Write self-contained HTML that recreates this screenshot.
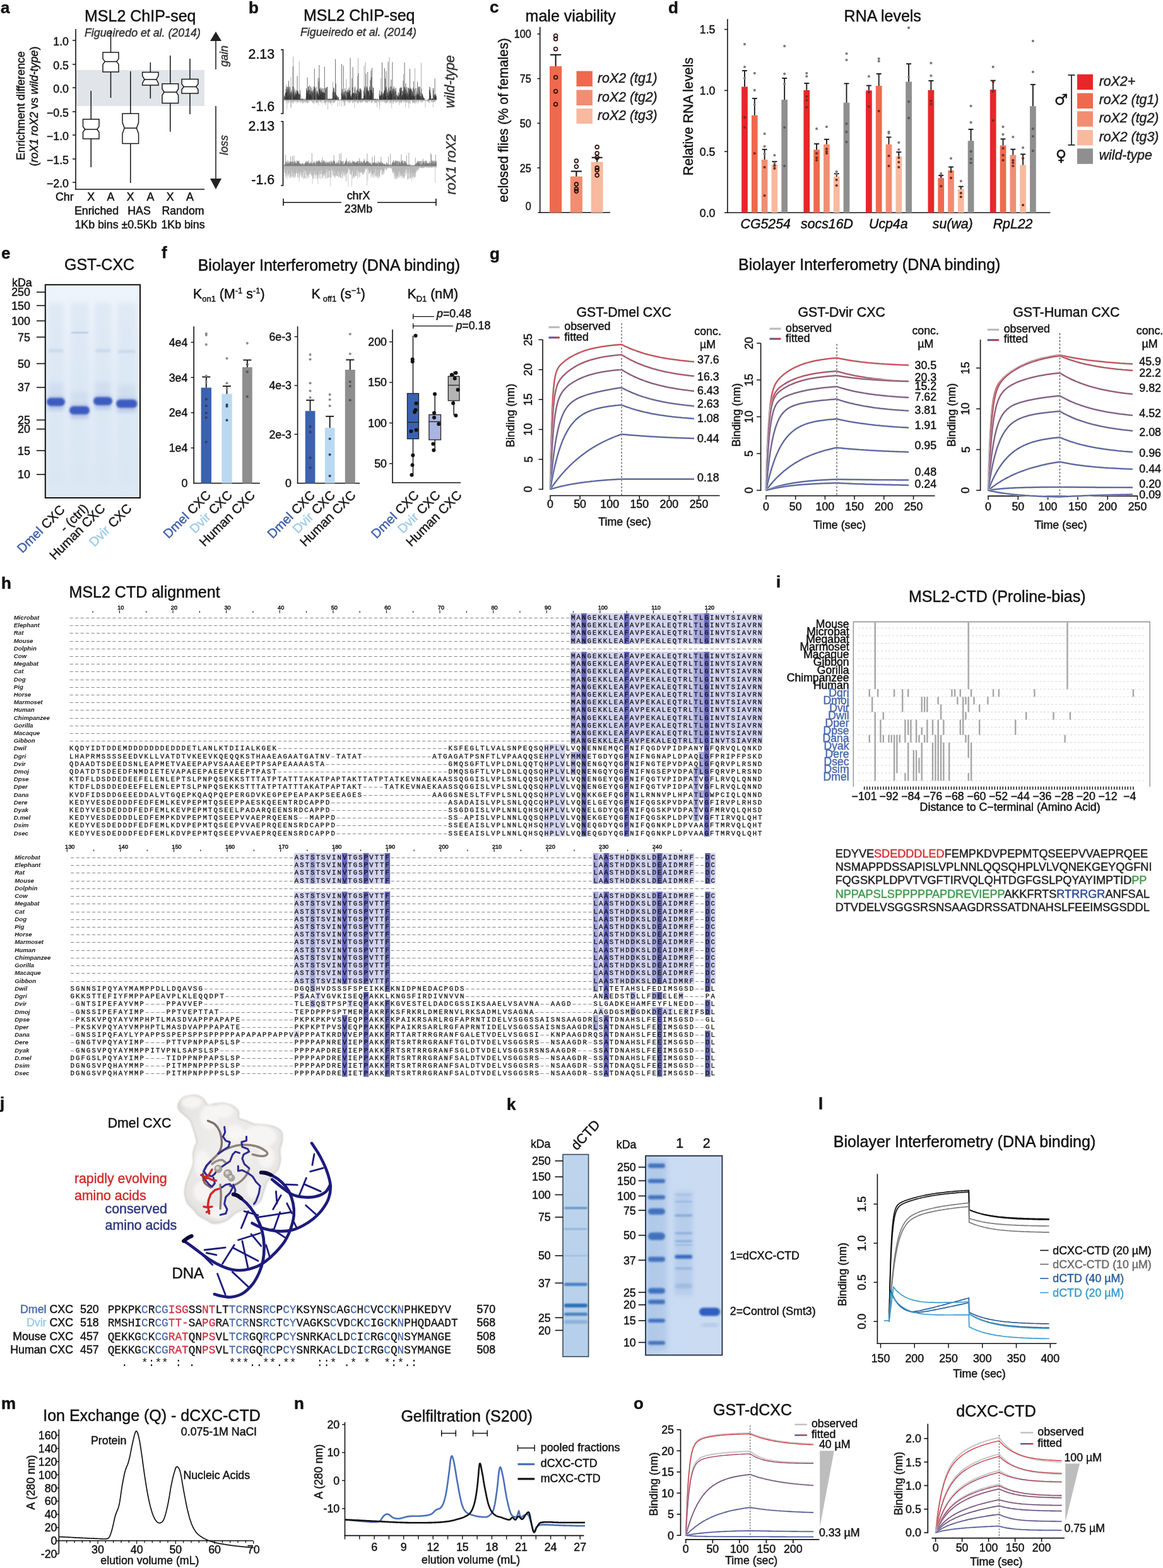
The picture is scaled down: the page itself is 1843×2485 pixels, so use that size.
<!DOCTYPE html>
<html><head><meta charset="utf-8"><title>MSL2 figure</title>
<style>html,body{margin:0;padding:0;background:#fff;}svg{display:block;}</style>
</head><body>
<svg width="1843" height="2485" viewBox="0 0 1843 2485" fill="#1a1a1a" font-family="'Liberation Sans', Arial, Helvetica, sans-serif">
<rect width="1843" height="2485" fill="#fff"/>
<text x="1" y="21" font-size="26" font-weight="bold" fill="#111" stroke="#111" stroke-width="0.45">a</text>
<text x="134" y="34" font-size="25" fill="#111" stroke="#111" stroke-width="0.45">MSL2 ChIP-seq</text>
<text x="134" y="58" font-size="17.8" font-style="italic" fill="#333" stroke="#333" stroke-width="0.45">Figueiredo et al. (2014)</text>
<rect x="121" y="111" width="203" height="57" fill="#e1e4e8" />
<line x1="120" y1="46" x2="120" y2="300.7" stroke="#111" stroke-width="1.6" />
<line x1="119.2" y1="300" x2="324" y2="300" stroke="#111" stroke-width="1.6" />
<line x1="115" y1="64" x2="120" y2="64" stroke="#111" stroke-width="1.5" />
<text x="109" y="71.6" font-size="17.8" text-anchor="end" fill="#111" stroke="#111" stroke-width="0.45">1.0</text>
<line x1="115" y1="102" x2="120" y2="102" stroke="#111" stroke-width="1.5" />
<text x="109" y="109.6" font-size="17.8" text-anchor="end" fill="#111" stroke="#111" stroke-width="0.45">0.5</text>
<line x1="115" y1="139" x2="120" y2="139" stroke="#111" stroke-width="1.5" />
<text x="109" y="146.6" font-size="17.8" text-anchor="end" fill="#111" stroke="#111" stroke-width="0.45">0.0</text>
<line x1="115" y1="177" x2="120" y2="177" stroke="#111" stroke-width="1.5" />
<text x="109" y="184.6" font-size="17.8" text-anchor="end" fill="#111" stroke="#111" stroke-width="0.45">−0.5</text>
<line x1="115" y1="214" x2="120" y2="214" stroke="#111" stroke-width="1.5" />
<text x="109" y="221.6" font-size="17.8" text-anchor="end" fill="#111" stroke="#111" stroke-width="0.45">−1.0</text>
<line x1="115" y1="252" x2="120" y2="252" stroke="#111" stroke-width="1.5" />
<text x="109" y="259.6" font-size="17.8" text-anchor="end" fill="#111" stroke="#111" stroke-width="0.45">−1.5</text>
<line x1="115" y1="289" x2="120" y2="289" stroke="#111" stroke-width="1.5" />
<text x="109" y="296.6" font-size="17.8" text-anchor="end" fill="#111" stroke="#111" stroke-width="0.45">−2.0</text>
<line x1="144.25" y1="144" x2="144.25" y2="189" stroke="#111" stroke-width="1.5" />
<line x1="144.25" y1="220" x2="144.25" y2="265" stroke="#111" stroke-width="1.5" />
<path d="M131.5,189 L157,189 L157,200.5 L153.8,205 L157,209.5 L157,220 L131.5,220 L131.5,209.5 L134.7,205 L131.5,200.5 Z" fill="#fff" stroke="#1a1a1a" stroke-width="1.5" />
<line x1="134.7" y1="205" x2="153.8" y2="205" stroke="#111" stroke-width="1.5" />
<line x1="175.5" y1="48" x2="175.5" y2="83" stroke="#111" stroke-width="1.5" />
<line x1="175.5" y1="114" x2="175.5" y2="155" stroke="#111" stroke-width="1.5" />
<path d="M163,83 L188,83 L188,93.1 L184.8,97.6 L188,102.1 L188,114 L163,114 L163,102.1 L166.2,97.6 L163,93.1 Z" fill="#fff" stroke="#1a1a1a" stroke-width="1.5" />
<line x1="166.2" y1="97.6" x2="184.8" y2="97.6" stroke="#111" stroke-width="1.5" />
<line x1="206.8" y1="113" x2="206.8" y2="180" stroke="#111" stroke-width="1.5" />
<line x1="206.8" y1="227.6" x2="206.8" y2="290" stroke="#111" stroke-width="1.5" />
<path d="M194,180 L219.6,180 L219.6,194 L216.4,203 L219.6,212 L219.6,227.6 L194,227.6 L194,212 L197.2,203 L194,194 Z" fill="#fff" stroke="#1a1a1a" stroke-width="1.5" />
<line x1="197.2" y1="203" x2="216.4" y2="203" stroke="#111" stroke-width="1.5" />
<line x1="238.35" y1="99" x2="238.35" y2="114.5" stroke="#111" stroke-width="1.5" />
<line x1="238.35" y1="135" x2="238.35" y2="156" stroke="#111" stroke-width="1.5" />
<path d="M225.7,114.5 L251,114.5 L251,120 L247.8,126 L251,132 L251,135 L225.7,135 L225.7,132 L228.9,126 L225.7,120 Z" fill="#fff" stroke="#1a1a1a" stroke-width="1.5" />
<line x1="228.9" y1="126" x2="247.8" y2="126" stroke="#111" stroke-width="1.5" />
<line x1="269.8" y1="88" x2="269.8" y2="132.7" stroke="#111" stroke-width="1.5" />
<line x1="269.8" y1="163.4" x2="269.8" y2="208.7" stroke="#111" stroke-width="1.5" />
<path d="M257,132.7 L282.6,132.7 L282.6,141 L279.4,146 L282.6,151 L282.6,163.4 L257,163.4 L257,151 L260.2,146 L257,141 Z" fill="#fff" stroke="#1a1a1a" stroke-width="1.5" />
<line x1="260.2" y1="146" x2="279.4" y2="146" stroke="#111" stroke-width="1.5" />
<line x1="301" y1="93" x2="301" y2="125.4" stroke="#111" stroke-width="1.5" />
<line x1="301" y1="148" x2="301" y2="181" stroke="#111" stroke-width="1.5" />
<path d="M288,125.4 L314,125.4 L314,133 L310.8,137.5 L314,142 L314,148 L288,148 L288,142 L291.2,137.5 L288,133 Z" fill="#fff" stroke="#1a1a1a" stroke-width="1.5" />
<line x1="291.2" y1="137.5" x2="310.8" y2="137.5" stroke="#111" stroke-width="1.5" />
<text x="88" y="318" font-size="17.8" fill="#111" stroke="#111" stroke-width="0.45">Chr</text>
<text x="144.25" y="318" font-size="17.8" text-anchor="middle" fill="#111" stroke="#111" stroke-width="0.45">X</text>
<text x="175.5" y="318" font-size="17.8" text-anchor="middle" fill="#111" stroke="#111" stroke-width="0.45">A</text>
<text x="206.8" y="318" font-size="17.8" text-anchor="middle" fill="#111" stroke="#111" stroke-width="0.45">X</text>
<text x="238.35" y="318" font-size="17.8" text-anchor="middle" fill="#111" stroke="#111" stroke-width="0.45">A</text>
<text x="269.8" y="318" font-size="17.8" text-anchor="middle" fill="#111" stroke="#111" stroke-width="0.45">X</text>
<text x="301" y="318" font-size="17.8" text-anchor="middle" fill="#111" stroke="#111" stroke-width="0.45">A</text>
<text x="153" y="340" font-size="17.8" text-anchor="middle" fill="#111" stroke="#111" stroke-width="0.45">Enriched</text>
<text x="220.5" y="340" font-size="17.8" text-anchor="middle" fill="#111" stroke="#111" stroke-width="0.45">HAS</text>
<text x="290" y="340" font-size="17.8" text-anchor="middle" fill="#111" stroke="#111" stroke-width="0.45">Random</text>
<text x="153" y="362" font-size="17.8" text-anchor="middle" fill="#111" stroke="#111" stroke-width="0.45">1Kb bins</text>
<text x="220.5" y="362" font-size="17.8" text-anchor="middle" fill="#111" stroke="#111" stroke-width="0.45">±0.5Kb</text>
<text x="290" y="362" font-size="17.8" text-anchor="middle" fill="#111" stroke="#111" stroke-width="0.45">1Kb bins</text>
<text x="38.5" y="167.5" font-size="17.8" text-anchor="middle" fill="#111" stroke="#111" stroke-width="0.45" transform="rotate(-90 38.5 167.5)">Enrichment difference</text>
<text x="60" y="168.5" font-size="17.8" text-anchor="middle" fill="#111" stroke="#111" stroke-width="0.45" transform="rotate(-90 60 168.5)">(<tspan font-style="italic">roX1 roX2</tspan> vs <tspan font-style="italic">wild-type</tspan>)</text>
<line x1="342" y1="63" x2="342" y2="110" stroke="#222" stroke-width="1.6" />
<path d="M342,50 L351,65 L333,65 Z" fill="#222" stroke="none" stroke-width="0" />
<line x1="342" y1="168" x2="342" y2="285" stroke="#222" stroke-width="1.6" />
<path d="M342,300 L351,283 L333,283 Z" fill="#222" stroke="none" stroke-width="0" />
<text x="361" y="89" font-size="17.8" text-anchor="middle" font-style="italic" fill="#333" stroke="#333" stroke-width="0.45" transform="rotate(-90 361 89)">gain</text>
<text x="361" y="230" font-size="17.8" text-anchor="middle" font-style="italic" fill="#333" stroke="#333" stroke-width="0.45" transform="rotate(-90 361 230)">loss</text>
<text x="394" y="20.6" font-size="26" font-weight="bold" fill="#111" stroke="#111" stroke-width="0.45">b</text>
<text x="481" y="32.7" font-size="25" fill="#111" stroke="#111" stroke-width="0.45">MSL2 ChIP-seq</text>
<text x="476" y="57" font-size="17.8" font-style="italic" fill="#333" stroke="#333" stroke-width="0.45">Figueiredo et al. (2014)</text>
<path d="M445,78.7 H448.5 V180 H445" fill="none" stroke="#111" stroke-width="1.6" />
<text x="435" y="93" font-size="21.3" text-anchor="end" fill="#111" stroke="#111" stroke-width="0.45">2.13</text>
<text x="435" y="176" font-size="21.3" text-anchor="end" fill="#111" stroke="#111" stroke-width="0.45">-1.6</text>
<path d="M445,192.5 H448.5 V294 H445" fill="none" stroke="#111" stroke-width="1.6" />
<text x="435" y="207" font-size="21.3" text-anchor="end" fill="#111" stroke="#111" stroke-width="0.45">2.13</text>
<text x="435" y="292" font-size="21.3" text-anchor="end" fill="#111" stroke="#111" stroke-width="0.45">-1.6</text>
<path d="M451.5,158.6v-5.6m0.4,5.6v-4.5m1.6,4.5v-24m1.6,24v-15.3m1.6,15.3v-20.9m1.6,20.9v-13.8m0.4,13.8v-21.6m1.6,21.6v-6.7m0.8,6.7v-36.5m1.2,36.5v-13.4m0.4,13.4v-10.1m0.4,10.1v-8.3m0.4,8.3v-11.7m1.2,11.7v-69m1.6,69v-15.4m2,15.4v-5.9m1.6,5.9v-10m2,10v-12.5m0.8,12.5v-7.7m1.2,7.7v-10.8m0.4,10.8v-61.2m1.2,61.2v-9.3m0.8,9.3v-1.9m1.6,1.9v-1.8m1.6,1.8v-1.8m0.4,1.8v-1.3m0.8,1.3v-0.8m0.8,0.8v-0.9m1.2,0.9v-1.7m0.4,1.7v-1.5m0.4,1.5v-1.2m0.4,1.2v-0.8m1.2,0.8v-6.3m3.2,6.3v-21.5m0.8,21.5v-21.7m2.8,21.7v-16.6m2,16.6v-14.9m0.8,14.9v-14.6m0.8,14.6v-20.2m0.8,20.2v-11.4m0.4,11.4v-15.2m1.2,15.2v-6.1m1.2,6.1v-7.6m1.2,7.6v-20.3m0.4,20.3v-10.4m0.4,10.4v-11.1m0.4,11.1v-21.3m2,21.3v-35m6.4,35v-19.3m3.2,19.3v-11.5m2,11.5v-19.2m0.4,19.2v-16.3m0.4,16.3v-17.4m0.8,17.4v-18.1m0.4,18.1v-19m0.4,19v-20.4m0.4,20.4v-20.4m0.4,20.4v-21.2m6,21.2v-1.6m0.4,1.6v-1.2m2,1.2v-2m0.8,2v-29.1m0.4,29.1v-7.2m1.6,7.2v-13.1m0.4,13.1v-17.1m0.8,17.1v-6.1m2,6.1v-3.4m1.6,3.4v-2.8m0.4,2.8v-6.2m0.4,6.2v-2.1m1.2,2.1v-2.4m0.8,2.4v-0.3m2.4,0.3v-0.7m1.2,0.7v-0.9m1.2,0.9v-13.5m1.2,13.5v-10.1m0.8,10.1v-8.8m1.6,8.8v-12m0.8,12v-6.4m2,6.4v-14.1m0.4,14.1v-32.9m0.4,32.9v-11.3m0.8,11.3v-4.6m1.2,4.6v-17.2m2.4,17.2v-14.3m2.4,14.3v-9.2m3.6,9.2v-10.8m1.2,10.8v-10.9m0.4,10.9v-12.1m1.2,12.1v-17.7m0.4,17.7v-12.8m0.8,12.8v-21.4m2,21.4v-5.8m0.8,5.8v-38.2m0.4,38.2v-6.3m0.8,6.3v-66.3m4,66.3v-9.6m1.2,9.6v-12.1m0.8,12.1v-1.9m0.4,1.9v-0.9m3.2,0.9v-54.3m2,54.3v-60.4m0.4,60.4v-12.4m1.2,12.4v-7.8m0.8,7.8v-16.6m2,16.6v-15.7m2,15.7v-19.2m4.4,19.2v-11.4m0.8,11.4v-21.5m0.4,21.5v-5.7m3.2,5.7v-2.2m0.8,2.2v-2.6m1.6,2.6v-1.8m0.8,1.8v-2.3m6,2.3v-34.5m1.6,34.5v-9.1m0.8,9.1v-5.4m0.8,5.4v-7.6m1.2,7.6v-4.9m4.8,4.9v-17.2m0.4,17.2v-7m0.4,7v-13.9m1.2,13.9v-16.3m1.2,16.3v-13.3m1.2,13.3v-68m5.2,68v-17.6m0.4,17.6v-15.3m0.8,15.3v-17.4m1.2,17.4v-15.5m0.8,15.5v-5.8m2,5.8v-13.4m0.4,13.4v-18.8m0.4,18.8v-4.6m0.4,4.6v-8.3m1.2,8.3v-11m0.8,11v-3.7m2,3.7v-8.4m0.8,8.4v-16.8m0.8,16.8v-21m1.6,21v-19.3m1.2,19.3v-7.4m2.4,7.4v-41.1m5.2,41.1v-14.5m1.6,14.5v-15.5m1.2,15.5v-8.2m2.4,8.2v-16.8m2.8,16.8v-15.6m1.6,15.6v-12m2.8,12v-14.6m0.4,14.6v-50.6m0.8,50.6v-9.8m0.4,9.8v-19.2m0.4,19.2v-8.4m0.4,8.4v-19m1.2,19v-14.5m1.2,14.5v-18.6m2.8,18.6v-20.7m1.2,20.7v-6.2m0.8,6.2v-12m0.8,12v-58.9m0.8,58.9v-5.7m0.8,5.7v-8.2m2.8,8.2v-3.5m0.4,3.5v-3m4.8,3v-0.4m0.8,0.4v-0.5m0.4,0.5v-1m2,1v-21.7m2.8,21.7v-2m2,2v-2.6m2,2.6v-18.8m0.4,18.8v-6.3m0.4,6.3v-7.6m3.2,7.6v-5.4" fill="none" stroke="#777" stroke-width="0.6" />
<path d="M450.3,158.6v-6.1m0.4,6.1v-5.5m0.4,5.5v-9.1m1.2,9.1v-11.9m0.4,11.9v-11m0.4,11v-17.6m0.8,17.6v-12.5m0.4,12.5v-20.4m0.4,20.4v-13.4m0.8,13.4v-21.4m0.4,21.4v-16.8m0.4,16.8v-7m0.8,7v-20.1m0.4,20.1v-30.7m0.4,30.7v-16m1.2,16v-10.4m0.4,10.4v-20.3m0.4,20.3v-8.6m0.8,8.6v-13m0.8,13v-12.1m0.4,12.1v-16.2m2,16.2v-21.2m0.4,21.2v-53.4m0.8,53.4v-21.2m0.4,21.2v-12.9m0.4,12.9v-8.4m0.8,8.4v-5.8m0.4,5.8v-18m0.4,18v-8.4m0.4,8.4v-11.1m0.8,11.1v-14.3m0.4,14.3v-11.2m0.4,11.2v-8.8m0.8,8.8v-16.2m0.4,16.2v-14.9m0.4,14.9v-38.2m0.4,38.2v-13.9m0.8,13.9v-14m0.8,14v-10.7m0.4,10.7v-9.5m1.2,9.5v-8.4m0.4,8.4v-9.4m0.8,9.4v-15.8m0.8,15.8v-1.9m0.4,1.9v-1.4m0.4,1.4v-0.9m0.8,0.9v-2.6m0.4,2.6v-0.9m0.4,0.9v-2.3m1.2,2.3v-2.2m0.8,2.2v-0.8m0.8,0.8v-2m0.4,2v-0.8m2,0.8v-0.8m0.4,0.8v-2.4m0.8,2.4v-18.7m0.4,18.7v-11m0.4,11v-16.2m0.4,16.2v-14.4m0.4,14.4v-36m0.4,36v-10.8m0.4,10.8v-14.2m0.8,14.2v-20.6m0.8,20.6v-16.1m0.4,16.1v-8.1m0.4,8.1v-23.2m0.4,23.2v-15.9m0.4,15.9v-8.5m0.4,8.5v-10.3m0.8,10.3v-21.8m0.4,21.8v-13.6m0.4,13.6v-19.4m0.4,19.4v-7.6m0.8,7.6v-12.3m0.8,12.3v-14.8m0.8,14.8v-11.7m1.2,11.7v-16.9m0.4,16.9v-21.4m0.8,21.4v-49.8m0.4,49.8v-21m0.8,21v-18.4m0.4,18.4v-13.9m2,13.9v-9.4m0.4,9.4v-14.8m0.4,14.8v-12.4m0.4,12.4v-13.3m0.8,13.3v-10.8m0.4,10.8v-7.1m0.4,7.1v-8.9m0.4,8.9v-29.7m0.4,29.7v-35.2m0.4,35.2v-55.7m0.4,55.7v-6.2m0.4,6.2v-16.7m0.4,16.7v-18.7m0.4,18.7v-16.7m0.4,16.7v-20.2m0.4,20.2v-9.2m0.4,9.2v-13.3m0.4,13.3v-14.5m0.4,14.5v-16.7m0.8,16.7v-11.9m0.4,11.9v-18.6m0.4,18.6v-11.8m0.4,11.8v-12.5m0.4,12.5v-6.3m0.4,6.3v-13.9m0.4,13.9v-18.7m0.8,18.7v-11.3m0.4,11.3v-11.8m0.4,11.8v-53m0.4,53v-11.2m1.6,11.2v-19.3m2.4,19.3v-20.8m0.4,20.8v-1.2m0.4,1.2v-1.9m0.4,1.9v-1.2m0.4,1.2v-1.7m0.4,1.7v-1.4m0.4,1.4v-2.3m0.4,2.3v-1.2m0.4,1.2v-1.2m0.4,1.2v-2.4m0.4,2.4v-0.8m0.4,0.8v-1.8m0.4,1.8v-1.2m0.4,1.2v-2.1m1.2,2.1v-1.9m0.4,1.9v-1.7m0.4,1.7v-2.5m0.4,2.5v-2.2m0.8,2.2v-12.5m1.2,12.5v-15.3m0.4,15.3v-19.9m0.4,19.9v-19.2m1.2,19.2v-12m0.8,12v-12.6m0.4,12.6v-64.9m0.4,64.9v-8.6m0.4,8.6v-26.4m0.8,26.4v-6.5m0.4,6.5v-8m0.4,8v-7.1m1.6,7.1v-5m0.4,5v-5.2m0.8,5.2v-4.1m0.8,4.1v-0.2m0.4,0.2v-0.4m0.4,0.4v-0.7m0.4,0.7v-0.6m0.4,0.6v-0.5m0.8,0.5v-0.7m0.4,0.7v-1.1m0.8,1.1v-10.4m0.4,10.4v-57.1m0.8,57.1v-12.7m0.4,12.7v-17.7m0.8,17.7v-6.2m0.8,6.2v-54.6m0.4,54.6v-10.7m0.4,10.7v-13.6m0.8,13.6v-8.5m0.8,8.5v-18.5m0.4,18.5v-6.7m0.4,6.7v-14.6m0.4,14.6v-4.2m1.6,4.2v-13.3m0.8,13.3v-12.8m0.4,12.8v-16.2m0.8,16.2v-11.7m0.4,11.7v-7.8m0.4,7.8v-13.1m0.4,13.1v-16.1m0.4,16.1v-20m0.8,20v-13.9m0.4,13.9v-9.8m0.4,9.8v-15.8m0.4,15.8v-67m0.4,67v-6.1m0.8,6.1v-6.4m0.4,6.4v-3.8m0.4,3.8v-3m0.4,3v-8.6m0.4,8.6v-34.4m0.4,34.4v-11.3m0.4,11.3v-20.1m0.4,20.1v-52.2m0.8,52.2v-10.5m0.4,10.5v-11.5m1.2,11.5v-9.7m0.4,9.7v-20.5m1.2,20.5v-11.5m0.8,11.5v-6.7m0.4,6.7v-9.9m0.4,9.9v-10.7m0.4,10.7v-15.6m0.8,15.6v-15.7m1.2,15.7v-18.2m0.8,18.2v-42.4m0.4,42.4v-14.4m0.4,14.4v-8.1m0.4,8.1v-13m0.4,13v-11.7m0.4,11.7v-17.7m0.4,17.7v-13.6m0.4,13.6v-19m0.4,19v-15.3m0.8,15.3v-18m0.4,18v-16.4m0.8,16.4v-2.5m1.2,2.5v-2.1m0.4,2.1v-2.6m0.4,2.6v-2.6m0.4,2.6v-2.2m0.4,2.2v-1.1m0.4,1.1v-14.8m0.4,14.8v-6.7m0.8,6.7v-18.8m0.4,18.8v-21.8m0.4,21.8v-11.3m0.4,11.3v-6.8m1.2,6.8v-41.6m0.4,41.6v-19.3m0.8,19.3v-21.5m0.8,21.5v-14.2m0.4,14.2v-19.7m0.4,19.7v-44.6m0.4,44.6v-15m0.8,15v-13.4m0.4,13.4v-15.2m0.4,15.2v-12.4m0.4,12.4v-6.7m0.8,6.7v-21.8m0.4,21.8v-7.7m0.4,7.7v-31.8m0.4,31.8v-16.8m0.4,16.8v-15.6m0.4,15.6v-46.9m0.4,46.9v-36.3m0.4,36.3v-15m0.4,15v-15.6m0.4,15.6v-51.1m0.8,51.1v-11.6m1.2,11.6v-18.6m0.4,18.6v-19.7m0.4,19.7v-1.5m0.4,1.5v-1.4m0.4,1.4v-1.5m0.4,1.5v-1.3m0.4,1.3v-1.2m0.8,1.2v-2.2m0.8,2.2v-1.6m0.4,1.6v-0.8m0.4,0.8v-0.8m0.8,0.8v-1.1m0.8,1.1v-1.8m0.4,1.8v-0.8m0.4,0.8v-1.9m0.4,1.9v-1m0.4,1v-0.7m0.4,0.7v-0.5m0.4,0.5v-0.8m0.4,0.8v-0.6m0.4,0.6v-9.9m0.4,9.9v-15.4m0.4,15.4v-7m0.4,7v-5.8m0.4,5.8v-7.4m0.4,7.4v-7.2m0.8,7.2v-10.2m0.4,10.2v-8.1m0.4,8.1v-13.6m0.8,13.6v-59.6m0.8,59.6v-10.5m0.8,10.5v-7.7m0.4,7.7v-11.7m0.8,11.7v-10m0.4,10v-14.7m0.4,14.7v-15.1m0.4,15.1v-50.5m0.4,50.5v-11.5m0.4,11.5v-16.4m0.4,16.4v-34.2m0.4,34.2v-19.8m0.4,19.8v-6.1m0.4,6.1v-46m0.4,46v-20.8m1.6,20.8v-10.3m0.4,10.3v-11.5m0.8,11.5v-60.7m0.4,60.7v-7.2m0.8,7.2v-19.8m0.4,19.8v-11.3m0.8,11.3v-14.5m0.4,14.5v-8.4m0.4,8.4v-16.4m0.4,16.4v-21.9m0.4,21.9v-13.6m0.4,13.6v-14.2m0.4,14.2v-32.5m0.4,32.5v-21.4m0.4,21.4v-9.6m0.4,9.6v-10.4m0.4,10.4v-15.1m0.4,15.1v-60.3m1.2,60.3v-18.7m0.8,18.7v-12m0.4,12v-21.6m0.8,21.6v-17.6m0.8,17.6v-13.2m0.4,13.2v-6.3m0.4,6.3v-19.3m0.4,19.3v-15m2,15v-8.1m0.4,8.1v-6.9m0.8,6.9v-6.2m0.8,6.2v-5.8m0.4,5.8v-11.8m0.4,11.8v-5.8m0.4,5.8v-8.2m0.8,8.2v-18.6m0.8,18.6v-11.2m0.8,11.2v-19.3m0.4,19.3v-15.3m0.4,15.3v-19.4m0.8,19.4v-20.2m0.4,20.2v-6m0.8,6v-14.6m0.4,14.6v-8.1m0.4,8.1v-8.4m0.4,8.4v-14.1m0.4,14.1v-30.6m0.8,30.6v-15.7m0.4,15.7v-12m0.4,12v-20.4m0.4,20.4v-59.4m0.4,59.4v-21m0.4,21v-9.2m0.4,9.2v-17.9m0.4,17.9v-9.8m0.4,9.8v-26.4m0.4,26.4v-16m0.4,16v-5.8m0.4,5.8v-20.5m0.8,20.5v-9.7m0.4,9.7v-11.5m0.4,11.5v-6.1m0.8,6.1v-19.7m0.4,19.7v-19.6m0.8,19.6v-9.1m0.4,9.1v-18.4m0.4,18.4v-13.5m0.4,13.5v-17.4m0.4,17.4v-49.6m0.8,49.6v-19.7m0.4,19.7v-16.7m0.4,16.7v-10.3m0.4,10.3v-17.3m0.4,17.3v-18m0.4,18v-6.7m0.8,6.7v-15m0.4,15v-12.7m0.4,12.7v-7.6m0.8,7.6v-19.6m0.4,19.6v-8.9m0.4,8.9v-29.8m0.4,29.8v-6.7m0.4,6.7v-5.9m0.4,5.9v-17.6m1.2,17.6v-6.3m2,6.3v-9.1m0.4,9.1v-7.1m0.8,7.1v-11.5m0.4,11.5v-29m0.8,29v-9.2m0.4,9.2v-8.6m0.4,8.6v-20.1m0.4,20.1v-21.7m0.4,21.7v-10.6m0.4,10.6v-5.8m0.8,5.8v-14.7m0.4,14.7v-21.2m0.8,21.2v-6.7m0.8,6.7v-5.3m0.8,5.3v-17.8m0.8,17.8v-10.7m0.8,10.7v-9.5m0.4,9.5v-7.9m0.4,7.9v-6.2m0.4,6.2v-2.6m0.4,2.6v-2.6m0.4,2.6v-4.2m1.2,4.2v-2.9m0.4,2.9v-0.2m0.4,0.2v-0.4m0.4,0.4v-0.5m0.4,0.5v-0.3m0.4,0.3v-0.2m0.4,0.2v-0.3m0.4,0.3v-0.2m0.4,0.2v-0.5m0.4,0.5v-0.3m0.4,0.3v-0.5m0.8,0.5v-0.5m1.2,0.5v-1.3m0.4,1.3v-0.6m0.4,0.6v-2m0.4,2v-1.5m0.8,1.5v-15.8m0.4,15.8v-16.7m0.4,16.7v-20.4m0.4,20.4v-6.2m0.4,6.2v-11.8m0.4,11.8v-8.1m0.8,8.1v-0.9m0.4,0.9v-1.6m0.4,1.6v-2.5m0.4,2.5v-2.6m0.8,2.6v-2.3m0.4,2.3v-1.8m0.4,1.8v-19.1m0.4,19.1v-15.5m1.6,15.5v-8.3m0.4,8.3v-8.7m0.4,8.7v-34m0.4,34v-6.3m0.4,6.3v-9.5m0.4,9.5v-5.8m0.4,5.8v-9.5m0.8,9.5v-6" fill="none" stroke="#111" stroke-width="0.6" />
<path d="M450.3,158.6v2.4m0.4,-2.4v0.2m0.4,-0.2v0.7m0.4,-0.7v0.8m0.4,-0.8v0.4m0.4,-0.4v0.4m0.4,-0.4v0.4m0.4,-0.4v0.4m0.4,-0.4v4.9m0.4,-4.9v0.9m0.4,-0.9v1.6m0.4,-1.6v14.9m0.4,-14.9v1.8m0.4,-1.8v0.4m0.4,-0.4v1.5m0.4,-1.5v5.5m0.4,-5.5v1.7m0.4,-1.7v1.9m0.4,-1.9v0.4m0.4,-0.4v4.4m0.4,-4.4v0.1m0.4,-0.1v1.8m0.4,-1.8v0.2m0.4,-0.2v1.5m0.4,-1.5v0.3m0.4,-0.3v4.5m0.4,-4.5v12.5m0.4,-12.5v0.8m0.4,-0.8v11.7m0.4,-11.7v1.2m0.4,-1.2v2.3m0.4,-2.3v0.3m0.4,-0.3v4.9m0.4,-4.9v4.1m0.4,-4.1v1m0.4,-1v4m0.4,-4v1.4m0.4,-1.4v1.3m0.4,-1.3v5.4m0.4,-5.4v0.2m0.4,-0.2v0.7m0.4,-0.7v2.5m0.4,-2.5v1.5m0.4,-1.5v1.2m0.4,-1.2v3.6m0.4,-3.6v0.2m0.4,-0.2v0.6m0.4,-0.6v2.5m0.4,-2.5v1.1m0.8,-1.1v4.8m0.4,-4.8v1.5m0.4,-1.5v2m0.4,-2v3.5m0.4,-3.5v0.6m0.4,-0.6v1m0.4,-1v3.9m0.4,-3.9v0.2m0.4,-0.2v0.1m0.4,-0.1v3m0.4,-3v2.8m0.4,-2.8v1.2m0.4,-1.2v0.3m0.4,-0.3v1.2m0.4,-1.2v0.7m0.4,-0.7v5.4m0.4,-5.4v2.9m0.4,-2.9v0.4m0.4,-0.4v2.8m0.4,-2.8v1.2m0.4,-1.2v0.6m0.4,-0.6v2.8m0.4,-2.8v3.2m0.4,-3.2v5.6m0.4,-5.6v1m0.4,-1v5.1m0.4,-5.1v0.7m0.4,-0.7v4.7m0.4,-4.7v1.1m0.4,-1.1v1.1m0.4,-1.1v3.3m0.4,-3.3v2m0.4,-2v1.2m0.4,-1.2v0.3m0.4,-0.3v4.6m0.4,-4.6v2.5m0.4,-2.5v2.9m0.4,-2.9v4.1m0.4,-4.1v1.7m0.4,-1.7v1.3m0.4,-1.3v1.7m0.4,-1.7v4.7m0.4,-4.7v3.2m0.4,-3.2v2m0.4,-2v5.1m0.4,-5.1v1.5m0.4,-1.5v4.5m0.4,-4.5v1.2m0.4,-1.2v0.8m0.4,-0.8v0.9m0.4,-0.9v3.1m0.4,-3.1v0.4m0.4,-0.4v0.1m0.4,-0.1v1m0.4,-1v1.6m0.4,-1.6v0.3m0.4,-0.3v1.5m0.4,-1.5v1.1m0.4,-1.1v1.5m0.4,-1.5v2.9m0.4,-2.9v1.7m0.4,-1.7v0.3m0.4,-0.3v0.7m0.4,-0.7v4.7m0.4,-4.7v2.7m0.4,-2.7v0.1m0.4,-0.1v5.6m0.4,-5.6v4.4m0.4,-4.4v0.5m0.4,-0.5v0.8m0.4,-0.8v5.6m0.4,-5.6v0.6m0.4,-0.6v1.6m0.4,-1.6v0.5m0.4,-0.5v0.2m0.4,-0.2v2.9m0.4,-2.9v5m0.8,-5v3m0.4,-3v4m0.4,-4v5.4m0.4,-5.4v3.9m0.4,-3.9v3.4m0.4,-3.4v1.2m0.4,-1.2v1.8m0.4,-1.8v3.9m0.4,-3.9v8.1m0.4,-8.1v1.1m0.4,-1.1v0.8m0.4,-0.8v0.6m0.4,-0.6v0.7m0.4,-0.7v2.9m0.4,-2.9v1.4m0.4,-1.4v3m0.4,-3v3.1m0.4,-3.1v3.1m0.4,-3.1v0.6m0.4,-0.6v1.2m0.4,-1.2v5.1m0.4,-5.1v0.6m0.4,-0.6v0.2m0.8,-0.2v4.9m0.4,-4.9v0.7m0.8,-0.7v0.5m0.4,-0.5v0.4m0.4,-0.4v1.3m0.4,-1.3v1.7m0.4,-1.7v4.6m0.4,-4.6v5m0.4,-5v5.5m0.4,-5.5v4m0.4,-4v2.6m0.4,-2.6v2.5m0.4,-2.5v8.5m0.4,-8.5v4.5m0.4,-4.5v0.1m0.4,-0.1v2.2m0.4,-2.2v1.9m0.4,-1.9v3.3m0.4,-3.3v1.2m0.4,-1.2v0.2m0.4,-0.2v14.7m0.4,-14.7v1m0.4,-1v2.8m0.4,-2.8v4.6m0.4,-4.6v1m0.4,-1v1.6m0.4,-1.6v4.5m0.4,-4.5v3.1m0.4,-3.1v0.1m0.4,-0.1v3m0.4,-3v5.5m0.4,-5.5v3m0.4,-3v4.5m0.4,-4.5v4.6m0.4,-4.6v1.4m0.4,-1.4v1.5m0.4,-1.5v8.8m0.4,-8.8v0.8m0.4,-0.8v0.8m0.4,-0.8v0.2m0.4,-0.2v4.6m0.4,-4.6v0.2m0.4,-0.2v2.9m0.4,-2.9v4.4m0.4,-4.4v0.2m0.4,-0.2v4.5m0.4,-4.5v0.6m0.4,-0.6v2.3m0.4,-2.3v3.8m0.4,-3.8v1.2m0.4,-1.2v1.3m0.4,-1.3v0.7m0.4,-0.7v1.1m0.4,-1.1v0.5m0.4,-0.5v0.1m0.4,-0.1v0.5m0.4,-0.5v0.2m0.4,-0.2v0.3m0.4,-0.3v0.2m0.4,-0.2v10.2m0.4,-10.2v0.4m0.4,-0.4v0.2m0.8,-0.2v1.8m0.8,-1.8v0.4m0.4,-0.4v0.4m0.4,-0.4v8.7m0.4,-8.7v0.3m0.4,-0.3v0.6m0.4,-0.6v0.4m0.4,-0.4v0.7m0.4,-0.7v0.8m0.4,-0.8v0.8m0.4,-0.8v1.4m0.4,-1.4v10.4m0.4,-10.4v0.9m0.4,-0.9v0.9m0.4,-0.9v0.3m0.4,-0.3v2.1m0.4,-2.1v1.4m0.4,-1.4v1.1m0.4,-1.1v1.6m0.4,-1.6v4.5m0.4,-4.5v10.2m0.4,-10.2v1.3m0.4,-1.3v1.1m0.4,-1.1v8.4m0.4,-8.4v8.1m0.4,-8.1v2.4m0.4,-2.4v2.4m0.4,-2.4v0.8m0.4,-0.8v1m0.4,-1v1.4m0.4,-1.4v0.3m0.4,-0.3v1.2m0.4,-1.2v0.8m0.4,-0.8v4m0.4,-4v1.3m0.4,-1.3v0.8m0.4,-0.8v2m0.4,-2v1m0.4,-1v0.8m0.4,-0.8v4.8m0.4,-4.8v1.4m0.4,-1.4v4.1m0.4,-4.1v1.4m0.4,-1.4v4.8m0.4,-4.8v0.3m0.4,-0.3v2.7m0.4,-2.7v0.5m0.4,-0.5v2.7m0.4,-2.7v1.5m0.4,-1.5v0.4m0.4,-0.4v0.6m0.4,-0.6v1.2m0.4,-1.2v1.9m0.4,-1.9v0.3m0.4,-0.3v4.7m0.4,-4.7v4.8m0.4,-4.8v1.4m0.4,-1.4v0.3m0.4,-0.3v3.2m0.4,-3.2v2.2m0.4,-2.2v1.4m0.4,-1.4v0.2m0.4,-0.2v11.9m0.4,-11.9v3.3m0.4,-3.3v3.7m0.4,-3.7v0.7m0.4,-0.7v2.7m0.4,-2.7v0.9m0.4,-0.9v1.8m0.4,-1.8v2.4m0.4,-2.4v1m0.4,-1v0.7m0.4,-0.7v4.6m0.4,-4.6v2.5m0.4,-2.5v5.5m0.4,-5.5v3.3m0.4,-3.3v0.4m0.4,-0.4v5.2m0.4,-5.2v1.5m0.4,-1.5v3.4m0.4,-3.4v0.6m0.4,-0.6v1.6m0.4,-1.6v3.3m0.4,-3.3v2.6m0.4,-2.6v0.9m0.4,-0.9v2.7m0.4,-2.7v3.3m0.4,-3.3v5.3m0.4,-5.3v1.3m0.4,-1.3v3.8m0.4,-3.8v1.3m0.4,-1.3v4m0.4,-4v0.9m0.4,-0.9v2.4m0.4,-2.4v1.2m0.4,-1.2v3.3m0.4,-3.3v1.8m0.4,-1.8v0.8m0.4,-0.8v2m0.4,-2v0.9m0.4,-0.9v0.1m0.4,-0.1v0.6m0.4,-0.6v1.1m0.4,-1.1v2.3m0.8,-2.3v4.6m0.4,-4.6v1.2m0.4,-1.2v3.9m0.4,-3.9v3.6m0.4,-3.6v2.6m0.4,-2.6v0.8m0.4,-0.8v3.6m0.4,-3.6v4.1m0.4,-4.1v0.5m0.4,-0.5v5.1m0.4,-5.1v2.2m0.4,-2.2v0.5m0.4,-0.5v1.5m0.4,-1.5v0.9m0.4,-0.9v3.3m0.4,-3.3v1.6m0.4,-1.6v3m0.4,-3v0.7m0.4,-0.7v0.9m0.4,-0.9v1.6m0.4,-1.6v1.1m0.4,-1.1v1m0.4,-1v0.5m0.4,-0.5v3.9m0.4,-3.9v4.8m0.4,-4.8v2.7m0.4,-2.7v4.6m0.4,-4.6v1.7m0.4,-1.7v1.8m0.4,-1.8v0.2m0.4,-0.2v1.3m0.4,-1.3v2.1m0.4,-2.1v1.4m0.4,-1.4v0.6m0.4,-0.6v1m0.4,-1v1.1m0.4,-1.1v3.6m0.4,-3.6v0.2m0.4,-0.2v5.1m0.4,-5.1v4.2m0.4,-4.2v3.3m0.4,-3.3v1.3m0.4,-1.3v5m0.4,-5v0.3m0.4,-0.3v4.6m0.4,-4.6v1.5m0.4,-1.5v11.4m0.4,-11.4v1.2m0.4,-1.2v1.3m0.4,-1.3v0.2m0.4,-0.2v2.9m0.4,-2.9v1m0.4,-1v2.1m0.4,-2.1v4.1m0.4,-4.1v1.1m0.4,-1.1v0.3m0.4,-0.3v14.8m0.4,-14.8v9m0.4,-9v0.4m0.4,-0.4v0.7m0.4,-0.7v2m0.4,-2v0.9m0.4,-0.9v3.5m0.4,-3.5v1.1m0.4,-1.1v0.1m0.4,-0.1v0.3m0.4,-0.3v3.2m0.4,-3.2v0.7m0.4,-0.7v0.2m0.4,-0.2v0.7m0.4,-0.7v2.3m0.4,-2.3v3.3m0.4,-3.3v1.2m0.4,-1.2v1.2m0.4,-1.2v0.6m0.4,-0.6v0.6m0.4,-0.6v3.5m0.4,-3.5v4.3m0.4,-4.3v3.2m0.4,-3.2v0.9m0.4,-0.9v5.4m0.4,-5.4v0.7m0.4,-0.7v3.5m0.4,-3.5v5.4m0.4,-5.4v2.9m0.4,-2.9v4.2m0.4,-4.2v2.8m0.4,-2.8v1.2m0.4,-1.2v1.5m0.4,-1.5v4.9m0.4,-4.9v0.6m0.4,-0.6v1.1m0.4,-1.1v1.2m0.4,-1.2v2.2m0.4,-2.2v1.2m0.4,-1.2v5.4m0.4,-5.4v0.2m0.4,-0.2v0.4m0.4,-0.4v4.4m0.4,-4.4v1.9m0.4,-1.9v1.3m0.4,-1.3v4.8m0.4,-4.8v3.9m0.4,-3.9v1.5m0.4,-1.5v12.9m0.4,-12.9v1.5m0.4,-1.5v0.5m0.4,-0.5v0.8m0.4,-0.8v5.6m0.4,-5.6v2m0.4,-2v1m0.4,-1v5.5m0.4,-5.5v2.3m0.4,-2.3v1.5m0.4,-1.5v2.2m0.4,-2.2v3.5m0.4,-3.5v1.1m0.4,-1.1v0.2m0.4,-0.2v0.2m0.4,-0.2v1.6m0.4,-1.6v4.8m0.4,-4.8v3.6m0.4,-3.6v2.7m0.4,-2.7v0.4m0.4,-0.4v3.7m0.4,-3.7v3.4m0.4,-3.4v0.9m0.4,-0.9v0.2m0.4,-0.2v2.3m0.4,-2.3v1.8m0.4,-1.8v1m0.4,-1v3.2m0.4,-3.2v1.1m0.4,-1.1v0.5m0.4,-0.5v8.1m0.4,-8.1v0.4m0.4,-0.4v4.6m0.4,-4.6v4.5m0.4,-4.5v1.5m0.4,-1.5v2.6m0.4,-2.6v0.3m0.4,-0.3v3.5m0.4,-3.5v5.2m0.4,-5.2v3.6m0.4,-3.6v4.2m0.4,-4.2v1.7m0.4,-1.7v1.4m0.4,-1.4v1.1m0.4,-1.1v0.2m0.4,-0.2v2.3m0.4,-2.3v2m0.4,-2v0.3m0.4,-0.3v4.4m0.4,-4.4v1.1m0.4,-1.1v1.9m0.4,-1.9v0.7m0.4,-0.7v2.7m0.4,-2.7v1.6m0.4,-1.6v1.7m0.4,-1.7v11.5m0.4,-11.5v3.9m0.4,-3.9v4m0.4,-4v1m0.4,-1v2.3m0.4,-2.3v3.7m0.4,-3.7v0.4m0.4,-0.4v2.8m0.4,-2.8v0.9m0.4,-0.9v0.4m0.4,-0.4v5.3m0.4,-5.3v1.6m0.4,-1.6v0.8m0.4,-0.8v12.8m0.4,-12.8v5.1m0.4,-5.1v2.4m0.4,-2.4v5.1m0.4,-5.1v0.6m0.4,-0.6v0.5m0.4,-0.5v5.3m0.4,-5.3v0.2m0.4,-0.2v0.3m0.4,-0.3v0.5m0.4,-0.5v1.2m0.4,-1.2v0.3m0.4,-0.3v0.9m0.4,-0.9v0.4m0.4,-0.4v3.2m0.4,-3.2v4.2m0.4,-4.2v5.6m0.4,-5.6v3.7m0.4,-3.7v1.6m0.4,-1.6v2.4m0.4,-2.4v3.9m0.4,-3.9v1.8m0.4,-1.8v5.2m0.4,-5.2v5.2m0.4,-5.2v1.6m0.4,-1.6v0.2m0.4,-0.2v3.9m0.4,-3.9v0.2m0.4,-0.2v5.5m0.4,-5.5v1m0.4,-1v1.3m0.4,-1.3v1m0.4,-1v4m0.4,-4v1.1m0.4,-1.1v0.6m0.4,-0.6v1.7m0.4,-1.7v0.6m0.4,-0.6v5.4m0.4,-5.4v4m0.4,-4v0.5m0.4,-0.5v1.4m0.4,-1.4v1.3m0.4,-1.3v0.6m0.4,-0.6v0.9m0.4,-0.9v0.2m0.4,-0.2v1.5m0.4,-1.5v1.2m0.4,-1.2v2.4m0.4,-2.4v4.4m0.4,-4.4v0.4m0.4,-0.4v1.2m0.4,-1.2v1.5m0.4,-1.5v3.4m0.4,-3.4v3.5m0.4,-3.5v0.6m0.4,-0.6v1.2m0.4,-1.2v2.5m0.4,-2.5v0.6m0.4,-0.6v1.4m0.4,-1.4v0.4m0.4,-0.4v0.9m0.4,-0.9v1.7m0.8,-1.7v0.3m0.4,-0.3v0.3m0.4,-0.3v11.8m0.4,-11.8v0.1m0.4,-0.1v1.2m0.4,-1.2v1.6m0.4,-1.6v0.4m0.4,-0.4v0.6m0.4,-0.6v1m0.8,-1v0.7m0.4,-0.7v1.9m0.4,-1.9v2.7m0.4,-2.7v2.2m0.4,-2.2v2.5m0.4,-2.5v0.7m0.4,-0.7v4.5m0.4,-4.5v3.2m0.4,-3.2v0.8m0.4,-0.8v4.9m0.4,-4.9v0.9m0.4,-0.9v0.3m0.4,-0.3v1.3m0.4,-1.3v0.4m0.4,-0.4v0.5m0.4,-0.5v0.2m0.4,-0.2v3.6m0.4,-3.6v3.1m0.4,-3.1v0.6m0.4,-0.6v0.6m0.4,-0.6v3.6m0.4,-3.6v1m0.4,-1v2.1m0.4,-2.1v11.3m0.4,-11.3v2.5m0.4,-2.5v1.5m0.4,-1.5v3m0.4,-3v4.2m0.4,-4.2v0.3m0.4,-0.3v2.3m0.4,-2.3v2.7m0.4,-2.7v0.2m0.4,-0.2v0.6m0.4,-0.6v2.3m0.4,-2.3v0.5m0.4,-0.5v0.5m0.4,-0.5v0.7" fill="none" stroke="#9a9a9a" stroke-width="0.6" />
<line x1="450" y1="158.6" x2="692" y2="158.6" stroke="#aaa" stroke-width="1" />
<path d="" fill="none" stroke="#888" stroke-width="0.6" />
<path d="M450.3,263.4v-1m0.4,1v-2m0.4,2v-3.2m0.4,3.2v-2.5m0.4,2.5v-6.9m0.4,6.9v-2.3m0.4,2.3v-17.9m0.4,17.9v-5.5m0.4,5.5v-3.8m0.4,3.8v-7.9m0.4,7.9v-3.5m0.4,3.5v-6.9m0.4,6.9v-2.4m0.4,2.4v-4.9m0.4,4.9v-9.3m0.4,9.3v-3.5m0.4,3.5v-5.7m0.4,5.7v-7.5m0.4,7.5v-3.7m0.4,3.7v-4.8m0.4,4.8v-2.8m0.4,2.8v-8.4m0.4,8.4v-4.8m0.4,4.8v-5.3m0.4,5.3v-6.7m0.4,6.7v-6.5m0.4,6.5v-15.6m0.4,15.6v-6.7m0.4,6.7v-7.3m0.4,7.3v-2.5m0.4,2.5v-7.4m0.4,7.4v-2.8m0.4,2.8v-6m0.4,6v-15.8m0.4,15.8v-7.5m0.4,7.5v-3.7m0.4,3.7v-7.5m0.4,7.5v-4.8m0.4,4.8v-2.7m0.4,2.7v-16.7m0.4,16.7v-5.8m0.4,5.8v-4.1m0.4,4.1v-8.7m0.4,8.7v-6.6m0.4,6.6v-8.1m0.4,8.1v-5.8m0.4,5.8v-4.1m0.4,4.1v-3.8m0.4,3.8v-4.6m0.4,4.6v-5.2m0.4,5.2v-8.5m0.4,8.5v-8.8m0.4,8.8v-3.2m0.4,3.2v-7.8m0.4,7.8v-4.8m0.4,4.8v-8.8m0.4,8.8v-7.4m0.4,7.4v-7.5m0.4,7.5v-6.8m0.4,6.8v-9m0.4,9v-3.1m0.4,3.1v-4.4m0.4,4.4v-5m0.4,5v-4.7m0.4,4.7v-4.1m0.4,4.1v-3.1m0.4,3.1v-3.8m0.4,3.8v-3.4m0.4,3.4v-2m0.4,2v-1.8m0.4,1.8v-4.6m0.4,4.6v-2.6m0.4,2.6v-4.2m0.4,4.2v-4.4m0.4,4.4v-2.2m0.4,2.2v-4.2m0.4,4.2v-4m0.4,4v-0.8m0.4,0.8v-1.5m0.4,1.5v-3.8m0.4,3.8v-3.5m0.4,3.5v-1.6m0.4,1.6v-4.9m0.4,4.9v-5.3m0.4,5.3v-3.3m0.4,3.3v-6.5m0.4,6.5v-5.6m0.4,5.6v-8m0.4,8v-4m0.4,4v-7.8m0.4,7.8v-3.9m0.4,3.9v-7.1m0.4,7.1v-5.9m0.4,5.9v-6.6m0.4,6.6v-5.3m0.4,5.3v-8.1m0.4,8.1v-2.5m0.4,2.5v-9m0.4,9v-3.9m0.4,3.9v-3.8m0.4,3.8v-4.9m0.4,4.9v-2.6m0.4,2.6v-3.3m0.4,3.3v-5.7m0.4,5.7v-7m0.4,7v-4.3m0.4,4.3v-5.3m0.4,5.3v-4.1m0.4,4.1v-3.4m0.4,3.4v-6.9m0.4,6.9v-20.4m0.4,20.4v-4.1m0.4,4.1v-5.1m0.4,5.1v-2.7m0.4,2.7v-2.2m0.4,2.2v-5.5m0.4,5.5v-4m0.4,4v-7.1m0.4,7.1v-5.7m0.4,5.7v-6.6m0.4,6.6v-4.8m0.4,4.8v-4.4m0.4,4.4v-7.6m0.4,7.6v-2m0.4,2v-2.4m0.4,2.4v-6.1m0.4,6.1v-1.9m0.4,1.9v-4.2m0.4,4.2v-8.9m0.4,8.9v-6.8m0.4,6.8v-6.8m0.4,6.8v-4.3m0.4,4.3v-7.7m0.4,7.7v-7.9m0.4,7.9v-1.9m0.4,1.9v-9.3m0.4,9.3v-5.8m0.4,5.8v-7.7m0.4,7.7v-9.1m0.4,9.1v-8.6m0.4,8.6v-8.5m0.4,8.5v-6.3m0.4,6.3v-1.7m0.4,1.7v-6.7m0.4,6.7v-4.8m0.4,4.8v-5.2m0.4,5.2v-5.7m0.4,5.7v-7.8m0.4,7.8v-2.7m0.4,2.7v-9.2m0.4,9.2v-5.1m0.4,5.1v-3.4m0.4,3.4v-13.6m0.4,13.6v-5.9m0.4,5.9v-7.1m0.4,7.1v-6.8m0.4,6.8v-9m0.4,9v-8.6m0.4,8.6v-2.6m0.4,2.6v-8.9m0.4,8.9v-7.3m0.4,7.3v-4.2m0.4,4.2v-4.7m0.4,4.7v-4.7m0.4,4.7v-6.6m0.4,6.6v-6.8m0.4,6.8v-2.6m0.4,2.6v-7.3m0.4,7.3v-2.3m0.4,2.3v-5.1m0.4,5.1v-5.5m0.4,5.5v-5.4m0.4,5.4v-6.6m0.4,6.6v-3m0.4,3v-7.3m0.4,7.3v-6.1m0.4,6.1v-3.1m0.4,3.1v-3.4m0.4,3.4v-6.2m0.4,6.2v-5.3m0.4,5.3v-7.1m0.4,7.1v-7.8m0.4,7.8v-1.7m0.4,1.7v-3.1m0.4,3.1v-4m0.4,4v-9m0.4,9v-5.2m0.4,5.2v-5.4m0.4,5.4v-7.8m0.4,7.8v-3.3m0.4,3.3v-5.2m0.4,5.2v-7.7m0.4,7.7v-6.6m0.4,6.6v-2.9m0.4,2.9v-2.5m0.4,2.5v-9.2m0.4,9.2v-9m0.4,9v-17.7m0.4,17.7v-7.5m0.4,7.5v-6.9m0.4,6.9v-6.5m0.4,6.5v-8.6m0.4,8.6v-4m0.4,4v-2.4m0.4,2.4v-3.5m0.4,3.5v-5m0.4,5v-4.3m0.4,4.3v-3.1m0.4,3.1v-6.9m0.4,6.9v-3.4m0.4,3.4v-2.4m0.4,2.4v-6.8m0.4,6.8v-4.1m0.4,4.1v-4.8m0.4,4.8v-4.7m0.4,4.7v-5.9m0.4,5.9v-9m0.4,9v-2.9m0.4,2.9v-1.8m0.4,1.8v-19.5m0.4,19.5v-2.9m0.4,2.9v-3.5m0.4,3.5v-4.9m0.4,4.9v-9.2m0.4,9.2v-6.1m0.4,6.1v-21.1m0.4,21.1v-2.4m0.4,2.4v-6.6m0.4,6.6v-7.3m0.4,7.3v-8.5m0.4,8.5v-2.2m0.4,2.2v-7.3m0.4,7.3v-2m0.4,2v-4m0.4,4v-8.6m0.4,8.6v-5.5m0.4,5.5v-1.9m0.4,1.9v-2.1m0.4,2.1v-3.9m0.4,3.9v-3.1m0.4,3.1v-5.1m0.4,5.1v-4.2m0.4,4.2v-6.9m0.4,6.9v-6.7m0.4,6.7v-8.1m0.4,8.1v-9.2m0.4,9.2v-8.9m0.4,8.9v-12.5m0.4,12.5v-7.6m0.4,7.6v-1.8m0.4,1.8v-2.5m0.4,2.5v-4.8m0.4,4.8v-7.2m0.4,7.2v-3.5m0.4,3.5v-6.9m0.4,6.9v-6.2m0.4,6.2v-8.4m0.4,8.4v-3.6m0.4,3.6v-3.3m0.4,3.3v-6m0.4,6v-9.1m0.4,9.1v-2.4m0.4,2.4v-4.4m0.4,4.4v-5m0.4,5v-6.6m0.4,6.6v-5.2m0.4,5.2v-3.2m0.4,3.2v-3.2m0.4,3.2v-6.2m0.4,6.2v-2m0.4,2v-8.9m0.4,8.9v-1.9m0.4,1.9v-6.2m0.4,6.2v-7.4m0.4,7.4v-8m0.4,8v-5.8m0.4,5.8v-7.6m0.4,7.6v-6.9m0.4,6.9v-6.7m0.4,6.7v-6.2m0.4,6.2v-4.2m0.4,4.2v-7.5m0.4,7.5v-4.9m0.4,4.9v-3.8m0.4,3.8v-6.2m0.4,6.2v-5.4m0.4,5.4v-5.2m0.4,5.2v-7.1m0.4,7.1v-6.6m0.4,6.6v-5.7m0.4,5.7v-7.4m0.4,7.4v-8.4m0.4,8.4v-8.3m0.4,8.3v-4.7m0.4,4.7v-2.7m0.4,2.7v-8m0.4,8v-3.1m0.4,3.1v-5m0.4,5v-12.5m0.4,12.5v-8.9m0.4,8.9v-5.5m0.4,5.5v-4.8m0.4,4.8v-8m0.4,8v-3m0.4,3v-5.9m0.4,5.9v-7.7m0.4,7.7v-4.7m0.4,4.7v-2.2m0.4,2.2v-7.1m0.4,7.1v-6.3m0.4,6.3v-5.4m0.4,5.4v-4.9m0.4,4.9v-3.7m0.4,3.7v-6.9m0.4,6.9v-1.7m0.4,1.7v-8.7m0.4,8.7v-8.4m0.4,8.4v-11.9m0.4,11.9v-9m0.4,9v-8.7m0.4,8.7v-4m0.4,4v-5.4m0.4,5.4v-6m0.4,6v-5m0.4,5v-5.7m0.4,5.7v-6.9m0.4,6.9v-8.2m0.4,8.2v-1.9m0.4,1.9v-8.5m0.4,8.5v-19.8m0.4,19.8v-7.7m0.4,7.7v-7.7m0.4,7.7v-3.4m0.4,3.4v-6.7m0.4,6.7v-7m0.4,7v-3.9m0.4,3.9v-7.1m0.4,7.1v-3.6m0.4,3.6v-4.2m0.4,4.2v-5.5m0.4,5.5v-5.6m0.4,5.6v-5.2m0.4,5.2v-2.2m0.4,2.2v-3.8m0.4,3.8v-5m0.4,5v-1.7m0.4,1.7v-3.1m0.4,3.1v-1.9m0.4,1.9v-3.8m0.4,3.8v-15.1m0.4,15.1v-5.5m0.4,5.5v-1.9m0.4,1.9v-5.2m0.4,5.2v-5.5m0.4,5.5v-5.2m0.4,5.2v-6.1m0.4,6.1v-3.2m0.4,3.2v-6.9m0.4,6.9v-16.6m0.4,16.6v-6.2m0.4,6.2v-6.2m0.4,6.2v-5.3m0.4,5.3v-3m0.4,3v-4.3m0.4,4.3v-2.4m0.4,2.4v-4.9m0.4,4.9v-3.4m0.4,3.4v-7.2m0.4,7.2v-3.8m0.4,3.8v-5.7m0.4,5.7v-4m0.4,4v-4.5m0.4,4.5v-1.6m0.4,1.6v-8m0.4,8v-2.5m0.4,2.5v-1.7m0.4,1.7v-6.2m0.4,6.2v-5.8m0.4,5.8v-6m0.4,6v-5.2m0.4,5.2v-4.5m0.4,4.5v-7.8m0.4,7.8v-3.1m0.4,3.1v-4.7m0.4,4.7v-15m0.4,15v-4m0.4,4v-7.1m0.4,7.1v-2m0.4,2v-4.3m0.4,4.3v-5.9m0.4,5.9v-5m0.4,5v-5.3m0.4,5.3v-3.8m0.4,3.8v-2.1m0.4,2.1v-2.7m0.4,2.7v-4.1m0.4,4.1v-2.8m0.4,2.8v-4.3m0.4,4.3v-2.8m0.4,2.8v-3.5m0.4,3.5v-2.4m0.4,2.4v-3.3m0.4,3.3v-2.1m0.4,2.1v-1.4m0.4,1.4v-1.6m0.4,1.6v-4.2m0.4,4.2v-5.9m0.4,5.9v-5.8m0.4,5.8v-1.7m0.4,1.7v-2.2m0.4,2.2v-4.1m0.4,4.1v-3.1m0.4,3.1v-2.8m0.4,2.8v-15m0.4,15v-1m0.4,1v-3m0.4,3v-1.2m0.4,1.2v-2.3m0.4,2.3v-2.3m0.4,2.3v-2.1m0.4,2.1v-0.5m0.4,0.5v-19.8m0.4,19.8v-2.6m0.4,2.6v-1.8m0.4,1.8v-2.8m0.4,2.8v-1.4m0.4,1.4v-1.4m0.4,1.4v-5.2m0.4,5.2v-4.1m0.4,4.1v-6.1m0.4,6.1v-4.8m0.4,4.8v-7.6m0.4,7.6v-9m0.4,9v-4m0.4,4v-5.9m0.4,5.9v-9.3m0.4,9.3v-5.9m0.4,5.9v-6.9m0.4,6.9v-2.2m0.4,2.2v-5.3m0.4,5.3v-7m0.4,7v-9.1m0.4,9.1v-8.6m0.4,8.6v-9m0.4,9v-3.3m0.4,3.3v-7m0.4,7v-1.8m0.4,1.8v-7.4m0.4,7.4v-9m0.4,9v-8.4m0.4,8.4v-2.9m0.4,2.9v-7.6m0.4,7.6v-2.5m0.4,2.5v-1.8m0.4,1.8v-8.6m0.4,8.6v-7.1m0.4,7.1v-6.1m0.4,6.1v-8.2m0.4,8.2v-5.8m0.4,5.8v-5m0.4,5v-5.8m0.4,5.8v-3.2m0.4,3.2v-3.1m0.4,3.1v-8m0.4,8v-18.7m0.4,18.7v-8.8m0.4,8.8v-6.6m0.4,6.6v-3.9m0.4,3.9v-8.9m0.4,8.9v-5.8m0.4,5.8v-6.3m0.4,6.3v-9.1m0.4,9.1v-3.7m0.4,3.7v-4.1m0.4,4.1v-3.3m0.4,3.3v-8.2m0.4,8.2v-5.7m0.4,5.7v-2m0.4,2v-8.5m0.4,8.5v-6.7m0.4,6.7v-7.9m0.4,7.9v-6.8m0.4,6.8v-5.3m0.4,5.3v-3m0.4,3v-4.7m0.4,4.7v-16.7m0.4,16.7v-4.9m0.4,4.9v-2.5m0.4,2.5v-2.2m0.4,2.2v-1.9m0.4,1.9v-2.2m0.4,2.2v-1.8m0.4,1.8v-1.3m0.4,1.3v-3.1m0.4,3.1v-21.3m0.4,21.3v-1.6m0.4,1.6v-2.2m0.4,2.2v-1.8m0.4,1.8v-2.7m0.4,2.7v-2.9m0.4,2.9v-0.8m0.4,0.8v-2m0.4,2v-1.1m0.4,1.1v-0.9m0.4,0.9v-0.7m0.4,0.7v-2m0.4,2v-1.5m0.4,1.5v-1.8m0.4,1.8v-0.8m0.4,0.8v-1.3m0.4,1.3v-1.4m0.4,1.4v-0.8m0.4,0.8v-0.7m0.4,0.7v-1.1m0.4,1.1v-1.1m0.4,1.1v-1.6m0.4,1.6v-1.6m0.4,1.6v-1.7m0.4,1.7v-1.8m0.4,1.8v-3.3m0.4,3.3v-13.3m0.4,13.3v-3.6m0.4,3.6v-2.4m0.4,2.4v-4.5m0.4,4.5v-2.9m0.4,2.9v-5.7m0.4,5.7v-6.1m0.4,6.1v-4.3m0.4,4.3v-6.2m0.4,6.2v-8.2m0.4,8.2v-8.2m0.4,8.2v-6m0.4,6v-4.3m0.4,4.3v-8.3m0.4,8.3v-4.1m0.4,4.1v-4.8m0.4,4.8v-7.9m0.4,7.9v-7.6m0.4,7.6v-2.6m0.4,2.6v-7.2m0.4,7.2v-8.5m0.4,8.5v-1.8m0.4,1.8v-3.5m0.4,3.5v-2.1m0.4,2.1v-7.9m0.4,7.9v-3.1m0.4,3.1v-8.7m0.4,8.7v-3.4m0.4,3.4v-4.6m0.4,4.6v-2.6m0.4,2.6v-11.8m0.4,11.8v-8.2m0.4,8.2v-7.1m0.4,7.1v-5.5m0.4,5.5v-6.1m0.4,6.1v-8.5m0.4,8.5v-1.8m0.4,1.8v-2.8m0.4,2.8v-4.2m0.4,4.2v-7.7m0.4,7.7v-7.1m0.4,7.1v-8.1m0.4,8.1v-9m0.4,9v-5.2m0.4,5.2v-4.1m0.4,4.1v-8.6m0.4,8.6v-4m0.4,4v-5.6m0.4,5.6v-4.8m0.4,4.8v-4.3m0.4,4.3v-3.9m0.4,3.9v-5.2m0.4,5.2v-4.3m0.4,4.3v-4.3m0.4,4.3v-3.7m0.4,3.7v-7.7m0.4,7.7v-5.2m0.4,5.2v-6.2m0.4,6.2v-2.8m0.4,2.8v-5.3m0.4,5.3v-2.2m0.4,2.2v-20.6m0.4,20.6v-5.5m0.4,5.5v-18.3m0.4,18.3v-4.4m0.4,4.4v-8.6m0.4,8.6v-8.8m0.4,8.8v-4.6m0.4,4.6v-8.9m0.4,8.9v-2.6m0.4,2.6v-5.3m0.4,5.3v-7.9m0.4,7.9v-6.8m0.4,6.8v-9.3m0.4,9.3v-4.9m0.4,4.9v-2.6m0.4,2.6v-8.2m0.4,8.2v-7m0.4,7v-4.3m0.4,4.3v-8.3m0.4,8.3v-18.6m0.4,18.6v-8.9m0.4,8.9v-5.3m0.4,5.3v-7.4" fill="none" stroke="#666" stroke-width="0.6" />
<path d="M450.3,263.4v10.8m0.4,-10.8v5.1m0.4,-5.1v5.1m0.4,-5.1v10.5m0.4,-10.5v5.9m0.4,-5.9v14.8m0.4,-14.8v17.1m0.4,-17.1v11.6m0.4,-11.6v12m0.4,-12v18.1m0.4,-18.1v8.2m0.4,-8.2v13.8m0.4,-13.8v20.9m0.4,-20.9v5.3m0.4,-5.3v6m0.4,-6v15.4m0.4,-15.4v13m0.4,-13v12.6m0.4,-12.6v11.7m0.4,-11.7v17.2m0.4,-17.2v4.3m0.4,-4.3v12.5m0.4,-12.5v19.8m0.4,-19.8v9.5m0.4,-9.5v18.4m0.4,-18.4v15.2m0.4,-15.2v15.7m0.4,-15.7v4m0.4,-4v18.5m0.4,-18.5v16.2m0.4,-16.2v6.8m0.4,-6.8v10.9m0.4,-10.9v7.2m0.4,-7.2v18.1m0.4,-18.1v15.3m0.4,-15.3v4.3m0.4,-4.3v16.6m0.4,-16.6v17.3m0.4,-17.3v10.3m0.4,-10.3v20.3m0.4,-20.3v11.4m0.4,-11.4v12.1m0.4,-12.1v17.9m0.4,-17.9v15m0.4,-15v14.6m0.4,-14.6v17.4m0.4,-17.4v11.6m0.4,-11.6v5.7m0.4,-5.7v9.2m0.4,-9.2v11.4m0.4,-11.4v11.4m0.4,-11.4v5.5m0.4,-5.5v10.2m0.4,-10.2v17.6m0.4,-17.6v9.7m0.4,-9.7v15.6m0.4,-15.6v18.7m0.4,-18.7v8.8m0.4,-8.8v10.6m0.4,-10.6v12m0.4,-12v24.6m0.4,-24.6v18.9m0.4,-18.9v7.8m0.4,-7.8v14.7m0.4,-14.7v5.4m0.4,-5.4v11m0.4,-11v7.8m0.4,-7.8v16.5m0.4,-16.5v10.8m0.4,-10.8v17.7m0.4,-17.7v10.3m0.4,-10.3v14.3m0.4,-14.3v13.9m0.4,-13.9v18.2m0.4,-18.2v4.6m0.4,-4.6v19.8m0.4,-19.8v9m0.4,-9v9.8m0.4,-9.8v5.4m0.4,-5.4v19.2m0.4,-19.2v6.2m0.4,-6.2v19.5m0.4,-19.5v18.8m0.4,-18.8v5.8m0.4,-5.8v7.5m0.4,-7.5v19.3m0.4,-19.3v6.6m0.4,-6.6v7.4m0.4,-7.4v11.1m0.4,-11.1v13.4m0.4,-13.4v20.7m0.4,-20.7v15.1m0.4,-15.1v7.1m0.4,-7.1v16.5m0.4,-16.5v17m0.4,-17v4.5m0.4,-4.5v13.1m0.4,-13.1v19.2m0.4,-19.2v17.9m0.4,-17.9v13.5m0.4,-13.5v11.6m0.4,-11.6v8.5m0.4,-8.5v13m0.4,-13v7.2m0.4,-7.2v11.5m0.4,-11.5v8.2m0.4,-8.2v11.8m0.4,-11.8v14.1m0.4,-14.1v15.1m0.4,-15.1v7.3m0.4,-7.3v7.2m0.4,-7.2v16.2m0.4,-16.2v27.5m0.4,-27.5v14.2m0.4,-14.2v19.4m0.4,-19.4v19.5m0.4,-19.5v19.6m0.4,-19.6v13.9m0.4,-13.9v7.4m0.4,-7.4v14.4m0.4,-14.4v10.5m0.4,-10.5v7.6m0.4,-7.6v20m0.4,-20v10.7m0.4,-10.7v12.7m0.4,-12.7v16.4m0.4,-16.4v6m0.4,-6v14.3m0.4,-14.3v13.3m0.4,-13.3v6.2m0.4,-6.2v19.9m0.4,-19.9v14.2m0.4,-14.2v20m0.4,-20v12.5m0.4,-12.5v28.7m0.4,-28.7v18.5m0.4,-18.5v11.2m0.4,-11.2v4.6m0.4,-4.6v15.3m0.4,-15.3v8m0.4,-8v19.3m0.4,-19.3v7.8m0.4,-7.8v12.4m0.4,-12.4v12.6m0.4,-12.6v6m0.4,-6v20.5m0.4,-20.5v11.3m0.4,-11.3v6.6m0.4,-6.6v4.2m0.4,-4.2v13.5m0.4,-13.5v11m0.4,-11v20.1m0.4,-20.1v18.2m0.4,-18.2v15.5m0.4,-15.5v18.3m0.4,-18.3v12.9m0.4,-12.9v11m0.4,-11v15m0.4,-15v14.5m0.4,-14.5v10.5m0.4,-10.5v10m0.4,-10v15.2m0.4,-15.2v20.7m0.4,-20.7v13.6m0.4,-13.6v19.1m0.4,-19.1v4.5m0.4,-4.5v10m0.4,-10v18.1m0.4,-18.1v10.7m0.4,-10.7v4.1m0.4,-4.1v4.7m0.4,-4.7v20.4m0.4,-20.4v7.6m0.4,-7.6v18m0.4,-18v8.6m0.4,-8.6v18.3m0.4,-18.3v17.7m0.4,-17.7v7.9m0.4,-7.9v6.6m0.4,-6.6v6.9m0.4,-6.9v18.2m0.4,-18.2v7.4m0.4,-7.4v17.1m0.4,-17.1v31.4m0.4,-31.4v11.9m0.4,-11.9v17.6m0.4,-17.6v4.9m0.4,-4.9v17.6m0.4,-17.6v4.3m0.4,-4.3v5.9m0.4,-5.9v4.5m0.4,-4.5v7.7m0.4,-7.7v14.8m0.4,-14.8v4.3m0.4,-4.3v12.4m0.4,-12.4v14.3m0.4,-14.3v7.2m0.4,-7.2v16.1m0.4,-16.1v16.4m0.4,-16.4v8.8m0.4,-8.8v5.8m0.4,-5.8v18.3m0.4,-18.3v18.8m0.4,-18.8v13.6m0.4,-13.6v5.3m0.4,-5.3v15m0.4,-15v15m0.4,-15v15m0.4,-15v11m0.4,-11v13m0.4,-13v16.1m0.4,-16.1v15.9m0.4,-15.9v7.9m0.4,-7.9v7.8m0.4,-7.8v16.6m0.4,-16.6v7.7m0.4,-7.7v18m0.4,-18v8.9m0.4,-8.9v15.6m0.4,-15.6v10.3m0.4,-10.3v8.4m0.4,-8.4v17.7m0.4,-17.7v18.2m0.4,-18.2v17.6m0.4,-17.6v13.6m0.4,-13.6v19m0.4,-19v12.4m0.4,-12.4v7.5m0.4,-7.5v11.2m0.4,-11.2v19.1m0.4,-19.1v6.2m0.4,-6.2v7.6m0.4,-7.6v19.2m0.4,-19.2v16.2m0.4,-16.2v13.6m0.4,-13.6v8.6m0.4,-8.6v10.6m0.4,-10.6v7.1m0.4,-7.1v14.8m0.4,-14.8v9.5m0.4,-9.5v16.7m0.4,-16.7v6.5m0.4,-6.5v12.7m0.4,-12.7v13.5m0.4,-13.5v24.8m0.4,-24.8v12.2m0.4,-12.2v10m0.4,-10v10.8m0.4,-10.8v23.3m0.4,-23.3v11.9m0.4,-11.9v8.8m0.4,-8.8v10.5m0.4,-10.5v2.3m0.4,-2.3v4m0.4,-4v32.4m0.4,-32.4v4.8m0.4,-4.8v3.5m0.4,-3.5v7.6m0.4,-7.6v3.5m0.4,-3.5v6.3m0.4,-6.3v3.5m0.4,-3.5v12.4m0.4,-12.4v12.5m0.4,-12.5v5m0.4,-5v13.6m0.4,-13.6v11.6m0.4,-11.6v14.7m0.4,-14.7v9.1m0.4,-9.1v31.9m0.4,-31.9v8.8m0.4,-8.8v7.3m0.4,-7.3v5.7m0.4,-5.7v20m0.4,-20v19.4m0.4,-19.4v16m0.4,-16v17m0.4,-17v16.1m0.4,-16.1v3.8m0.4,-3.8v11.2m0.4,-11.2v18.9m0.4,-18.9v17.2m0.4,-17.2v5.8m0.4,-5.8v15.6m0.4,-15.6v15.6m0.4,-15.6v15.1m0.4,-15.1v7.5m0.4,-7.5v13.3m0.4,-13.3v14.9m0.4,-14.9v4.2m0.4,-4.2v5.4m0.4,-5.4v20m0.4,-20v6.6m0.4,-6.6v8.5m0.4,-8.5v16.3m0.4,-16.3v4.8m0.4,-4.8v8.1m0.4,-8.1v9.8m0.4,-9.8v18.4m0.4,-18.4v8.1m0.4,-8.1v10.9m0.4,-10.9v16.7m0.4,-16.7v11.5m0.4,-11.5v8.4m0.4,-8.4v9.8m0.4,-9.8v4.7m0.4,-4.7v9.5m0.4,-9.5v9.5m0.4,-9.5v9.8m0.4,-9.8v13m0.4,-13v3.7m0.4,-3.7v12.5m0.4,-12.5v10.4m0.4,-10.4v7.8m0.4,-7.8v13.7m0.4,-13.7v12.8m0.4,-12.8v8.1m0.4,-8.1v11.4m0.4,-11.4v9.2m0.4,-9.2v10.7m0.4,-10.7v2.9m0.4,-2.9v7.9m0.4,-7.9v6.6m0.4,-6.6v4.7m0.4,-4.7v3.2m0.4,-3.2v2.9m0.4,-2.9v2.7m0.4,-2.7v4.7m0.4,-4.7v3m0.4,-3v30.8m0.4,-30.8v5.2m0.4,-5.2v2.2m0.4,-2.2v3.2m0.4,-3.2v22.4m0.4,-22.4v7.5m0.4,-7.5v2.3m0.4,-2.3v6.1m0.4,-6.1v12.5m0.4,-12.5v11.3m0.4,-11.3v10.7m0.4,-10.7v11.1m0.4,-11.1v8.5m0.4,-8.5v10.2m0.4,-10.2v7.5m0.4,-7.5v5.4m0.4,-5.4v17.6m0.4,-17.6v5.1m0.4,-5.1v16.7m0.4,-16.7v12.1m0.4,-12.1v9.6m0.4,-9.6v12.9m0.4,-12.9v12.7m0.4,-12.7v14.8m0.4,-14.8v17.1m0.4,-17.1v18.4m0.4,-18.4v13.1m0.4,-13.1v9.1m0.4,-9.1v4.1m0.4,-4.1v12.1m0.4,-12.1v9.7m0.4,-9.7v18.5m0.4,-18.5v15.5m0.4,-15.5v4.1m0.4,-4.1v15.3m0.4,-15.3v4.7m0.4,-4.7v7.2m0.4,-7.2v17.8m0.4,-17.8v13.4m0.4,-13.4v15.6m0.4,-15.6v16.7m0.4,-16.7v4.3m0.4,-4.3v18m0.4,-18v6.2m0.4,-6.2v14.5m0.4,-14.5v20.3m0.4,-20.3v15.5m0.4,-15.5v12.2m0.4,-12.2v5.3m0.4,-5.3v15.1m0.4,-15.1v18.1m0.4,-18.1v16.7m0.4,-16.7v11m0.4,-11v6.3m0.4,-6.3v4.6m0.4,-4.6v6.7m0.4,-6.7v6.1m0.4,-6.1v5.3m0.4,-5.3v4m0.4,-4v14.5m0.4,-14.5v13.4m0.4,-13.4v6.4m0.4,-6.4v8.4m0.4,-8.4v13.4m0.4,-13.4v10.1m0.4,-10.1v10.1m0.4,-10.1v13.5m0.4,-13.5v7.6m0.4,-7.6v6.9m0.4,-6.9v11.2m0.4,-11.2v2.3m0.4,-2.3v2.3m0.4,-2.3v4.7m0.4,-4.7v2.7m0.4,-2.7v5.5m0.4,-5.5v3.3m0.4,-3.3v1.9m0.4,-1.9v6.2m0.4,-6.2v4.9m0.4,-4.9v5.6m0.4,-5.6v2.4m0.4,-2.4v3.1m0.4,-3.1v2.3m0.4,-2.3v3m0.4,-3v1.7m0.4,-1.7v2.1m0.4,-2.1v3.4m0.4,-3.4v2.3m0.4,-2.3v3.2m0.4,-3.2v1.3m0.4,-1.3v1.5m0.4,-1.5v2.7m0.4,-2.7v0.8m0.4,-0.8v2.6m0.4,-2.6v3.5m0.4,-3.5v3.9m0.4,-3.9v3.2m0.4,-3.2v3.4m0.4,-3.4v2.7m0.4,-2.7v4.9m0.4,-4.9v8.5m0.4,-8.5v4.5m0.4,-4.5v8.2m0.4,-8.2v12.1m0.4,-12.1v10.2m0.4,-10.2v9.3m0.4,-9.3v9m0.4,-9v15.9m0.4,-15.9v6.7m0.4,-6.7v10.7m0.4,-10.7v20.8m0.4,-20.8v13m0.4,-13v8.4m0.4,-8.4v19m0.4,-19v16.2m0.4,-16.2v20.5m0.4,-20.5v11.6m0.4,-11.6v20.3m0.4,-20.3v15m0.4,-15v19.3m0.4,-19.3v16.2m0.4,-16.2v6.4m0.4,-6.4v18.6m0.4,-18.6v14.6m0.4,-14.6v16.5m0.4,-16.5v9.4m0.4,-9.4v18.9m0.4,-18.9v7.6m0.4,-7.6v12.3m0.4,-12.3v7.1m0.4,-7.1v17.3m0.4,-17.3v8.4m0.4,-8.4v15m0.4,-15v11.5m0.4,-11.5v15.4m0.4,-15.4v13.1m0.4,-13.1v19.2m0.4,-19.2v13.8m0.4,-13.8v16.1m0.4,-16.1v10.9m0.4,-10.9v13.4m0.4,-13.4v15.8m0.4,-15.8v18.7m0.4,-18.7v15.4m0.4,-15.4v18.7m0.4,-18.7v9.1m0.4,-9.1v19.7m0.4,-19.7v16.2m0.4,-16.2v15.8m0.4,-15.8v10.1m0.4,-10.1v18m0.4,-18v7.5m0.4,-7.5v11.4m0.4,-11.4v6.2m0.4,-6.2v4.3m0.4,-4.3v14.5m0.4,-14.5v4.2m0.4,-4.2v5.2m0.4,-5.2v10.7m0.4,-10.7v4.8m0.4,-4.8v20.8m0.4,-20.8v10.6m0.4,-10.6v20.7m0.4,-20.7v5.6m0.4,-5.6v20.6m0.4,-20.6v10m0.4,-10v20.2m0.4,-20.2v4.2m0.4,-4.2v12.1m0.4,-12.1v4.4m0.4,-4.4v20.5m0.4,-20.5v9.1m0.4,-9.1v18m0.4,-18v18.5m0.4,-18.5v19.5m0.4,-19.5v8m0.4,-8v17.3m0.4,-17.3v9.3m0.4,-9.3v23.7m0.4,-23.7v15.2m0.4,-15.2v11.9m0.4,-11.9v18.7m0.4,-18.7v10.9m0.4,-10.9v19.1m0.4,-19.1v16.1m0.4,-16.1v16.8m0.4,-16.8v10.2m0.4,-10.2v9.5m0.4,-9.5v18.2m0.4,-18.2v18.1m0.4,-18.1v17.2m0.4,-17.2v11.9m0.4,-11.9v16.8m0.4,-16.8v6.5m0.4,-6.5v11m0.4,-11v8.5m0.4,-8.5v4.6m0.4,-4.6v7.1m0.4,-7.1v8.1m0.4,-8.1v4.5m0.4,-4.5v2.9m0.4,-2.9v7.2m0.4,-7.2v6.3m0.4,-6.3v5.2m0.4,-5.2v5.5m0.4,-5.5v3m0.4,-3v4.3m0.4,-4.3v2.9m0.4,-2.9v2.5m0.4,-2.5v0.8m0.4,-0.8v1.5m0.4,-1.5v3m0.4,-3v0.8m0.4,-0.8v2.4m0.4,-2.4v1.7m0.4,-1.7v3.1m0.4,-3.1v2.2m0.4,-2.2v2.9m0.4,-2.9v2.5m0.4,-2.5v2.9m0.4,-2.9v2.6m0.4,-2.6v2.7m0.4,-2.7v3m0.4,-3v2.8m0.4,-2.8v2m0.4,-2v3.2m0.4,-3.2v1.8m0.4,-1.8v3.2m0.4,-3.2v0.8m0.4,-0.8v1.1m0.4,-1.1v1.3m0.4,-1.3v2.2m0.4,-2.2v1.2m0.4,-1.2v1.3m0.4,-1.3v1.5m0.4,-1.5v2.2m0.4,-2.2v1.8m0.4,-1.8v1.2m0.4,-1.2v1.9m0.4,-1.9v0.9m0.4,-0.9v2.1m0.4,-2.1v1.4m0.4,-1.4v2.5m0.4,-2.5v0.9m0.4,-0.9v0.9m0.4,-0.9v2.6m0.4,-2.6v2.4m0.4,-2.4v3m0.4,-3v0.9m0.4,-0.9v0.8m0.4,-0.8v1.6m0.4,-1.6v1.7m0.4,-1.7v1.9m0.4,-1.9v2.1m0.4,-2.1v1.9m0.4,-1.9v2.7m0.4,-2.7v1.7m0.4,-1.7v2.8m0.4,-2.8v0.6m0.4,-0.6v0.9m0.4,-0.9v2m0.4,-2v1.7m0.4,-1.7v0.8m0.4,-0.8v2.3m0.4,-2.3v1.2m0.4,-1.2v1.4m0.4,-1.4v1.5m0.4,-1.5v0.9m0.4,-0.9v2.1m0.4,-2.1v1.5m0.4,-1.5v26.3m0.4,-26.3v1.8m0.4,-1.8v0.8m0.4,-0.8v0.7m0.4,-0.7v1.8m0.4,-1.8v3.3" fill="none" stroke="#ababab" stroke-width="0.6" />
<line x1="450" y1="263.4" x2="692" y2="263.4" stroke="#aaa" stroke-width="1" />
<text x="720" y="129.3" font-size="21.3" text-anchor="middle" font-style="italic" fill="#333" stroke="#333" stroke-width="0.45" transform="rotate(-90 720 129.3)">wild-type</text>
<text x="722" y="260.3" font-size="21.3" text-anchor="middle" font-style="italic" fill="#333" stroke="#333" stroke-width="0.45" transform="rotate(-90 722 260.3)">roX1 roX2</text>
<line x1="449" y1="320.8" x2="541" y2="320.8" stroke="#111" stroke-width="1.6" />
<line x1="598" y1="320.8" x2="691" y2="320.8" stroke="#111" stroke-width="1.6" />
<line x1="449" y1="314.8" x2="449" y2="326" stroke="#111" stroke-width="1.6" />
<line x1="691" y1="314.8" x2="691" y2="326" stroke="#111" stroke-width="1.6" />
<text x="568" y="316" font-size="17.8" text-anchor="middle" fill="#111" stroke="#111" stroke-width="0.45">chrX</text>
<text x="568" y="337" font-size="17.8" text-anchor="middle" fill="#111" stroke="#111" stroke-width="0.45">23Mb</text>
<text x="776" y="20" font-size="26" font-weight="bold" fill="#111" stroke="#111" stroke-width="0.45">c</text>
<text x="832.6" y="33.6" font-size="25" fill="#111" stroke="#111" stroke-width="0.45">male viability</text>
<line x1="855.7" y1="42.7" x2="855.7" y2="337.6" stroke="#111" stroke-width="1.6" />
<line x1="852.6" y1="336.8" x2="967" y2="336.8" stroke="#111" stroke-width="1.6" />
<text x="841.8" y="333" font-size="18.6" text-anchor="end" fill="#111" stroke="#111" stroke-width="0.45" textLength="9" lengthAdjust="spacingAndGlyphs">0</text>
<line x1="851.5" y1="266.05" x2="855.7" y2="266.05" stroke="#111" stroke-width="1.5" />
<text x="841.8" y="272.65" font-size="18.6" text-anchor="end" fill="#111" stroke="#111" stroke-width="0.45" textLength="18" lengthAdjust="spacingAndGlyphs">25</text>
<line x1="851.5" y1="195.3" x2="855.7" y2="195.3" stroke="#111" stroke-width="1.5" />
<text x="841.8" y="201.9" font-size="18.6" text-anchor="end" fill="#111" stroke="#111" stroke-width="0.45" textLength="18" lengthAdjust="spacingAndGlyphs">50</text>
<line x1="851.5" y1="124.55" x2="855.7" y2="124.55" stroke="#111" stroke-width="1.5" />
<text x="841.8" y="131.15" font-size="18.6" text-anchor="end" fill="#111" stroke="#111" stroke-width="0.45" textLength="18" lengthAdjust="spacingAndGlyphs">75</text>
<line x1="851.5" y1="53.8" x2="855.7" y2="53.8" stroke="#111" stroke-width="1.5" />
<text x="841.8" y="60.4" font-size="18.6" text-anchor="end" fill="#111" stroke="#111" stroke-width="0.45" textLength="27" lengthAdjust="spacingAndGlyphs">100</text>
<text x="805" y="190.5" font-size="21.3" text-anchor="middle" fill="#111" stroke="#111" stroke-width="0.45" transform="rotate(-90 805 190.5)">eclosed flies (% of females)</text>
<rect x="871" y="105" width="19.2" height="231.8" fill="#ee6a4e" />
<line x1="880.6" y1="105" x2="880.6" y2="86.8" stroke="#111" stroke-width="2" />
<line x1="872" y1="86.8" x2="889.2" y2="86.8" stroke="#111" stroke-width="2" />
<circle cx="880.6" cy="56.7" r="2.9" fill="none" stroke="#2a0808" stroke-width="1.6" />
<circle cx="880.6" cy="61.7" r="2.9" fill="none" stroke="#2a0808" stroke-width="1.6" />
<circle cx="880.6" cy="77.7" r="2.9" fill="none" stroke="#2a0808" stroke-width="1.6" />
<circle cx="880.6" cy="122.6" r="2.9" fill="none" stroke="#2a0808" stroke-width="1.6" />
<circle cx="880.6" cy="144.7" r="2.9" fill="none" stroke="#2a0808" stroke-width="1.6" />
<circle cx="880.6" cy="165.2" r="2.9" fill="none" stroke="#2a0808" stroke-width="1.6" />
<rect x="903.8" y="279.6" width="19.1" height="57.2" fill="#f28d72" />
<line x1="913.35" y1="279.6" x2="913.35" y2="271.5" stroke="#111" stroke-width="2" />
<line x1="904.8" y1="271.5" x2="921.9" y2="271.5" stroke="#111" stroke-width="2" />
<circle cx="913.35" cy="255" r="2.9" fill="none" stroke="#2a0808" stroke-width="1.6" />
<circle cx="913.35" cy="264" r="2.9" fill="none" stroke="#2a0808" stroke-width="1.6" />
<circle cx="913.35" cy="292" r="2.9" fill="none" stroke="#2a0808" stroke-width="1.6" />
<circle cx="913.35" cy="299.6" r="2.9" fill="none" stroke="#2a0808" stroke-width="1.6" />
<circle cx="913.35" cy="303" r="2.9" fill="none" stroke="#2a0808" stroke-width="1.6" />
<rect x="936.7" y="256.6" width="18.9" height="80.2" fill="#f8b99e" />
<line x1="946.15" y1="256.6" x2="946.15" y2="249.7" stroke="#111" stroke-width="2" />
<line x1="937.7" y1="249.7" x2="954.6" y2="249.7" stroke="#111" stroke-width="2" />
<circle cx="946.15" cy="233" r="2.9" fill="none" stroke="#2a0808" stroke-width="1.6" />
<circle cx="946.15" cy="243" r="2.9" fill="none" stroke="#2a0808" stroke-width="1.6" />
<circle cx="946.15" cy="249.7" r="2.9" fill="none" stroke="#2a0808" stroke-width="1.6" />
<circle cx="946.15" cy="266" r="2.9" fill="none" stroke="#2a0808" stroke-width="1.6" />
<circle cx="946.15" cy="269.7" r="2.9" fill="none" stroke="#2a0808" stroke-width="1.6" />
<circle cx="946.15" cy="277.8" r="2.9" fill="none" stroke="#2a0808" stroke-width="1.6" />
<rect x="913.5" y="112.6" width="25.4" height="24.4" fill="#ee6a4e" />
<text x="947" y="130.7" font-size="21.3" font-style="italic" fill="#222" stroke="#222" stroke-width="0.45">roX2 (tg1)</text>
<rect x="913.5" y="142.5" width="25.4" height="24.5" fill="#f28d72" />
<text x="947" y="160.7" font-size="21.3" font-style="italic" fill="#222" stroke="#222" stroke-width="0.45">roX2 (tg2)</text>
<rect x="913.5" y="172" width="25.4" height="24" fill="#f8b99e" />
<text x="947" y="189.7" font-size="21.3" font-style="italic" fill="#222" stroke="#222" stroke-width="0.45">roX2 (tg3)</text>
<text x="1059" y="21.3" font-size="26" font-weight="bold" fill="#111" stroke="#111" stroke-width="0.45">d</text>
<text x="1337.6" y="33.9" font-size="25" fill="#111" stroke="#111" stroke-width="0.45">RNA levels</text>
<line x1="1152.9" y1="30.3" x2="1152.9" y2="337.8" stroke="#111" stroke-width="1.6" />
<line x1="1148" y1="337" x2="1664.4" y2="337" stroke="#111" stroke-width="1.6" />
<text x="1133.5" y="343.5" font-size="17.8" text-anchor="end" fill="#111" stroke="#111" stroke-width="0.45">0.0</text>
<line x1="1148" y1="240.2" x2="1152.9" y2="240.2" stroke="#111" stroke-width="1.5" />
<text x="1133.5" y="246.7" font-size="17.8" text-anchor="end" fill="#111" stroke="#111" stroke-width="0.45">0.5</text>
<line x1="1148" y1="143.4" x2="1152.9" y2="143.4" stroke="#111" stroke-width="1.5" />
<text x="1133.5" y="149.9" font-size="17.8" text-anchor="end" fill="#111" stroke="#111" stroke-width="0.45">1.0</text>
<line x1="1148" y1="46.6" x2="1152.9" y2="46.6" stroke="#111" stroke-width="1.5" />
<text x="1133.5" y="53.1" font-size="17.8" text-anchor="end" fill="#111" stroke="#111" stroke-width="0.45">1.5</text>
<text x="1098" y="184.7" font-size="21.3" text-anchor="middle" fill="#111" stroke="#111" stroke-width="0.45" transform="rotate(-90 1098 184.7)">Relative RNA levels</text>
<rect x="1175.15" y="137.5" width="9.7" height="199.5" fill="#e8262a" />
<line x1="1180" y1="137.5" x2="1180" y2="112" stroke="#111" stroke-width="1.8" />
<line x1="1176" y1="112" x2="1184" y2="112" stroke="#111" stroke-width="1.8" />
<circle cx="1180" cy="70" r="2.1" fill="#7a7a7a" />
<circle cx="1180" cy="106" r="2.1" fill="#7a7a7a" />
<circle cx="1180" cy="124" r="2.1" fill="#7a7a7a" />
<circle cx="1180" cy="186" r="2.1" fill="#7a2a20" />
<circle cx="1180" cy="202" r="2.1" fill="#7a2a20" />
<rect x="1190.95" y="182.8" width="9.7" height="154.2" fill="#ee6a4e" />
<line x1="1195.8" y1="182.8" x2="1195.8" y2="156" stroke="#111" stroke-width="1.8" />
<line x1="1191.8" y1="156" x2="1199.8" y2="156" stroke="#111" stroke-width="1.8" />
<circle cx="1195.8" cy="116" r="2.1" fill="#7a7a7a" />
<circle cx="1195.8" cy="143" r="2.1" fill="#7a7a7a" />
<circle cx="1195.8" cy="166" r="2.1" fill="#7a7a7a" />
<circle cx="1195.8" cy="243" r="2.1" fill="#7a2a20" />
<rect x="1206.75" y="253" width="9.7" height="84" fill="#f28d72" />
<line x1="1211.6" y1="253" x2="1211.6" y2="236.8" stroke="#111" stroke-width="1.8" />
<line x1="1207.6" y1="236.8" x2="1215.6" y2="236.8" stroke="#111" stroke-width="1.8" />
<circle cx="1211.6" cy="212" r="2.1" fill="#7a7a7a" />
<circle cx="1211.6" cy="232" r="2.1" fill="#7a7a7a" />
<circle cx="1211.6" cy="244" r="2.1" fill="#7a7a7a" />
<circle cx="1211.6" cy="265" r="2.1" fill="#7a2a20" />
<circle cx="1211.6" cy="310" r="2.1" fill="#7a2a20" />
<rect x="1222.55" y="261" width="9.7" height="76" fill="#f8b99e" />
<line x1="1227.4" y1="261" x2="1227.4" y2="256" stroke="#111" stroke-width="1.8" />
<line x1="1223.4" y1="256" x2="1231.4" y2="256" stroke="#111" stroke-width="1.8" />
<circle cx="1227.4" cy="246" r="2.1" fill="#7a7a7a" />
<circle cx="1227.4" cy="258" r="2.1" fill="#7a7a7a" />
<circle cx="1227.4" cy="264" r="2.1" fill="#7a7a7a" />
<circle cx="1227.4" cy="262" r="2.1" fill="#7a2a20" />
<circle cx="1227.4" cy="267" r="2.1" fill="#7a2a20" />
<rect x="1238.35" y="158" width="9.7" height="179" fill="#8f8f8f" />
<line x1="1243.2" y1="158" x2="1243.2" y2="124" stroke="#111" stroke-width="1.8" />
<line x1="1239.2" y1="124" x2="1247.2" y2="124" stroke="#111" stroke-width="1.8" />
<circle cx="1243.2" cy="73" r="2.1" fill="#7a7a7a" />
<circle cx="1243.2" cy="117" r="2.1" fill="#7a7a7a" />
<circle cx="1243.2" cy="133" r="2.1" fill="#7a7a7a" />
<circle cx="1243.2" cy="202" r="2.1" fill="#5a5a5a" />
<circle cx="1243.2" cy="263" r="2.1" fill="#5a5a5a" />
<rect x="1273.45" y="142.9" width="9.7" height="194.1" fill="#e8262a" />
<line x1="1278.3" y1="142.9" x2="1278.3" y2="132" stroke="#111" stroke-width="1.8" />
<line x1="1274.3" y1="132" x2="1282.3" y2="132" stroke="#111" stroke-width="1.8" />
<circle cx="1278.3" cy="116" r="2.1" fill="#7a7a7a" />
<circle cx="1278.3" cy="121" r="2.1" fill="#7a7a7a" />
<circle cx="1278.3" cy="153" r="2.1" fill="#7a2a20" />
<circle cx="1278.3" cy="159" r="2.1" fill="#7a2a20" />
<circle cx="1278.3" cy="170" r="2.1" fill="#7a2a20" />
<rect x="1289.25" y="237.3" width="9.7" height="99.7" fill="#ee6a4e" />
<line x1="1294.1" y1="237.3" x2="1294.1" y2="228" stroke="#111" stroke-width="1.8" />
<line x1="1290.1" y1="228" x2="1298.1" y2="228" stroke="#111" stroke-width="1.8" />
<circle cx="1294.1" cy="204" r="2.1" fill="#7a7a7a" />
<circle cx="1294.1" cy="243" r="2.1" fill="#7a2a20" />
<circle cx="1294.1" cy="250" r="2.1" fill="#7a2a20" />
<circle cx="1294.1" cy="254" r="2.1" fill="#7a2a20" />
<rect x="1305.05" y="228.8" width="9.7" height="108.2" fill="#f28d72" />
<line x1="1309.9" y1="228.8" x2="1309.9" y2="220.8" stroke="#111" stroke-width="1.8" />
<line x1="1305.9" y1="220.8" x2="1313.9" y2="220.8" stroke="#111" stroke-width="1.8" />
<circle cx="1309.9" cy="201" r="2.1" fill="#7a7a7a" />
<circle cx="1309.9" cy="236" r="2.1" fill="#7a2a20" />
<circle cx="1309.9" cy="240" r="2.1" fill="#7a2a20" />
<circle cx="1309.9" cy="243" r="2.1" fill="#7a2a20" />
<rect x="1320.85" y="280" width="9.7" height="57" fill="#f8b99e" />
<line x1="1325.7" y1="280" x2="1325.7" y2="275.3" stroke="#111" stroke-width="1.8" />
<line x1="1321.7" y1="275.3" x2="1329.7" y2="275.3" stroke="#111" stroke-width="1.8" />
<circle cx="1325.7" cy="272" r="2.1" fill="#7a7a7a" />
<circle cx="1325.7" cy="276" r="2.1" fill="#7a7a7a" />
<circle cx="1325.7" cy="285" r="2.1" fill="#7a2a20" />
<circle cx="1325.7" cy="294" r="2.1" fill="#7a2a20" />
<rect x="1336.65" y="162.7" width="9.7" height="174.3" fill="#8f8f8f" />
<line x1="1341.5" y1="162.7" x2="1341.5" y2="132.4" stroke="#111" stroke-width="1.8" />
<line x1="1337.5" y1="132.4" x2="1345.5" y2="132.4" stroke="#111" stroke-width="1.8" />
<circle cx="1341.5" cy="85" r="2.1" fill="#7a7a7a" />
<circle cx="1341.5" cy="95" r="2.1" fill="#7a7a7a" />
<circle cx="1341.5" cy="196" r="2.1" fill="#5a5a5a" />
<circle cx="1341.5" cy="209" r="2.1" fill="#5a5a5a" />
<circle cx="1341.5" cy="225" r="2.1" fill="#5a5a5a" />
<rect x="1372.05" y="143.3" width="9.7" height="193.7" fill="#e8262a" />
<line x1="1376.9" y1="143.3" x2="1376.9" y2="135.6" stroke="#111" stroke-width="1.8" />
<line x1="1372.9" y1="135.6" x2="1380.9" y2="135.6" stroke="#111" stroke-width="1.8" />
<circle cx="1376.9" cy="121" r="2.1" fill="#7a7a7a" />
<circle cx="1376.9" cy="146" r="2.1" fill="#7a2a20" />
<circle cx="1376.9" cy="169" r="2.1" fill="#7a2a20" />
<rect x="1387.85" y="136" width="9.7" height="201" fill="#ee6a4e" />
<line x1="1392.7" y1="136" x2="1392.7" y2="117" stroke="#111" stroke-width="1.8" />
<line x1="1388.7" y1="117" x2="1396.7" y2="117" stroke="#111" stroke-width="1.8" />
<circle cx="1392.7" cy="93" r="2.1" fill="#7a7a7a" />
<circle cx="1392.7" cy="97" r="2.1" fill="#7a7a7a" />
<circle cx="1392.7" cy="176" r="2.1" fill="#7a2a20" />
<rect x="1403.65" y="228.8" width="9.7" height="108.2" fill="#f28d72" />
<line x1="1408.5" y1="228.8" x2="1408.5" y2="217.4" stroke="#111" stroke-width="1.8" />
<line x1="1404.5" y1="217.4" x2="1412.5" y2="217.4" stroke="#111" stroke-width="1.8" />
<circle cx="1408.5" cy="209" r="2.1" fill="#7a7a7a" />
<circle cx="1408.5" cy="211" r="2.1" fill="#7a7a7a" />
<circle cx="1408.5" cy="247" r="2.1" fill="#7a2a20" />
<circle cx="1408.5" cy="263" r="2.1" fill="#7a2a20" />
<rect x="1419.45" y="247.5" width="9.7" height="89.5" fill="#f8b99e" />
<line x1="1424.3" y1="247.5" x2="1424.3" y2="241" stroke="#111" stroke-width="1.8" />
<line x1="1420.3" y1="241" x2="1428.3" y2="241" stroke="#111" stroke-width="1.8" />
<circle cx="1424.3" cy="226" r="2.1" fill="#7a7a7a" />
<circle cx="1424.3" cy="237" r="2.1" fill="#7a7a7a" />
<circle cx="1424.3" cy="250" r="2.1" fill="#7a2a20" />
<circle cx="1424.3" cy="257" r="2.1" fill="#7a2a20" />
<circle cx="1424.3" cy="265" r="2.1" fill="#7a2a20" />
<rect x="1435.25" y="129.5" width="9.7" height="207.5" fill="#8f8f8f" />
<line x1="1440.1" y1="129.5" x2="1440.1" y2="101.2" stroke="#111" stroke-width="1.8" />
<line x1="1436.1" y1="101.2" x2="1444.1" y2="101.2" stroke="#111" stroke-width="1.8" />
<circle cx="1440.1" cy="44" r="2.1" fill="#7a7a7a" />
<circle cx="1440.1" cy="122" r="2.1" fill="#7a7a7a" />
<circle cx="1440.1" cy="161" r="2.1" fill="#5a5a5a" />
<circle cx="1440.1" cy="187" r="2.1" fill="#5a5a5a" />
<rect x="1470.55" y="142.7" width="9.7" height="194.3" fill="#e8262a" />
<line x1="1475.4" y1="142.7" x2="1475.4" y2="128" stroke="#111" stroke-width="1.8" />
<line x1="1471.4" y1="128" x2="1479.4" y2="128" stroke="#111" stroke-width="1.8" />
<circle cx="1475.4" cy="100" r="2.1" fill="#7a7a7a" />
<circle cx="1475.4" cy="120" r="2.1" fill="#7a7a7a" />
<circle cx="1475.4" cy="160" r="2.1" fill="#7a2a20" />
<circle cx="1475.4" cy="165" r="2.1" fill="#7a2a20" />
<rect x="1486.35" y="282.2" width="9.7" height="54.8" fill="#ee6a4e" />
<line x1="1491.2" y1="282.2" x2="1491.2" y2="278" stroke="#111" stroke-width="1.8" />
<line x1="1487.2" y1="278" x2="1495.2" y2="278" stroke="#111" stroke-width="1.8" />
<circle cx="1491.2" cy="275" r="2.1" fill="#7a7a7a" />
<circle cx="1491.2" cy="279" r="2.1" fill="#7a2a20" />
<circle cx="1491.2" cy="295" r="2.1" fill="#7a2a20" />
<rect x="1502.15" y="270" width="9.7" height="67" fill="#f28d72" />
<line x1="1507" y1="270" x2="1507" y2="264.6" stroke="#111" stroke-width="1.8" />
<line x1="1503" y1="264.6" x2="1511" y2="264.6" stroke="#111" stroke-width="1.8" />
<circle cx="1507" cy="251" r="2.1" fill="#7a7a7a" />
<circle cx="1507" cy="272" r="2.1" fill="#7a2a20" />
<circle cx="1507" cy="282" r="2.1" fill="#7a2a20" />
<rect x="1517.95" y="300" width="9.7" height="37" fill="#f8b99e" />
<line x1="1522.8" y1="300" x2="1522.8" y2="295.6" stroke="#111" stroke-width="1.8" />
<line x1="1518.8" y1="295.6" x2="1526.8" y2="295.6" stroke="#111" stroke-width="1.8" />
<circle cx="1522.8" cy="287" r="2.1" fill="#7a7a7a" />
<circle cx="1522.8" cy="306" r="2.1" fill="#7a2a20" />
<circle cx="1522.8" cy="312" r="2.1" fill="#7a2a20" />
<rect x="1533.75" y="223.2" width="9.7" height="113.8" fill="#8f8f8f" />
<line x1="1538.6" y1="223.2" x2="1538.6" y2="204.9" stroke="#111" stroke-width="1.8" />
<line x1="1534.6" y1="204.9" x2="1542.6" y2="204.9" stroke="#111" stroke-width="1.8" />
<circle cx="1538.6" cy="168" r="2.1" fill="#7a7a7a" />
<circle cx="1538.6" cy="194" r="2.1" fill="#7a7a7a" />
<circle cx="1538.6" cy="240" r="2.1" fill="#5a5a5a" />
<circle cx="1538.6" cy="252" r="2.1" fill="#5a5a5a" />
<circle cx="1538.6" cy="258" r="2.1" fill="#5a5a5a" />
<rect x="1568.85" y="142" width="9.7" height="195" fill="#e8262a" />
<line x1="1573.7" y1="142" x2="1573.7" y2="127.6" stroke="#111" stroke-width="1.8" />
<line x1="1569.7" y1="127.6" x2="1577.7" y2="127.6" stroke="#111" stroke-width="1.8" />
<circle cx="1573.7" cy="106" r="2.1" fill="#7a7a7a" />
<circle cx="1573.7" cy="130" r="2.1" fill="#7a2a20" />
<circle cx="1573.7" cy="145" r="2.1" fill="#7a2a20" />
<circle cx="1573.7" cy="191" r="2.1" fill="#7a2a20" />
<rect x="1584.65" y="230.5" width="9.7" height="106.5" fill="#ee6a4e" />
<line x1="1589.5" y1="230.5" x2="1589.5" y2="220.3" stroke="#111" stroke-width="1.8" />
<line x1="1585.5" y1="220.3" x2="1593.5" y2="220.3" stroke="#111" stroke-width="1.8" />
<circle cx="1589.5" cy="201" r="2.1" fill="#7a7a7a" />
<circle cx="1589.5" cy="213" r="2.1" fill="#7a7a7a" />
<circle cx="1589.5" cy="235" r="2.1" fill="#7a2a20" />
<circle cx="1589.5" cy="246" r="2.1" fill="#7a2a20" />
<circle cx="1589.5" cy="254" r="2.1" fill="#7a2a20" />
<rect x="1600.45" y="245.6" width="9.7" height="91.4" fill="#f28d72" />
<line x1="1605.3" y1="245.6" x2="1605.3" y2="236.6" stroke="#111" stroke-width="1.8" />
<line x1="1601.3" y1="236.6" x2="1609.3" y2="236.6" stroke="#111" stroke-width="1.8" />
<circle cx="1605.3" cy="217" r="2.1" fill="#7a7a7a" />
<circle cx="1605.3" cy="254" r="2.1" fill="#7a2a20" />
<circle cx="1605.3" cy="258" r="2.1" fill="#7a2a20" />
<circle cx="1605.3" cy="263" r="2.1" fill="#7a2a20" />
<rect x="1616.25" y="261.5" width="9.7" height="75.5" fill="#f8b99e" />
<line x1="1621.1" y1="261.5" x2="1621.1" y2="244.4" stroke="#111" stroke-width="1.8" />
<line x1="1617.1" y1="244.4" x2="1625.1" y2="244.4" stroke="#111" stroke-width="1.8" />
<circle cx="1621.1" cy="234" r="2.1" fill="#7a7a7a" />
<circle cx="1621.1" cy="250" r="2.1" fill="#7a7a7a" />
<circle cx="1621.1" cy="251" r="2.1" fill="#7a2a20" />
<circle cx="1621.1" cy="325" r="2.1" fill="#7a2a20" />
<rect x="1632.05" y="168.3" width="9.7" height="168.7" fill="#8f8f8f" />
<line x1="1636.9" y1="168.3" x2="1636.9" y2="134" stroke="#111" stroke-width="1.8" />
<line x1="1632.9" y1="134" x2="1640.9" y2="134" stroke="#111" stroke-width="1.8" />
<circle cx="1636.9" cy="65" r="2.1" fill="#7a7a7a" />
<circle cx="1636.9" cy="114" r="2.1" fill="#7a7a7a" />
<circle cx="1636.9" cy="204" r="2.1" fill="#5a5a5a" />
<circle cx="1636.9" cy="216" r="2.1" fill="#5a5a5a" />
<circle cx="1636.9" cy="239" r="2.1" fill="#5a5a5a" />
<text x="1173.5" y="362" font-size="21.3" font-style="italic" fill="#111" stroke="#111" stroke-width="0.45">CG5254</text>
<text x="1269" y="362" font-size="21.3" font-style="italic" fill="#111" stroke="#111" stroke-width="0.45">socs16D</text>
<text x="1377" y="362" font-size="21.3" font-style="italic" fill="#111" stroke="#111" stroke-width="0.45">Ucp4a</text>
<text x="1477.8" y="362" font-size="21.3" font-style="italic" fill="#111" stroke="#111" stroke-width="0.45">su(wa)</text>
<text x="1573.7" y="362" font-size="21.3" font-style="italic" fill="#111" stroke="#111" stroke-width="0.45">RpL22</text>
<rect x="1707" y="117.8" width="25" height="24.4" fill="#e8262a" />
<text x="1741.7" y="135.6" font-size="21.3" font-style="italic" fill="#222" stroke="#222" stroke-width="0.45">roX2+</text>
<rect x="1707" y="147.6" width="25" height="24.4" fill="#ee6a4e" />
<text x="1741.7" y="165.4" font-size="21.3" font-style="italic" fill="#222" stroke="#222" stroke-width="0.45">roX2 (tg1)</text>
<rect x="1707" y="176.3" width="25" height="24.4" fill="#f28d72" />
<text x="1741.7" y="194.1" font-size="21.3" font-style="italic" fill="#222" stroke="#222" stroke-width="0.45">roX2 (tg2)</text>
<rect x="1707" y="206" width="25" height="24.4" fill="#f8b99e" />
<text x="1741.7" y="223.8" font-size="21.3" font-style="italic" fill="#222" stroke="#222" stroke-width="0.45">roX2 (tg3)</text>
<rect x="1707" y="235.4" width="25" height="24.4" fill="#8f8f8f" />
<text x="1741.7" y="253.2" font-size="21.3" font-style="italic" fill="#222" stroke="#222" stroke-width="0.45">wild-type</text>
<line x1="1698" y1="119" x2="1698" y2="229.8" stroke="#111" stroke-width="1.6" />
<line x1="1692.4" y1="119" x2="1703.4" y2="119" stroke="#111" stroke-width="1.6" />
<line x1="1692.4" y1="229.8" x2="1703.4" y2="229.8" stroke="#111" stroke-width="1.6" />
<text x="1681.5" y="166" font-size="24" text-anchor="middle" fill="#111" stroke="#111" stroke-width="0.45" font-family="'DejaVu Sans', sans-serif">♂</text>
<text x="1681.5" y="255" font-size="24" text-anchor="middle" fill="#111" stroke="#111" stroke-width="0.45" font-family="'DejaVu Sans', sans-serif">♀</text>
<text x="2" y="410.3" font-size="26" font-weight="bold" fill="#111" stroke="#111" stroke-width="0.45">e</text>
<text x="102" y="428.2" font-size="25" fill="#111" stroke="#111" stroke-width="0.45">GST-CXC</text>
<defs><linearGradient id="gelE" x1="0" y1="0" x2="0" y2="1"><stop offset="0" stop-color="#eef4fb"/><stop offset="0.4" stop-color="#e3edf8"/><stop offset="1" stop-color="#dde8f5"/></linearGradient><filter id="blur1" x="-20%" y="-50%" width="140%" height="200%"><feGaussianBlur stdDeviation="1.6"/></filter><filter id="blur2" x="-20%" y="-20%" width="140%" height="140%"><feGaussianBlur stdDeviation="3"/></filter><filter id="blur05" x="-20%" y="-50%" width="140%" height="200%"><feGaussianBlur stdDeviation="0.8"/></filter></defs>
<rect x="72" y="451.3" width="150" height="337.7" fill="url(#gelE)" />
<rect x="76" y="480" width="25" height="290" fill="#dae6f3" filter="url(#blur2)" opacity="0.7"/>
<rect x="112" y="480" width="28" height="290" fill="#dae6f3" filter="url(#blur2)" opacity="0.7"/>
<rect x="150" y="480" width="26" height="290" fill="#dae6f3" filter="url(#blur2)" opacity="0.7"/>
<rect x="186" y="480" width="29.5" height="290" fill="#dae6f3" filter="url(#blur2)" opacity="0.7"/>
<rect x="77" y="553.5" width="23" height="5" fill="#cbd9ec" filter="url(#blur1)"/>
<rect x="151" y="553.5" width="24" height="5" fill="#cbd9ec" filter="url(#blur1)"/>
<rect x="187" y="554.5" width="27.5" height="5" fill="#cbd9ec" filter="url(#blur1)"/>
<rect x="113" y="526.5" width="27" height="1.6" fill="#9fb3d8" filter="url(#blur05)"/>
<rect x="77" y="607" width="23" height="30" fill="#cfdcee" filter="url(#blur2)" opacity="0.8"/>
<rect x="76" y="628" width="25" height="22" fill="#b7c8e8" filter="url(#blur2)"/>
<rect x="74" y="630.5" width="29" height="13" fill="#3d5cc0" rx="6.5" filter="url(#blur1)"/>
<rect x="113" y="620.3" width="26" height="30" fill="#cfdcee" filter="url(#blur2)" opacity="0.8"/>
<rect x="112" y="641.3" width="28" height="22" fill="#b7c8e8" filter="url(#blur2)"/>
<rect x="110" y="643.8" width="32" height="13" fill="#3d5cc0" rx="6.5" filter="url(#blur1)"/>
<rect x="151" y="605.7" width="24" height="30" fill="#cfdcee" filter="url(#blur2)" opacity="0.8"/>
<rect x="150" y="626.7" width="26" height="22" fill="#b7c8e8" filter="url(#blur2)"/>
<rect x="148" y="629.2" width="30" height="13" fill="#3d5cc0" rx="6.5" filter="url(#blur1)"/>
<rect x="187" y="609.8" width="27.5" height="30" fill="#cfdcee" filter="url(#blur2)" opacity="0.8"/>
<rect x="186" y="630.8" width="29.5" height="22" fill="#b7c8e8" filter="url(#blur2)"/>
<rect x="184" y="633.3" width="33.5" height="13" fill="#3d5cc0" rx="6.5" filter="url(#blur1)"/>
<rect x="71.8" y="451.3" width="150.2" height="337.7" fill="none" stroke="#111" stroke-width="2"/>
<text x="19" y="454" font-size="17.8" fill="#111" stroke="#111" stroke-width="0.45">kDa</text>
<line x1="57.9" y1="463" x2="71.8" y2="463" stroke="#111" stroke-width="1.6" />
<text x="47.8" y="469.3" font-size="17.8" text-anchor="end" fill="#111" stroke="#111" stroke-width="0.45">250</text>
<line x1="57.9" y1="484.3" x2="71.8" y2="484.3" stroke="#111" stroke-width="1.6" />
<text x="47.8" y="490.6" font-size="17.8" text-anchor="end" fill="#111" stroke="#111" stroke-width="0.45">150</text>
<line x1="57.9" y1="508.5" x2="71.8" y2="508.5" stroke="#111" stroke-width="1.6" />
<text x="47.8" y="514.8" font-size="17.8" text-anchor="end" fill="#111" stroke="#111" stroke-width="0.45">100</text>
<line x1="57.9" y1="534.3" x2="71.8" y2="534.3" stroke="#111" stroke-width="1.6" />
<text x="47.8" y="540.6" font-size="17.8" text-anchor="end" fill="#111" stroke="#111" stroke-width="0.45">75</text>
<line x1="57.9" y1="576.3" x2="71.8" y2="576.3" stroke="#111" stroke-width="1.6" />
<text x="47.8" y="582.6" font-size="17.8" text-anchor="end" fill="#111" stroke="#111" stroke-width="0.45">50</text>
<line x1="57.9" y1="614" x2="71.8" y2="614" stroke="#111" stroke-width="1.6" />
<text x="47.8" y="620.3" font-size="17.8" text-anchor="end" fill="#111" stroke="#111" stroke-width="0.45">37</text>
<line x1="57.9" y1="665.6" x2="71.8" y2="665.6" stroke="#111" stroke-width="1.6" />
<text x="47.8" y="671.9" font-size="17.8" text-anchor="end" fill="#111" stroke="#111" stroke-width="0.45">25</text>
<line x1="57.9" y1="680" x2="71.8" y2="680" stroke="#111" stroke-width="1.6" />
<text x="47.8" y="686.3" font-size="17.8" text-anchor="end" fill="#111" stroke="#111" stroke-width="0.45">20</text>
<line x1="57.9" y1="714.2" x2="71.8" y2="714.2" stroke="#111" stroke-width="1.6" />
<text x="47.8" y="720.5" font-size="17.8" text-anchor="end" fill="#111" stroke="#111" stroke-width="0.45">15</text>
<line x1="57.9" y1="751.9" x2="71.8" y2="751.9" stroke="#111" stroke-width="1.6" />
<text x="47.8" y="758.2" font-size="17.8" text-anchor="end" fill="#111" stroke="#111" stroke-width="0.45">10</text>
<text x="104" y="809" font-size="20.5" text-anchor="end" fill="#111" stroke="#111" stroke-width="0.45" transform="rotate(-45 104 809)"><tspan fill="#3f5fa8" stroke="#3f5fa8">Dmel </tspan><tspan fill="#1a1a1a" stroke="#1a1a1a">CXC</tspan></text>
<text x="141" y="807" font-size="20.5" text-anchor="end" fill="#111" stroke="#111" stroke-width="0.45" transform="rotate(-45 141 807)"><tspan fill="#1a1a1a" stroke="#1a1a1a">- (ctrl)</tspan></text>
<text x="168" y="807" font-size="20.5" text-anchor="end" fill="#111" stroke="#111" stroke-width="0.45" transform="rotate(-45 168 807)"><tspan fill="#1a1a1a" stroke="#1a1a1a">Human CXC</tspan></text>
<text x="210" y="807" font-size="20.5" text-anchor="end" fill="#111" stroke="#111" stroke-width="0.45" transform="rotate(-45 210 807)"><tspan fill="#9fcbe8" stroke="#9fcbe8">Dvir </tspan><tspan fill="#1a1a1a" stroke="#1a1a1a">CXC</tspan></text>
<text x="256" y="409.4" font-size="26" font-weight="bold" fill="#111" stroke="#111" stroke-width="0.45">f</text>
<text x="313.7" y="429" font-size="25" fill="#111" stroke="#111" stroke-width="0.45">Biolayer Interferometry (DNA binding)</text>
<text x="306" y="473" font-size="21.3" fill="#111" stroke="#111" stroke-width="0.45">K<tspan font-size="13" dy="5">on1</tspan><tspan dy="-5"> (M</tspan><tspan font-size="13" dy="-8">-1</tspan><tspan dy="8"> s</tspan><tspan font-size="13" dy="-8">-1</tspan><tspan dy="8">)</tspan></text>
<text x="493.5" y="473" font-size="21.3" fill="#111" stroke="#111" stroke-width="0.45">K<tspan font-size="13" dx="4" dy="5">off1</tspan><tspan dy="-5"> (s</tspan><tspan font-size="13" dy="-8">−1</tspan><tspan dy="8">)</tspan></text>
<text x="645.5" y="473" font-size="21.3" fill="#111" stroke="#111" stroke-width="0.45">K<tspan font-size="13" dy="5">D1</tspan><tspan dy="-5"> (nM)</tspan></text>
<line x1="307.2" y1="517.3" x2="307.2" y2="766.5" stroke="#111" stroke-width="1.6" />
<line x1="306.4" y1="765.7" x2="411.8" y2="765.7" stroke="#111" stroke-width="1.6" />
<text x="297.4" y="772" font-size="17.8" text-anchor="end" fill="#111" stroke="#111" stroke-width="0.45">0</text>
<line x1="302.5" y1="709.9" x2="307.2" y2="709.9" stroke="#111" stroke-width="1.4" />
<text x="297.4" y="716.2" font-size="17.8" text-anchor="end" fill="#111" stroke="#111" stroke-width="0.45">1e4</text>
<line x1="302.5" y1="654.1" x2="307.2" y2="654.1" stroke="#111" stroke-width="1.4" />
<text x="297.4" y="660.4" font-size="17.8" text-anchor="end" fill="#111" stroke="#111" stroke-width="0.45">2e4</text>
<line x1="302.5" y1="598.3" x2="307.2" y2="598.3" stroke="#111" stroke-width="1.4" />
<text x="297.4" y="604.6" font-size="17.8" text-anchor="end" fill="#111" stroke="#111" stroke-width="0.45">3e4</text>
<line x1="302.5" y1="542.5" x2="307.2" y2="542.5" stroke="#111" stroke-width="1.4" />
<text x="297.4" y="548.8" font-size="17.8" text-anchor="end" fill="#111" stroke="#111" stroke-width="0.45">4e4</text>
<rect x="318.6" y="614.4" width="16.4" height="151.3" fill="#3a62b0" />
<line x1="326.8" y1="614.4" x2="326.8" y2="597.4" stroke="#111" stroke-width="1.8" />
<line x1="320.3" y1="597.4" x2="333.3" y2="597.4" stroke="#111" stroke-width="1.8" />
<circle cx="326.8" cy="528.7" r="2" fill="#8a8a8a" />
<circle cx="326.8" cy="531" r="2" fill="#8a8a8a" />
<circle cx="326.8" cy="546" r="2" fill="#8a8a8a" />
<circle cx="326.8" cy="595.8" r="2" fill="#8a8a8a" />
<circle cx="326.8" cy="605.6" r="2" fill="#8a8a8a" />
<circle cx="326.8" cy="632.7" r="2" fill="#3a3a5a" />
<circle cx="326.8" cy="643.2" r="2" fill="#3a3a5a" />
<circle cx="326.8" cy="654.6" r="2" fill="#3a3a5a" />
<circle cx="326.8" cy="661.8" r="2" fill="#3a3a5a" />
<circle cx="326.8" cy="700.4" r="2" fill="#3a3a5a" />
<rect x="351.3" y="624.2" width="16.4" height="141.5" fill="#b9d9f2" />
<line x1="359.5" y1="624.2" x2="359.5" y2="612" stroke="#111" stroke-width="1.8" />
<line x1="353" y1="612" x2="366" y2="612" stroke="#111" stroke-width="1.8" />
<circle cx="359.5" cy="568" r="2" fill="#8a8a8a" />
<circle cx="359.5" cy="607.2" r="2" fill="#8a8a8a" />
<circle cx="359.5" cy="615.4" r="2" fill="#8a8a8a" />
<circle cx="359.5" cy="641.5" r="2" fill="#3a3a5a" />
<circle cx="359.5" cy="644.1" r="2" fill="#3a3a5a" />
<circle cx="359.5" cy="666" r="2" fill="#3a3a5a" />
<rect x="384" y="582" width="15.7" height="183.7" fill="#8e8e8e" />
<line x1="391.85" y1="582" x2="391.85" y2="570.6" stroke="#111" stroke-width="1.8" />
<line x1="385.35" y1="570.6" x2="398.35" y2="570.6" stroke="#111" stroke-width="1.8" />
<circle cx="391.85" cy="544.1" r="2" fill="#8a8a8a" />
<circle cx="391.85" cy="577.8" r="2" fill="#555" />
<circle cx="391.85" cy="589.2" r="2" fill="#555" />
<circle cx="391.85" cy="628.4" r="2" fill="#555" />
<text x="335.5" y="786" font-size="20.5" text-anchor="end" fill="#111" stroke="#111" stroke-width="0.45" transform="rotate(-45 335.5 786)"><tspan fill="#3f5fa8" stroke="#3f5fa8">Dmel </tspan><tspan fill="#1a1a1a" stroke="#1a1a1a">CXC</tspan></text>
<text x="369.5" y="786" font-size="20.5" text-anchor="end" fill="#111" stroke="#111" stroke-width="0.45" transform="rotate(-45 369.5 786)"><tspan fill="#9fcbe8" stroke="#9fcbe8">Dvir </tspan><tspan fill="#1a1a1a" stroke="#1a1a1a">CXC</tspan></text>
<text x="405.5" y="786" font-size="20.5" text-anchor="end" fill="#111" stroke="#111" stroke-width="0.45" transform="rotate(-45 405.5 786)"><tspan fill="#1a1a1a" stroke="#1a1a1a">Human CXC</tspan></text>
<line x1="471.6" y1="517.3" x2="471.6" y2="766.5" stroke="#111" stroke-width="1.6" />
<line x1="470.8" y1="765.7" x2="570" y2="765.7" stroke="#111" stroke-width="1.6" />
<text x="462" y="772" font-size="17.8" text-anchor="end" fill="#111" stroke="#111" stroke-width="0.45">0</text>
<line x1="466.5" y1="688.33" x2="471.6" y2="688.33" stroke="#111" stroke-width="1.4" />
<text x="462" y="694.63" font-size="17.8" text-anchor="end" fill="#111" stroke="#111" stroke-width="0.45">2e-3</text>
<line x1="466.5" y1="610.97" x2="471.6" y2="610.97" stroke="#111" stroke-width="1.4" />
<text x="462" y="617.27" font-size="17.8" text-anchor="end" fill="#111" stroke="#111" stroke-width="0.45">4e-3</text>
<line x1="466.5" y1="533.6" x2="471.6" y2="533.6" stroke="#111" stroke-width="1.4" />
<text x="462" y="539.9" font-size="17.8" text-anchor="end" fill="#111" stroke="#111" stroke-width="0.45">6e-3</text>
<rect x="483.7" y="651.3" width="15.7" height="114.4" fill="#3a62b0" />
<line x1="491.55" y1="651.3" x2="491.55" y2="634.3" stroke="#111" stroke-width="1.8" />
<line x1="485.05" y1="634.3" x2="498.05" y2="634.3" stroke="#111" stroke-width="1.8" />
<circle cx="491.55" cy="562.1" r="2" fill="#8a8a8a" />
<circle cx="491.55" cy="569.6" r="2" fill="#8a8a8a" />
<circle cx="491.55" cy="607.2" r="2" fill="#8a8a8a" />
<circle cx="491.55" cy="619.6" r="2" fill="#8a8a8a" />
<circle cx="491.55" cy="630" r="2" fill="#8a8a8a" />
<circle cx="491.55" cy="675.9" r="2" fill="#3a3a5a" />
<circle cx="491.55" cy="684.7" r="2" fill="#3a3a5a" />
<circle cx="491.55" cy="725.5" r="2" fill="#3a3a5a" />
<circle cx="491.55" cy="741.2" r="2" fill="#3a3a5a" />
<rect x="514.8" y="678" width="15.7" height="87.7" fill="#b9d9f2" />
<line x1="522.65" y1="678" x2="522.65" y2="659.8" stroke="#111" stroke-width="1.8" />
<line x1="516.15" y1="659.8" x2="529.15" y2="659.8" stroke="#111" stroke-width="1.8" />
<circle cx="522.65" cy="625.2" r="2" fill="#8a8a8a" />
<circle cx="522.65" cy="633.3" r="2" fill="#8a8a8a" />
<circle cx="522.65" cy="643.2" r="2" fill="#8a8a8a" />
<circle cx="522.65" cy="695.5" r="2" fill="#3a3a5a" />
<circle cx="522.65" cy="720.6" r="2" fill="#3a3a5a" />
<circle cx="522.65" cy="754.3" r="2" fill="#3a3a5a" />
<rect x="546.8" y="586" width="16" height="179.7" fill="#8e8e8e" />
<line x1="554.8" y1="586" x2="554.8" y2="570.3" stroke="#111" stroke-width="1.8" />
<line x1="548.3" y1="570.3" x2="561.3" y2="570.3" stroke="#111" stroke-width="1.8" />
<circle cx="554.8" cy="529.4" r="2" fill="#8a8a8a" />
<circle cx="554.8" cy="560.8" r="2" fill="#8a8a8a" />
<circle cx="554.8" cy="604.9" r="2" fill="#555" />
<circle cx="554.8" cy="612.1" r="2" fill="#555" />
<circle cx="554.8" cy="634.3" r="2" fill="#555" />
<text x="500.5" y="786" font-size="20.5" text-anchor="end" fill="#111" stroke="#111" stroke-width="0.45" transform="rotate(-45 500.5 786)"><tspan fill="#3f5fa8" stroke="#3f5fa8">Dmel </tspan><tspan fill="#1a1a1a" stroke="#1a1a1a">CXC</tspan></text>
<text x="532.5" y="786" font-size="20.5" text-anchor="end" fill="#111" stroke="#111" stroke-width="0.45" transform="rotate(-45 532.5 786)"><tspan fill="#9fcbe8" stroke="#9fcbe8">Dvir </tspan><tspan fill="#1a1a1a" stroke="#1a1a1a">CXC</tspan></text>
<text x="565" y="786" font-size="20.5" text-anchor="end" fill="#111" stroke="#111" stroke-width="0.45" transform="rotate(-45 565 786)"><tspan fill="#1a1a1a" stroke="#1a1a1a">Human CXC</tspan></text>
<line x1="622" y1="522.2" x2="622" y2="765.8" stroke="#111" stroke-width="1.6" />
<line x1="621.2" y1="765" x2="730" y2="765" stroke="#111" stroke-width="1.6" />
<line x1="617" y1="734.7" x2="622" y2="734.7" stroke="#111" stroke-width="1.4" />
<text x="613" y="741" font-size="17.8" text-anchor="end" fill="#111" stroke="#111" stroke-width="0.45">50</text>
<line x1="617" y1="670.4" x2="622" y2="670.4" stroke="#111" stroke-width="1.4" />
<text x="613" y="676.7" font-size="17.8" text-anchor="end" fill="#111" stroke="#111" stroke-width="0.45">100</text>
<line x1="617" y1="606.1" x2="622" y2="606.1" stroke="#111" stroke-width="1.4" />
<text x="613" y="612.4" font-size="17.8" text-anchor="end" fill="#111" stroke="#111" stroke-width="0.45">150</text>
<line x1="617" y1="541.8" x2="622" y2="541.8" stroke="#111" stroke-width="1.4" />
<text x="613" y="548.1" font-size="17.8" text-anchor="end" fill="#111" stroke="#111" stroke-width="0.45">200</text>
<line x1="654.5" y1="532" x2="654.5" y2="623.5" stroke="#111" stroke-width="1.4" />
<line x1="654.5" y1="695.5" x2="654.5" y2="752.7" stroke="#111" stroke-width="1.4" />
<rect x="645.5" y="623.5" width="18" height="72" fill="#3a62b0" stroke="#222" stroke-width="1.3"/>
<line x1="645.5" y1="669.3" x2="663.5" y2="669.3" stroke="#222" stroke-width="1.3" />
<circle cx="658.6" cy="532" r="3" fill="#111" />
<circle cx="653.7" cy="569.6" r="3" fill="#111" />
<circle cx="653.7" cy="572.9" r="3" fill="#111" />
<circle cx="659.6" cy="639.2" r="3" fill="#111" />
<circle cx="658.6" cy="649.7" r="3" fill="#111" />
<circle cx="657" cy="653" r="3" fill="#111" />
<circle cx="651.4" cy="683.4" r="3" fill="#111" />
<circle cx="659.6" cy="681.4" r="3" fill="#111" />
<circle cx="654.3" cy="721.6" r="3" fill="#111" />
<circle cx="653.5" cy="737" r="3" fill="#111" />
<circle cx="652.5" cy="752.7" r="3" fill="#111" />
<line x1="689.2" y1="623.5" x2="689.2" y2="657.2" stroke="#111" stroke-width="1.4" />
<line x1="689.2" y1="697" x2="689.2" y2="713.4" stroke="#111" stroke-width="1.4" />
<rect x="679.9" y="657.2" width="18.6" height="39.8" fill="#aab4e2" stroke="#222" stroke-width="1.3"/>
<line x1="679.9" y1="668.3" x2="698.5" y2="668.3" stroke="#222" stroke-width="1.3" />
<circle cx="689" cy="624.5" r="3" fill="#111" />
<circle cx="688" cy="661.8" r="3" fill="#111" />
<circle cx="688" cy="654.6" r="3" fill="#111" />
<circle cx="695.2" cy="671.9" r="3" fill="#111" />
<circle cx="686.4" cy="703.6" r="3" fill="#111" />
<circle cx="687.3" cy="713.4" r="3" fill="#111" />
<line x1="719.15" y1="589" x2="719.15" y2="596.4" stroke="#111" stroke-width="1.4" />
<line x1="719.15" y1="635" x2="719.15" y2="657.9" stroke="#111" stroke-width="1.4" />
<rect x="710.3" y="596.4" width="17.7" height="38.6" fill="#b4b4b4" stroke="#222" stroke-width="1.3"/>
<line x1="710.3" y1="610.5" x2="728" y2="610.5" stroke="#222" stroke-width="1.3" />
<circle cx="722.4" cy="590.9" r="3" fill="#111" />
<circle cx="715.8" cy="594.1" r="3" fill="#111" />
<circle cx="720.7" cy="599.7" r="3" fill="#111" />
<circle cx="725.6" cy="617.7" r="3" fill="#111" />
<circle cx="718.1" cy="638.9" r="3" fill="#111" />
<circle cx="722.4" cy="658.5" r="3" fill="#111" />
<line x1="654.7" y1="501.6" x2="688" y2="501.6" stroke="#111" stroke-width="1.4" />
<line x1="654.7" y1="497.5" x2="654.7" y2="505.7" stroke="#111" stroke-width="1.4" />
<text x="692" y="502.6" font-size="17.8" fill="#111" stroke="#111" stroke-width="0.45"><tspan font-style="italic">p</tspan>=0.48</text>
<line x1="654.7" y1="516.6" x2="718" y2="516.6" stroke="#111" stroke-width="1.4" />
<line x1="654.7" y1="512.5" x2="654.7" y2="520.7" stroke="#111" stroke-width="1.4" />
<text x="722.4" y="522" font-size="17.8" fill="#111" stroke="#111" stroke-width="0.45"><tspan font-style="italic">p</tspan>=0.18</text>
<text x="665" y="786" font-size="20.5" text-anchor="end" fill="#111" stroke="#111" stroke-width="0.45" transform="rotate(-45 665 786)"><tspan fill="#3f5fa8" stroke="#3f5fa8">Dmel </tspan><tspan fill="#1a1a1a" stroke="#1a1a1a">CXC</tspan></text>
<text x="699" y="786" font-size="20.5" text-anchor="end" fill="#111" stroke="#111" stroke-width="0.45" transform="rotate(-45 699 786)"><tspan fill="#9fcbe8" stroke="#9fcbe8">Dvir </tspan><tspan fill="#1a1a1a" stroke="#1a1a1a">CXC</tspan></text>
<text x="733" y="786" font-size="20.5" text-anchor="end" fill="#111" stroke="#111" stroke-width="0.45" transform="rotate(-45 733 786)"><tspan fill="#1a1a1a" stroke="#1a1a1a">Human CXC</tspan></text>
<text x="776" y="410.5" font-size="26" font-weight="bold" fill="#111" stroke="#111" stroke-width="0.45">g</text>
<text x="1170" y="427.5" font-size="25" fill="#111" stroke="#111" stroke-width="0.45">Biolayer Interferometry (DNA binding)</text>
<line x1="860" y1="538.1" x2="860" y2="776.2" stroke="#111" stroke-width="1.6" />
<line x1="853.5" y1="775.4" x2="860" y2="775.4" stroke="#111" stroke-width="1.5" />
<text x="843.5" y="775.4" font-size="17.8" text-anchor="middle" fill="#111" stroke="#111" stroke-width="0.45" transform="rotate(-90 843.5 775.4)">0</text>
<line x1="853.5" y1="728" x2="860" y2="728" stroke="#111" stroke-width="1.5" />
<text x="843.5" y="728" font-size="17.8" text-anchor="middle" fill="#111" stroke="#111" stroke-width="0.45" transform="rotate(-90 843.5 728)">5</text>
<line x1="853.5" y1="680.6" x2="860" y2="680.6" stroke="#111" stroke-width="1.5" />
<text x="843.5" y="680.6" font-size="17.8" text-anchor="middle" fill="#111" stroke="#111" stroke-width="0.45" transform="rotate(-90 843.5 680.6)">10</text>
<line x1="853.5" y1="633.2" x2="860" y2="633.2" stroke="#111" stroke-width="1.5" />
<text x="843.5" y="633.2" font-size="17.8" text-anchor="middle" fill="#111" stroke="#111" stroke-width="0.45" transform="rotate(-90 843.5 633.2)">15</text>
<line x1="853.5" y1="585.8" x2="860" y2="585.8" stroke="#111" stroke-width="1.5" />
<text x="843.5" y="585.8" font-size="17.8" text-anchor="middle" fill="#111" stroke="#111" stroke-width="0.45" transform="rotate(-90 843.5 585.8)">20</text>
<line x1="853.5" y1="538.4" x2="860" y2="538.4" stroke="#111" stroke-width="1.5" />
<text x="843.5" y="538.4" font-size="17.8" text-anchor="middle" fill="#111" stroke="#111" stroke-width="0.45" transform="rotate(-90 843.5 538.4)">25</text>
<line x1="871.2" y1="785.5" x2="1140.5" y2="785.5" stroke="#111" stroke-width="1.6" />
<line x1="872" y1="785.5" x2="872" y2="791.5" stroke="#111" stroke-width="1.5" />
<text x="872" y="804.6" font-size="17.8" text-anchor="middle" fill="#111" stroke="#111" stroke-width="0.45">0</text>
<line x1="919.1" y1="785.5" x2="919.1" y2="791.5" stroke="#111" stroke-width="1.5" />
<text x="919.1" y="804.6" font-size="17.8" text-anchor="middle" fill="#111" stroke="#111" stroke-width="0.45">50</text>
<line x1="966.2" y1="785.5" x2="966.2" y2="791.5" stroke="#111" stroke-width="1.5" />
<text x="966.2" y="804.6" font-size="17.8" text-anchor="middle" fill="#111" stroke="#111" stroke-width="0.45">100</text>
<line x1="1013.3" y1="785.5" x2="1013.3" y2="791.5" stroke="#111" stroke-width="1.5" />
<text x="1013.3" y="804.6" font-size="17.8" text-anchor="middle" fill="#111" stroke="#111" stroke-width="0.45">150</text>
<line x1="1060.4" y1="785.5" x2="1060.4" y2="791.5" stroke="#111" stroke-width="1.5" />
<text x="1060.4" y="804.6" font-size="17.8" text-anchor="middle" fill="#111" stroke="#111" stroke-width="0.45">200</text>
<line x1="1107.5" y1="785.5" x2="1107.5" y2="791.5" stroke="#111" stroke-width="1.5" />
<text x="1107.5" y="804.6" font-size="17.8" text-anchor="middle" fill="#111" stroke="#111" stroke-width="0.45">250</text>
<text x="990" y="832.6" font-size="17.8" text-anchor="middle" fill="#111" stroke="#111" stroke-width="0.45">Time (sec)</text>
<text x="815.5" y="658.4" font-size="17.8" text-anchor="middle" fill="#111" stroke="#111" stroke-width="0.45" transform="rotate(-90 815.5 658.4)">Binding (nm)</text>
<line x1="985.04" y1="512.2" x2="985.04" y2="785.5" stroke="#333" stroke-width="1.1" stroke-dasharray="3,2.5"/>
<text x="913.5" y="502" font-size="21.3" fill="#111" stroke="#111" stroke-width="0.45">GST-Dmel CXC</text>
<line x1="869.5" y1="518.6" x2="886.8" y2="518.6" stroke="#bbbbbb" stroke-width="3.2" />
<defs><linearGradient id="lg870" x1="0" x2="1"><stop offset="0" stop-color="#3d5aa8"/><stop offset="1" stop-color="#d3303a"/></linearGradient></defs>
<rect x="869.5" y="533.5" width="17.3" height="3" fill="url(#lg870)" />
<text x="894.3" y="523.1" font-size="17.8" fill="#111" stroke="#111" stroke-width="0.45">observed</text>
<text x="894.3" y="539.5" font-size="17.8" fill="#111" stroke="#111" stroke-width="0.45">fitted</text>
<text x="1121.6" y="530.5" font-size="17.8" text-anchor="middle" fill="#111" stroke="#111" stroke-width="0.45">conc.</text>
<text x="1121.6" y="551.5" font-size="17.8" text-anchor="middle" fill="#111" stroke="#111" stroke-width="0.45">µM</text>
<path d="M872,775.4l0.5,-29.4 0.4,-24.8 0.5,-20.8 0.5,-17.7 0.5,-14.9 0.4,-12.6 0.5,-10.6 0.5,-9.1 0.4,-7.7 0.5,-6.5 0.5,-5.6 0.5,-4.7 0.9,-7.6 0.9,-5.7 1,-4.3 0.9,-3.3 1,-2.6 0.9,-2.1 0.9,-1.8 1,-1.5 0.9,-1.3 1,-1.2 0.9,-1.1 1,-1 0.9,-0.9 0.9,-0.9 1.9,-1.6 1.9,-1.6 1.9,-1.4 1.9,-1.4 1.9,-1.3 1.8,-1.2 1.9,-1.2 1.9,-1.1 1.9,-1 1.9,-1 1.9,-1 1.8,-0.9 1.9,-0.8 1.9,-0.9 1.9,-0.7 3.8,-1.5 3.7,-1.3 3.8,-1.2 3.8,-1.1 3.7,-0.9 3.8,-0.9 3.8,-0.8 3.7,-0.7 3.8,-0.7 3.8,-0.6 3.7,-0.5 3.8,-0.5 3.8,-0.4 3.8,-0.4 3.7,-0.4 3.8,-0.3 3.8,-0.3 1.8,-0.1 1,0.5 0.9,0.4 1,0.5 0.9,0.5 1,0.4 0.9,0.5 0.9,0.4 1,0.5 0.9,0.4 1,0.4 3.7,1.7 3.8,1.5 3.8,1.4 3.7,1.4 3.8,1.3 3.8,1.2 3.7,1.2 3.8,1 3.8,1 3.7,1 3.8,0.9 3.8,0.8 3.7,0.8 3.8,0.8 3.8,0.7 3.7,0.6 3.8,0.7 3.8,0.6 3.8,0.5 3.7,0.5 3.8,0.5 3.8,0.5 3.7,0.4 3.8,0.4 3.8,0.4 3.7,0.4 3.8,0.3 3.8,0.4" fill="none" stroke="#c4c4c4" stroke-width="3.2" stroke-linejoin="round"/>
<path d="M872,775.4l0.5,-29.4 0.4,-24.8 0.5,-20.8 0.5,-17.7 0.5,-14.9 0.4,-12.6 0.5,-10.6 0.5,-9.1 0.4,-7.7 0.5,-6.5 0.5,-5.6 0.5,-4.7 0.9,-7.6 0.9,-5.7 1,-4.3 0.9,-3.3 1,-2.6 0.9,-2.1 0.9,-1.8 1,-1.5 0.9,-1.3 1,-1.2 0.9,-1.1 1,-1 0.9,-0.9 0.9,-0.9 1.9,-1.6 1.9,-1.6 1.9,-1.4 1.9,-1.4 1.9,-1.3 1.8,-1.2 1.9,-1.2 1.9,-1.1 1.9,-1 1.9,-1 1.9,-1 1.8,-0.9 1.9,-0.8 1.9,-0.9 1.9,-0.7 3.8,-1.5 3.7,-1.3 3.8,-1.2 3.8,-1.1 3.7,-0.9 3.8,-0.9 3.8,-0.8 3.7,-0.7 3.8,-0.7 3.8,-0.6 3.7,-0.5 3.8,-0.5 3.8,-0.4 3.8,-0.4 3.7,-0.4 3.8,-0.3 3.8,-0.3 1.8,-0.1 1,0.5 0.9,0.4 1,0.5 0.9,0.5 1,0.4 0.9,0.5 0.9,0.4 1,0.5 0.9,0.4 1,0.4 3.7,1.7 3.8,1.5 3.8,1.4 3.7,1.4 3.8,1.3 3.8,1.2 3.7,1.2 3.8,1 3.8,1 3.7,1 3.8,0.9 3.8,0.8 3.7,0.8 3.8,0.8 3.8,0.7 3.7,0.6 3.8,0.7 3.8,0.6 3.8,0.5 3.7,0.5 3.8,0.5 3.8,0.5 3.7,0.4 3.8,0.4 3.8,0.4 3.7,0.4 3.8,0.3 3.8,0.4" fill="none" stroke="#d3303a" stroke-width="1.5" stroke-linejoin="round"/>
<text x="1105" y="575.8" font-size="17.8" fill="#111" stroke="#111" stroke-width="0.45">37.6</text>
<path d="M872,775.4l0.5,-22.2 0.4,-19.2 0.5,-16.6 0.5,-14.4 0.5,-12.4 0.4,-10.9 0.5,-9.4 0.5,-8.2 0.4,-7.2 0.5,-6.2 0.5,-5.5 0.5,-4.7 0.9,-8 0.9,-6.1 1,-4.9 0.9,-3.9 1,-3.2 0.9,-2.7 0.9,-2.2 1,-1.9 0.9,-1.7 1,-1.5 0.9,-1.4 1,-1.3 0.9,-1.1 0.9,-1.1 1.9,-2.1 1.9,-1.8 1.9,-1.8 1.9,-1.6 1.9,-1.5 1.8,-1.5 1.9,-1.4 1.9,-1.3 1.9,-1.2 1.9,-1.2 1.9,-1.1 1.8,-1.1 1.9,-1 1.9,-1 1.9,-0.9 3.8,-1.7 3.7,-1.6 3.8,-1.4 3.8,-1.3 3.7,-1.1 3.8,-1 3.8,-1 3.7,-0.8 3.8,-0.8 3.8,-0.7 3.7,-0.6 3.8,-0.6 3.8,-0.5 3.8,-0.5 3.7,-0.4 3.8,-0.4 3.8,-0.3 1.8,-0.2 1,0.6 0.9,0.6 1,0.6 0.9,0.6 1,0.5 0.9,0.6 0.9,0.5 1,0.6 0.9,0.5 1,0.5 3.7,2.1 3.8,1.9 3.8,1.8 3.7,1.7 3.8,1.6 3.8,1.5 3.7,1.4 3.8,1.3 3.8,1.3 3.7,1.2 3.8,1.1 3.8,1 3.7,1 3.8,0.9 3.8,0.9 3.7,0.8 3.8,0.8 3.8,0.7 3.8,0.7 3.7,0.7 3.8,0.6 3.8,0.6 3.7,0.5 3.8,0.5 3.8,0.5 3.7,0.5 3.8,0.4 3.8,0.4" fill="none" stroke="#c4c4c4" stroke-width="3.2" stroke-linejoin="round"/>
<path d="M872,775.4l0.5,-22.2 0.4,-19.2 0.5,-16.6 0.5,-14.4 0.5,-12.4 0.4,-10.9 0.5,-9.4 0.5,-8.2 0.4,-7.2 0.5,-6.2 0.5,-5.5 0.5,-4.7 0.9,-8 0.9,-6.1 1,-4.9 0.9,-3.9 1,-3.2 0.9,-2.7 0.9,-2.2 1,-1.9 0.9,-1.7 1,-1.5 0.9,-1.4 1,-1.3 0.9,-1.1 0.9,-1.1 1.9,-2.1 1.9,-1.8 1.9,-1.8 1.9,-1.6 1.9,-1.5 1.8,-1.5 1.9,-1.4 1.9,-1.3 1.9,-1.2 1.9,-1.2 1.9,-1.1 1.8,-1.1 1.9,-1 1.9,-1 1.9,-0.9 3.8,-1.7 3.7,-1.6 3.8,-1.4 3.8,-1.3 3.7,-1.1 3.8,-1 3.8,-1 3.7,-0.8 3.8,-0.8 3.8,-0.7 3.7,-0.6 3.8,-0.6 3.8,-0.5 3.8,-0.5 3.7,-0.4 3.8,-0.4 3.8,-0.3 1.8,-0.2 1,0.6 0.9,0.6 1,0.6 0.9,0.6 1,0.5 0.9,0.6 0.9,0.5 1,0.6 0.9,0.5 1,0.5 3.7,2.1 3.8,1.9 3.8,1.8 3.7,1.7 3.8,1.6 3.8,1.5 3.7,1.4 3.8,1.3 3.8,1.3 3.7,1.2 3.8,1.1 3.8,1 3.7,1 3.8,0.9 3.8,0.9 3.7,0.8 3.8,0.8 3.8,0.7 3.8,0.7 3.7,0.7 3.8,0.6 3.8,0.6 3.7,0.5 3.8,0.5 3.8,0.5 3.7,0.5 3.8,0.4 3.8,0.4" fill="none" stroke="#a93956" stroke-width="1.5" stroke-linejoin="round"/>
<text x="1105" y="602.5" font-size="17.8" fill="#111" stroke="#111" stroke-width="0.45">16.3</text>
<path d="M872,775.4l0.5,-13.4 0.4,-12.1 0.5,-11.1 0.5,-10.1 0.5,-9.1 0.4,-8.4 0.5,-7.6 0.5,-7 0.4,-6.3 0.5,-5.8 0.5,-5.3 0.5,-4.9 0.9,-8.5 0.9,-7.2 1,-6 0.9,-5.2 1,-4.4 0.9,-3.8 0.9,-3.3 1,-2.8 0.9,-2.5 1,-2.2 0.9,-2 1,-1.8 0.9,-1.6 0.9,-1.4 1.9,-2.6 1.9,-2.2 1.9,-2 1.9,-1.8 1.9,-1.6 1.8,-1.5 1.9,-1.3 1.9,-1.3 1.9,-1.3 1.9,-1.1 1.9,-1.1 1.8,-1 1.9,-1 1.9,-0.9 1.9,-0.9 3.8,-1.7 3.7,-1.4 3.8,-1.4 3.8,-1.2 3.7,-1.1 3.8,-1 3.8,-0.9 3.7,-0.8 3.8,-0.7 3.8,-0.7 3.7,-0.6 3.8,-0.5 3.8,-0.5 3.8,-0.5 3.7,-0.4 3.8,-0.3 3.8,-0.3 1.8,-0.2 1,0.6 0.9,0.6 1,0.6 0.9,0.6 1,0.5 0.9,0.6 0.9,0.5 1,0.6 0.9,0.5 1,0.5 3.7,2.1 3.8,1.9 3.8,1.8 3.7,1.7 3.8,1.6 3.8,1.5 3.7,1.4 3.8,1.3 3.8,1.3 3.7,1.2 3.8,1.1 3.8,1 3.7,1 3.8,0.9 3.8,0.9 3.7,0.8 3.8,0.8 3.8,0.7 3.8,0.7 3.7,0.7 3.8,0.6 3.8,0.6 3.7,0.5 3.8,0.5 3.8,0.5 3.7,0.5 3.8,0.4 3.8,0.4" fill="none" stroke="#c4c4c4" stroke-width="3.2" stroke-linejoin="round"/>
<path d="M872,775.4l0.5,-13.4 0.4,-12.1 0.5,-11.1 0.5,-10.1 0.5,-9.1 0.4,-8.4 0.5,-7.6 0.5,-7 0.4,-6.3 0.5,-5.8 0.5,-5.3 0.5,-4.9 0.9,-8.5 0.9,-7.2 1,-6 0.9,-5.2 1,-4.4 0.9,-3.8 0.9,-3.3 1,-2.8 0.9,-2.5 1,-2.2 0.9,-2 1,-1.8 0.9,-1.6 0.9,-1.4 1.9,-2.6 1.9,-2.2 1.9,-2 1.9,-1.8 1.9,-1.6 1.8,-1.5 1.9,-1.3 1.9,-1.3 1.9,-1.3 1.9,-1.1 1.9,-1.1 1.8,-1 1.9,-1 1.9,-0.9 1.9,-0.9 3.8,-1.7 3.7,-1.4 3.8,-1.4 3.8,-1.2 3.7,-1.1 3.8,-1 3.8,-0.9 3.7,-0.8 3.8,-0.7 3.8,-0.7 3.7,-0.6 3.8,-0.5 3.8,-0.5 3.8,-0.5 3.7,-0.4 3.8,-0.3 3.8,-0.3 1.8,-0.2 1,0.6 0.9,0.6 1,0.6 0.9,0.6 1,0.5 0.9,0.6 0.9,0.5 1,0.6 0.9,0.5 1,0.5 3.7,2.1 3.8,1.9 3.8,1.8 3.7,1.7 3.8,1.6 3.8,1.5 3.7,1.4 3.8,1.3 3.8,1.3 3.7,1.2 3.8,1.1 3.8,1 3.7,1 3.8,0.9 3.8,0.9 3.7,0.8 3.8,0.8 3.8,0.7 3.8,0.7 3.7,0.7 3.8,0.6 3.8,0.6 3.7,0.5 3.8,0.5 3.8,0.5 3.7,0.5 3.8,0.4 3.8,0.4" fill="none" stroke="#804173" stroke-width="1.5" stroke-linejoin="round"/>
<text x="1105" y="624.6" font-size="17.8" fill="#111" stroke="#111" stroke-width="0.45">6.43</text>
<path d="M872,775.4l0.5,-5.9 0.4,-5.7 0.5,-5.4 0.5,-5.2 0.5,-4.9 0.4,-4.8 0.5,-4.5 0.5,-4.4 0.4,-4.2 0.5,-4 0.5,-3.8 0.5,-3.7 0.9,-6.9 0.9,-6.3 1,-5.8 0.9,-5.4 1,-4.9 0.9,-4.6 0.9,-4.1 1,-3.9 0.9,-3.5 1,-3.3 0.9,-3 1,-2.8 0.9,-2.6 0.9,-2.4 1.9,-4.2 1.9,-3.7 1.9,-3.2 1.9,-2.7 1.9,-2.4 1.8,-2.1 1.9,-1.9 1.9,-1.6 1.9,-1.5 1.9,-1.3 1.9,-1.2 1.8,-1.1 1.9,-1 1.9,-0.9 1.9,-0.8 3.8,-1.6 3.7,-1.3 3.8,-1.3 3.8,-1.1 3.7,-1 3.8,-1 3.8,-0.9 3.7,-0.9 3.8,-0.8 3.8,-0.8 3.7,-0.7 3.8,-0.7 3.8,-0.7 3.8,-0.7 3.7,-0.6 3.8,-0.6 3.8,-0.6 1.8,-0.3 1,0.6 0.9,0.5 1,0.5 0.9,0.5 1,0.5 0.9,0.4 0.9,0.5 1,0.5 0.9,0.4 1,0.5 3.7,1.7 3.8,1.7 3.8,1.5 3.7,1.5 3.8,1.4 3.8,1.3 3.7,1.2 3.8,1.1 3.8,1.1 3.7,1 3.8,1 3.8,0.9 3.7,0.8 3.8,0.8 3.8,0.8 3.7,0.7 3.8,0.7 3.8,0.6 3.8,0.6 3.7,0.6 3.8,0.5 3.8,0.5 3.7,0.4 3.8,0.5 3.8,0.4 3.7,0.4 3.8,0.4 3.8,0.3" fill="none" stroke="#c4c4c4" stroke-width="3.2" stroke-linejoin="round"/>
<path d="M872,775.4l0.5,-5.9 0.4,-5.7 0.5,-5.4 0.5,-5.2 0.5,-4.9 0.4,-4.8 0.5,-4.5 0.5,-4.4 0.4,-4.2 0.5,-4 0.5,-3.8 0.5,-3.7 0.9,-6.9 0.9,-6.3 1,-5.8 0.9,-5.4 1,-4.9 0.9,-4.6 0.9,-4.1 1,-3.9 0.9,-3.5 1,-3.3 0.9,-3 1,-2.8 0.9,-2.6 0.9,-2.4 1.9,-4.2 1.9,-3.7 1.9,-3.2 1.9,-2.7 1.9,-2.4 1.8,-2.1 1.9,-1.9 1.9,-1.6 1.9,-1.5 1.9,-1.3 1.9,-1.2 1.8,-1.1 1.9,-1 1.9,-0.9 1.9,-0.8 3.8,-1.6 3.7,-1.3 3.8,-1.3 3.8,-1.1 3.7,-1 3.8,-1 3.8,-0.9 3.7,-0.9 3.8,-0.8 3.8,-0.8 3.7,-0.7 3.8,-0.7 3.8,-0.7 3.8,-0.7 3.7,-0.6 3.8,-0.6 3.8,-0.6 1.8,-0.3 1,0.6 0.9,0.5 1,0.5 0.9,0.5 1,0.5 0.9,0.4 0.9,0.5 1,0.5 0.9,0.4 1,0.5 3.7,1.7 3.8,1.7 3.8,1.5 3.7,1.5 3.8,1.4 3.8,1.3 3.7,1.2 3.8,1.1 3.8,1.1 3.7,1 3.8,1 3.8,0.9 3.7,0.8 3.8,0.8 3.8,0.8 3.7,0.7 3.8,0.7 3.8,0.6 3.8,0.6 3.7,0.6 3.8,0.5 3.8,0.5 3.7,0.4 3.8,0.5 3.8,0.4 3.7,0.4 3.8,0.4 3.8,0.3" fill="none" stroke="#564a8f" stroke-width="1.5" stroke-linejoin="round"/>
<text x="1105" y="645.7" font-size="17.8" fill="#111" stroke="#111" stroke-width="0.45">2.63</text>
<path d="M872,775.4l0.5,-2.8 0.4,-2.7 0.5,-2.7 0.5,-2.6 0.5,-2.5 0.4,-2.5 0.5,-2.5 0.5,-2.4 0.4,-2.3 0.5,-2.3 0.5,-2.2 0.5,-2.2 0.9,-4.2 0.9,-4.1 1,-3.9 0.9,-3.7 1,-3.6 0.9,-3.4 0.9,-3.3 1,-3.1 0.9,-3 1,-2.9 0.9,-2.7 1,-2.6 0.9,-2.6 0.9,-2.4 1.9,-4.5 1.9,-4.2 1.9,-3.8 1.9,-3.5 1.9,-3.3 1.8,-3 1.9,-2.7 1.9,-2.5 1.9,-2.3 1.9,-2.2 1.9,-2 1.8,-1.8 1.9,-1.7 1.9,-1.5 1.9,-1.4 3.8,-2.6 3.7,-2.2 3.8,-1.9 3.8,-1.6 3.7,-1.4 3.8,-1.2 3.8,-1.1 3.7,-0.9 3.8,-0.9 3.8,-0.7 3.7,-0.6 3.8,-0.6 3.8,-0.6 3.8,-0.4 3.7,-0.5 3.8,-0.3 3.8,-0.4 1.8,-0.2 1,0.4 0.9,0.4 1,0.4 0.9,0.3 1,0.4 0.9,0.4 0.9,0.3 1,0.4 0.9,0.3 1,0.3 3.7,1.3 3.8,1.3 3.8,1.1 3.7,1.1 3.8,1 3.8,1 3.7,0.9 3.8,0.8 3.8,0.8 3.7,0.8 3.8,0.7 3.8,0.7 3.7,0.6 3.8,0.6 3.8,0.5 3.7,0.6 3.8,0.5 3.8,0.4 3.8,0.5 3.7,0.4 3.8,0.4 3.8,0.3 3.7,0.4 3.8,0.3 3.8,0.3 3.7,0.3 3.8,0.3 3.8,0.2" fill="none" stroke="#c4c4c4" stroke-width="3.2" stroke-linejoin="round"/>
<path d="M872,775.4l0.5,-2.8 0.4,-2.7 0.5,-2.7 0.5,-2.6 0.5,-2.5 0.4,-2.5 0.5,-2.5 0.5,-2.4 0.4,-2.3 0.5,-2.3 0.5,-2.2 0.5,-2.2 0.9,-4.2 0.9,-4.1 1,-3.9 0.9,-3.7 1,-3.6 0.9,-3.4 0.9,-3.3 1,-3.1 0.9,-3 1,-2.9 0.9,-2.7 1,-2.6 0.9,-2.6 0.9,-2.4 1.9,-4.5 1.9,-4.2 1.9,-3.8 1.9,-3.5 1.9,-3.3 1.8,-3 1.9,-2.7 1.9,-2.5 1.9,-2.3 1.9,-2.2 1.9,-2 1.8,-1.8 1.9,-1.7 1.9,-1.5 1.9,-1.4 3.8,-2.6 3.7,-2.2 3.8,-1.9 3.8,-1.6 3.7,-1.4 3.8,-1.2 3.8,-1.1 3.7,-0.9 3.8,-0.9 3.8,-0.7 3.7,-0.6 3.8,-0.6 3.8,-0.6 3.8,-0.4 3.7,-0.5 3.8,-0.3 3.8,-0.4 1.8,-0.2 1,0.4 0.9,0.4 1,0.4 0.9,0.3 1,0.4 0.9,0.4 0.9,0.3 1,0.4 0.9,0.3 1,0.3 3.7,1.3 3.8,1.3 3.8,1.1 3.7,1.1 3.8,1 3.8,1 3.7,0.9 3.8,0.8 3.8,0.8 3.7,0.8 3.8,0.7 3.8,0.7 3.7,0.6 3.8,0.6 3.8,0.5 3.7,0.6 3.8,0.5 3.8,0.4 3.8,0.5 3.7,0.4 3.8,0.4 3.8,0.3 3.7,0.4 3.8,0.3 3.8,0.3 3.7,0.3 3.8,0.3 3.8,0.2" fill="none" stroke="#3d4fa0" stroke-width="1.5" stroke-linejoin="round"/>
<text x="1105" y="669.3" font-size="17.8" fill="#111" stroke="#111" stroke-width="0.45">1.08</text>
<path d="M872,775.4l0.5,-0.7 0.4,-0.7 0.5,-0.6 0.5,-0.7 0.5,-0.7 0.4,-0.6 0.5,-0.7 0.5,-0.7 0.4,-0.6 0.5,-0.7 0.5,-0.6 0.5,-0.6 0.9,-1.3 0.9,-1.3 1,-1.2 0.9,-1.2 1,-1.2 0.9,-1.2 0.9,-1.2 1,-1.2 0.9,-1.1 1,-1.2 0.9,-1.1 1,-1.1 0.9,-1.1 0.9,-1.1 1.9,-2.1 1.9,-2.1 1.9,-2 1.9,-2 1.9,-2 1.8,-1.8 1.9,-1.9 1.9,-1.8 1.9,-1.8 1.9,-1.7 1.9,-1.6 1.8,-1.7 1.9,-1.6 1.9,-1.5 1.9,-1.6 3.8,-2.9 3.7,-2.8 3.8,-2.7 3.8,-2.5 3.7,-2.5 3.8,-2.3 3.8,-2.2 3.7,-2.1 3.8,-2 3.8,-1.9 3.7,-1.8 3.8,-1.7 3.8,-1.7 3.8,-1.6 3.7,-1.5 3.8,-1.4 3.8,-1.4 1.8,-0.6 1,0.1 0.9,0.1 1,0.1 0.9,0.1 1,0 0.9,0.1 0.9,0.1 1,0.1 0.9,0.1 1,0.1 3.7,0.3 3.8,0.3 3.8,0.3 3.7,0.3 3.8,0.3 3.8,0.3 3.7,0.2 3.8,0.3 3.8,0.2 3.7,0.3 3.8,0.2 3.8,0.2 3.7,0.2 3.8,0.2 3.8,0.2 3.7,0.2 3.8,0.2 3.8,0.1 3.8,0.2 3.7,0.1 3.8,0.2 3.8,0.1 3.7,0.2 3.8,0.1 3.8,0.1 3.7,0.1 3.8,0.2 3.8,0.1" fill="none" stroke="#c4c4c4" stroke-width="3.2" stroke-linejoin="round"/>
<path d="M872,775.4l0.5,-0.7 0.4,-0.7 0.5,-0.6 0.5,-0.7 0.5,-0.7 0.4,-0.6 0.5,-0.7 0.5,-0.7 0.4,-0.6 0.5,-0.7 0.5,-0.6 0.5,-0.6 0.9,-1.3 0.9,-1.3 1,-1.2 0.9,-1.2 1,-1.2 0.9,-1.2 0.9,-1.2 1,-1.2 0.9,-1.1 1,-1.2 0.9,-1.1 1,-1.1 0.9,-1.1 0.9,-1.1 1.9,-2.1 1.9,-2.1 1.9,-2 1.9,-2 1.9,-2 1.8,-1.8 1.9,-1.9 1.9,-1.8 1.9,-1.8 1.9,-1.7 1.9,-1.6 1.8,-1.7 1.9,-1.6 1.9,-1.5 1.9,-1.6 3.8,-2.9 3.7,-2.8 3.8,-2.7 3.8,-2.5 3.7,-2.5 3.8,-2.3 3.8,-2.2 3.7,-2.1 3.8,-2 3.8,-1.9 3.7,-1.8 3.8,-1.7 3.8,-1.7 3.8,-1.6 3.7,-1.5 3.8,-1.4 3.8,-1.4 1.8,-0.6 1,0.1 0.9,0.1 1,0.1 0.9,0.1 1,0 0.9,0.1 0.9,0.1 1,0.1 0.9,0.1 1,0.1 3.7,0.3 3.8,0.3 3.8,0.3 3.7,0.3 3.8,0.3 3.8,0.3 3.7,0.2 3.8,0.3 3.8,0.2 3.7,0.3 3.8,0.2 3.8,0.2 3.7,0.2 3.8,0.2 3.8,0.2 3.7,0.2 3.8,0.2 3.8,0.1 3.8,0.2 3.7,0.1 3.8,0.2 3.8,0.1 3.7,0.2 3.8,0.1 3.8,0.1 3.7,0.1 3.8,0.2 3.8,0.1" fill="none" stroke="#3d4fa0" stroke-width="1.5" stroke-linejoin="round"/>
<text x="1105" y="700.9" font-size="17.8" fill="#111" stroke="#111" stroke-width="0.45">0.44</text>
<path d="M872,775.4l0.5,-0.1 0.4,-0.2 0.5,-0.1 0.5,-0.2 0.5,-0.1 0.4,-0.1 0.5,-0.2 0.5,-0.1 0.4,-0.2 0.5,-0.1 0.5,-0.1 0.5,-0.2 0.9,-0.2 0.9,-0.3 1,-0.2 0.9,-0.3 1,-0.2 0.9,-0.3 0.9,-0.2 1,-0.3 0.9,-0.2 1,-0.2 0.9,-0.2 1,-0.3 0.9,-0.2 0.9,-0.2 1.9,-0.4 1.9,-0.4 1.9,-0.4 1.9,-0.4 1.9,-0.4 1.8,-0.4 1.9,-0.3 1.9,-0.4 1.9,-0.3 1.9,-0.3 1.9,-0.3 1.8,-0.3 1.9,-0.3 1.9,-0.3 1.9,-0.3 3.8,-0.5 3.7,-0.5 3.8,-0.5 3.8,-0.4 3.7,-0.5 3.8,-0.3 3.8,-0.4 3.7,-0.4 3.8,-0.3 3.8,-0.3 3.7,-0.3 3.8,-0.3 3.8,-0.2 3.8,-0.3 3.7,-0.2 3.8,-0.2 3.8,-0.2 1.8,-0.1 1,0 0.9,0 1,0 0.9,0 1,0 0.9,0 0.9,0 1,0 0.9,0 1,0 3.7,0 3.8,0 3.8,0 3.7,0 3.8,0 3.8,0 3.7,0 3.8,0 3.8,0 3.7,0 3.8,0 3.8,0 3.7,0 3.8,0 3.8,0 3.7,0 3.8,0 3.8,0 3.8,0 3.7,0 3.8,0 3.8,0 3.7,0 3.8,0 3.8,0 3.7,0 3.8,0 3.8,0" fill="none" stroke="#c4c4c4" stroke-width="3.2" stroke-linejoin="round"/>
<path d="M872,775.4l0.5,-0.1 0.4,-0.2 0.5,-0.1 0.5,-0.2 0.5,-0.1 0.4,-0.1 0.5,-0.2 0.5,-0.1 0.4,-0.2 0.5,-0.1 0.5,-0.1 0.5,-0.2 0.9,-0.2 0.9,-0.3 1,-0.2 0.9,-0.3 1,-0.2 0.9,-0.3 0.9,-0.2 1,-0.3 0.9,-0.2 1,-0.2 0.9,-0.2 1,-0.3 0.9,-0.2 0.9,-0.2 1.9,-0.4 1.9,-0.4 1.9,-0.4 1.9,-0.4 1.9,-0.4 1.8,-0.4 1.9,-0.3 1.9,-0.4 1.9,-0.3 1.9,-0.3 1.9,-0.3 1.8,-0.3 1.9,-0.3 1.9,-0.3 1.9,-0.3 3.8,-0.5 3.7,-0.5 3.8,-0.5 3.8,-0.4 3.7,-0.5 3.8,-0.3 3.8,-0.4 3.7,-0.4 3.8,-0.3 3.8,-0.3 3.7,-0.3 3.8,-0.3 3.8,-0.2 3.8,-0.3 3.7,-0.2 3.8,-0.2 3.8,-0.2 1.8,-0.1 1,0 0.9,0 1,0 0.9,0 1,0 0.9,0 0.9,0 1,0 0.9,0 1,0 3.7,0 3.8,0 3.8,0 3.7,0 3.8,0 3.8,0 3.7,0 3.8,0 3.8,0 3.7,0 3.8,0 3.8,0 3.7,0 3.8,0 3.8,0 3.7,0 3.8,0 3.8,0 3.8,0 3.7,0 3.8,0 3.8,0 3.7,0 3.8,0 3.8,0 3.7,0 3.8,0 3.8,0" fill="none" stroke="#3d4fa0" stroke-width="1.5" stroke-linejoin="round"/>
<text x="1105" y="762.7" font-size="17.8" fill="#111" stroke="#111" stroke-width="0.45">0.18</text>
<line x1="1205.6" y1="543.8" x2="1205.6" y2="777.9" stroke="#111" stroke-width="1.6" />
<line x1="1199.1" y1="777.1" x2="1205.6" y2="777.1" stroke="#111" stroke-width="1.5" />
<text x="1193" y="777.1" font-size="17.8" text-anchor="middle" fill="#111" stroke="#111" stroke-width="0.45" transform="rotate(-90 1193 777.1)">0</text>
<line x1="1199.1" y1="718.8" x2="1205.6" y2="718.8" stroke="#111" stroke-width="1.5" />
<text x="1193" y="718.8" font-size="17.8" text-anchor="middle" fill="#111" stroke="#111" stroke-width="0.45" transform="rotate(-90 1193 718.8)">5</text>
<line x1="1199.1" y1="660.5" x2="1205.6" y2="660.5" stroke="#111" stroke-width="1.5" />
<text x="1193" y="660.5" font-size="17.8" text-anchor="middle" fill="#111" stroke="#111" stroke-width="0.45" transform="rotate(-90 1193 660.5)">10</text>
<line x1="1199.1" y1="602.2" x2="1205.6" y2="602.2" stroke="#111" stroke-width="1.5" />
<text x="1193" y="602.2" font-size="17.8" text-anchor="middle" fill="#111" stroke="#111" stroke-width="0.45" transform="rotate(-90 1193 602.2)">15</text>
<line x1="1199.1" y1="543.9" x2="1205.6" y2="543.9" stroke="#111" stroke-width="1.5" />
<text x="1193" y="543.9" font-size="17.8" text-anchor="middle" fill="#111" stroke="#111" stroke-width="0.45" transform="rotate(-90 1193 543.9)">20</text>
<line x1="1213.2" y1="785.7" x2="1481.6" y2="785.7" stroke="#111" stroke-width="1.6" />
<line x1="1214" y1="785.7" x2="1214" y2="791.7" stroke="#111" stroke-width="1.5" />
<text x="1214" y="808.5" font-size="17.8" text-anchor="middle" fill="#111" stroke="#111" stroke-width="0.45">0</text>
<line x1="1260.7" y1="785.7" x2="1260.7" y2="791.7" stroke="#111" stroke-width="1.5" />
<text x="1260.7" y="808.5" font-size="17.8" text-anchor="middle" fill="#111" stroke="#111" stroke-width="0.45">50</text>
<line x1="1307.4" y1="785.7" x2="1307.4" y2="791.7" stroke="#111" stroke-width="1.5" />
<text x="1307.4" y="808.5" font-size="17.8" text-anchor="middle" fill="#111" stroke="#111" stroke-width="0.45">100</text>
<line x1="1354.1" y1="785.7" x2="1354.1" y2="791.7" stroke="#111" stroke-width="1.5" />
<text x="1354.1" y="808.5" font-size="17.8" text-anchor="middle" fill="#111" stroke="#111" stroke-width="0.45">150</text>
<line x1="1400.8" y1="785.7" x2="1400.8" y2="791.7" stroke="#111" stroke-width="1.5" />
<text x="1400.8" y="808.5" font-size="17.8" text-anchor="middle" fill="#111" stroke="#111" stroke-width="0.45">200</text>
<line x1="1447.5" y1="785.7" x2="1447.5" y2="791.7" stroke="#111" stroke-width="1.5" />
<text x="1447.5" y="808.5" font-size="17.8" text-anchor="middle" fill="#111" stroke="#111" stroke-width="0.45">250</text>
<text x="1330.5" y="837.7" font-size="17.8" text-anchor="middle" fill="#111" stroke="#111" stroke-width="0.45">Time (sec)</text>
<text x="1173" y="657.6" font-size="17.8" text-anchor="middle" fill="#111" stroke="#111" stroke-width="0.45" transform="rotate(-90 1173 657.6)">Binding (nm)</text>
<line x1="1326.08" y1="545" x2="1326.08" y2="785.7" stroke="#333" stroke-width="1.1" stroke-dasharray="3,2.5"/>
<text x="1264.4" y="502.3" font-size="21.3" fill="#111" stroke="#111" stroke-width="0.45">GST-Dvir CXC</text>
<line x1="1219.6" y1="521" x2="1237.5" y2="521" stroke="#bbbbbb" stroke-width="3.2" />
<defs><linearGradient id="lg1220" x1="0" x2="1"><stop offset="0" stop-color="#3d5aa8"/><stop offset="1" stop-color="#d3303a"/></linearGradient></defs>
<rect x="1219.6" y="535.5" width="17.9" height="3" fill="url(#lg1220)" />
<text x="1245" y="525.5" font-size="17.8" fill="#111" stroke="#111" stroke-width="0.45">observed</text>
<text x="1245" y="541.5" font-size="17.8" fill="#111" stroke="#111" stroke-width="0.45">fitted</text>
<text x="1466.7" y="530.3" font-size="17.8" text-anchor="middle" fill="#111" stroke="#111" stroke-width="0.45">conc.</text>
<text x="1466.7" y="551.3" font-size="17.8" text-anchor="middle" fill="#111" stroke="#111" stroke-width="0.45">µM</text>
<path d="M1214,777.1l0.5,-18.5 0.4,-16.5 0.5,-14.5 0.5,-13 0.4,-11.5 0.5,-10.2 0.5,-9.1 0.4,-8.1 0.5,-7.2 0.5,-6.5 0.4,-5.8 0.5,-5.1 0.9,-8.8 1,-7.1 0.9,-5.7 0.9,-4.8 1,-3.9 0.9,-3.3 0.9,-2.8 1,-2.4 0.9,-2.1 0.9,-1.8 1,-1.7 0.9,-1.4 0.9,-1.4 1,-1.2 1.8,-2.3 1.9,-1.9 1.9,-1.8 1.9,-1.7 1.8,-1.6 1.9,-1.4 1.9,-1.4 1.8,-1.3 1.9,-1.2 1.9,-1.2 1.8,-1.1 1.9,-1.1 1.9,-1 1.8,-0.9 1.9,-0.9 3.7,-1.7 3.8,-1.6 3.7,-1.3 3.7,-1.3 3.8,-1.1 3.7,-1 3.8,-1 3.7,-0.8 3.7,-0.8 3.8,-0.6 3.7,-0.7 3.7,-0.5 3.8,-0.5 3.7,-0.5 3.7,-0.4 3.8,-0.4 3.7,-0.3 1.9,-0.2 0.9,0.2 0.9,0.2 1,0.2 0.9,0.2 1,0.2 0.9,0.2 0.9,0.2 1,0.2 0.9,0.2 0.9,0.1 3.8,0.7 3.7,0.7 3.7,0.6 3.8,0.6 3.7,0.5 3.7,0.5 3.8,0.5 3.7,0.5 3.7,0.4 3.8,0.4 3.7,0.4 3.8,0.3 3.7,0.4 3.7,0.3 3.8,0.3 3.7,0.3 3.7,0.2 3.8,0.3 3.7,0.2 3.7,0.2 3.8,0.2 3.7,0.2 3.7,0.2 3.8,0.2 3.7,0.1 3.8,0.2 3.7,0.1 3.7,0.2" fill="none" stroke="#c4c4c4" stroke-width="3.2" stroke-linejoin="round"/>
<path d="M1214,777.1l0.5,-18.5 0.4,-16.5 0.5,-14.5 0.5,-13 0.4,-11.5 0.5,-10.2 0.5,-9.1 0.4,-8.1 0.5,-7.2 0.5,-6.5 0.4,-5.8 0.5,-5.1 0.9,-8.8 1,-7.1 0.9,-5.7 0.9,-4.8 1,-3.9 0.9,-3.3 0.9,-2.8 1,-2.4 0.9,-2.1 0.9,-1.8 1,-1.7 0.9,-1.4 0.9,-1.4 1,-1.2 1.8,-2.3 1.9,-1.9 1.9,-1.8 1.9,-1.7 1.8,-1.6 1.9,-1.4 1.9,-1.4 1.8,-1.3 1.9,-1.2 1.9,-1.2 1.8,-1.1 1.9,-1.1 1.9,-1 1.8,-0.9 1.9,-0.9 3.7,-1.7 3.8,-1.6 3.7,-1.3 3.7,-1.3 3.8,-1.1 3.7,-1 3.8,-1 3.7,-0.8 3.7,-0.8 3.8,-0.6 3.7,-0.7 3.7,-0.5 3.8,-0.5 3.7,-0.5 3.7,-0.4 3.8,-0.4 3.7,-0.3 1.9,-0.2 0.9,0.2 0.9,0.2 1,0.2 0.9,0.2 1,0.2 0.9,0.2 0.9,0.2 1,0.2 0.9,0.2 0.9,0.1 3.8,0.7 3.7,0.7 3.7,0.6 3.8,0.6 3.7,0.5 3.7,0.5 3.8,0.5 3.7,0.5 3.7,0.4 3.8,0.4 3.7,0.4 3.8,0.3 3.7,0.4 3.7,0.3 3.8,0.3 3.7,0.3 3.7,0.2 3.8,0.3 3.7,0.2 3.7,0.2 3.8,0.2 3.7,0.2 3.7,0.2 3.8,0.2 3.7,0.1 3.8,0.2 3.7,0.1 3.7,0.2" fill="none" stroke="#d3303a" stroke-width="1.5" stroke-linejoin="round"/>
<text x="1449.5" y="585.3" font-size="17.8" fill="#111" stroke="#111" stroke-width="0.45">30.5</text>
<path d="M1214,777.1l0.5,-17.3 0.4,-15.3 0.5,-13.5 0.5,-12.1 0.4,-10.7 0.5,-9.4 0.5,-8.5 0.4,-7.5 0.5,-6.7 0.5,-5.9 0.4,-5.3 0.5,-4.8 0.9,-8 1,-6.5 0.9,-5.3 0.9,-4.2 1,-3.6 0.9,-2.9 0.9,-2.5 1,-2.1 0.9,-1.8 0.9,-1.6 1,-1.4 0.9,-1.2 0.9,-1.1 1,-1.1 1.8,-1.8 1.9,-1.6 1.9,-1.5 1.9,-1.4 1.8,-1.2 1.9,-1.2 1.9,-1.1 1.8,-1 1.9,-1 1.9,-1 1.8,-0.9 1.9,-0.8 1.9,-0.8 1.8,-0.8 1.9,-0.7 3.7,-1.4 3.8,-1.2 3.7,-1.1 3.7,-1 3.8,-0.9 3.7,-0.9 3.8,-0.7 3.7,-0.7 3.7,-0.6 3.8,-0.5 3.7,-0.5 3.7,-0.5 3.8,-0.4 3.7,-0.4 3.7,-0.3 3.8,-0.3 3.7,-0.3 1.9,-0.1 0.9,0.3 0.9,0.3 1,0.3 0.9,0.2 1,0.3 0.9,0.3 0.9,0.2 1,0.3 0.9,0.2 0.9,0.3 3.8,1 3.7,0.9 3.7,0.8 3.8,0.8 3.7,0.8 3.7,0.7 3.8,0.7 3.7,0.6 3.7,0.6 3.8,0.6 3.7,0.5 3.8,0.5 3.7,0.5 3.7,0.4 3.8,0.4 3.7,0.4 3.7,0.4 3.8,0.4 3.7,0.3 3.7,0.3 3.8,0.3 3.7,0.3 3.7,0.2 3.8,0.3 3.7,0.2 3.8,0.2 3.7,0.2 3.7,0.2" fill="none" stroke="#c4c4c4" stroke-width="3.2" stroke-linejoin="round"/>
<path d="M1214,777.1l0.5,-17.3 0.4,-15.3 0.5,-13.5 0.5,-12.1 0.4,-10.7 0.5,-9.4 0.5,-8.5 0.4,-7.5 0.5,-6.7 0.5,-5.9 0.4,-5.3 0.5,-4.8 0.9,-8 1,-6.5 0.9,-5.3 0.9,-4.2 1,-3.6 0.9,-2.9 0.9,-2.5 1,-2.1 0.9,-1.8 0.9,-1.6 1,-1.4 0.9,-1.2 0.9,-1.1 1,-1.1 1.8,-1.8 1.9,-1.6 1.9,-1.5 1.9,-1.4 1.8,-1.2 1.9,-1.2 1.9,-1.1 1.8,-1 1.9,-1 1.9,-1 1.8,-0.9 1.9,-0.8 1.9,-0.8 1.8,-0.8 1.9,-0.7 3.7,-1.4 3.8,-1.2 3.7,-1.1 3.7,-1 3.8,-0.9 3.7,-0.9 3.8,-0.7 3.7,-0.7 3.7,-0.6 3.8,-0.5 3.7,-0.5 3.7,-0.5 3.8,-0.4 3.7,-0.4 3.7,-0.3 3.8,-0.3 3.7,-0.3 1.9,-0.1 0.9,0.3 0.9,0.3 1,0.3 0.9,0.2 1,0.3 0.9,0.3 0.9,0.2 1,0.3 0.9,0.2 0.9,0.3 3.8,1 3.7,0.9 3.7,0.8 3.8,0.8 3.7,0.8 3.7,0.7 3.8,0.7 3.7,0.6 3.7,0.6 3.8,0.6 3.7,0.5 3.8,0.5 3.7,0.5 3.7,0.4 3.8,0.4 3.7,0.4 3.7,0.4 3.8,0.4 3.7,0.3 3.7,0.3 3.8,0.3 3.7,0.3 3.7,0.2 3.8,0.3 3.7,0.2 3.8,0.2 3.7,0.2 3.7,0.2" fill="none" stroke="#b4364f" stroke-width="1.5" stroke-linejoin="round"/>
<text x="1449.5" y="604.4" font-size="17.8" fill="#111" stroke="#111" stroke-width="0.45">20.3</text>
<path d="M1214,777.1l0.5,-16.6 0.4,-14.8 0.5,-13 0.5,-11.6 0.4,-10.3 0.5,-9.1 0.5,-8.2 0.4,-7.2 0.5,-6.4 0.5,-5.8 0.4,-5.1 0.5,-4.5 0.9,-7.8 1,-6.2 0.9,-5.1 0.9,-4.1 1,-3.4 0.9,-2.8 0.9,-2.4 1,-2 0.9,-1.8 0.9,-1.5 1,-1.3 0.9,-1.2 0.9,-1.1 1,-1 1.8,-1.8 1.9,-1.6 1.9,-1.4 1.9,-1.3 1.8,-1.2 1.9,-1.1 1.9,-1.1 1.8,-1 1.9,-1 1.9,-0.9 1.8,-0.8 1.9,-0.8 1.9,-0.8 1.8,-0.8 1.9,-0.7 3.7,-1.3 3.8,-1.2 3.7,-1 3.7,-1 3.8,-0.9 3.7,-0.8 3.8,-0.7 3.7,-0.6 3.7,-0.6 3.8,-0.5 3.7,-0.5 3.7,-0.4 3.8,-0.4 3.7,-0.4 3.7,-0.3 3.8,-0.3 3.7,-0.3 1.9,-0.1 0.9,0.2 0.9,0.1 1,0.2 0.9,0.1 1,0.2 0.9,0.2 0.9,0.1 1,0.1 0.9,0.2 0.9,0.1 3.8,0.6 3.7,0.5 3.7,0.5 3.8,0.5 3.7,0.4 3.7,0.4 3.8,0.4 3.7,0.4 3.7,0.3 3.8,0.3 3.7,0.3 3.8,0.3 3.7,0.3 3.7,0.2 3.8,0.3 3.7,0.2 3.7,0.2 3.8,0.2 3.7,0.2 3.7,0.2 3.8,0.1 3.7,0.2 3.7,0.1 3.8,0.2 3.7,0.1 3.8,0.1 3.7,0.1 3.7,0.2" fill="none" stroke="#c4c4c4" stroke-width="3.2" stroke-linejoin="round"/>
<path d="M1214,777.1l0.5,-16.6 0.4,-14.8 0.5,-13 0.5,-11.6 0.4,-10.3 0.5,-9.1 0.5,-8.2 0.4,-7.2 0.5,-6.4 0.5,-5.8 0.4,-5.1 0.5,-4.5 0.9,-7.8 1,-6.2 0.9,-5.1 0.9,-4.1 1,-3.4 0.9,-2.8 0.9,-2.4 1,-2 0.9,-1.8 0.9,-1.5 1,-1.3 0.9,-1.2 0.9,-1.1 1,-1 1.8,-1.8 1.9,-1.6 1.9,-1.4 1.9,-1.3 1.8,-1.2 1.9,-1.1 1.9,-1.1 1.8,-1 1.9,-1 1.9,-0.9 1.8,-0.8 1.9,-0.8 1.9,-0.8 1.8,-0.8 1.9,-0.7 3.7,-1.3 3.8,-1.2 3.7,-1 3.7,-1 3.8,-0.9 3.7,-0.8 3.8,-0.7 3.7,-0.6 3.7,-0.6 3.8,-0.5 3.7,-0.5 3.7,-0.4 3.8,-0.4 3.7,-0.4 3.7,-0.3 3.8,-0.3 3.7,-0.3 1.9,-0.1 0.9,0.2 0.9,0.1 1,0.2 0.9,0.1 1,0.2 0.9,0.2 0.9,0.1 1,0.1 0.9,0.2 0.9,0.1 3.8,0.6 3.7,0.5 3.7,0.5 3.8,0.5 3.7,0.4 3.7,0.4 3.8,0.4 3.7,0.4 3.7,0.3 3.8,0.3 3.7,0.3 3.8,0.3 3.7,0.3 3.7,0.2 3.8,0.3 3.7,0.2 3.7,0.2 3.8,0.2 3.7,0.2 3.7,0.2 3.8,0.1 3.7,0.2 3.7,0.1 3.8,0.2 3.7,0.1 3.8,0.1 3.7,0.1 3.7,0.2" fill="none" stroke="#943d64" stroke-width="1.5" stroke-linejoin="round"/>
<text x="1449.5" y="617.8" font-size="17.8" fill="#111" stroke="#111" stroke-width="0.45">15.2</text>
<path d="M1214,777.1l0.5,-11.7 0.4,-10.7 0.5,-9.8 0.5,-9 0.4,-8.2 0.5,-7.6 0.5,-6.9 0.4,-6.4 0.5,-5.8 0.5,-5.4 0.4,-4.9 0.5,-4.5 0.9,-8 1,-6.8 0.9,-5.8 0.9,-4.8 1,-4.2 0.9,-3.6 0.9,-3 1,-2.7 0.9,-2.3 0.9,-1.9 1,-1.8 0.9,-1.5 0.9,-1.4 1,-1.2 1.8,-2 1.9,-1.7 1.9,-1.4 1.9,-1.2 1.8,-1 1.9,-1 1.9,-0.9 1.8,-0.8 1.9,-0.7 1.9,-0.7 1.8,-0.7 1.9,-0.6 1.9,-0.6 1.8,-0.6 1.9,-0.6 3.7,-1 3.8,-0.9 3.7,-0.9 3.7,-0.8 3.8,-0.8 3.7,-0.7 3.8,-0.6 3.7,-0.6 3.7,-0.5 3.8,-0.5 3.7,-0.5 3.7,-0.4 3.8,-0.4 3.7,-0.3 3.7,-0.4 3.8,-0.3 3.7,-0.3 1.9,-0.1 0.9,0.3 0.9,0.3 1,0.3 0.9,0.3 1,0.3 0.9,0.3 0.9,0.3 1,0.2 0.9,0.3 0.9,0.3 3.8,1 3.7,1 3.7,0.9 3.8,0.9 3.7,0.8 3.7,0.7 3.8,0.8 3.7,0.6 3.7,0.7 3.8,0.6 3.7,0.6 3.8,0.5 3.7,0.5 3.7,0.5 3.8,0.4 3.7,0.4 3.7,0.4 3.8,0.4 3.7,0.4 3.7,0.3 3.8,0.3 3.7,0.3 3.7,0.3 3.8,0.2 3.7,0.3 3.8,0.2 3.7,0.2 3.7,0.2" fill="none" stroke="#c4c4c4" stroke-width="3.2" stroke-linejoin="round"/>
<path d="M1214,777.1l0.5,-11.7 0.4,-10.7 0.5,-9.8 0.5,-9 0.4,-8.2 0.5,-7.6 0.5,-6.9 0.4,-6.4 0.5,-5.8 0.5,-5.4 0.4,-4.9 0.5,-4.5 0.9,-8 1,-6.8 0.9,-5.8 0.9,-4.8 1,-4.2 0.9,-3.6 0.9,-3 1,-2.7 0.9,-2.3 0.9,-1.9 1,-1.8 0.9,-1.5 0.9,-1.4 1,-1.2 1.8,-2 1.9,-1.7 1.9,-1.4 1.9,-1.2 1.8,-1 1.9,-1 1.9,-0.9 1.8,-0.8 1.9,-0.7 1.9,-0.7 1.8,-0.7 1.9,-0.6 1.9,-0.6 1.8,-0.6 1.9,-0.6 3.7,-1 3.8,-0.9 3.7,-0.9 3.7,-0.8 3.8,-0.8 3.7,-0.7 3.8,-0.6 3.7,-0.6 3.7,-0.5 3.8,-0.5 3.7,-0.5 3.7,-0.4 3.8,-0.4 3.7,-0.3 3.7,-0.4 3.8,-0.3 3.7,-0.3 1.9,-0.1 0.9,0.3 0.9,0.3 1,0.3 0.9,0.3 1,0.3 0.9,0.3 0.9,0.3 1,0.2 0.9,0.3 0.9,0.3 3.8,1 3.7,1 3.7,0.9 3.8,0.9 3.7,0.8 3.7,0.7 3.8,0.8 3.7,0.6 3.7,0.7 3.8,0.6 3.7,0.6 3.8,0.5 3.7,0.5 3.7,0.5 3.8,0.4 3.7,0.4 3.7,0.4 3.8,0.4 3.7,0.4 3.7,0.3 3.8,0.3 3.7,0.3 3.7,0.3 3.8,0.2 3.7,0.3 3.8,0.2 3.7,0.2 3.7,0.2" fill="none" stroke="#75437a" stroke-width="1.5" stroke-linejoin="round"/>
<text x="1449.5" y="634.7" font-size="17.8" fill="#111" stroke="#111" stroke-width="0.45">7.62</text>
<path d="M1214,777.1l0.5,-5.6 0.4,-5.4 0.5,-5.1 0.5,-4.9 0.4,-4.7 0.5,-4.5 0.5,-4.3 0.4,-4.2 0.5,-3.9 0.5,-3.8 0.4,-3.6 0.5,-3.5 0.9,-6.5 1,-6 0.9,-5.5 0.9,-5.1 1,-4.6 0.9,-4.2 0.9,-4 1,-3.6 0.9,-3.3 0.9,-3 1,-2.8 0.9,-2.6 0.9,-2.4 1,-2.2 1.8,-3.9 1.9,-3.4 1.9,-2.9 1.9,-2.4 1.8,-2.2 1.9,-1.8 1.9,-1.6 1.8,-1.4 1.9,-1.3 1.9,-1.1 1.8,-0.9 1.9,-0.9 1.9,-0.8 1.8,-0.7 1.9,-0.6 3.7,-1.2 3.8,-0.9 3.7,-0.9 3.7,-0.7 3.8,-0.7 3.7,-0.6 3.8,-0.5 3.7,-0.5 3.7,-0.5 3.8,-0.4 3.7,-0.4 3.7,-0.4 3.8,-0.3 3.7,-0.4 3.7,-0.3 3.8,-0.3 3.7,-0.3 1.9,-0.1 0.9,0.3 0.9,0.4 1,0.3 0.9,0.3 1,0.3 0.9,0.3 0.9,0.3 1,0.3 0.9,0.3 0.9,0.3 3.8,1.1 3.7,1 3.7,1 3.8,0.9 3.7,0.9 3.7,0.8 3.8,0.8 3.7,0.7 3.7,0.7 3.8,0.6 3.7,0.6 3.8,0.6 3.7,0.6 3.7,0.5 3.8,0.4 3.7,0.5 3.7,0.4 3.8,0.4 3.7,0.4 3.7,0.3 3.8,0.4 3.7,0.3 3.7,0.3 3.8,0.3 3.7,0.2 3.8,0.3 3.7,0.2 3.7,0.2" fill="none" stroke="#c4c4c4" stroke-width="3.2" stroke-linejoin="round"/>
<path d="M1214,777.1l0.5,-5.6 0.4,-5.4 0.5,-5.1 0.5,-4.9 0.4,-4.7 0.5,-4.5 0.5,-4.3 0.4,-4.2 0.5,-3.9 0.5,-3.8 0.4,-3.6 0.5,-3.5 0.9,-6.5 1,-6 0.9,-5.5 0.9,-5.1 1,-4.6 0.9,-4.2 0.9,-4 1,-3.6 0.9,-3.3 0.9,-3 1,-2.8 0.9,-2.6 0.9,-2.4 1,-2.2 1.8,-3.9 1.9,-3.4 1.9,-2.9 1.9,-2.4 1.8,-2.2 1.9,-1.8 1.9,-1.6 1.8,-1.4 1.9,-1.3 1.9,-1.1 1.8,-0.9 1.9,-0.9 1.9,-0.8 1.8,-0.7 1.9,-0.6 3.7,-1.2 3.8,-0.9 3.7,-0.9 3.7,-0.7 3.8,-0.7 3.7,-0.6 3.8,-0.5 3.7,-0.5 3.7,-0.5 3.8,-0.4 3.7,-0.4 3.7,-0.4 3.8,-0.3 3.7,-0.4 3.7,-0.3 3.8,-0.3 3.7,-0.3 1.9,-0.1 0.9,0.3 0.9,0.4 1,0.3 0.9,0.3 1,0.3 0.9,0.3 0.9,0.3 1,0.3 0.9,0.3 0.9,0.3 3.8,1.1 3.7,1 3.7,1 3.8,0.9 3.7,0.9 3.7,0.8 3.8,0.8 3.7,0.7 3.7,0.7 3.8,0.6 3.7,0.6 3.8,0.6 3.7,0.6 3.7,0.5 3.8,0.4 3.7,0.5 3.7,0.4 3.8,0.4 3.7,0.4 3.7,0.3 3.8,0.4 3.7,0.3 3.7,0.3 3.8,0.3 3.7,0.2 3.8,0.3 3.7,0.2 3.7,0.2" fill="none" stroke="#564a8f" stroke-width="1.5" stroke-linejoin="round"/>
<text x="1449.5" y="655.5" font-size="17.8" fill="#111" stroke="#111" stroke-width="0.45">3.81</text>
<path d="M1214,777.1l0.5,-2.2 0.4,-2.1 0.5,-2.1 0.5,-2.1 0.4,-2 0.5,-2 0.5,-1.9 0.4,-1.9 0.5,-1.9 0.5,-1.8 0.4,-1.8 0.5,-1.8 0.9,-3.4 1,-3.3 0.9,-3.1 0.9,-3.1 1,-2.9 0.9,-2.8 0.9,-2.7 1,-2.6 0.9,-2.5 0.9,-2.4 1,-2.3 0.9,-2.2 0.9,-2.2 1,-2 1.8,-3.9 1.9,-3.6 1.9,-3.3 1.9,-3.1 1.8,-2.8 1.9,-2.6 1.9,-2.5 1.8,-2.2 1.9,-2.1 1.9,-1.9 1.8,-1.8 1.9,-1.7 1.9,-1.5 1.8,-1.4 1.9,-1.4 3.7,-2.3 3.8,-2.1 3.7,-1.7 3.7,-1.5 3.8,-1.3 3.7,-1.2 3.8,-0.9 3.7,-0.9 3.7,-0.7 3.8,-0.7 3.7,-0.5 3.7,-0.5 3.8,-0.5 3.7,-0.4 3.7,-0.3 3.8,-0.3 3.7,-0.3 1.9,-0.1 0.9,0.2 0.9,0.2 1,0.2 0.9,0.2 1,0.2 0.9,0.2 0.9,0.2 1,0.2 0.9,0.2 0.9,0.2 3.8,0.8 3.7,0.7 3.7,0.7 3.8,0.6 3.7,0.6 3.7,0.6 3.8,0.6 3.7,0.5 3.7,0.5 3.8,0.5 3.7,0.5 3.8,0.4 3.7,0.4 3.7,0.5 3.8,0.3 3.7,0.4 3.7,0.3 3.8,0.4 3.7,0.3 3.7,0.3 3.8,0.3 3.7,0.3 3.7,0.2 3.8,0.3 3.7,0.2 3.8,0.2 3.7,0.2 3.7,0.2" fill="none" stroke="#c4c4c4" stroke-width="3.2" stroke-linejoin="round"/>
<path d="M1214,777.1l0.5,-2.2 0.4,-2.1 0.5,-2.1 0.5,-2.1 0.4,-2 0.5,-2 0.5,-1.9 0.4,-1.9 0.5,-1.9 0.5,-1.8 0.4,-1.8 0.5,-1.8 0.9,-3.4 1,-3.3 0.9,-3.1 0.9,-3.1 1,-2.9 0.9,-2.8 0.9,-2.7 1,-2.6 0.9,-2.5 0.9,-2.4 1,-2.3 0.9,-2.2 0.9,-2.2 1,-2 1.8,-3.9 1.9,-3.6 1.9,-3.3 1.9,-3.1 1.8,-2.8 1.9,-2.6 1.9,-2.5 1.8,-2.2 1.9,-2.1 1.9,-1.9 1.8,-1.8 1.9,-1.7 1.9,-1.5 1.8,-1.4 1.9,-1.4 3.7,-2.3 3.8,-2.1 3.7,-1.7 3.7,-1.5 3.8,-1.3 3.7,-1.2 3.8,-0.9 3.7,-0.9 3.7,-0.7 3.8,-0.7 3.7,-0.5 3.7,-0.5 3.8,-0.5 3.7,-0.4 3.7,-0.3 3.8,-0.3 3.7,-0.3 1.9,-0.1 0.9,0.2 0.9,0.2 1,0.2 0.9,0.2 1,0.2 0.9,0.2 0.9,0.2 1,0.2 0.9,0.2 0.9,0.2 3.8,0.8 3.7,0.7 3.7,0.7 3.8,0.6 3.7,0.6 3.7,0.6 3.8,0.6 3.7,0.5 3.7,0.5 3.8,0.5 3.7,0.5 3.8,0.4 3.7,0.4 3.7,0.5 3.8,0.3 3.7,0.4 3.7,0.3 3.8,0.4 3.7,0.3 3.7,0.3 3.8,0.3 3.7,0.3 3.7,0.2 3.8,0.3 3.7,0.2 3.8,0.2 3.7,0.2 3.7,0.2" fill="none" stroke="#3d4fa0" stroke-width="1.5" stroke-linejoin="round"/>
<text x="1449.5" y="679.5" font-size="17.8" fill="#111" stroke="#111" stroke-width="0.45">1.91</text>
<path d="M1214,777.1l0.5,-0.6 0.4,-0.7 0.5,-0.6 0.5,-0.6 0.4,-0.6 0.5,-0.6 0.5,-0.6 0.4,-0.6 0.5,-0.6 0.5,-0.6 0.4,-0.6 0.5,-0.6 0.9,-1.1 1,-1.1 0.9,-1.1 0.9,-1.1 1,-1.1 0.9,-1 0.9,-1.1 1,-1 0.9,-1 0.9,-1 1,-1 0.9,-0.9 0.9,-1 1,-0.9 1.8,-1.8 1.9,-1.8 1.9,-1.7 1.9,-1.6 1.8,-1.6 1.9,-1.6 1.9,-1.4 1.8,-1.5 1.9,-1.4 1.9,-1.4 1.8,-1.3 1.9,-1.3 1.9,-1.2 1.8,-1.2 1.9,-1.1 3.7,-2.2 3.8,-2.1 3.7,-2 3.7,-1.8 3.8,-1.7 3.7,-1.6 3.8,-1.5 3.7,-1.4 3.7,-1.3 3.8,-1.3 3.7,-1.1 3.7,-1.1 3.8,-1.1 3.7,-0.9 3.7,-0.9 3.8,-0.9 3.7,-0.8 1.9,-0.3 0.9,0.1 0.9,0.1 1,0.1 0.9,0.1 1,0.1 0.9,0 0.9,0.1 1,0.1 0.9,0.1 0.9,0.1 3.8,0.4 3.7,0.3 3.7,0.3 3.8,0.3 3.7,0.3 3.7,0.3 3.8,0.3 3.7,0.2 3.7,0.3 3.8,0.2 3.7,0.3 3.8,0.2 3.7,0.2 3.7,0.2 3.8,0.2 3.7,0.2 3.7,0.2 3.8,0.2 3.7,0.1 3.7,0.2 3.8,0.1 3.7,0.2 3.7,0.1 3.8,0.2 3.7,0.1 3.8,0.1 3.7,0.2 3.7,0.1" fill="none" stroke="#c4c4c4" stroke-width="3.2" stroke-linejoin="round"/>
<path d="M1214,777.1l0.5,-0.6 0.4,-0.7 0.5,-0.6 0.5,-0.6 0.4,-0.6 0.5,-0.6 0.5,-0.6 0.4,-0.6 0.5,-0.6 0.5,-0.6 0.4,-0.6 0.5,-0.6 0.9,-1.1 1,-1.1 0.9,-1.1 0.9,-1.1 1,-1.1 0.9,-1 0.9,-1.1 1,-1 0.9,-1 0.9,-1 1,-1 0.9,-0.9 0.9,-1 1,-0.9 1.8,-1.8 1.9,-1.8 1.9,-1.7 1.9,-1.6 1.8,-1.6 1.9,-1.6 1.9,-1.4 1.8,-1.5 1.9,-1.4 1.9,-1.4 1.8,-1.3 1.9,-1.3 1.9,-1.2 1.8,-1.2 1.9,-1.1 3.7,-2.2 3.8,-2.1 3.7,-2 3.7,-1.8 3.8,-1.7 3.7,-1.6 3.8,-1.5 3.7,-1.4 3.7,-1.3 3.8,-1.3 3.7,-1.1 3.7,-1.1 3.8,-1.1 3.7,-0.9 3.7,-0.9 3.8,-0.9 3.7,-0.8 1.9,-0.3 0.9,0.1 0.9,0.1 1,0.1 0.9,0.1 1,0.1 0.9,0 0.9,0.1 1,0.1 0.9,0.1 0.9,0.1 3.8,0.4 3.7,0.3 3.7,0.3 3.8,0.3 3.7,0.3 3.7,0.3 3.8,0.3 3.7,0.2 3.7,0.3 3.8,0.2 3.7,0.3 3.8,0.2 3.7,0.2 3.7,0.2 3.8,0.2 3.7,0.2 3.7,0.2 3.8,0.2 3.7,0.1 3.7,0.2 3.8,0.1 3.7,0.2 3.7,0.1 3.8,0.2 3.7,0.1 3.8,0.1 3.7,0.2 3.7,0.1" fill="none" stroke="#3d4fa0" stroke-width="1.5" stroke-linejoin="round"/>
<text x="1449.5" y="712" font-size="17.8" fill="#111" stroke="#111" stroke-width="0.45">0.95</text>
<path d="M1214,777.1l0.5,-0.2 0.4,-0.2 0.5,-0.2 0.5,-0.2 0.4,-0.1 0.5,-0.2 0.5,-0.2 0.4,-0.2 0.5,-0.2 0.5,-0.1 0.4,-0.2 0.5,-0.2 0.9,-0.3 1,-0.3 0.9,-0.4 0.9,-0.3 1,-0.3 0.9,-0.3 0.9,-0.3 1,-0.3 0.9,-0.3 0.9,-0.3 1,-0.2 0.9,-0.3 0.9,-0.3 1,-0.2 1.8,-0.5 1.9,-0.5 1.9,-0.5 1.9,-0.4 1.8,-0.5 1.9,-0.4 1.9,-0.4 1.8,-0.4 1.9,-0.3 1.9,-0.4 1.8,-0.3 1.9,-0.4 1.9,-0.3 1.8,-0.3 1.9,-0.3 3.7,-0.5 3.8,-0.5 3.7,-0.5 3.7,-0.4 3.8,-0.4 3.7,-0.4 3.8,-0.3 3.7,-0.3 3.7,-0.3 3.8,-0.3 3.7,-0.2 3.7,-0.2 3.8,-0.2 3.7,-0.2 3.7,-0.2 3.8,-0.2 3.7,-0.1 1.9,-0.1 0.9,0 0.9,0 1,0.1 0.9,0 1,0 0.9,0 0.9,0 1,0 0.9,0.1 0.9,0 3.8,0 3.7,0.1 3.7,0 3.8,0.1 3.7,0 3.7,0.1 3.8,0 3.7,0.1 3.7,0 3.8,0.1 3.7,0 3.8,0 3.7,0.1 3.7,0 3.8,0 3.7,0.1 3.7,0 3.8,0 3.7,0.1 3.7,0 3.8,0 3.7,0 3.7,0.1 3.8,0 3.7,0 3.8,0 3.7,0 3.7,0.1" fill="none" stroke="#c4c4c4" stroke-width="3.2" stroke-linejoin="round"/>
<path d="M1214,777.1l0.5,-0.2 0.4,-0.2 0.5,-0.2 0.5,-0.2 0.4,-0.1 0.5,-0.2 0.5,-0.2 0.4,-0.2 0.5,-0.2 0.5,-0.1 0.4,-0.2 0.5,-0.2 0.9,-0.3 1,-0.3 0.9,-0.4 0.9,-0.3 1,-0.3 0.9,-0.3 0.9,-0.3 1,-0.3 0.9,-0.3 0.9,-0.3 1,-0.2 0.9,-0.3 0.9,-0.3 1,-0.2 1.8,-0.5 1.9,-0.5 1.9,-0.5 1.9,-0.4 1.8,-0.5 1.9,-0.4 1.9,-0.4 1.8,-0.4 1.9,-0.3 1.9,-0.4 1.8,-0.3 1.9,-0.4 1.9,-0.3 1.8,-0.3 1.9,-0.3 3.7,-0.5 3.8,-0.5 3.7,-0.5 3.7,-0.4 3.8,-0.4 3.7,-0.4 3.8,-0.3 3.7,-0.3 3.7,-0.3 3.8,-0.3 3.7,-0.2 3.7,-0.2 3.8,-0.2 3.7,-0.2 3.7,-0.2 3.8,-0.2 3.7,-0.1 1.9,-0.1 0.9,0 0.9,0 1,0.1 0.9,0 1,0 0.9,0 0.9,0 1,0 0.9,0.1 0.9,0 3.8,0 3.7,0.1 3.7,0 3.8,0.1 3.7,0 3.7,0.1 3.8,0 3.7,0.1 3.7,0 3.8,0.1 3.7,0 3.8,0 3.7,0.1 3.7,0 3.8,0 3.7,0.1 3.7,0 3.8,0 3.7,0.1 3.7,0 3.8,0 3.7,0 3.7,0.1 3.8,0 3.7,0 3.8,0 3.7,0 3.7,0.1" fill="none" stroke="#3d4fa0" stroke-width="1.5" stroke-linejoin="round"/>
<text x="1449.5" y="753.6" font-size="17.8" fill="#111" stroke="#111" stroke-width="0.45">0.48</text>
<path d="M1214,777.1l0.5,-0.1 0.4,-0.2 0.5,-0.1 0.5,-0.1 0.4,-0.1 0.5,-0.1 0.5,-0.2 0.4,-0.1 0.5,-0.1 0.5,-0.1 0.4,-0.1 0.5,-0.2 0.9,-0.2 1,-0.2 0.9,-0.2 0.9,-0.2 1,-0.2 0.9,-0.2 0.9,-0.2 1,-0.2 0.9,-0.2 0.9,-0.2 1,-0.2 0.9,-0.2 0.9,-0.2 1,-0.1 1.8,-0.4 1.9,-0.3 1.9,-0.3 1.9,-0.3 1.8,-0.3 1.9,-0.3 1.9,-0.2 1.8,-0.3 1.9,-0.2 1.9,-0.3 1.8,-0.2 1.9,-0.2 1.9,-0.2 1.8,-0.2 1.9,-0.2 3.7,-0.4 3.8,-0.3 3.7,-0.3 3.7,-0.3 3.8,-0.3 3.7,-0.2 3.8,-0.2 3.7,-0.2 3.7,-0.2 3.8,-0.2 3.7,-0.2 3.7,-0.1 3.8,-0.2 3.7,-0.1 3.7,-0.1 3.8,-0.1 3.7,-0.1 1.9,-0.1 0.9,0.1 0.9,0 1,0.1 0.9,0 1,0.1 0.9,0 0.9,0.1 1,0 0.9,0.1 0.9,0 3.8,0.2 3.7,0.1 3.7,0.2 3.8,0.2 3.7,0.1 3.7,0.2 3.8,0.1 3.7,0.1 3.7,0.1 3.8,0.2 3.7,0.1 3.8,0.1 3.7,0.1 3.7,0.1 3.8,0.1 3.7,0.1 3.7,0.1 3.8,0.1 3.7,0.1 3.7,0 3.8,0.1 3.7,0.1 3.7,0.1 3.8,0 3.7,0.1 3.8,0.1 3.7,0 3.7,0.1" fill="none" stroke="#c4c4c4" stroke-width="3.2" stroke-linejoin="round"/>
<path d="M1214,777.1l0.5,-0.1 0.4,-0.2 0.5,-0.1 0.5,-0.1 0.4,-0.1 0.5,-0.1 0.5,-0.2 0.4,-0.1 0.5,-0.1 0.5,-0.1 0.4,-0.1 0.5,-0.2 0.9,-0.2 1,-0.2 0.9,-0.2 0.9,-0.2 1,-0.2 0.9,-0.2 0.9,-0.2 1,-0.2 0.9,-0.2 0.9,-0.2 1,-0.2 0.9,-0.2 0.9,-0.2 1,-0.1 1.8,-0.4 1.9,-0.3 1.9,-0.3 1.9,-0.3 1.8,-0.3 1.9,-0.3 1.9,-0.2 1.8,-0.3 1.9,-0.2 1.9,-0.3 1.8,-0.2 1.9,-0.2 1.9,-0.2 1.8,-0.2 1.9,-0.2 3.7,-0.4 3.8,-0.3 3.7,-0.3 3.7,-0.3 3.8,-0.3 3.7,-0.2 3.8,-0.2 3.7,-0.2 3.7,-0.2 3.8,-0.2 3.7,-0.2 3.7,-0.1 3.8,-0.2 3.7,-0.1 3.7,-0.1 3.8,-0.1 3.7,-0.1 1.9,-0.1 0.9,0.1 0.9,0 1,0.1 0.9,0 1,0.1 0.9,0 0.9,0.1 1,0 0.9,0.1 0.9,0 3.8,0.2 3.7,0.1 3.7,0.2 3.8,0.2 3.7,0.1 3.7,0.2 3.8,0.1 3.7,0.1 3.7,0.1 3.8,0.2 3.7,0.1 3.8,0.1 3.7,0.1 3.7,0.1 3.8,0.1 3.7,0.1 3.7,0.1 3.8,0.1 3.7,0.1 3.7,0 3.8,0.1 3.7,0.1 3.7,0.1 3.8,0 3.7,0.1 3.8,0.1 3.7,0 3.7,0.1" fill="none" stroke="#3d4fa0" stroke-width="1.5" stroke-linejoin="round"/>
<text x="1449.5" y="773.1" font-size="17.8" fill="#111" stroke="#111" stroke-width="0.45">0.24</text>
<line x1="1553.6" y1="538.2" x2="1553.6" y2="777.9" stroke="#111" stroke-width="1.6" />
<line x1="1547.1" y1="777.1" x2="1553.6" y2="777.1" stroke="#111" stroke-width="1.5" />
<text x="1536.5" y="777.1" font-size="17.8" text-anchor="middle" fill="#111" stroke="#111" stroke-width="0.45" transform="rotate(-90 1536.5 777.1)">0</text>
<line x1="1547.1" y1="712.5" x2="1553.6" y2="712.5" stroke="#111" stroke-width="1.5" />
<text x="1536.5" y="712.5" font-size="17.8" text-anchor="middle" fill="#111" stroke="#111" stroke-width="0.45" transform="rotate(-90 1536.5 712.5)">5</text>
<line x1="1547.1" y1="647.9" x2="1553.6" y2="647.9" stroke="#111" stroke-width="1.5" />
<text x="1536.5" y="647.9" font-size="17.8" text-anchor="middle" fill="#111" stroke="#111" stroke-width="0.45" transform="rotate(-90 1536.5 647.9)">10</text>
<line x1="1547.1" y1="583.3" x2="1553.6" y2="583.3" stroke="#111" stroke-width="1.5" />
<text x="1536.5" y="583.3" font-size="17.8" text-anchor="middle" fill="#111" stroke="#111" stroke-width="0.45" transform="rotate(-90 1536.5 583.3)">15</text>
<line x1="1565.2" y1="786.1" x2="1803.1" y2="786.1" stroke="#111" stroke-width="1.6" />
<line x1="1566" y1="786.1" x2="1566" y2="792.1" stroke="#111" stroke-width="1.5" />
<text x="1566" y="808.5" font-size="17.8" text-anchor="middle" fill="#111" stroke="#111" stroke-width="0.45">0</text>
<line x1="1613.3" y1="786.1" x2="1613.3" y2="792.1" stroke="#111" stroke-width="1.5" />
<text x="1613.3" y="808.5" font-size="17.8" text-anchor="middle" fill="#111" stroke="#111" stroke-width="0.45">50</text>
<line x1="1660.6" y1="786.1" x2="1660.6" y2="792.1" stroke="#111" stroke-width="1.5" />
<text x="1660.6" y="808.5" font-size="17.8" text-anchor="middle" fill="#111" stroke="#111" stroke-width="0.45">100</text>
<line x1="1707.9" y1="786.1" x2="1707.9" y2="792.1" stroke="#111" stroke-width="1.5" />
<text x="1707.9" y="808.5" font-size="17.8" text-anchor="middle" fill="#111" stroke="#111" stroke-width="0.45">150</text>
<line x1="1755.2" y1="786.1" x2="1755.2" y2="792.1" stroke="#111" stroke-width="1.5" />
<text x="1755.2" y="808.5" font-size="17.8" text-anchor="middle" fill="#111" stroke="#111" stroke-width="0.45">200</text>
<line x1="1802.5" y1="786.1" x2="1802.5" y2="792.1" stroke="#111" stroke-width="1.5" />
<text x="1802.5" y="808.5" font-size="17.8" text-anchor="middle" fill="#111" stroke="#111" stroke-width="0.45">250</text>
<text x="1681" y="837.7" font-size="17.8" text-anchor="middle" fill="#111" stroke="#111" stroke-width="0.45">Time (sec)</text>
<text x="1514" y="657.6" font-size="17.8" text-anchor="middle" fill="#111" stroke="#111" stroke-width="0.45" transform="rotate(-90 1514 657.6)">Binding (nm)</text>
<line x1="1679.52" y1="528" x2="1679.52" y2="786.1" stroke="#333" stroke-width="1.1" stroke-dasharray="3,2.5"/>
<text x="1605.2" y="502.3" font-size="21.3" fill="#111" stroke="#111" stroke-width="0.45">GST-Human CXC</text>
<line x1="1564.8" y1="522.5" x2="1583.2" y2="522.5" stroke="#bbbbbb" stroke-width="3.2" />
<defs><linearGradient id="lg1565" x1="0" x2="1"><stop offset="0" stop-color="#3d5aa8"/><stop offset="1" stop-color="#d3303a"/></linearGradient></defs>
<rect x="1564.8" y="537.4" width="18.4" height="3" fill="url(#lg1565)" />
<text x="1590.7" y="527" font-size="17.8" fill="#111" stroke="#111" stroke-width="0.45">observed</text>
<text x="1590.7" y="543.4" font-size="17.8" fill="#111" stroke="#111" stroke-width="0.45">fitted</text>
<text x="1822" y="530.3" font-size="17.8" text-anchor="middle" fill="#111" stroke="#111" stroke-width="0.45">conc.</text>
<text x="1822" y="551.3" font-size="17.8" text-anchor="middle" fill="#111" stroke="#111" stroke-width="0.45">µM</text>
<path d="M1566,777.1l0.5,-18.3 0.4,-16.3 0.5,-14.4 0.5,-12.8 0.5,-11.4 0.4,-10.1 0.5,-9 0.5,-8 0.5,-7.2 0.4,-6.4 0.5,-5.6 0.5,-5.1 0.9,-8.7 1,-7 0.9,-5.7 1,-4.6 0.9,-3.9 1,-3.3 0.9,-2.7 0.9,-2.4 1,-2 0.9,-1.9 1,-1.6 0.9,-1.5 1,-1.3 0.9,-1.2 1.9,-2.3 1.9,-2 1.9,-1.9 1.9,-1.7 1.9,-1.7 1.9,-1.5 1.9,-1.5 1.9,-1.4 1.8,-1.4 1.9,-1.3 1.9,-1.2 1.9,-1.2 1.9,-1.2 1.9,-1.1 1.9,-1.1 3.8,-2 3.8,-1.8 3.8,-1.7 3.7,-1.6 3.8,-1.4 3.8,-1.4 3.8,-1.2 3.8,-1.2 3.8,-1 3.7,-1 3.8,-0.9 3.8,-0.8 3.8,-0.8 3.8,-0.7 3.8,-0.7 3.7,-0.6 3.8,-0.5 1.9,-0.3 1,0.2 0.9,0.3 1,0.2 0.9,0.2 0.9,0.2 1,0.2 0.9,0.2 1,0.2 0.9,0.2 1,0.2 3.8,0.8 3.7,0.7 3.8,0.7 3.8,0.7 3.8,0.6 3.8,0.6 3.8,0.6 3.8,0.5 3.7,0.6 3.8,0.5 3.8,0.4 3.8,0.5 3.8,0.4 3.8,0.4 3.7,0.4 3.8,0.4 3.8,0.4 3.8,0.3 3.8,0.3 3.8,0.3 3.7,0.3 3.8,0.3 3.8,0.3 3.8,0.2 3.8,0.3 3.8,0.2 3.7,0.2 3.8,0.2" fill="none" stroke="#c4c4c4" stroke-width="3.2" stroke-linejoin="round"/>
<path d="M1566,777.1l0.5,-18.3 0.4,-16.3 0.5,-14.4 0.5,-12.8 0.5,-11.4 0.4,-10.1 0.5,-9 0.5,-8 0.5,-7.2 0.4,-6.4 0.5,-5.6 0.5,-5.1 0.9,-8.7 1,-7 0.9,-5.7 1,-4.6 0.9,-3.9 1,-3.3 0.9,-2.7 0.9,-2.4 1,-2 0.9,-1.9 1,-1.6 0.9,-1.5 1,-1.3 0.9,-1.2 1.9,-2.3 1.9,-2 1.9,-1.9 1.9,-1.7 1.9,-1.7 1.9,-1.5 1.9,-1.5 1.9,-1.4 1.8,-1.4 1.9,-1.3 1.9,-1.2 1.9,-1.2 1.9,-1.2 1.9,-1.1 1.9,-1.1 3.8,-2 3.8,-1.8 3.8,-1.7 3.7,-1.6 3.8,-1.4 3.8,-1.4 3.8,-1.2 3.8,-1.2 3.8,-1 3.7,-1 3.8,-0.9 3.8,-0.8 3.8,-0.8 3.8,-0.7 3.8,-0.7 3.7,-0.6 3.8,-0.5 1.9,-0.3 1,0.2 0.9,0.3 1,0.2 0.9,0.2 0.9,0.2 1,0.2 0.9,0.2 1,0.2 0.9,0.2 1,0.2 3.8,0.8 3.7,0.7 3.8,0.7 3.8,0.7 3.8,0.6 3.8,0.6 3.8,0.6 3.8,0.5 3.7,0.6 3.8,0.5 3.8,0.4 3.8,0.5 3.8,0.4 3.8,0.4 3.7,0.4 3.8,0.4 3.8,0.4 3.8,0.3 3.8,0.3 3.8,0.3 3.7,0.3 3.8,0.3 3.8,0.3 3.8,0.2 3.8,0.3 3.8,0.2 3.7,0.2 3.8,0.2" fill="none" stroke="#d3303a" stroke-width="1.5" stroke-linejoin="round"/>
<text x="1805.3" y="578.6" font-size="17.8" fill="#111" stroke="#111" stroke-width="0.45">45.9</text>
<path d="M1566,777.1l0.5,-14.9 0.4,-13.5 0.5,-12.4 0.5,-11.2 0.5,-10.1 0.4,-9.3 0.5,-8.5 0.5,-7.7 0.5,-7 0.4,-6.4 0.5,-5.9 0.5,-5.3 0.9,-9.4 1,-7.9 0.9,-6.6 1,-5.7 0.9,-4.8 1,-4.1 0.9,-3.5 0.9,-3.1 1,-2.7 0.9,-2.4 1,-2.1 0.9,-1.9 1,-1.7 0.9,-1.6 1.9,-2.7 1.9,-2.4 1.9,-2.1 1.9,-1.9 1.9,-1.8 1.9,-1.6 1.9,-1.6 1.9,-1.4 1.8,-1.4 1.9,-1.3 1.9,-1.3 1.9,-1.2 1.9,-1.1 1.9,-1.1 1.9,-1.1 3.8,-2 3.8,-1.8 3.8,-1.7 3.7,-1.6 3.8,-1.4 3.8,-1.3 3.8,-1.3 3.8,-1.1 3.8,-1.1 3.7,-0.9 3.8,-0.9 3.8,-0.9 3.8,-0.7 3.8,-0.7 3.8,-0.7 3.7,-0.6 3.8,-0.5 1.9,-0.3 1,0.4 0.9,0.4 1,0.4 0.9,0.4 0.9,0.4 1,0.4 0.9,0.4 1,0.4 0.9,0.3 1,0.4 3.8,1.4 3.7,1.3 3.8,1.2 3.8,1.2 3.8,1.1 3.8,1 3.8,1 3.8,0.9 3.7,0.8 3.8,0.8 3.8,0.8 3.8,0.7 3.8,0.7 3.8,0.6 3.7,0.6 3.8,0.6 3.8,0.5 3.8,0.5 3.8,0.5 3.8,0.4 3.7,0.5 3.8,0.4 3.8,0.3 3.8,0.4 3.8,0.3 3.8,0.3 3.7,0.3 3.8,0.3" fill="none" stroke="#c4c4c4" stroke-width="3.2" stroke-linejoin="round"/>
<path d="M1566,777.1l0.5,-14.9 0.4,-13.5 0.5,-12.4 0.5,-11.2 0.5,-10.1 0.4,-9.3 0.5,-8.5 0.5,-7.7 0.5,-7 0.4,-6.4 0.5,-5.9 0.5,-5.3 0.9,-9.4 1,-7.9 0.9,-6.6 1,-5.7 0.9,-4.8 1,-4.1 0.9,-3.5 0.9,-3.1 1,-2.7 0.9,-2.4 1,-2.1 0.9,-1.9 1,-1.7 0.9,-1.6 1.9,-2.7 1.9,-2.4 1.9,-2.1 1.9,-1.9 1.9,-1.8 1.9,-1.6 1.9,-1.6 1.9,-1.4 1.8,-1.4 1.9,-1.3 1.9,-1.3 1.9,-1.2 1.9,-1.1 1.9,-1.1 1.9,-1.1 3.8,-2 3.8,-1.8 3.8,-1.7 3.7,-1.6 3.8,-1.4 3.8,-1.3 3.8,-1.3 3.8,-1.1 3.8,-1.1 3.7,-0.9 3.8,-0.9 3.8,-0.9 3.8,-0.7 3.8,-0.7 3.8,-0.7 3.7,-0.6 3.8,-0.5 1.9,-0.3 1,0.4 0.9,0.4 1,0.4 0.9,0.4 0.9,0.4 1,0.4 0.9,0.4 1,0.4 0.9,0.3 1,0.4 3.8,1.4 3.7,1.3 3.8,1.2 3.8,1.2 3.8,1.1 3.8,1 3.8,1 3.8,0.9 3.7,0.8 3.8,0.8 3.8,0.8 3.8,0.7 3.8,0.7 3.8,0.6 3.7,0.6 3.8,0.6 3.8,0.5 3.8,0.5 3.8,0.5 3.8,0.4 3.7,0.5 3.8,0.4 3.8,0.3 3.8,0.4 3.8,0.3 3.8,0.3 3.7,0.3 3.8,0.3" fill="none" stroke="#b4364f" stroke-width="1.5" stroke-linejoin="round"/>
<text x="1805.3" y="597" font-size="17.8" fill="#111" stroke="#111" stroke-width="0.45">22.2</text>
<path d="M1566,777.1l0.5,-10.6 0.4,-9.8 0.5,-9.2 0.5,-8.6 0.5,-7.9 0.4,-7.4 0.5,-7 0.5,-6.4 0.5,-6 0.4,-5.6 0.5,-5.2 0.5,-4.9 0.9,-8.8 1,-7.7 0.9,-6.7 1,-5.9 0.9,-5.1 1,-4.6 0.9,-4 0.9,-3.5 1,-3.2 0.9,-2.8 1,-2.5 0.9,-2.2 1,-2 0.9,-1.9 1.9,-3.1 1.9,-2.6 1.9,-2.3 1.9,-1.9 1.9,-1.7 1.9,-1.5 1.9,-1.3 1.9,-1.3 1.8,-1.1 1.9,-1.1 1.9,-0.9 1.9,-1 1.9,-0.9 1.9,-0.8 1.9,-0.8 3.8,-1.5 3.8,-1.3 3.8,-1.3 3.7,-1.1 3.8,-1.1 3.8,-0.9 3.8,-0.9 3.8,-0.9 3.8,-0.7 3.7,-0.7 3.8,-0.7 3.8,-0.6 3.8,-0.5 3.8,-0.5 3.8,-0.5 3.7,-0.5 3.8,-0.4 1.9,-0.1 1,0.5 0.9,0.6 1,0.6 0.9,0.6 0.9,0.5 1,0.6 0.9,0.5 1,0.6 0.9,0.5 1,0.5 3.8,2 3.7,1.9 3.8,1.8 3.8,1.7 3.8,1.6 3.8,1.4 3.8,1.4 3.8,1.4 3.7,1.2 3.8,1.2 3.8,1.1 3.8,1 3.8,1 3.8,0.9 3.7,0.9 3.8,0.8 3.8,0.7 3.8,0.8 3.8,0.6 3.8,0.7 3.7,0.6 3.8,0.6 3.8,0.5 3.8,0.5 3.8,0.5 3.8,0.4 3.7,0.4 3.8,0.4" fill="none" stroke="#c4c4c4" stroke-width="3.2" stroke-linejoin="round"/>
<path d="M1566,777.1l0.5,-10.6 0.4,-9.8 0.5,-9.2 0.5,-8.6 0.5,-7.9 0.4,-7.4 0.5,-7 0.5,-6.4 0.5,-6 0.4,-5.6 0.5,-5.2 0.5,-4.9 0.9,-8.8 1,-7.7 0.9,-6.7 1,-5.9 0.9,-5.1 1,-4.6 0.9,-4 0.9,-3.5 1,-3.2 0.9,-2.8 1,-2.5 0.9,-2.2 1,-2 0.9,-1.9 1.9,-3.1 1.9,-2.6 1.9,-2.3 1.9,-1.9 1.9,-1.7 1.9,-1.5 1.9,-1.3 1.9,-1.3 1.8,-1.1 1.9,-1.1 1.9,-0.9 1.9,-1 1.9,-0.9 1.9,-0.8 1.9,-0.8 3.8,-1.5 3.8,-1.3 3.8,-1.3 3.7,-1.1 3.8,-1.1 3.8,-0.9 3.8,-0.9 3.8,-0.9 3.8,-0.7 3.7,-0.7 3.8,-0.7 3.8,-0.6 3.8,-0.5 3.8,-0.5 3.8,-0.5 3.7,-0.5 3.8,-0.4 1.9,-0.1 1,0.5 0.9,0.6 1,0.6 0.9,0.6 0.9,0.5 1,0.6 0.9,0.5 1,0.6 0.9,0.5 1,0.5 3.8,2 3.7,1.9 3.8,1.8 3.8,1.7 3.8,1.6 3.8,1.4 3.8,1.4 3.8,1.4 3.7,1.2 3.8,1.2 3.8,1.1 3.8,1 3.8,1 3.8,0.9 3.7,0.9 3.8,0.8 3.8,0.7 3.8,0.8 3.8,0.6 3.8,0.7 3.7,0.6 3.8,0.6 3.8,0.5 3.8,0.5 3.8,0.5 3.8,0.4 3.7,0.4 3.8,0.4" fill="none" stroke="#943d64" stroke-width="1.5" stroke-linejoin="round"/>
<text x="1805.3" y="621.2" font-size="17.8" fill="#111" stroke="#111" stroke-width="0.45">9.82</text>
<path d="M1566,777.1l0.5,-6.1 0.4,-5.8 0.5,-5.6 0.5,-5.3 0.5,-5 0.4,-4.9 0.5,-4.5 0.5,-4.4 0.5,-4.2 0.4,-4 0.5,-3.8 0.5,-3.6 0.9,-6.7 1,-6.2 0.9,-5.6 1,-5.1 0.9,-4.6 1,-4.3 0.9,-3.9 0.9,-3.5 1,-3.3 0.9,-3 1,-2.7 0.9,-2.5 1,-2.3 0.9,-2.1 1.9,-3.7 1.9,-3.2 1.9,-2.7 1.9,-2.3 1.9,-2 1.9,-1.8 1.9,-1.5 1.9,-1.4 1.8,-1.2 1.9,-1.1 1.9,-1 1.9,-0.9 1.9,-0.8 1.9,-0.7 1.9,-0.7 3.8,-1.3 3.8,-1.1 3.8,-1 3.7,-0.9 3.8,-0.8 3.8,-0.8 3.8,-0.7 3.8,-0.7 3.8,-0.6 3.7,-0.6 3.8,-0.5 3.8,-0.5 3.8,-0.5 3.8,-0.5 3.8,-0.4 3.7,-0.4 3.8,-0.4 1.9,-0.2 1,0.6 0.9,0.5 1,0.6 0.9,0.5 0.9,0.5 1,0.5 0.9,0.5 1,0.5 0.9,0.5 1,0.5 3.8,1.8 3.7,1.8 3.8,1.6 3.8,1.6 3.8,1.4 3.8,1.4 3.8,1.3 3.8,1.2 3.7,1.1 3.8,1.1 3.8,1 3.8,1 3.8,0.9 3.8,0.8 3.7,0.8 3.8,0.8 3.8,0.7 3.8,0.7 3.8,0.6 3.8,0.6 3.7,0.5 3.8,0.6 3.8,0.5 3.8,0.4 3.8,0.5 3.8,0.4 3.7,0.4 3.8,0.3" fill="none" stroke="#c4c4c4" stroke-width="3.2" stroke-linejoin="round"/>
<path d="M1566,777.1l0.5,-6.1 0.4,-5.8 0.5,-5.6 0.5,-5.3 0.5,-5 0.4,-4.9 0.5,-4.5 0.5,-4.4 0.5,-4.2 0.4,-4 0.5,-3.8 0.5,-3.6 0.9,-6.7 1,-6.2 0.9,-5.6 1,-5.1 0.9,-4.6 1,-4.3 0.9,-3.9 0.9,-3.5 1,-3.3 0.9,-3 1,-2.7 0.9,-2.5 1,-2.3 0.9,-2.1 1.9,-3.7 1.9,-3.2 1.9,-2.7 1.9,-2.3 1.9,-2 1.9,-1.8 1.9,-1.5 1.9,-1.4 1.8,-1.2 1.9,-1.1 1.9,-1 1.9,-0.9 1.9,-0.8 1.9,-0.7 1.9,-0.7 3.8,-1.3 3.8,-1.1 3.8,-1 3.7,-0.9 3.8,-0.8 3.8,-0.8 3.8,-0.7 3.8,-0.7 3.8,-0.6 3.7,-0.6 3.8,-0.5 3.8,-0.5 3.8,-0.5 3.8,-0.5 3.8,-0.4 3.7,-0.4 3.8,-0.4 1.9,-0.2 1,0.6 0.9,0.5 1,0.6 0.9,0.5 0.9,0.5 1,0.5 0.9,0.5 1,0.5 0.9,0.5 1,0.5 3.8,1.8 3.7,1.8 3.8,1.6 3.8,1.6 3.8,1.4 3.8,1.4 3.8,1.3 3.8,1.2 3.7,1.1 3.8,1.1 3.8,1 3.8,1 3.8,0.9 3.8,0.8 3.7,0.8 3.8,0.8 3.8,0.7 3.8,0.7 3.8,0.6 3.8,0.6 3.7,0.5 3.8,0.6 3.8,0.5 3.8,0.4 3.8,0.5 3.8,0.4 3.7,0.4 3.8,0.3" fill="none" stroke="#75437a" stroke-width="1.5" stroke-linejoin="round"/>
<text x="1805.3" y="661.1" font-size="17.8" fill="#111" stroke="#111" stroke-width="0.45">4.52</text>
<path d="M1566,777.1l0.5,-3.3 0.4,-3.2 0.5,-3.1 0.5,-3 0.5,-3 0.4,-2.8 0.5,-2.8 0.5,-2.7 0.5,-2.6 0.4,-2.6 0.5,-2.4 0.5,-2.4 0.9,-4.6 1,-4.4 0.9,-4.1 1,-3.9 0.9,-3.7 1,-3.4 0.9,-3.3 0.9,-3.1 1,-2.9 0.9,-2.8 1,-2.6 0.9,-2.5 1,-2.3 0.9,-2.3 1.9,-4 1.9,-3.7 1.9,-3.3 1.9,-3 1.9,-2.6 1.9,-2.4 1.9,-2.2 1.9,-2 1.8,-1.7 1.9,-1.6 1.9,-1.5 1.9,-1.3 1.9,-1.2 1.9,-1.1 1.9,-1 3.8,-1.8 3.8,-1.5 3.8,-1.2 3.7,-1.1 3.8,-1 3.8,-0.8 3.8,-0.8 3.8,-0.7 3.8,-0.6 3.7,-0.5 3.8,-0.5 3.8,-0.4 3.8,-0.5 3.8,-0.4 3.8,-0.3 3.7,-0.4 3.8,-0.3 1.9,-0.1 1,0.5 0.9,0.6 1,0.5 0.9,0.5 0.9,0.5 1,0.6 0.9,0.5 1,0.5 0.9,0.4 1,0.5 3.8,1.9 3.7,1.7 3.8,1.7 3.8,1.5 3.8,1.5 3.8,1.3 3.8,1.3 3.8,1.2 3.7,1.2 3.8,1.1 3.8,1 3.8,0.9 3.8,0.9 3.8,0.9 3.7,0.8 3.8,0.7 3.8,0.7 3.8,0.7 3.8,0.6 3.8,0.6 3.7,0.6 3.8,0.5 3.8,0.5 3.8,0.5 3.8,0.4 3.8,0.4 3.7,0.4 3.8,0.4" fill="none" stroke="#c4c4c4" stroke-width="3.2" stroke-linejoin="round"/>
<path d="M1566,777.1l0.5,-3.3 0.4,-3.2 0.5,-3.1 0.5,-3 0.5,-3 0.4,-2.8 0.5,-2.8 0.5,-2.7 0.5,-2.6 0.4,-2.6 0.5,-2.4 0.5,-2.4 0.9,-4.6 1,-4.4 0.9,-4.1 1,-3.9 0.9,-3.7 1,-3.4 0.9,-3.3 0.9,-3.1 1,-2.9 0.9,-2.8 1,-2.6 0.9,-2.5 1,-2.3 0.9,-2.3 1.9,-4 1.9,-3.7 1.9,-3.3 1.9,-3 1.9,-2.6 1.9,-2.4 1.9,-2.2 1.9,-2 1.8,-1.7 1.9,-1.6 1.9,-1.5 1.9,-1.3 1.9,-1.2 1.9,-1.1 1.9,-1 3.8,-1.8 3.8,-1.5 3.8,-1.2 3.7,-1.1 3.8,-1 3.8,-0.8 3.8,-0.8 3.8,-0.7 3.8,-0.6 3.7,-0.5 3.8,-0.5 3.8,-0.4 3.8,-0.5 3.8,-0.4 3.8,-0.3 3.7,-0.4 3.8,-0.3 1.9,-0.1 1,0.5 0.9,0.6 1,0.5 0.9,0.5 0.9,0.5 1,0.6 0.9,0.5 1,0.5 0.9,0.4 1,0.5 3.8,1.9 3.7,1.7 3.8,1.7 3.8,1.5 3.8,1.5 3.8,1.3 3.8,1.3 3.8,1.2 3.7,1.2 3.8,1.1 3.8,1 3.8,0.9 3.8,0.9 3.8,0.9 3.7,0.8 3.8,0.7 3.8,0.7 3.8,0.7 3.8,0.6 3.8,0.6 3.7,0.6 3.8,0.5 3.8,0.5 3.8,0.5 3.8,0.4 3.8,0.4 3.7,0.4 3.8,0.4" fill="none" stroke="#564a8f" stroke-width="1.5" stroke-linejoin="round"/>
<text x="1805.3" y="690.7" font-size="17.8" fill="#111" stroke="#111" stroke-width="0.45">2.08</text>
<path d="M1566,777.1l0.5,-1.3 0.4,-1.2 0.5,-1.2 0.5,-1.2 0.5,-1.2 0.4,-1.1 0.5,-1.2 0.5,-1.1 0.5,-1.1 0.4,-1.1 0.5,-1.1 0.5,-1.1 0.9,-2 1,-2.1 0.9,-1.9 1,-1.9 0.9,-1.9 1,-1.8 0.9,-1.7 0.9,-1.7 1,-1.7 0.9,-1.6 1,-1.5 0.9,-1.5 1,-1.5 0.9,-1.4 1.9,-2.7 1.9,-2.6 1.9,-2.4 1.9,-2.3 1.9,-2.1 1.9,-2.1 1.9,-1.9 1.9,-1.8 1.8,-1.7 1.9,-1.6 1.9,-1.5 1.9,-1.5 1.9,-1.3 1.9,-1.3 1.9,-1.2 3.8,-2.2 3.8,-2 3.8,-1.7 3.7,-1.6 3.8,-1.4 3.8,-1.3 3.8,-1.1 3.8,-1 3.8,-0.9 3.7,-0.8 3.8,-0.7 3.8,-0.6 3.8,-0.6 3.8,-0.5 3.8,-0.5 3.7,-0.4 3.8,-0.4 1.9,-0.2 1,0.4 0.9,0.4 1,0.4 0.9,0.4 0.9,0.4 1,0.4 0.9,0.4 1,0.4 0.9,0.3 1,0.4 3.8,1.4 3.7,1.3 3.8,1.2 3.8,1.2 3.8,1.1 3.8,1 3.8,1 3.8,0.9 3.7,0.8 3.8,0.8 3.8,0.8 3.8,0.7 3.8,0.7 3.8,0.6 3.7,0.6 3.8,0.6 3.8,0.5 3.8,0.5 3.8,0.5 3.8,0.4 3.7,0.5 3.8,0.4 3.8,0.3 3.8,0.4 3.8,0.3 3.8,0.3 3.7,0.3 3.8,0.3" fill="none" stroke="#c4c4c4" stroke-width="3.2" stroke-linejoin="round"/>
<path d="M1566,777.1l0.5,-1.3 0.4,-1.2 0.5,-1.2 0.5,-1.2 0.5,-1.2 0.4,-1.1 0.5,-1.2 0.5,-1.1 0.5,-1.1 0.4,-1.1 0.5,-1.1 0.5,-1.1 0.9,-2 1,-2.1 0.9,-1.9 1,-1.9 0.9,-1.9 1,-1.8 0.9,-1.7 0.9,-1.7 1,-1.7 0.9,-1.6 1,-1.5 0.9,-1.5 1,-1.5 0.9,-1.4 1.9,-2.7 1.9,-2.6 1.9,-2.4 1.9,-2.3 1.9,-2.1 1.9,-2.1 1.9,-1.9 1.9,-1.8 1.8,-1.7 1.9,-1.6 1.9,-1.5 1.9,-1.5 1.9,-1.3 1.9,-1.3 1.9,-1.2 3.8,-2.2 3.8,-2 3.8,-1.7 3.7,-1.6 3.8,-1.4 3.8,-1.3 3.8,-1.1 3.8,-1 3.8,-0.9 3.7,-0.8 3.8,-0.7 3.8,-0.6 3.8,-0.6 3.8,-0.5 3.8,-0.5 3.7,-0.4 3.8,-0.4 1.9,-0.2 1,0.4 0.9,0.4 1,0.4 0.9,0.4 0.9,0.4 1,0.4 0.9,0.4 1,0.4 0.9,0.3 1,0.4 3.8,1.4 3.7,1.3 3.8,1.2 3.8,1.2 3.8,1.1 3.8,1 3.8,1 3.8,0.9 3.7,0.8 3.8,0.8 3.8,0.8 3.8,0.7 3.8,0.7 3.8,0.6 3.7,0.6 3.8,0.6 3.8,0.5 3.8,0.5 3.8,0.5 3.8,0.4 3.7,0.5 3.8,0.4 3.8,0.3 3.8,0.4 3.8,0.3 3.8,0.3 3.7,0.3 3.8,0.3" fill="none" stroke="#3d4fa0" stroke-width="1.5" stroke-linejoin="round"/>
<text x="1805.3" y="724" font-size="17.8" fill="#111" stroke="#111" stroke-width="0.45">0.96</text>
<path d="M1566,777.1l0.5,-0.4 0.4,-0.4 0.5,-0.4 0.5,-0.3 0.5,-0.4 0.4,-0.4 0.5,-0.4 0.5,-0.3 0.5,-0.4 0.4,-0.4 0.5,-0.3 0.5,-0.4 0.9,-0.7 1,-0.7 0.9,-0.7 1,-0.7 0.9,-0.6 1,-0.7 0.9,-0.6 0.9,-0.7 1,-0.6 0.9,-0.7 1,-0.6 0.9,-0.6 1,-0.6 0.9,-0.6 1.9,-1.1 1.9,-1.2 1.9,-1.1 1.9,-1 1.9,-1.1 1.9,-1 1.9,-0.9 1.9,-1 1.8,-0.9 1.9,-0.9 1.9,-0.9 1.9,-0.9 1.9,-0.8 1.9,-0.8 1.9,-0.8 3.8,-1.5 3.8,-1.4 3.8,-1.3 3.7,-1.3 3.8,-1.2 3.8,-1.2 3.8,-1 3.8,-1 3.8,-1 3.7,-0.9 3.8,-0.9 3.8,-0.8 3.8,-0.8 3.8,-0.7 3.8,-0.7 3.7,-0.6 3.8,-0.6 1.9,-0.3 1,0.2 0.9,0.2 1,0.2 0.9,0.2 0.9,0.2 1,0.2 0.9,0.2 1,0.1 0.9,0.2 1,0.2 3.8,0.7 3.7,0.7 3.8,0.6 3.8,0.6 3.8,0.5 3.8,0.5 3.8,0.5 3.8,0.5 3.7,0.4 3.8,0.4 3.8,0.4 3.8,0.3 3.8,0.4 3.8,0.3 3.7,0.3 3.8,0.3 3.8,0.2 3.8,0.3 3.8,0.2 3.8,0.2 3.7,0.2 3.8,0.2 3.8,0.2 3.8,0.2 3.8,0.2 3.8,0.1 3.7,0.2 3.8,0.1" fill="none" stroke="#c4c4c4" stroke-width="3.2" stroke-linejoin="round"/>
<path d="M1566,777.1l0.5,-0.4 0.4,-0.4 0.5,-0.4 0.5,-0.3 0.5,-0.4 0.4,-0.4 0.5,-0.4 0.5,-0.3 0.5,-0.4 0.4,-0.4 0.5,-0.3 0.5,-0.4 0.9,-0.7 1,-0.7 0.9,-0.7 1,-0.7 0.9,-0.6 1,-0.7 0.9,-0.6 0.9,-0.7 1,-0.6 0.9,-0.7 1,-0.6 0.9,-0.6 1,-0.6 0.9,-0.6 1.9,-1.1 1.9,-1.2 1.9,-1.1 1.9,-1 1.9,-1.1 1.9,-1 1.9,-0.9 1.9,-1 1.8,-0.9 1.9,-0.9 1.9,-0.9 1.9,-0.9 1.9,-0.8 1.9,-0.8 1.9,-0.8 3.8,-1.5 3.8,-1.4 3.8,-1.3 3.7,-1.3 3.8,-1.2 3.8,-1.2 3.8,-1 3.8,-1 3.8,-1 3.7,-0.9 3.8,-0.9 3.8,-0.8 3.8,-0.8 3.8,-0.7 3.8,-0.7 3.7,-0.6 3.8,-0.6 1.9,-0.3 1,0.2 0.9,0.2 1,0.2 0.9,0.2 0.9,0.2 1,0.2 0.9,0.2 1,0.1 0.9,0.2 1,0.2 3.8,0.7 3.7,0.7 3.8,0.6 3.8,0.6 3.8,0.5 3.8,0.5 3.8,0.5 3.8,0.5 3.7,0.4 3.8,0.4 3.8,0.4 3.8,0.3 3.8,0.4 3.8,0.3 3.7,0.3 3.8,0.3 3.8,0.2 3.8,0.3 3.8,0.2 3.8,0.2 3.7,0.2 3.8,0.2 3.8,0.2 3.8,0.2 3.8,0.2 3.8,0.1 3.7,0.2 3.8,0.1" fill="none" stroke="#3d4fa0" stroke-width="1.5" stroke-linejoin="round"/>
<text x="1805.3" y="749.1" font-size="17.8" fill="#111" stroke="#111" stroke-width="0.45">0.44</text>
<path d="M1566,777.1l0.5,-0.1 0.4,-0.1 0.5,0 0.5,-0.1 0.5,-0.1 0.4,-0.1 0.5,0 0.5,-0.1 0.5,-0.1 0.4,0 0.5,-0.1 0.5,-0.1 0.9,-0.1 1,-0.1 0.9,-0.2 1,-0.1 0.9,-0.1 1,-0.1 0.9,-0.1 0.9,-0.1 1,-0.1 0.9,-0.1 1,-0.1 0.9,-0.1 1,-0.1 0.9,-0.1 1.9,-0.2 1.9,-0.1 1.9,-0.2 1.9,-0.1 1.9,-0.2 1.9,-0.1 1.9,-0.1 1.9,-0.1 1.8,-0.1 1.9,-0.1 1.9,-0.1 1.9,-0.1 1.9,-0.1 1.9,-0.1 1.9,0 3.8,-0.2 3.8,-0.1 3.8,-0.1 3.7,-0.1 3.8,-0.1 3.8,0 3.8,-0.1 3.8,-0.1 3.8,0 3.7,-0.1 3.8,0 3.8,0 3.8,-0.1 3.8,0 3.8,0 3.7,0 3.8,-0.1 1.9,0 1,0 0.9,0.1 1,0 0.9,0 0.9,0 1,0 0.9,0 1,0 0.9,0 1,0 3.8,0.1 3.7,0 3.8,0 3.8,0 3.8,0.1 3.8,0 3.8,0 3.8,0 3.7,0.1 3.8,0 3.8,0 3.8,0 3.8,0.1 3.8,0 3.7,0 3.8,0 3.8,0 3.8,0 3.8,0.1 3.8,0 3.7,0 3.8,0 3.8,0 3.8,0 3.8,0 3.8,0.1 3.7,0 3.8,0" fill="none" stroke="#c4c4c4" stroke-width="3.2" stroke-linejoin="round"/>
<path d="M1566,777.1l0.5,-0.1 0.4,-0.1 0.5,0 0.5,-0.1 0.5,-0.1 0.4,-0.1 0.5,0 0.5,-0.1 0.5,-0.1 0.4,0 0.5,-0.1 0.5,-0.1 0.9,-0.1 1,-0.1 0.9,-0.2 1,-0.1 0.9,-0.1 1,-0.1 0.9,-0.1 0.9,-0.1 1,-0.1 0.9,-0.1 1,-0.1 0.9,-0.1 1,-0.1 0.9,-0.1 1.9,-0.2 1.9,-0.1 1.9,-0.2 1.9,-0.1 1.9,-0.2 1.9,-0.1 1.9,-0.1 1.9,-0.1 1.8,-0.1 1.9,-0.1 1.9,-0.1 1.9,-0.1 1.9,-0.1 1.9,-0.1 1.9,0 3.8,-0.2 3.8,-0.1 3.8,-0.1 3.7,-0.1 3.8,-0.1 3.8,0 3.8,-0.1 3.8,-0.1 3.8,0 3.7,-0.1 3.8,0 3.8,0 3.8,-0.1 3.8,0 3.8,0 3.7,0 3.8,-0.1 1.9,0 1,0 0.9,0.1 1,0 0.9,0 0.9,0 1,0 0.9,0 1,0 0.9,0 1,0 3.8,0.1 3.7,0 3.8,0 3.8,0 3.8,0.1 3.8,0 3.8,0 3.8,0 3.7,0.1 3.8,0 3.8,0 3.8,0 3.8,0.1 3.8,0 3.7,0 3.8,0 3.8,0 3.8,0 3.8,0.1 3.8,0 3.7,0 3.8,0 3.8,0 3.8,0 3.8,0 3.8,0.1 3.7,0 3.8,0" fill="none" stroke="#3d4fa0" stroke-width="1.5" stroke-linejoin="round"/>
<text x="1805.3" y="773.3" font-size="17.8" fill="#111" stroke="#111" stroke-width="0.45">0.20</text>
<path d="M1566,777.1l0.5,0.1 0.4,0.1 0.5,0.1 0.5,0.1 0.5,0.2 0.4,0.1 0.5,0.1 0.5,0.1 0.5,0.1 0.4,0.1 0.5,0.1 0.5,0.1 0.9,0.2 1,0.2 0.9,0.2 1,0.2 0.9,0.1 1,0.2 0.9,0.2 0.9,0.2 1,0.1 0.9,0.2 1,0.2 0.9,0.1 1,0.2 0.9,0.1 1.9,0.3 1.9,0.3 1.9,0.3 1.9,0.3 1.9,0.2 1.9,0.3 1.9,0.2 1.9,0.2 1.8,0.3 1.9,0.2 1.9,0.2 1.9,0.2 1.9,0.1 1.9,0.2 1.9,0.2 3.8,0.3 3.8,0.3 3.8,0.3 3.7,0.2 3.8,0.3 3.8,0.2 3.8,0.2 3.8,0.2 3.8,0.1 3.7,0.2 3.8,0.1 3.8,0.2 3.8,0.1 3.8,0.1 3.8,0.1 3.7,0.1 3.8,0.1 1.9,0 1,0 0.9,-0.1 1,0 0.9,-0.1 0.9,0 1,-0.1 0.9,0 1,-0.1 0.9,0 1,-0.1 3.8,-0.2 3.7,-0.2 3.8,-0.2 3.8,-0.1 3.8,-0.2 3.8,-0.1 3.8,-0.2 3.8,-0.2 3.7,-0.1 3.8,-0.1 3.8,-0.2 3.8,-0.1 3.8,-0.1 3.8,-0.1 3.7,-0.1 3.8,-0.1 3.8,-0.1 3.8,-0.1 3.8,-0.1 3.8,-0.1 3.7,-0.1 3.8,-0.1 3.8,-0.1 3.8,-0.1 3.8,0 3.8,-0.1 3.7,-0.1 3.8,0" fill="none" stroke="#c4c4c4" stroke-width="3.2" stroke-linejoin="round"/>
<path d="M1566,777.1l0.5,0.1 0.4,0.1 0.5,0.1 0.5,0.1 0.5,0.2 0.4,0.1 0.5,0.1 0.5,0.1 0.5,0.1 0.4,0.1 0.5,0.1 0.5,0.1 0.9,0.2 1,0.2 0.9,0.2 1,0.2 0.9,0.1 1,0.2 0.9,0.2 0.9,0.2 1,0.1 0.9,0.2 1,0.2 0.9,0.1 1,0.2 0.9,0.1 1.9,0.3 1.9,0.3 1.9,0.3 1.9,0.3 1.9,0.2 1.9,0.3 1.9,0.2 1.9,0.2 1.8,0.3 1.9,0.2 1.9,0.2 1.9,0.2 1.9,0.1 1.9,0.2 1.9,0.2 3.8,0.3 3.8,0.3 3.8,0.3 3.7,0.2 3.8,0.3 3.8,0.2 3.8,0.2 3.8,0.2 3.8,0.1 3.7,0.2 3.8,0.1 3.8,0.2 3.8,0.1 3.8,0.1 3.8,0.1 3.7,0.1 3.8,0.1 1.9,0 1,0 0.9,-0.1 1,0 0.9,-0.1 0.9,0 1,-0.1 0.9,0 1,-0.1 0.9,0 1,-0.1 3.8,-0.2 3.7,-0.2 3.8,-0.2 3.8,-0.1 3.8,-0.2 3.8,-0.1 3.8,-0.2 3.8,-0.2 3.7,-0.1 3.8,-0.1 3.8,-0.2 3.8,-0.1 3.8,-0.1 3.8,-0.1 3.7,-0.1 3.8,-0.1 3.8,-0.1 3.8,-0.1 3.8,-0.1 3.8,-0.1 3.7,-0.1 3.8,-0.1 3.8,-0.1 3.8,-0.1 3.8,0 3.8,-0.1 3.7,-0.1 3.8,0" fill="none" stroke="#3d4fa0" stroke-width="1.5" stroke-linejoin="round"/>
<text x="1805.3" y="789.5" font-size="17.8" fill="#111" stroke="#111" stroke-width="0.45">0.09</text>
<text x="2" y="932.5" font-size="26" font-weight="bold" fill="#111" stroke="#111" stroke-width="0.45">h</text>
<text x="109.6" y="946.8" font-size="25" fill="#111" stroke="#111" stroke-width="0.45">MSL2 CTD alignment</text>
<rect x="912.77" y="971.9" width="8.46" height="12.7" fill="#d3d3ef" />
<rect x="929.69" y="971.9" width="59.22" height="12.7" fill="#d3d3ef" />
<rect x="997.37" y="971.9" width="101.52" height="12.7" fill="#d3d3ef" />
<rect x="1124.27" y="971.9" width="84.6" height="12.7" fill="#d3d3ef" />
<rect x="912.77" y="984.1" width="8.46" height="12.7" fill="#d3d3ef" />
<rect x="929.69" y="984.1" width="59.22" height="12.7" fill="#d3d3ef" />
<rect x="997.37" y="984.1" width="101.52" height="12.7" fill="#d3d3ef" />
<rect x="1124.27" y="984.1" width="84.6" height="12.7" fill="#d3d3ef" />
<rect x="912.77" y="996.3" width="8.46" height="12.7" fill="#d3d3ef" />
<rect x="929.69" y="996.3" width="59.22" height="12.7" fill="#d3d3ef" />
<rect x="997.37" y="996.3" width="101.52" height="12.7" fill="#d3d3ef" />
<rect x="1124.27" y="996.3" width="84.6" height="12.7" fill="#d3d3ef" />
<rect x="912.77" y="1008.5" width="8.46" height="12.2" fill="#d3d3ef" />
<rect x="929.69" y="1008.5" width="59.22" height="12.2" fill="#d3d3ef" />
<rect x="997.37" y="1008.5" width="101.52" height="12.2" fill="#d3d3ef" />
<rect x="1124.27" y="1008.5" width="84.6" height="12.2" fill="#d3d3ef" />
<rect x="912.77" y="1032.9" width="8.46" height="12.7" fill="#d3d3ef" />
<rect x="929.69" y="1032.9" width="59.22" height="12.7" fill="#d3d3ef" />
<rect x="997.37" y="1032.9" width="101.52" height="12.7" fill="#d3d3ef" />
<rect x="1124.27" y="1032.9" width="84.6" height="12.7" fill="#d3d3ef" />
<rect x="912.77" y="1045.1" width="8.46" height="12.7" fill="#d3d3ef" />
<rect x="929.69" y="1045.1" width="59.22" height="12.7" fill="#d3d3ef" />
<rect x="997.37" y="1045.1" width="101.52" height="12.7" fill="#d3d3ef" />
<rect x="1124.27" y="1045.1" width="84.6" height="12.7" fill="#d3d3ef" />
<rect x="912.77" y="1057.3" width="8.46" height="12.7" fill="#d3d3ef" />
<rect x="929.69" y="1057.3" width="59.22" height="12.7" fill="#d3d3ef" />
<rect x="997.37" y="1057.3" width="101.52" height="12.7" fill="#d3d3ef" />
<rect x="1124.27" y="1057.3" width="84.6" height="12.7" fill="#d3d3ef" />
<rect x="912.77" y="1069.5" width="8.46" height="12.7" fill="#d3d3ef" />
<rect x="929.69" y="1069.5" width="59.22" height="12.7" fill="#d3d3ef" />
<rect x="997.37" y="1069.5" width="101.52" height="12.7" fill="#d3d3ef" />
<rect x="1124.27" y="1069.5" width="84.6" height="12.7" fill="#d3d3ef" />
<rect x="912.77" y="1081.7" width="8.46" height="12.7" fill="#d3d3ef" />
<rect x="929.69" y="1081.7" width="59.22" height="12.7" fill="#d3d3ef" />
<rect x="997.37" y="1081.7" width="101.52" height="12.7" fill="#d3d3ef" />
<rect x="1124.27" y="1081.7" width="84.6" height="12.7" fill="#d3d3ef" />
<rect x="912.77" y="1093.9" width="8.46" height="12.7" fill="#d3d3ef" />
<rect x="929.69" y="1093.9" width="59.22" height="12.7" fill="#d3d3ef" />
<rect x="997.37" y="1093.9" width="101.52" height="12.7" fill="#d3d3ef" />
<rect x="1124.27" y="1093.9" width="84.6" height="12.7" fill="#d3d3ef" />
<rect x="912.77" y="1106.1" width="8.46" height="12.7" fill="#d3d3ef" />
<rect x="929.69" y="1106.1" width="59.22" height="12.7" fill="#d3d3ef" />
<rect x="997.37" y="1106.1" width="101.52" height="12.7" fill="#d3d3ef" />
<rect x="1124.27" y="1106.1" width="84.6" height="12.7" fill="#d3d3ef" />
<rect x="912.77" y="1118.3" width="8.46" height="12.7" fill="#d3d3ef" />
<rect x="929.69" y="1118.3" width="59.22" height="12.7" fill="#d3d3ef" />
<rect x="997.37" y="1118.3" width="101.52" height="12.7" fill="#d3d3ef" />
<rect x="1124.27" y="1118.3" width="84.6" height="12.7" fill="#d3d3ef" />
<rect x="912.77" y="1130.5" width="8.46" height="12.7" fill="#d3d3ef" />
<rect x="929.69" y="1130.5" width="59.22" height="12.7" fill="#d3d3ef" />
<rect x="997.37" y="1130.5" width="101.52" height="12.7" fill="#d3d3ef" />
<rect x="1124.27" y="1130.5" width="84.6" height="12.7" fill="#d3d3ef" />
<rect x="912.77" y="1142.7" width="8.46" height="12.7" fill="#d3d3ef" />
<rect x="929.69" y="1142.7" width="59.22" height="12.7" fill="#d3d3ef" />
<rect x="997.37" y="1142.7" width="101.52" height="12.7" fill="#d3d3ef" />
<rect x="1124.27" y="1142.7" width="84.6" height="12.7" fill="#d3d3ef" />
<rect x="912.77" y="1154.9" width="8.46" height="12.7" fill="#d3d3ef" />
<rect x="929.69" y="1154.9" width="59.22" height="12.7" fill="#d3d3ef" />
<rect x="997.37" y="1154.9" width="101.52" height="12.7" fill="#d3d3ef" />
<rect x="1124.27" y="1154.9" width="84.6" height="12.7" fill="#d3d3ef" />
<rect x="912.77" y="1167.1" width="8.46" height="12.2" fill="#d3d3ef" />
<rect x="929.69" y="1167.1" width="59.22" height="12.2" fill="#d3d3ef" />
<rect x="997.37" y="1167.1" width="101.52" height="12.2" fill="#d3d3ef" />
<rect x="1124.27" y="1167.1" width="84.6" height="12.2" fill="#d3d3ef" />
<rect x="862.01" y="1179.3" width="33.84" height="12.7" fill="#d3d3ef" />
<rect x="862.01" y="1191.5" width="33.84" height="12.7" fill="#d3d3ef" />
<rect x="862.01" y="1203.7" width="33.84" height="12.7" fill="#d3d3ef" />
<rect x="862.01" y="1215.9" width="33.84" height="12.7" fill="#d3d3ef" />
<rect x="862.01" y="1228.1" width="33.84" height="12.7" fill="#d3d3ef" />
<rect x="862.01" y="1240.3" width="33.84" height="12.7" fill="#d3d3ef" />
<rect x="862.01" y="1252.5" width="33.84" height="12.7" fill="#d3d3ef" />
<rect x="862.01" y="1264.7" width="33.84" height="12.7" fill="#d3d3ef" />
<rect x="862.01" y="1276.9" width="33.84" height="12.7" fill="#d3d3ef" />
<rect x="862.01" y="1289.1" width="33.84" height="12.7" fill="#d3d3ef" />
<rect x="862.01" y="1301.3" width="33.84" height="12.7" fill="#d3d3ef" />
<rect x="862.01" y="1313.5" width="33.84" height="12.2" fill="#d3d3ef" />
<rect x="904.31" y="971.9" width="8.46" height="12.7" fill="#a9a9db" />
<rect x="1098.89" y="971.9" width="16.92" height="12.7" fill="#a9a9db" />
<rect x="904.31" y="984.1" width="8.46" height="12.7" fill="#a9a9db" />
<rect x="1098.89" y="984.1" width="16.92" height="12.7" fill="#a9a9db" />
<rect x="904.31" y="996.3" width="8.46" height="12.7" fill="#a9a9db" />
<rect x="1098.89" y="996.3" width="16.92" height="12.7" fill="#a9a9db" />
<rect x="904.31" y="1008.5" width="8.46" height="12.2" fill="#a9a9db" />
<rect x="1098.89" y="1008.5" width="16.92" height="12.2" fill="#a9a9db" />
<rect x="904.31" y="1032.9" width="8.46" height="12.7" fill="#a9a9db" />
<rect x="1098.89" y="1032.9" width="16.92" height="12.7" fill="#a9a9db" />
<rect x="904.31" y="1045.1" width="8.46" height="12.7" fill="#a9a9db" />
<rect x="1098.89" y="1045.1" width="16.92" height="12.7" fill="#a9a9db" />
<rect x="904.31" y="1057.3" width="8.46" height="12.7" fill="#a9a9db" />
<rect x="1098.89" y="1057.3" width="16.92" height="12.7" fill="#a9a9db" />
<rect x="904.31" y="1069.5" width="8.46" height="12.7" fill="#a9a9db" />
<rect x="1098.89" y="1069.5" width="16.92" height="12.7" fill="#a9a9db" />
<rect x="904.31" y="1081.7" width="8.46" height="12.7" fill="#a9a9db" />
<rect x="1098.89" y="1081.7" width="16.92" height="12.7" fill="#a9a9db" />
<rect x="904.31" y="1093.9" width="8.46" height="12.7" fill="#a9a9db" />
<rect x="1098.89" y="1093.9" width="16.92" height="12.7" fill="#a9a9db" />
<rect x="904.31" y="1106.1" width="8.46" height="12.7" fill="#a9a9db" />
<rect x="1098.89" y="1106.1" width="16.92" height="12.7" fill="#a9a9db" />
<rect x="904.31" y="1118.3" width="8.46" height="12.7" fill="#a9a9db" />
<rect x="1098.89" y="1118.3" width="16.92" height="12.7" fill="#a9a9db" />
<rect x="904.31" y="1130.5" width="8.46" height="12.7" fill="#a9a9db" />
<rect x="1098.89" y="1130.5" width="16.92" height="12.7" fill="#a9a9db" />
<rect x="904.31" y="1142.7" width="8.46" height="12.7" fill="#a9a9db" />
<rect x="1098.89" y="1142.7" width="16.92" height="12.7" fill="#a9a9db" />
<rect x="904.31" y="1154.9" width="8.46" height="12.7" fill="#a9a9db" />
<rect x="1098.89" y="1154.9" width="16.92" height="12.7" fill="#a9a9db" />
<rect x="904.31" y="1167.1" width="8.46" height="12.2" fill="#a9a9db" />
<rect x="1098.89" y="1167.1" width="16.92" height="12.2" fill="#a9a9db" />
<rect x="904.31" y="1191.5" width="16.92" height="12.2" fill="#a9a9db" />
<rect x="1107.35" y="1191.5" width="8.46" height="12.7" fill="#a9a9db" />
<rect x="904.31" y="1203.7" width="8.46" height="12.7" fill="#a9a9db" />
<rect x="1107.35" y="1203.7" width="8.46" height="12.7" fill="#a9a9db" />
<rect x="904.31" y="1215.9" width="8.46" height="12.2" fill="#a9a9db" />
<rect x="1098.89" y="1215.9" width="16.92" height="12.2" fill="#a9a9db" />
<rect x="1098.89" y="1228.1" width="8.46" height="12.7" fill="#a9a9db" />
<rect x="1098.89" y="1240.3" width="8.46" height="12.7" fill="#a9a9db" />
<rect x="1098.89" y="1252.5" width="16.92" height="12.2" fill="#a9a9db" />
<rect x="1098.89" y="1264.7" width="8.46" height="12.7" fill="#a9a9db" />
<rect x="1098.89" y="1276.9" width="8.46" height="12.7" fill="#a9a9db" />
<rect x="1098.89" y="1289.1" width="8.46" height="12.2" fill="#a9a9db" />
<rect x="921.23" y="971.9" width="8.46" height="12.7" fill="#6868bd" />
<rect x="988.91" y="971.9" width="8.46" height="12.7" fill="#6868bd" />
<rect x="1115.81" y="971.9" width="8.46" height="12.7" fill="#6868bd" />
<rect x="921.23" y="984.1" width="8.46" height="12.7" fill="#6868bd" />
<rect x="988.91" y="984.1" width="8.46" height="12.7" fill="#6868bd" />
<rect x="1115.81" y="984.1" width="8.46" height="12.7" fill="#6868bd" />
<rect x="921.23" y="996.3" width="8.46" height="12.7" fill="#6868bd" />
<rect x="988.91" y="996.3" width="8.46" height="12.7" fill="#6868bd" />
<rect x="1115.81" y="996.3" width="8.46" height="12.7" fill="#6868bd" />
<rect x="921.23" y="1008.5" width="8.46" height="12.2" fill="#6868bd" />
<rect x="988.91" y="1008.5" width="8.46" height="12.2" fill="#6868bd" />
<rect x="1115.81" y="1008.5" width="8.46" height="12.2" fill="#6868bd" />
<rect x="921.23" y="1032.9" width="8.46" height="12.7" fill="#6868bd" />
<rect x="988.91" y="1032.9" width="8.46" height="12.7" fill="#6868bd" />
<rect x="1115.81" y="1032.9" width="8.46" height="12.7" fill="#6868bd" />
<rect x="921.23" y="1045.1" width="8.46" height="12.7" fill="#6868bd" />
<rect x="988.91" y="1045.1" width="8.46" height="12.7" fill="#6868bd" />
<rect x="1115.81" y="1045.1" width="8.46" height="12.7" fill="#6868bd" />
<rect x="921.23" y="1057.3" width="8.46" height="12.7" fill="#6868bd" />
<rect x="988.91" y="1057.3" width="8.46" height="12.7" fill="#6868bd" />
<rect x="1115.81" y="1057.3" width="8.46" height="12.7" fill="#6868bd" />
<rect x="921.23" y="1069.5" width="8.46" height="12.7" fill="#6868bd" />
<rect x="988.91" y="1069.5" width="8.46" height="12.7" fill="#6868bd" />
<rect x="1115.81" y="1069.5" width="8.46" height="12.7" fill="#6868bd" />
<rect x="921.23" y="1081.7" width="8.46" height="12.7" fill="#6868bd" />
<rect x="988.91" y="1081.7" width="8.46" height="12.7" fill="#6868bd" />
<rect x="1115.81" y="1081.7" width="8.46" height="12.7" fill="#6868bd" />
<rect x="921.23" y="1093.9" width="8.46" height="12.7" fill="#6868bd" />
<rect x="988.91" y="1093.9" width="8.46" height="12.7" fill="#6868bd" />
<rect x="1115.81" y="1093.9" width="8.46" height="12.7" fill="#6868bd" />
<rect x="921.23" y="1106.1" width="8.46" height="12.7" fill="#6868bd" />
<rect x="988.91" y="1106.1" width="8.46" height="12.7" fill="#6868bd" />
<rect x="1115.81" y="1106.1" width="8.46" height="12.7" fill="#6868bd" />
<rect x="921.23" y="1118.3" width="8.46" height="12.7" fill="#6868bd" />
<rect x="988.91" y="1118.3" width="8.46" height="12.7" fill="#6868bd" />
<rect x="1115.81" y="1118.3" width="8.46" height="12.7" fill="#6868bd" />
<rect x="921.23" y="1130.5" width="8.46" height="12.7" fill="#6868bd" />
<rect x="988.91" y="1130.5" width="8.46" height="12.7" fill="#6868bd" />
<rect x="1115.81" y="1130.5" width="8.46" height="12.7" fill="#6868bd" />
<rect x="921.23" y="1142.7" width="8.46" height="12.7" fill="#6868bd" />
<rect x="988.91" y="1142.7" width="8.46" height="12.7" fill="#6868bd" />
<rect x="1115.81" y="1142.7" width="8.46" height="12.7" fill="#6868bd" />
<rect x="921.23" y="1154.9" width="8.46" height="12.7" fill="#6868bd" />
<rect x="988.91" y="1154.9" width="8.46" height="12.7" fill="#6868bd" />
<rect x="1115.81" y="1154.9" width="8.46" height="12.7" fill="#6868bd" />
<rect x="921.23" y="1167.1" width="8.46" height="12.7" fill="#6868bd" />
<rect x="988.91" y="1167.1" width="8.46" height="12.7" fill="#6868bd" />
<rect x="1115.81" y="1167.1" width="8.46" height="12.7" fill="#6868bd" />
<rect x="921.23" y="1179.3" width="8.46" height="12.7" fill="#6868bd" />
<rect x="988.91" y="1179.3" width="8.46" height="12.7" fill="#6868bd" />
<rect x="1115.81" y="1179.3" width="8.46" height="12.7" fill="#6868bd" />
<rect x="921.23" y="1191.5" width="8.46" height="12.7" fill="#6868bd" />
<rect x="988.91" y="1191.5" width="8.46" height="12.7" fill="#6868bd" />
<rect x="1115.81" y="1191.5" width="8.46" height="12.7" fill="#6868bd" />
<rect x="921.23" y="1203.7" width="8.46" height="12.7" fill="#6868bd" />
<rect x="988.91" y="1203.7" width="8.46" height="12.7" fill="#6868bd" />
<rect x="1115.81" y="1203.7" width="8.46" height="12.7" fill="#6868bd" />
<rect x="921.23" y="1215.9" width="8.46" height="12.7" fill="#6868bd" />
<rect x="988.91" y="1215.9" width="8.46" height="12.7" fill="#6868bd" />
<rect x="1115.81" y="1215.9" width="8.46" height="12.7" fill="#6868bd" />
<rect x="921.23" y="1228.1" width="8.46" height="12.7" fill="#6868bd" />
<rect x="988.91" y="1228.1" width="8.46" height="12.7" fill="#6868bd" />
<rect x="1115.81" y="1228.1" width="8.46" height="12.7" fill="#6868bd" />
<rect x="921.23" y="1240.3" width="8.46" height="12.7" fill="#6868bd" />
<rect x="988.91" y="1240.3" width="8.46" height="12.7" fill="#6868bd" />
<rect x="1115.81" y="1240.3" width="8.46" height="12.7" fill="#6868bd" />
<rect x="921.23" y="1252.5" width="8.46" height="12.7" fill="#6868bd" />
<rect x="988.91" y="1252.5" width="8.46" height="12.7" fill="#6868bd" />
<rect x="1115.81" y="1252.5" width="8.46" height="12.7" fill="#6868bd" />
<rect x="921.23" y="1264.7" width="8.46" height="12.7" fill="#6868bd" />
<rect x="988.91" y="1264.7" width="8.46" height="12.7" fill="#6868bd" />
<rect x="1115.81" y="1264.7" width="8.46" height="12.7" fill="#6868bd" />
<rect x="921.23" y="1276.9" width="8.46" height="12.7" fill="#6868bd" />
<rect x="988.91" y="1276.9" width="8.46" height="12.7" fill="#6868bd" />
<rect x="1115.81" y="1276.9" width="8.46" height="12.7" fill="#6868bd" />
<rect x="921.23" y="1289.1" width="8.46" height="12.7" fill="#6868bd" />
<rect x="988.91" y="1289.1" width="8.46" height="12.7" fill="#6868bd" />
<rect x="1115.81" y="1289.1" width="8.46" height="12.7" fill="#6868bd" />
<rect x="921.23" y="1301.3" width="8.46" height="12.7" fill="#6868bd" />
<rect x="988.91" y="1301.3" width="8.46" height="12.7" fill="#6868bd" />
<rect x="1115.81" y="1301.3" width="8.46" height="12.7" fill="#6868bd" />
<rect x="921.23" y="1313.5" width="8.46" height="12.2" fill="#6868bd" />
<rect x="988.91" y="1313.5" width="8.46" height="12.2" fill="#6868bd" />
<rect x="1115.81" y="1313.5" width="8.46" height="12.2" fill="#6868bd" />
<text x="110.12" y="981.9" font-size="10.6" font-family="'Liberation Mono', 'Courier New', monospace" letter-spacing="2.1" fill="#111" stroke="#111" stroke-width="0.3"><tspan fill="#777" stroke="#777">––––––––––––––––––––––––––––––––––––––––––––––––––––––––––––––––––––––––––––––––––––––––––––––</tspan>MANGEKKLEAFAVPEKALEQTRLTLGINVTSIAVRN</text>
<text x="21.8" y="981.9" font-size="9.7" font-weight="bold" font-style="italic" fill="#1a1a1a">Microbat</text>
<text x="110.12" y="994.1" font-size="10.6" font-family="'Liberation Mono', 'Courier New', monospace" letter-spacing="2.1" fill="#111" stroke="#111" stroke-width="0.3"><tspan fill="#777" stroke="#777">––––––––––––––––––––––––––––––––––––––––––––––––––––––––––––––––––––––––––––––––––––––––––––––</tspan>MANGEKKLEAFAVPEKALEQTRLTLGINVTSIAVRN</text>
<text x="21.8" y="994.1" font-size="9.7" font-weight="bold" font-style="italic" fill="#1a1a1a">Elephant</text>
<text x="110.12" y="1006.3" font-size="10.6" font-family="'Liberation Mono', 'Courier New', monospace" letter-spacing="2.1" fill="#111" stroke="#111" stroke-width="0.3"><tspan fill="#777" stroke="#777">––––––––––––––––––––––––––––––––––––––––––––––––––––––––––––––––––––––––––––––––––––––––––––––</tspan>MANGEKKLEAFAVPEKALEQTRLTLGINVTSIAVRN</text>
<text x="21.8" y="1006.3" font-size="9.7" font-weight="bold" font-style="italic" fill="#1a1a1a">Rat</text>
<text x="110.12" y="1018.5" font-size="10.6" font-family="'Liberation Mono', 'Courier New', monospace" letter-spacing="2.1" fill="#111" stroke="#111" stroke-width="0.3"><tspan fill="#777" stroke="#777">––––––––––––––––––––––––––––––––––––––––––––––––––––––––––––––––––––––––––––––––––––––––––––––</tspan>MANGEKKLEAFAVPEKALEQTRLTLGINVTSIAVRN</text>
<text x="21.8" y="1018.5" font-size="9.7" font-weight="bold" font-style="italic" fill="#1a1a1a">Mouse</text>
<text x="110.12" y="1030.7" font-size="10.6" font-family="'Liberation Mono', 'Courier New', monospace" letter-spacing="2.1" fill="#111" stroke="#111" stroke-width="0.3"><tspan fill="#777" stroke="#777">––––––––––––––––––––––––––––––––––––––––––––––––––––––––––––––––––––––––––––––––––––––––––––––––––––––––––––––––––––––––––––––––––</tspan></text>
<text x="21.8" y="1030.7" font-size="9.7" font-weight="bold" font-style="italic" fill="#1a1a1a">Dolphin</text>
<text x="110.12" y="1042.9" font-size="10.6" font-family="'Liberation Mono', 'Courier New', monospace" letter-spacing="2.1" fill="#111" stroke="#111" stroke-width="0.3"><tspan fill="#777" stroke="#777">––––––––––––––––––––––––––––––––––––––––––––––––––––––––––––––––––––––––––––––––––––––––––––––</tspan>MANGEKKLEAFAVPEKALEQTRLTLGINVTSIAVRN</text>
<text x="21.8" y="1042.9" font-size="9.7" font-weight="bold" font-style="italic" fill="#1a1a1a">Cow</text>
<text x="110.12" y="1055.1" font-size="10.6" font-family="'Liberation Mono', 'Courier New', monospace" letter-spacing="2.1" fill="#111" stroke="#111" stroke-width="0.3"><tspan fill="#777" stroke="#777">––––––––––––––––––––––––––––––––––––––––––––––––––––––––––––––––––––––––––––––––––––––––––––––</tspan>MANGEKKLEAFAVPEKALEQTRLTLGINVTSIAVRN</text>
<text x="21.8" y="1055.1" font-size="9.7" font-weight="bold" font-style="italic" fill="#1a1a1a">Megabat</text>
<text x="110.12" y="1067.3" font-size="10.6" font-family="'Liberation Mono', 'Courier New', monospace" letter-spacing="2.1" fill="#111" stroke="#111" stroke-width="0.3"><tspan fill="#777" stroke="#777">––––––––––––––––––––––––––––––––––––––––––––––––––––––––––––––––––––––––––––––––––––––––––––––</tspan>MANGEKKLEAFAVPEKALEQTRLTLGINVTSIAVRN</text>
<text x="21.8" y="1067.3" font-size="9.7" font-weight="bold" font-style="italic" fill="#1a1a1a">Cat</text>
<text x="110.12" y="1079.5" font-size="10.6" font-family="'Liberation Mono', 'Courier New', monospace" letter-spacing="2.1" fill="#111" stroke="#111" stroke-width="0.3"><tspan fill="#777" stroke="#777">––––––––––––––––––––––––––––––––––––––––––––––––––––––––––––––––––––––––––––––––––––––––––––––</tspan>MANGEKKLEAFAVPEKALEQTRLTLGINVTSIAVRN</text>
<text x="21.8" y="1079.5" font-size="9.7" font-weight="bold" font-style="italic" fill="#1a1a1a">Dog</text>
<text x="110.12" y="1091.7" font-size="10.6" font-family="'Liberation Mono', 'Courier New', monospace" letter-spacing="2.1" fill="#111" stroke="#111" stroke-width="0.3"><tspan fill="#777" stroke="#777">––––––––––––––––––––––––––––––––––––––––––––––––––––––––––––––––––––––––––––––––––––––––––––––</tspan>MANGEKKLEAFAVPEKALEQTRLTLGINVTSIAVRN</text>
<text x="21.8" y="1091.7" font-size="9.7" font-weight="bold" font-style="italic" fill="#1a1a1a">Pig</text>
<text x="110.12" y="1103.9" font-size="10.6" font-family="'Liberation Mono', 'Courier New', monospace" letter-spacing="2.1" fill="#111" stroke="#111" stroke-width="0.3"><tspan fill="#777" stroke="#777">––––––––––––––––––––––––––––––––––––––––––––––––––––––––––––––––––––––––––––––––––––––––––––––</tspan>MANGEKKLEAFAVPEKALEQTRLTLGINVTSIAVRN</text>
<text x="21.8" y="1103.9" font-size="9.7" font-weight="bold" font-style="italic" fill="#1a1a1a">Horse</text>
<text x="110.12" y="1116.1" font-size="10.6" font-family="'Liberation Mono', 'Courier New', monospace" letter-spacing="2.1" fill="#111" stroke="#111" stroke-width="0.3"><tspan fill="#777" stroke="#777">––––––––––––––––––––––––––––––––––––––––––––––––––––––––––––––––––––––––––––––––––––––––––––––</tspan>MANGEKKLEAFAVPEKALEQTRLTLGINVTSIAVRN</text>
<text x="21.8" y="1116.1" font-size="9.7" font-weight="bold" font-style="italic" fill="#1a1a1a">Marmoset</text>
<text x="110.12" y="1128.3" font-size="10.6" font-family="'Liberation Mono', 'Courier New', monospace" letter-spacing="2.1" fill="#111" stroke="#111" stroke-width="0.3"><tspan fill="#777" stroke="#777">––––––––––––––––––––––––––––––––––––––––––––––––––––––––––––––––––––––––––––––––––––––––––––––</tspan>MANGEKKLEAFAVPEKALEQTRLTLGINVTSIAVRN</text>
<text x="21.8" y="1128.3" font-size="9.7" font-weight="bold" font-style="italic" fill="#1a1a1a">Human</text>
<text x="110.12" y="1140.5" font-size="10.6" font-family="'Liberation Mono', 'Courier New', monospace" letter-spacing="2.1" fill="#111" stroke="#111" stroke-width="0.3"><tspan fill="#777" stroke="#777">––––––––––––––––––––––––––––––––––––––––––––––––––––––––––––––––––––––––––––––––––––––––––––––</tspan>MANGEKKLEAFAVPEKALEQTRLTLGINVTSIAVRN</text>
<text x="21.8" y="1140.5" font-size="9.7" font-weight="bold" font-style="italic" fill="#1a1a1a">Chimpanzee</text>
<text x="110.12" y="1152.7" font-size="10.6" font-family="'Liberation Mono', 'Courier New', monospace" letter-spacing="2.1" fill="#111" stroke="#111" stroke-width="0.3"><tspan fill="#777" stroke="#777">––––––––––––––––––––––––––––––––––––––––––––––––––––––––––––––––––––––––––––––––––––––––––––––</tspan>MANGEKKLEAFAVPEKALEQTRLTLGINVTSIAVRN</text>
<text x="21.8" y="1152.7" font-size="9.7" font-weight="bold" font-style="italic" fill="#1a1a1a">Gorilla</text>
<text x="110.12" y="1164.9" font-size="10.6" font-family="'Liberation Mono', 'Courier New', monospace" letter-spacing="2.1" fill="#111" stroke="#111" stroke-width="0.3"><tspan fill="#777" stroke="#777">––––––––––––––––––––––––––––––––––––––––––––––––––––––––––––––––––––––––––––––––––––––––––––––</tspan>MANGEKKLEAFAVPEKALEQTRLTLGINVTSIAVRN</text>
<text x="21.8" y="1164.9" font-size="9.7" font-weight="bold" font-style="italic" fill="#1a1a1a">Macaque</text>
<text x="110.12" y="1177.1" font-size="10.6" font-family="'Liberation Mono', 'Courier New', monospace" letter-spacing="2.1" fill="#111" stroke="#111" stroke-width="0.3"><tspan fill="#777" stroke="#777">––––––––––––––––––––––––––––––––––––––––––––––––––––––––––––––––––––––––––––––––––––––––––––––</tspan>MANGEKKLEAFAVPEKALEQTRLTLGINVTSIAVRN</text>
<text x="21.8" y="1177.1" font-size="9.7" font-weight="bold" font-style="italic" fill="#1a1a1a">Gibbon</text>
<text x="110.12" y="1189.3" font-size="10.6" font-family="'Liberation Mono', 'Courier New', monospace" letter-spacing="2.1" fill="#111" stroke="#111" stroke-width="0.3">KQDYIDTDDEMDDDDDDDEDDDETLANLKTDIIALKGEK<tspan fill="#777" stroke="#777">––––––––––––––––––––––––––––––––</tspan>KSFEGLTLVALSNPEQSQHPLVLVQNENNEMQCFNIFQGDVPIDPANYGFQRVQLQNKD</text>
<text x="21.8" y="1189.3" font-size="9.7" font-weight="bold" font-style="italic" fill="#1a1a1a">Dwil</text>
<text x="110.12" y="1201.5" font-size="10.6" font-family="'Liberation Mono', 'Courier New', monospace" letter-spacing="2.1" fill="#111" stroke="#111" stroke-width="0.3">LHAPRMSSSSEEDVKLLVATDTVKEEVKQEQQKSTHAAEAGAATGATNV<tspan fill="#777" stroke="#777">–</tspan>TATAT<tspan fill="#777" stroke="#777">–––––––––––––</tspan>ATGAGATPSNFTLVPAAQQSEHPLVYMMNETGDYQGFNIFNGNAPLDPAQLGFPRIPFPSKD</text>
<text x="21.8" y="1201.5" font-size="9.7" font-weight="bold" font-style="italic" fill="#1a1a1a">Dgri</text>
<text x="110.12" y="1213.7" font-size="10.6" font-family="'Liberation Mono', 'Courier New', monospace" letter-spacing="2.1" fill="#111" stroke="#111" stroke-width="0.3">QDAADTSDEEDSNLEAPMETVAEEPAPVSAAAEEPTPSAPEAAAASTA<tspan fill="#777" stroke="#777">–––––––––––––––––––––––</tspan>GMQSGFTLVPLDNLQQTQHPLVLMQNENGQYQGFNIFNGTEPVDPAQLGFQRVPLRSND</text>
<text x="21.8" y="1213.7" font-size="9.7" font-weight="bold" font-style="italic" fill="#1a1a1a">Dvir</text>
<text x="110.12" y="1225.9" font-size="10.6" font-family="'Liberation Mono', 'Courier New', monospace" letter-spacing="2.1" fill="#111" stroke="#111" stroke-width="0.3">QDATDTSDEEDFNMDIETEVAPAEEPAEEPVEEPTPAST<tspan fill="#777" stroke="#777">––––––––––––––––––––––––––––––––</tspan>DMQSGFTLVPLDNLQQSQHPLVLMQNENGQYQGFNIFNGSEPVDPATLGFQRVPLRSND</text>
<text x="21.8" y="1225.9" font-size="9.7" font-weight="bold" font-style="italic" fill="#1a1a1a">Dmoj</text>
<text x="110.12" y="1238.1" font-size="10.6" font-family="'Liberation Mono', 'Courier New', monospace" letter-spacing="2.1" fill="#111" stroke="#111" stroke-width="0.3">KTDFLDSDDEDEEFELENLEPTSLPNPQSEKKSTTTATPTATTTAKATPAPTAKTTATPTATKEVNAEKAASSQGGISLVPLSNLQQSQHPLVLVQNENGEYQGFNIFQGTVPIDPATVGFLRVQLQNND</text>
<text x="21.8" y="1238.1" font-size="9.7" font-weight="bold" font-style="italic" fill="#1a1a1a">Dpse</text>
<text x="110.12" y="1250.3" font-size="10.6" font-family="'Liberation Mono', 'Courier New', monospace" letter-spacing="2.1" fill="#111" stroke="#111" stroke-width="0.3">KTDFLDSDDEDEEFELENLEPTSLPNPQSEKKSTTTATPTATTTAKATPAPTAKT<tspan fill="#777" stroke="#777">––––</tspan>TATKEVNAEKAASSQGGISLVPLSNLQQSQHPLVLVQNENGEYQGFNIFQGTVPIDPATVGFLRVQLQNND</text>
<text x="21.8" y="1250.3" font-size="9.7" font-weight="bold" font-style="italic" fill="#1a1a1a">Dper</text>
<text x="110.12" y="1262.5" font-size="10.6" font-family="'Liberation Mono', 'Courier New', monospace" letter-spacing="2.1" fill="#111" stroke="#111" stroke-width="0.3">KVDFIDSDDGEEEDDALVTGQEPKQAQPQEPERGDVKEGPEPEAPAKPSEEAGES<tspan fill="#777" stroke="#777">–––––––––––––</tspan>AAGGSNESLTFVPLSNLQQSQHPLVLVQNKKGEFQGFNILRNNVPLHPATLGWPCIQLQNND</text>
<text x="21.8" y="1262.5" font-size="9.7" font-weight="bold" font-style="italic" fill="#1a1a1a">Dana</text>
<text x="110.12" y="1274.7" font-size="10.6" font-family="'Liberation Mono', 'Courier New', monospace" letter-spacing="2.1" fill="#111" stroke="#111" stroke-width="0.3">KEDYVESDEDDDFEDFEMLKEVPEPMTQSEEPPAESKQEENTRDCAPPD<tspan fill="#777" stroke="#777">––––––––––––––––––––––</tspan>ASADAISLVPLSNLQQCQHPLVLVQNELGEYQGFNIFQGSKPVDPATVGFIRVPLRHSD</text>
<text x="21.8" y="1274.7" font-size="9.7" font-weight="bold" font-style="italic" fill="#1a1a1a">Dere</text>
<text x="110.12" y="1286.9" font-size="10.6" font-family="'Liberation Mono', 'Courier New', monospace" letter-spacing="2.1" fill="#111" stroke="#111" stroke-width="0.3">KEDYVESDEDDDFEDFEMLKEVPEPMTQSEELPADARQEENSRDCAPPD<tspan fill="#777" stroke="#777">––––––––––––––––––––––</tspan>SSGDGISLVPLNNLQHSQHPLVLVQNELGDYQGFNIFQGSKPVDPATVGFMRVQLQHSD</text>
<text x="21.8" y="1286.9" font-size="9.7" font-weight="bold" font-style="italic" fill="#1a1a1a">Dyak</text>
<text x="110.12" y="1299.1" font-size="10.6" font-family="'Liberation Mono', 'Courier New', monospace" letter-spacing="2.1" fill="#111" stroke="#111" stroke-width="0.3">KEDYVESDEDDDLEDFEMPKDVPEPMTQSEEPVVAEPRQEENS<tspan fill="#777" stroke="#777">––</tspan>MAPPD<tspan fill="#777" stroke="#777">–––––––––––––––––––––</tspan>SS<tspan fill="#777" stroke="#777">–</tspan>APISLVPLNNLQQSQHPLVLVQNEKGEYQGFNIFQGSKPLDPVTVGFTIRVQLQHT</text>
<text x="21.8" y="1299.1" font-size="9.7" font-weight="bold" font-style="italic" fill="#1a1a1a">D.mel</text>
<text x="110.12" y="1311.3" font-size="10.6" font-family="'Liberation Mono', 'Courier New', monospace" letter-spacing="2.1" fill="#111" stroke="#111" stroke-width="0.3">KEDYVESDEDDDFEDFEMLKDVPEPMTQSEEPVVAEPRQEENSRDCAPPD<tspan fill="#777" stroke="#777">–––––––––––––––––––––</tspan>SSEEAISLVPLNNLQHSQHPLVLVQNEQGDYQGFNIFQGNKPLDPVAAGFTMRVQLQHT</text>
<text x="21.8" y="1311.3" font-size="9.7" font-weight="bold" font-style="italic" fill="#1a1a1a">Dsim</text>
<text x="110.12" y="1323.5" font-size="10.6" font-family="'Liberation Mono', 'Courier New', monospace" letter-spacing="2.1" fill="#111" stroke="#111" stroke-width="0.3">KEDYVESDEDDDFEDFEMLKDVPEPMTQSEEPVVAEPRQEENSRDCAPPD<tspan fill="#777" stroke="#777">–––––––––––––––––––––</tspan>SSEEAISLVPLNNLQHSQHPLVLVQNEQGDYQGFNIFQGNKPLDPVAAGFTMRVQLQHT</text>
<text x="21.8" y="1323.5" font-size="9.7" font-weight="bold" font-style="italic" fill="#1a1a1a">Dsec</text>
<line x1="147.14" y1="968.3" x2="147.14" y2="970.9" stroke="#222" stroke-width="1.2" />
<line x1="189.44" y1="967.3" x2="189.44" y2="971.8" stroke="#222" stroke-width="1.2" />
<line x1="231.74" y1="968.3" x2="231.74" y2="970.9" stroke="#222" stroke-width="1.2" />
<line x1="274.04" y1="967.3" x2="274.04" y2="971.8" stroke="#222" stroke-width="1.2" />
<line x1="316.34" y1="968.3" x2="316.34" y2="970.9" stroke="#222" stroke-width="1.2" />
<line x1="358.64" y1="967.3" x2="358.64" y2="971.8" stroke="#222" stroke-width="1.2" />
<line x1="400.94" y1="968.3" x2="400.94" y2="970.9" stroke="#222" stroke-width="1.2" />
<line x1="443.24" y1="967.3" x2="443.24" y2="971.8" stroke="#222" stroke-width="1.2" />
<line x1="485.54" y1="968.3" x2="485.54" y2="970.9" stroke="#222" stroke-width="1.2" />
<line x1="527.84" y1="967.3" x2="527.84" y2="971.8" stroke="#222" stroke-width="1.2" />
<line x1="570.14" y1="968.3" x2="570.14" y2="970.9" stroke="#222" stroke-width="1.2" />
<line x1="612.44" y1="967.3" x2="612.44" y2="971.8" stroke="#222" stroke-width="1.2" />
<line x1="654.74" y1="968.3" x2="654.74" y2="970.9" stroke="#222" stroke-width="1.2" />
<line x1="697.04" y1="967.3" x2="697.04" y2="971.8" stroke="#222" stroke-width="1.2" />
<line x1="739.34" y1="968.3" x2="739.34" y2="970.9" stroke="#222" stroke-width="1.2" />
<line x1="781.64" y1="967.3" x2="781.64" y2="971.8" stroke="#222" stroke-width="1.2" />
<line x1="823.94" y1="968.3" x2="823.94" y2="970.9" stroke="#222" stroke-width="1.2" />
<line x1="866.24" y1="967.3" x2="866.24" y2="971.8" stroke="#222" stroke-width="1.2" />
<line x1="908.54" y1="968.3" x2="908.54" y2="970.9" stroke="#222" stroke-width="1.2" />
<line x1="950.84" y1="967.3" x2="950.84" y2="971.8" stroke="#222" stroke-width="1.2" />
<line x1="993.14" y1="968.3" x2="993.14" y2="970.9" stroke="#222" stroke-width="1.2" />
<line x1="1035.44" y1="967.3" x2="1035.44" y2="971.8" stroke="#222" stroke-width="1.2" />
<line x1="1077.74" y1="968.3" x2="1077.74" y2="970.9" stroke="#222" stroke-width="1.2" />
<line x1="1120.04" y1="967.3" x2="1120.04" y2="971.8" stroke="#222" stroke-width="1.2" />
<line x1="1162.34" y1="968.3" x2="1162.34" y2="970.9" stroke="#222" stroke-width="1.2" />
<text x="186.24" y="966.3" font-size="9.2" fill="#111" stroke="#111" stroke-width="0.45">10</text>
<text x="270.84" y="966.3" font-size="9.2" fill="#111" stroke="#111" stroke-width="0.45">20</text>
<text x="355.44" y="966.3" font-size="9.2" fill="#111" stroke="#111" stroke-width="0.45">30</text>
<text x="440.04" y="966.3" font-size="9.2" fill="#111" stroke="#111" stroke-width="0.45">40</text>
<text x="524.64" y="966.3" font-size="9.2" fill="#111" stroke="#111" stroke-width="0.45">50</text>
<text x="609.24" y="966.3" font-size="9.2" fill="#111" stroke="#111" stroke-width="0.45">60</text>
<text x="693.84" y="966.3" font-size="9.2" fill="#111" stroke="#111" stroke-width="0.45">70</text>
<text x="778.44" y="966.3" font-size="9.2" fill="#111" stroke="#111" stroke-width="0.45">80</text>
<text x="863.04" y="966.3" font-size="9.2" fill="#111" stroke="#111" stroke-width="0.45">90</text>
<text x="947.64" y="966.3" font-size="9.2" fill="#111" stroke="#111" stroke-width="0.45">100</text>
<text x="1032.24" y="966.3" font-size="9.2" fill="#111" stroke="#111" stroke-width="0.45">110</text>
<text x="1116.84" y="966.3" font-size="9.2" fill="#111" stroke="#111" stroke-width="0.45">120</text>
<rect x="465.85" y="1351.9" width="25.38" height="12.73" fill="#d3d3ef" />
<rect x="499.69" y="1351.9" width="42.3" height="12.73" fill="#d3d3ef" />
<rect x="550.45" y="1351.9" width="25.38" height="12.73" fill="#d3d3ef" />
<rect x="584.29" y="1351.9" width="25.38" height="12.73" fill="#d3d3ef" />
<rect x="948.07" y="1351.9" width="8.46" height="12.73" fill="#d3d3ef" />
<rect x="964.99" y="1351.9" width="33.84" height="12.73" fill="#d3d3ef" />
<rect x="1007.29" y="1351.9" width="25.38" height="12.73" fill="#d3d3ef" />
<rect x="1049.59" y="1351.9" width="50.76" height="12.73" fill="#d3d3ef" />
<rect x="1125.73" y="1351.9" width="8.46" height="12.73" fill="#d3d3ef" />
<rect x="465.85" y="1364.13" width="25.38" height="12.73" fill="#d3d3ef" />
<rect x="499.69" y="1364.13" width="42.3" height="12.73" fill="#d3d3ef" />
<rect x="550.45" y="1364.13" width="25.38" height="12.73" fill="#d3d3ef" />
<rect x="584.29" y="1364.13" width="25.38" height="12.73" fill="#d3d3ef" />
<rect x="948.07" y="1364.13" width="8.46" height="12.73" fill="#d3d3ef" />
<rect x="964.99" y="1364.13" width="33.84" height="12.73" fill="#d3d3ef" />
<rect x="1007.29" y="1364.13" width="25.38" height="12.73" fill="#d3d3ef" />
<rect x="1049.59" y="1364.13" width="50.76" height="12.73" fill="#d3d3ef" />
<rect x="1125.73" y="1364.13" width="8.46" height="12.73" fill="#d3d3ef" />
<rect x="465.85" y="1376.36" width="25.38" height="12.73" fill="#d3d3ef" />
<rect x="499.69" y="1376.36" width="42.3" height="12.73" fill="#d3d3ef" />
<rect x="550.45" y="1376.36" width="25.38" height="12.73" fill="#d3d3ef" />
<rect x="584.29" y="1376.36" width="25.38" height="12.73" fill="#d3d3ef" />
<rect x="948.07" y="1376.36" width="8.46" height="12.73" fill="#d3d3ef" />
<rect x="964.99" y="1376.36" width="33.84" height="12.73" fill="#d3d3ef" />
<rect x="1007.29" y="1376.36" width="25.38" height="12.73" fill="#d3d3ef" />
<rect x="1049.59" y="1376.36" width="50.76" height="12.73" fill="#d3d3ef" />
<rect x="1125.73" y="1376.36" width="8.46" height="12.73" fill="#d3d3ef" />
<rect x="465.85" y="1388.59" width="25.38" height="12.23" fill="#d3d3ef" />
<rect x="499.69" y="1388.59" width="42.3" height="12.23" fill="#d3d3ef" />
<rect x="550.45" y="1388.59" width="25.38" height="12.23" fill="#d3d3ef" />
<rect x="584.29" y="1388.59" width="25.38" height="12.23" fill="#d3d3ef" />
<rect x="948.07" y="1388.59" width="8.46" height="12.23" fill="#d3d3ef" />
<rect x="964.99" y="1388.59" width="33.84" height="12.23" fill="#d3d3ef" />
<rect x="1007.29" y="1388.59" width="25.38" height="12.23" fill="#d3d3ef" />
<rect x="1049.59" y="1388.59" width="50.76" height="12.23" fill="#d3d3ef" />
<rect x="1125.73" y="1388.59" width="8.46" height="12.23" fill="#d3d3ef" />
<rect x="465.85" y="1413.05" width="25.38" height="12.73" fill="#d3d3ef" />
<rect x="499.69" y="1413.05" width="42.3" height="12.73" fill="#d3d3ef" />
<rect x="550.45" y="1413.05" width="25.38" height="12.73" fill="#d3d3ef" />
<rect x="584.29" y="1413.05" width="25.38" height="12.73" fill="#d3d3ef" />
<rect x="948.07" y="1413.05" width="8.46" height="12.73" fill="#d3d3ef" />
<rect x="964.99" y="1413.05" width="33.84" height="12.73" fill="#d3d3ef" />
<rect x="1007.29" y="1413.05" width="25.38" height="12.73" fill="#d3d3ef" />
<rect x="1049.59" y="1413.05" width="50.76" height="12.73" fill="#d3d3ef" />
<rect x="1125.73" y="1413.05" width="8.46" height="12.73" fill="#d3d3ef" />
<rect x="465.85" y="1425.28" width="25.38" height="12.73" fill="#d3d3ef" />
<rect x="499.69" y="1425.28" width="42.3" height="12.73" fill="#d3d3ef" />
<rect x="550.45" y="1425.28" width="25.38" height="12.73" fill="#d3d3ef" />
<rect x="584.29" y="1425.28" width="25.38" height="12.73" fill="#d3d3ef" />
<rect x="948.07" y="1425.28" width="8.46" height="12.73" fill="#d3d3ef" />
<rect x="964.99" y="1425.28" width="33.84" height="12.73" fill="#d3d3ef" />
<rect x="1007.29" y="1425.28" width="25.38" height="12.73" fill="#d3d3ef" />
<rect x="1049.59" y="1425.28" width="50.76" height="12.73" fill="#d3d3ef" />
<rect x="1125.73" y="1425.28" width="8.46" height="12.73" fill="#d3d3ef" />
<rect x="465.85" y="1437.51" width="25.38" height="12.73" fill="#d3d3ef" />
<rect x="499.69" y="1437.51" width="42.3" height="12.73" fill="#d3d3ef" />
<rect x="550.45" y="1437.51" width="25.38" height="12.73" fill="#d3d3ef" />
<rect x="584.29" y="1437.51" width="25.38" height="12.73" fill="#d3d3ef" />
<rect x="948.07" y="1437.51" width="8.46" height="12.73" fill="#d3d3ef" />
<rect x="964.99" y="1437.51" width="33.84" height="12.73" fill="#d3d3ef" />
<rect x="1007.29" y="1437.51" width="25.38" height="12.73" fill="#d3d3ef" />
<rect x="1049.59" y="1437.51" width="50.76" height="12.73" fill="#d3d3ef" />
<rect x="1125.73" y="1437.51" width="8.46" height="12.73" fill="#d3d3ef" />
<rect x="465.85" y="1449.74" width="25.38" height="12.73" fill="#d3d3ef" />
<rect x="499.69" y="1449.74" width="42.3" height="12.73" fill="#d3d3ef" />
<rect x="550.45" y="1449.74" width="25.38" height="12.73" fill="#d3d3ef" />
<rect x="584.29" y="1449.74" width="25.38" height="12.73" fill="#d3d3ef" />
<rect x="948.07" y="1449.74" width="8.46" height="12.73" fill="#d3d3ef" />
<rect x="964.99" y="1449.74" width="33.84" height="12.73" fill="#d3d3ef" />
<rect x="1007.29" y="1449.74" width="25.38" height="12.73" fill="#d3d3ef" />
<rect x="1049.59" y="1449.74" width="50.76" height="12.73" fill="#d3d3ef" />
<rect x="1125.73" y="1449.74" width="8.46" height="12.73" fill="#d3d3ef" />
<rect x="465.85" y="1461.97" width="25.38" height="12.73" fill="#d3d3ef" />
<rect x="499.69" y="1461.97" width="42.3" height="12.73" fill="#d3d3ef" />
<rect x="550.45" y="1461.97" width="25.38" height="12.73" fill="#d3d3ef" />
<rect x="584.29" y="1461.97" width="25.38" height="12.73" fill="#d3d3ef" />
<rect x="948.07" y="1461.97" width="8.46" height="12.73" fill="#d3d3ef" />
<rect x="964.99" y="1461.97" width="33.84" height="12.73" fill="#d3d3ef" />
<rect x="1007.29" y="1461.97" width="25.38" height="12.73" fill="#d3d3ef" />
<rect x="1049.59" y="1461.97" width="50.76" height="12.73" fill="#d3d3ef" />
<rect x="1125.73" y="1461.97" width="8.46" height="12.73" fill="#d3d3ef" />
<rect x="465.85" y="1474.2" width="25.38" height="12.73" fill="#d3d3ef" />
<rect x="499.69" y="1474.2" width="42.3" height="12.73" fill="#d3d3ef" />
<rect x="550.45" y="1474.2" width="25.38" height="12.73" fill="#d3d3ef" />
<rect x="584.29" y="1474.2" width="25.38" height="12.73" fill="#d3d3ef" />
<rect x="948.07" y="1474.2" width="8.46" height="12.73" fill="#d3d3ef" />
<rect x="964.99" y="1474.2" width="33.84" height="12.73" fill="#d3d3ef" />
<rect x="1007.29" y="1474.2" width="25.38" height="12.73" fill="#d3d3ef" />
<rect x="1049.59" y="1474.2" width="50.76" height="12.73" fill="#d3d3ef" />
<rect x="1125.73" y="1474.2" width="8.46" height="12.73" fill="#d3d3ef" />
<rect x="465.85" y="1486.43" width="25.38" height="12.73" fill="#d3d3ef" />
<rect x="499.69" y="1486.43" width="42.3" height="12.73" fill="#d3d3ef" />
<rect x="550.45" y="1486.43" width="25.38" height="12.73" fill="#d3d3ef" />
<rect x="584.29" y="1486.43" width="25.38" height="12.73" fill="#d3d3ef" />
<rect x="948.07" y="1486.43" width="8.46" height="12.73" fill="#d3d3ef" />
<rect x="964.99" y="1486.43" width="33.84" height="12.73" fill="#d3d3ef" />
<rect x="1007.29" y="1486.43" width="25.38" height="12.73" fill="#d3d3ef" />
<rect x="1049.59" y="1486.43" width="50.76" height="12.73" fill="#d3d3ef" />
<rect x="1125.73" y="1486.43" width="8.46" height="12.73" fill="#d3d3ef" />
<rect x="465.85" y="1498.66" width="25.38" height="12.73" fill="#d3d3ef" />
<rect x="499.69" y="1498.66" width="42.3" height="12.73" fill="#d3d3ef" />
<rect x="550.45" y="1498.66" width="25.38" height="12.73" fill="#d3d3ef" />
<rect x="584.29" y="1498.66" width="25.38" height="12.73" fill="#d3d3ef" />
<rect x="948.07" y="1498.66" width="8.46" height="12.73" fill="#d3d3ef" />
<rect x="964.99" y="1498.66" width="33.84" height="12.73" fill="#d3d3ef" />
<rect x="1007.29" y="1498.66" width="25.38" height="12.73" fill="#d3d3ef" />
<rect x="1049.59" y="1498.66" width="50.76" height="12.73" fill="#d3d3ef" />
<rect x="1125.73" y="1498.66" width="8.46" height="12.73" fill="#d3d3ef" />
<rect x="465.85" y="1510.89" width="25.38" height="12.73" fill="#d3d3ef" />
<rect x="499.69" y="1510.89" width="42.3" height="12.73" fill="#d3d3ef" />
<rect x="550.45" y="1510.89" width="25.38" height="12.73" fill="#d3d3ef" />
<rect x="584.29" y="1510.89" width="25.38" height="12.73" fill="#d3d3ef" />
<rect x="948.07" y="1510.89" width="8.46" height="12.73" fill="#d3d3ef" />
<rect x="964.99" y="1510.89" width="33.84" height="12.73" fill="#d3d3ef" />
<rect x="1007.29" y="1510.89" width="25.38" height="12.73" fill="#d3d3ef" />
<rect x="1049.59" y="1510.89" width="50.76" height="12.73" fill="#d3d3ef" />
<rect x="1125.73" y="1510.89" width="8.46" height="12.73" fill="#d3d3ef" />
<rect x="465.85" y="1523.12" width="25.38" height="12.73" fill="#d3d3ef" />
<rect x="499.69" y="1523.12" width="42.3" height="12.73" fill="#d3d3ef" />
<rect x="550.45" y="1523.12" width="25.38" height="12.73" fill="#d3d3ef" />
<rect x="584.29" y="1523.12" width="25.38" height="12.73" fill="#d3d3ef" />
<rect x="948.07" y="1523.12" width="8.46" height="12.73" fill="#d3d3ef" />
<rect x="964.99" y="1523.12" width="33.84" height="12.73" fill="#d3d3ef" />
<rect x="1007.29" y="1523.12" width="25.38" height="12.73" fill="#d3d3ef" />
<rect x="1049.59" y="1523.12" width="50.76" height="12.73" fill="#d3d3ef" />
<rect x="1125.73" y="1523.12" width="8.46" height="12.73" fill="#d3d3ef" />
<rect x="465.85" y="1535.35" width="25.38" height="12.73" fill="#d3d3ef" />
<rect x="499.69" y="1535.35" width="42.3" height="12.73" fill="#d3d3ef" />
<rect x="550.45" y="1535.35" width="25.38" height="12.73" fill="#d3d3ef" />
<rect x="584.29" y="1535.35" width="25.38" height="12.73" fill="#d3d3ef" />
<rect x="948.07" y="1535.35" width="8.46" height="12.73" fill="#d3d3ef" />
<rect x="964.99" y="1535.35" width="33.84" height="12.73" fill="#d3d3ef" />
<rect x="1007.29" y="1535.35" width="25.38" height="12.73" fill="#d3d3ef" />
<rect x="1049.59" y="1535.35" width="50.76" height="12.73" fill="#d3d3ef" />
<rect x="1125.73" y="1535.35" width="8.46" height="12.73" fill="#d3d3ef" />
<rect x="465.85" y="1547.58" width="25.38" height="12.23" fill="#d3d3ef" />
<rect x="499.69" y="1547.58" width="42.3" height="12.23" fill="#d3d3ef" />
<rect x="550.45" y="1547.58" width="25.38" height="12.23" fill="#d3d3ef" />
<rect x="584.29" y="1547.58" width="25.38" height="12.23" fill="#d3d3ef" />
<rect x="948.07" y="1547.58" width="8.46" height="12.23" fill="#d3d3ef" />
<rect x="964.99" y="1547.58" width="33.84" height="12.23" fill="#d3d3ef" />
<rect x="1007.29" y="1547.58" width="25.38" height="12.23" fill="#d3d3ef" />
<rect x="1049.59" y="1547.58" width="50.76" height="12.23" fill="#d3d3ef" />
<rect x="1125.73" y="1547.58" width="8.46" height="12.23" fill="#d3d3ef" />
<rect x="474.31" y="1572.04" width="8.46" height="12.23" fill="#d3d3ef" />
<rect x="499.69" y="1572.04" width="8.46" height="12.23" fill="#d3d3ef" />
<rect x="1074.97" y="1572.04" width="8.46" height="12.23" fill="#d3d3ef" />
<rect x="508.15" y="1584.27" width="8.46" height="12.23" fill="#d3d3ef" />
<rect x="550.45" y="1584.27" width="8.46" height="12.23" fill="#d3d3ef" />
<rect x="948.07" y="1596.5" width="8.46" height="12.23" fill="#d3d3ef" />
<rect x="1049.59" y="1596.5" width="16.92" height="12.23" fill="#d3d3ef" />
<rect x="1083.43" y="1596.5" width="8.46" height="12.23" fill="#d3d3ef" />
<rect x="465.85" y="1633.19" width="8.46" height="12.23" fill="#d3d3ef" />
<rect x="491.23" y="1351.9" width="8.46" height="12.73" fill="#a9a9db" />
<rect x="939.61" y="1351.9" width="8.46" height="12.73" fill="#a9a9db" />
<rect x="998.83" y="1351.9" width="8.46" height="12.73" fill="#a9a9db" />
<rect x="1032.67" y="1351.9" width="8.46" height="12.73" fill="#a9a9db" />
<rect x="491.23" y="1364.13" width="8.46" height="12.73" fill="#a9a9db" />
<rect x="939.61" y="1364.13" width="8.46" height="12.73" fill="#a9a9db" />
<rect x="998.83" y="1364.13" width="8.46" height="12.73" fill="#a9a9db" />
<rect x="1032.67" y="1364.13" width="8.46" height="12.73" fill="#a9a9db" />
<rect x="491.23" y="1376.36" width="8.46" height="12.73" fill="#a9a9db" />
<rect x="939.61" y="1376.36" width="8.46" height="12.73" fill="#a9a9db" />
<rect x="998.83" y="1376.36" width="8.46" height="12.73" fill="#a9a9db" />
<rect x="1032.67" y="1376.36" width="8.46" height="12.73" fill="#a9a9db" />
<rect x="491.23" y="1388.59" width="8.46" height="12.23" fill="#a9a9db" />
<rect x="939.61" y="1388.59" width="8.46" height="12.23" fill="#a9a9db" />
<rect x="998.83" y="1388.59" width="8.46" height="12.23" fill="#a9a9db" />
<rect x="1032.67" y="1388.59" width="8.46" height="12.23" fill="#a9a9db" />
<rect x="491.23" y="1413.05" width="8.46" height="12.73" fill="#a9a9db" />
<rect x="939.61" y="1413.05" width="8.46" height="12.73" fill="#a9a9db" />
<rect x="998.83" y="1413.05" width="8.46" height="12.73" fill="#a9a9db" />
<rect x="1032.67" y="1413.05" width="8.46" height="12.73" fill="#a9a9db" />
<rect x="491.23" y="1425.28" width="8.46" height="12.73" fill="#a9a9db" />
<rect x="939.61" y="1425.28" width="8.46" height="12.73" fill="#a9a9db" />
<rect x="998.83" y="1425.28" width="8.46" height="12.73" fill="#a9a9db" />
<rect x="1032.67" y="1425.28" width="8.46" height="12.73" fill="#a9a9db" />
<rect x="491.23" y="1437.51" width="8.46" height="12.73" fill="#a9a9db" />
<rect x="939.61" y="1437.51" width="8.46" height="12.73" fill="#a9a9db" />
<rect x="998.83" y="1437.51" width="8.46" height="12.73" fill="#a9a9db" />
<rect x="1032.67" y="1437.51" width="8.46" height="12.73" fill="#a9a9db" />
<rect x="491.23" y="1449.74" width="8.46" height="12.73" fill="#a9a9db" />
<rect x="939.61" y="1449.74" width="8.46" height="12.73" fill="#a9a9db" />
<rect x="998.83" y="1449.74" width="8.46" height="12.73" fill="#a9a9db" />
<rect x="1032.67" y="1449.74" width="8.46" height="12.73" fill="#a9a9db" />
<rect x="491.23" y="1461.97" width="8.46" height="12.73" fill="#a9a9db" />
<rect x="939.61" y="1461.97" width="8.46" height="12.73" fill="#a9a9db" />
<rect x="998.83" y="1461.97" width="8.46" height="12.73" fill="#a9a9db" />
<rect x="1032.67" y="1461.97" width="8.46" height="12.73" fill="#a9a9db" />
<rect x="491.23" y="1474.2" width="8.46" height="12.73" fill="#a9a9db" />
<rect x="939.61" y="1474.2" width="8.46" height="12.73" fill="#a9a9db" />
<rect x="998.83" y="1474.2" width="8.46" height="12.73" fill="#a9a9db" />
<rect x="1032.67" y="1474.2" width="8.46" height="12.73" fill="#a9a9db" />
<rect x="491.23" y="1486.43" width="8.46" height="12.73" fill="#a9a9db" />
<rect x="939.61" y="1486.43" width="8.46" height="12.73" fill="#a9a9db" />
<rect x="998.83" y="1486.43" width="8.46" height="12.73" fill="#a9a9db" />
<rect x="1032.67" y="1486.43" width="8.46" height="12.73" fill="#a9a9db" />
<rect x="491.23" y="1498.66" width="8.46" height="12.73" fill="#a9a9db" />
<rect x="939.61" y="1498.66" width="8.46" height="12.73" fill="#a9a9db" />
<rect x="998.83" y="1498.66" width="8.46" height="12.73" fill="#a9a9db" />
<rect x="1032.67" y="1498.66" width="8.46" height="12.73" fill="#a9a9db" />
<rect x="491.23" y="1510.89" width="8.46" height="12.73" fill="#a9a9db" />
<rect x="939.61" y="1510.89" width="8.46" height="12.73" fill="#a9a9db" />
<rect x="998.83" y="1510.89" width="8.46" height="12.73" fill="#a9a9db" />
<rect x="1032.67" y="1510.89" width="8.46" height="12.73" fill="#a9a9db" />
<rect x="491.23" y="1523.12" width="8.46" height="12.73" fill="#a9a9db" />
<rect x="939.61" y="1523.12" width="8.46" height="12.73" fill="#a9a9db" />
<rect x="998.83" y="1523.12" width="8.46" height="12.73" fill="#a9a9db" />
<rect x="1032.67" y="1523.12" width="8.46" height="12.73" fill="#a9a9db" />
<rect x="491.23" y="1535.35" width="8.46" height="12.73" fill="#a9a9db" />
<rect x="939.61" y="1535.35" width="8.46" height="12.73" fill="#a9a9db" />
<rect x="998.83" y="1535.35" width="8.46" height="12.73" fill="#a9a9db" />
<rect x="1032.67" y="1535.35" width="8.46" height="12.73" fill="#a9a9db" />
<rect x="491.23" y="1547.58" width="8.46" height="12.73" fill="#a9a9db" />
<rect x="939.61" y="1547.58" width="8.46" height="12.73" fill="#a9a9db" />
<rect x="998.83" y="1547.58" width="8.46" height="12.23" fill="#a9a9db" />
<rect x="1032.67" y="1547.58" width="8.46" height="12.23" fill="#a9a9db" />
<rect x="491.23" y="1559.81" width="8.46" height="12.23" fill="#a9a9db" />
<rect x="939.61" y="1559.81" width="8.46" height="12.23" fill="#a9a9db" />
<rect x="998.83" y="1572.04" width="8.46" height="12.23" fill="#a9a9db" />
<rect x="1032.67" y="1572.04" width="8.46" height="12.23" fill="#a9a9db" />
<rect x="491.23" y="1584.27" width="8.46" height="12.23" fill="#a9a9db" />
<rect x="998.83" y="1596.5" width="8.46" height="12.23" fill="#a9a9db" />
<rect x="1032.67" y="1596.5" width="8.46" height="12.23" fill="#a9a9db" />
<rect x="939.61" y="1608.73" width="8.46" height="12.73" fill="#a9a9db" />
<rect x="939.61" y="1620.96" width="8.46" height="12.23" fill="#a9a9db" />
<rect x="541.99" y="1351.9" width="8.46" height="12.73" fill="#6868bd" />
<rect x="575.83" y="1351.9" width="8.46" height="12.73" fill="#6868bd" />
<rect x="609.67" y="1351.9" width="8.46" height="12.73" fill="#6868bd" />
<rect x="956.53" y="1351.9" width="8.46" height="12.73" fill="#6868bd" />
<rect x="1041.13" y="1351.9" width="8.46" height="12.73" fill="#6868bd" />
<rect x="1117.27" y="1351.9" width="8.46" height="12.73" fill="#6868bd" />
<rect x="541.99" y="1364.13" width="8.46" height="12.73" fill="#6868bd" />
<rect x="575.83" y="1364.13" width="8.46" height="12.73" fill="#6868bd" />
<rect x="609.67" y="1364.13" width="8.46" height="12.73" fill="#6868bd" />
<rect x="956.53" y="1364.13" width="8.46" height="12.73" fill="#6868bd" />
<rect x="1041.13" y="1364.13" width="8.46" height="12.73" fill="#6868bd" />
<rect x="1117.27" y="1364.13" width="8.46" height="12.73" fill="#6868bd" />
<rect x="541.99" y="1376.36" width="8.46" height="12.73" fill="#6868bd" />
<rect x="575.83" y="1376.36" width="8.46" height="12.73" fill="#6868bd" />
<rect x="609.67" y="1376.36" width="8.46" height="12.73" fill="#6868bd" />
<rect x="956.53" y="1376.36" width="8.46" height="12.73" fill="#6868bd" />
<rect x="1041.13" y="1376.36" width="8.46" height="12.73" fill="#6868bd" />
<rect x="1117.27" y="1376.36" width="8.46" height="12.73" fill="#6868bd" />
<rect x="541.99" y="1388.59" width="8.46" height="12.23" fill="#6868bd" />
<rect x="575.83" y="1388.59" width="8.46" height="12.23" fill="#6868bd" />
<rect x="609.67" y="1388.59" width="8.46" height="12.23" fill="#6868bd" />
<rect x="956.53" y="1388.59" width="8.46" height="12.23" fill="#6868bd" />
<rect x="1041.13" y="1388.59" width="8.46" height="12.23" fill="#6868bd" />
<rect x="1117.27" y="1388.59" width="8.46" height="12.23" fill="#6868bd" />
<rect x="541.99" y="1413.05" width="8.46" height="12.73" fill="#6868bd" />
<rect x="575.83" y="1413.05" width="8.46" height="12.73" fill="#6868bd" />
<rect x="609.67" y="1413.05" width="8.46" height="12.73" fill="#6868bd" />
<rect x="956.53" y="1413.05" width="8.46" height="12.73" fill="#6868bd" />
<rect x="1041.13" y="1413.05" width="8.46" height="12.73" fill="#6868bd" />
<rect x="1117.27" y="1413.05" width="8.46" height="12.73" fill="#6868bd" />
<rect x="541.99" y="1425.28" width="8.46" height="12.73" fill="#6868bd" />
<rect x="575.83" y="1425.28" width="8.46" height="12.73" fill="#6868bd" />
<rect x="609.67" y="1425.28" width="8.46" height="12.73" fill="#6868bd" />
<rect x="956.53" y="1425.28" width="8.46" height="12.73" fill="#6868bd" />
<rect x="1041.13" y="1425.28" width="8.46" height="12.73" fill="#6868bd" />
<rect x="1117.27" y="1425.28" width="8.46" height="12.73" fill="#6868bd" />
<rect x="541.99" y="1437.51" width="8.46" height="12.73" fill="#6868bd" />
<rect x="575.83" y="1437.51" width="8.46" height="12.73" fill="#6868bd" />
<rect x="609.67" y="1437.51" width="8.46" height="12.73" fill="#6868bd" />
<rect x="956.53" y="1437.51" width="8.46" height="12.73" fill="#6868bd" />
<rect x="1041.13" y="1437.51" width="8.46" height="12.73" fill="#6868bd" />
<rect x="1117.27" y="1437.51" width="8.46" height="12.73" fill="#6868bd" />
<rect x="541.99" y="1449.74" width="8.46" height="12.73" fill="#6868bd" />
<rect x="575.83" y="1449.74" width="8.46" height="12.73" fill="#6868bd" />
<rect x="609.67" y="1449.74" width="8.46" height="12.73" fill="#6868bd" />
<rect x="956.53" y="1449.74" width="8.46" height="12.73" fill="#6868bd" />
<rect x="1041.13" y="1449.74" width="8.46" height="12.73" fill="#6868bd" />
<rect x="1117.27" y="1449.74" width="8.46" height="12.73" fill="#6868bd" />
<rect x="541.99" y="1461.97" width="8.46" height="12.73" fill="#6868bd" />
<rect x="575.83" y="1461.97" width="8.46" height="12.73" fill="#6868bd" />
<rect x="609.67" y="1461.97" width="8.46" height="12.73" fill="#6868bd" />
<rect x="956.53" y="1461.97" width="8.46" height="12.73" fill="#6868bd" />
<rect x="1041.13" y="1461.97" width="8.46" height="12.73" fill="#6868bd" />
<rect x="1117.27" y="1461.97" width="8.46" height="12.73" fill="#6868bd" />
<rect x="541.99" y="1474.2" width="8.46" height="12.73" fill="#6868bd" />
<rect x="575.83" y="1474.2" width="8.46" height="12.73" fill="#6868bd" />
<rect x="609.67" y="1474.2" width="8.46" height="12.73" fill="#6868bd" />
<rect x="956.53" y="1474.2" width="8.46" height="12.73" fill="#6868bd" />
<rect x="1041.13" y="1474.2" width="8.46" height="12.73" fill="#6868bd" />
<rect x="1117.27" y="1474.2" width="8.46" height="12.73" fill="#6868bd" />
<rect x="541.99" y="1486.43" width="8.46" height="12.73" fill="#6868bd" />
<rect x="575.83" y="1486.43" width="8.46" height="12.73" fill="#6868bd" />
<rect x="609.67" y="1486.43" width="8.46" height="12.73" fill="#6868bd" />
<rect x="956.53" y="1486.43" width="8.46" height="12.73" fill="#6868bd" />
<rect x="1041.13" y="1486.43" width="8.46" height="12.73" fill="#6868bd" />
<rect x="1117.27" y="1486.43" width="8.46" height="12.73" fill="#6868bd" />
<rect x="541.99" y="1498.66" width="8.46" height="12.73" fill="#6868bd" />
<rect x="575.83" y="1498.66" width="8.46" height="12.73" fill="#6868bd" />
<rect x="609.67" y="1498.66" width="8.46" height="12.73" fill="#6868bd" />
<rect x="956.53" y="1498.66" width="8.46" height="12.73" fill="#6868bd" />
<rect x="1041.13" y="1498.66" width="8.46" height="12.73" fill="#6868bd" />
<rect x="1117.27" y="1498.66" width="8.46" height="12.73" fill="#6868bd" />
<rect x="541.99" y="1510.89" width="8.46" height="12.73" fill="#6868bd" />
<rect x="575.83" y="1510.89" width="8.46" height="12.73" fill="#6868bd" />
<rect x="609.67" y="1510.89" width="8.46" height="12.73" fill="#6868bd" />
<rect x="956.53" y="1510.89" width="8.46" height="12.73" fill="#6868bd" />
<rect x="1041.13" y="1510.89" width="8.46" height="12.73" fill="#6868bd" />
<rect x="1117.27" y="1510.89" width="8.46" height="12.73" fill="#6868bd" />
<rect x="541.99" y="1523.12" width="8.46" height="12.73" fill="#6868bd" />
<rect x="575.83" y="1523.12" width="8.46" height="12.73" fill="#6868bd" />
<rect x="609.67" y="1523.12" width="8.46" height="12.73" fill="#6868bd" />
<rect x="956.53" y="1523.12" width="8.46" height="12.73" fill="#6868bd" />
<rect x="1041.13" y="1523.12" width="8.46" height="12.73" fill="#6868bd" />
<rect x="1117.27" y="1523.12" width="8.46" height="12.73" fill="#6868bd" />
<rect x="541.99" y="1535.35" width="8.46" height="12.73" fill="#6868bd" />
<rect x="575.83" y="1535.35" width="8.46" height="12.73" fill="#6868bd" />
<rect x="609.67" y="1535.35" width="8.46" height="12.73" fill="#6868bd" />
<rect x="956.53" y="1535.35" width="8.46" height="12.73" fill="#6868bd" />
<rect x="1041.13" y="1535.35" width="8.46" height="12.73" fill="#6868bd" />
<rect x="1117.27" y="1535.35" width="8.46" height="12.73" fill="#6868bd" />
<rect x="541.99" y="1547.58" width="8.46" height="12.23" fill="#6868bd" />
<rect x="575.83" y="1547.58" width="8.46" height="12.23" fill="#6868bd" />
<rect x="609.67" y="1547.58" width="8.46" height="12.73" fill="#6868bd" />
<rect x="956.53" y="1547.58" width="8.46" height="12.73" fill="#6868bd" />
<rect x="1041.13" y="1547.58" width="8.46" height="12.23" fill="#6868bd" />
<rect x="1117.27" y="1547.58" width="8.46" height="12.73" fill="#6868bd" />
<rect x="609.67" y="1559.81" width="8.46" height="12.23" fill="#6868bd" />
<rect x="956.53" y="1559.81" width="8.46" height="12.73" fill="#6868bd" />
<rect x="1117.27" y="1559.81" width="8.46" height="12.23" fill="#6868bd" />
<rect x="575.83" y="1572.04" width="8.46" height="12.73" fill="#6868bd" />
<rect x="956.53" y="1572.04" width="8.46" height="12.23" fill="#6868bd" />
<rect x="1041.13" y="1572.04" width="8.46" height="12.23" fill="#6868bd" />
<rect x="575.83" y="1584.27" width="8.46" height="12.73" fill="#6868bd" />
<rect x="609.67" y="1584.27" width="8.46" height="12.73" fill="#6868bd" />
<rect x="1117.27" y="1584.27" width="8.46" height="12.73" fill="#6868bd" />
<rect x="575.83" y="1596.5" width="8.46" height="12.73" fill="#6868bd" />
<rect x="609.67" y="1596.5" width="8.46" height="12.73" fill="#6868bd" />
<rect x="1041.13" y="1596.5" width="8.46" height="12.73" fill="#6868bd" />
<rect x="1117.27" y="1596.5" width="8.46" height="12.23" fill="#6868bd" />
<rect x="541.99" y="1608.73" width="8.46" height="12.73" fill="#6868bd" />
<rect x="575.83" y="1608.73" width="8.46" height="12.73" fill="#6868bd" />
<rect x="609.67" y="1608.73" width="8.46" height="12.73" fill="#6868bd" />
<rect x="956.53" y="1608.73" width="8.46" height="12.73" fill="#6868bd" />
<rect x="1041.13" y="1608.73" width="8.46" height="12.73" fill="#6868bd" />
<rect x="541.99" y="1620.96" width="8.46" height="12.73" fill="#6868bd" />
<rect x="575.83" y="1620.96" width="8.46" height="12.73" fill="#6868bd" />
<rect x="609.67" y="1620.96" width="8.46" height="12.73" fill="#6868bd" />
<rect x="956.53" y="1620.96" width="8.46" height="12.73" fill="#6868bd" />
<rect x="1041.13" y="1620.96" width="8.46" height="12.73" fill="#6868bd" />
<rect x="541.99" y="1633.19" width="8.46" height="12.73" fill="#6868bd" />
<rect x="575.83" y="1633.19" width="8.46" height="12.73" fill="#6868bd" />
<rect x="609.67" y="1633.19" width="8.46" height="12.73" fill="#6868bd" />
<rect x="956.53" y="1633.19" width="8.46" height="12.73" fill="#6868bd" />
<rect x="1041.13" y="1633.19" width="8.46" height="12.73" fill="#6868bd" />
<rect x="1117.27" y="1633.19" width="8.46" height="12.73" fill="#6868bd" />
<rect x="541.99" y="1645.42" width="8.46" height="12.73" fill="#6868bd" />
<rect x="575.83" y="1645.42" width="8.46" height="12.73" fill="#6868bd" />
<rect x="609.67" y="1645.42" width="8.46" height="12.73" fill="#6868bd" />
<rect x="956.53" y="1645.42" width="8.46" height="12.73" fill="#6868bd" />
<rect x="1041.13" y="1645.42" width="8.46" height="12.73" fill="#6868bd" />
<rect x="1117.27" y="1645.42" width="8.46" height="12.73" fill="#6868bd" />
<rect x="541.99" y="1657.65" width="8.46" height="12.73" fill="#6868bd" />
<rect x="575.83" y="1657.65" width="8.46" height="12.73" fill="#6868bd" />
<rect x="609.67" y="1657.65" width="8.46" height="12.73" fill="#6868bd" />
<rect x="956.53" y="1657.65" width="8.46" height="12.73" fill="#6868bd" />
<rect x="1041.13" y="1657.65" width="8.46" height="12.73" fill="#6868bd" />
<rect x="1117.27" y="1657.65" width="8.46" height="12.73" fill="#6868bd" />
<rect x="541.99" y="1669.88" width="8.46" height="12.73" fill="#6868bd" />
<rect x="575.83" y="1669.88" width="8.46" height="12.73" fill="#6868bd" />
<rect x="609.67" y="1669.88" width="8.46" height="12.73" fill="#6868bd" />
<rect x="956.53" y="1669.88" width="8.46" height="12.73" fill="#6868bd" />
<rect x="1041.13" y="1669.88" width="8.46" height="12.73" fill="#6868bd" />
<rect x="1117.27" y="1669.88" width="8.46" height="12.73" fill="#6868bd" />
<rect x="541.99" y="1682.11" width="8.46" height="12.73" fill="#6868bd" />
<rect x="575.83" y="1682.11" width="8.46" height="12.73" fill="#6868bd" />
<rect x="609.67" y="1682.11" width="8.46" height="12.73" fill="#6868bd" />
<rect x="956.53" y="1682.11" width="8.46" height="12.73" fill="#6868bd" />
<rect x="1041.13" y="1682.11" width="8.46" height="12.73" fill="#6868bd" />
<rect x="1117.27" y="1682.11" width="8.46" height="12.73" fill="#6868bd" />
<rect x="541.99" y="1694.34" width="8.46" height="12.23" fill="#6868bd" />
<rect x="575.83" y="1694.34" width="8.46" height="12.23" fill="#6868bd" />
<rect x="609.67" y="1694.34" width="8.46" height="12.23" fill="#6868bd" />
<rect x="956.53" y="1694.34" width="8.46" height="12.23" fill="#6868bd" />
<rect x="1041.13" y="1694.34" width="8.46" height="12.23" fill="#6868bd" />
<rect x="1117.27" y="1694.34" width="8.46" height="12.23" fill="#6868bd" />
<text x="111.58" y="1361.9" font-size="10.6" font-family="'Liberation Mono', 'Courier New', monospace" letter-spacing="2.1" fill="#111" stroke="#111" stroke-width="0.3"><tspan fill="#777" stroke="#777">––––––––––––––––––––––––––––––––––––––––––</tspan>ASTSTSVINVTGSPVTTF<tspan fill="#777" stroke="#777">––––––––––––––––––––––––––––––––––––––</tspan>LAASTHDDKSLDEAIDMRF<tspan fill="#777" stroke="#777">––</tspan>DC</text>
<text x="23.3" y="1361.9" font-size="9.7" font-weight="bold" font-style="italic" fill="#1a1a1a">Microbat</text>
<text x="111.58" y="1374.13" font-size="10.6" font-family="'Liberation Mono', 'Courier New', monospace" letter-spacing="2.1" fill="#111" stroke="#111" stroke-width="0.3"><tspan fill="#777" stroke="#777">––––––––––––––––––––––––––––––––––––––––––</tspan>ASTSTSVINVTGSPVTTF<tspan fill="#777" stroke="#777">––––––––––––––––––––––––––––––––––––––</tspan>LAASTHDDKSLDEAIDMRF<tspan fill="#777" stroke="#777">––</tspan>DC</text>
<text x="23.3" y="1374.13" font-size="9.7" font-weight="bold" font-style="italic" fill="#1a1a1a">Elephant</text>
<text x="111.58" y="1386.36" font-size="10.6" font-family="'Liberation Mono', 'Courier New', monospace" letter-spacing="2.1" fill="#111" stroke="#111" stroke-width="0.3"><tspan fill="#777" stroke="#777">––––––––––––––––––––––––––––––––––––––––––</tspan>ASTSTSVINVTGSPVTTF<tspan fill="#777" stroke="#777">––––––––––––––––––––––––––––––––––––––</tspan>LAASTHDDKSLDEAIDMRF<tspan fill="#777" stroke="#777">––</tspan>DC</text>
<text x="23.3" y="1386.36" font-size="9.7" font-weight="bold" font-style="italic" fill="#1a1a1a">Rat</text>
<text x="111.58" y="1398.59" font-size="10.6" font-family="'Liberation Mono', 'Courier New', monospace" letter-spacing="2.1" fill="#111" stroke="#111" stroke-width="0.3"><tspan fill="#777" stroke="#777">––––––––––––––––––––––––––––––––––––––––––</tspan>ASTSTSVINVTGSPVTTF<tspan fill="#777" stroke="#777">––––––––––––––––––––––––––––––––––––––</tspan>LAASTHDDKSLDEAIDMRF<tspan fill="#777" stroke="#777">––</tspan>DC</text>
<text x="23.3" y="1398.59" font-size="9.7" font-weight="bold" font-style="italic" fill="#1a1a1a">Mouse</text>
<text x="111.58" y="1410.82" font-size="10.6" font-family="'Liberation Mono', 'Courier New', monospace" letter-spacing="2.1" fill="#111" stroke="#111" stroke-width="0.3"><tspan fill="#777" stroke="#777">–––––––––––––––––––––––––––––––––––––––––––––––––––––––––––––––––––––––––––––––––––––––––––––––––––––––––––––––––––––––––</tspan></text>
<text x="23.3" y="1410.82" font-size="9.7" font-weight="bold" font-style="italic" fill="#1a1a1a">Dolphin</text>
<text x="111.58" y="1423.05" font-size="10.6" font-family="'Liberation Mono', 'Courier New', monospace" letter-spacing="2.1" fill="#111" stroke="#111" stroke-width="0.3"><tspan fill="#777" stroke="#777">––––––––––––––––––––––––––––––––––––––––––</tspan>ASTSTSVINVTGSPVTTF<tspan fill="#777" stroke="#777">––––––––––––––––––––––––––––––––––––––</tspan>LAASTHDDKSLDEAIDMRF<tspan fill="#777" stroke="#777">––</tspan>DC</text>
<text x="23.3" y="1423.05" font-size="9.7" font-weight="bold" font-style="italic" fill="#1a1a1a">Cow</text>
<text x="111.58" y="1435.28" font-size="10.6" font-family="'Liberation Mono', 'Courier New', monospace" letter-spacing="2.1" fill="#111" stroke="#111" stroke-width="0.3"><tspan fill="#777" stroke="#777">––––––––––––––––––––––––––––––––––––––––––</tspan>ASTSTSVINVTGSPVTTF<tspan fill="#777" stroke="#777">––––––––––––––––––––––––––––––––––––––</tspan>LAASTHDDKSLDEAIDMRF<tspan fill="#777" stroke="#777">––</tspan>DC</text>
<text x="23.3" y="1435.28" font-size="9.7" font-weight="bold" font-style="italic" fill="#1a1a1a">Megabat</text>
<text x="111.58" y="1447.51" font-size="10.6" font-family="'Liberation Mono', 'Courier New', monospace" letter-spacing="2.1" fill="#111" stroke="#111" stroke-width="0.3"><tspan fill="#777" stroke="#777">––––––––––––––––––––––––––––––––––––––––––</tspan>ASTSTSVINVTGSPVTTF<tspan fill="#777" stroke="#777">––––––––––––––––––––––––––––––––––––––</tspan>LAASTHDDKSLDEAIDMRF<tspan fill="#777" stroke="#777">––</tspan>DC</text>
<text x="23.3" y="1447.51" font-size="9.7" font-weight="bold" font-style="italic" fill="#1a1a1a">Cat</text>
<text x="111.58" y="1459.74" font-size="10.6" font-family="'Liberation Mono', 'Courier New', monospace" letter-spacing="2.1" fill="#111" stroke="#111" stroke-width="0.3"><tspan fill="#777" stroke="#777">––––––––––––––––––––––––––––––––––––––––––</tspan>ASTSTSVINVTGSPVTTF<tspan fill="#777" stroke="#777">––––––––––––––––––––––––––––––––––––––</tspan>LAASTHDDKSLDEAIDMRF<tspan fill="#777" stroke="#777">––</tspan>DC</text>
<text x="23.3" y="1459.74" font-size="9.7" font-weight="bold" font-style="italic" fill="#1a1a1a">Dog</text>
<text x="111.58" y="1471.97" font-size="10.6" font-family="'Liberation Mono', 'Courier New', monospace" letter-spacing="2.1" fill="#111" stroke="#111" stroke-width="0.3"><tspan fill="#777" stroke="#777">––––––––––––––––––––––––––––––––––––––––––</tspan>ASTSTSVINVTGSPVTTF<tspan fill="#777" stroke="#777">––––––––––––––––––––––––––––––––––––––</tspan>LAASTHDDKSLDEAIDMRF<tspan fill="#777" stroke="#777">––</tspan>DC</text>
<text x="23.3" y="1471.97" font-size="9.7" font-weight="bold" font-style="italic" fill="#1a1a1a">Pig</text>
<text x="111.58" y="1484.2" font-size="10.6" font-family="'Liberation Mono', 'Courier New', monospace" letter-spacing="2.1" fill="#111" stroke="#111" stroke-width="0.3"><tspan fill="#777" stroke="#777">––––––––––––––––––––––––––––––––––––––––––</tspan>ASTSTSVINVTGSPVTTF<tspan fill="#777" stroke="#777">––––––––––––––––––––––––––––––––––––––</tspan>LAASTHDDKSLDEAIDMRF<tspan fill="#777" stroke="#777">––</tspan>DC</text>
<text x="23.3" y="1484.2" font-size="9.7" font-weight="bold" font-style="italic" fill="#1a1a1a">Horse</text>
<text x="111.58" y="1496.43" font-size="10.6" font-family="'Liberation Mono', 'Courier New', monospace" letter-spacing="2.1" fill="#111" stroke="#111" stroke-width="0.3"><tspan fill="#777" stroke="#777">––––––––––––––––––––––––––––––––––––––––––</tspan>ASTSTSVINVTGSPVTTF<tspan fill="#777" stroke="#777">––––––––––––––––––––––––––––––––––––––</tspan>LAASTHDDKSLDEAIDMRF<tspan fill="#777" stroke="#777">––</tspan>DC</text>
<text x="23.3" y="1496.43" font-size="9.7" font-weight="bold" font-style="italic" fill="#1a1a1a">Marmoset</text>
<text x="111.58" y="1508.66" font-size="10.6" font-family="'Liberation Mono', 'Courier New', monospace" letter-spacing="2.1" fill="#111" stroke="#111" stroke-width="0.3"><tspan fill="#777" stroke="#777">––––––––––––––––––––––––––––––––––––––––––</tspan>ASTSTSVINVTGSPVTTF<tspan fill="#777" stroke="#777">––––––––––––––––––––––––––––––––––––––</tspan>LAASTHDDKSLDEAIDMRF<tspan fill="#777" stroke="#777">––</tspan>DC</text>
<text x="23.3" y="1508.66" font-size="9.7" font-weight="bold" font-style="italic" fill="#1a1a1a">Human</text>
<text x="111.58" y="1520.89" font-size="10.6" font-family="'Liberation Mono', 'Courier New', monospace" letter-spacing="2.1" fill="#111" stroke="#111" stroke-width="0.3"><tspan fill="#777" stroke="#777">––––––––––––––––––––––––––––––––––––––––––</tspan>ASTSTSVINVTGSPVTTF<tspan fill="#777" stroke="#777">––––––––––––––––––––––––––––––––––––––</tspan>LAASTHDDKSLDEAIDMRF<tspan fill="#777" stroke="#777">––</tspan>DC</text>
<text x="23.3" y="1520.89" font-size="9.7" font-weight="bold" font-style="italic" fill="#1a1a1a">Chimpanzee</text>
<text x="111.58" y="1533.12" font-size="10.6" font-family="'Liberation Mono', 'Courier New', monospace" letter-spacing="2.1" fill="#111" stroke="#111" stroke-width="0.3"><tspan fill="#777" stroke="#777">––––––––––––––––––––––––––––––––––––––––––</tspan>ASTSTSVINVTGSPVTTF<tspan fill="#777" stroke="#777">––––––––––––––––––––––––––––––––––––––</tspan>LAASTHDDKSLDEAIDMRF<tspan fill="#777" stroke="#777">––</tspan>DC</text>
<text x="23.3" y="1533.12" font-size="9.7" font-weight="bold" font-style="italic" fill="#1a1a1a">Gorilla</text>
<text x="111.58" y="1545.35" font-size="10.6" font-family="'Liberation Mono', 'Courier New', monospace" letter-spacing="2.1" fill="#111" stroke="#111" stroke-width="0.3"><tspan fill="#777" stroke="#777">––––––––––––––––––––––––––––––––––––––––––</tspan>ASTSTSVINVTGSPVTTF<tspan fill="#777" stroke="#777">––––––––––––––––––––––––––––––––––––––</tspan>LAASTHDDKSLDEAIDMRF<tspan fill="#777" stroke="#777">––</tspan>DC</text>
<text x="23.3" y="1545.35" font-size="9.7" font-weight="bold" font-style="italic" fill="#1a1a1a">Macaque</text>
<text x="111.58" y="1557.58" font-size="10.6" font-family="'Liberation Mono', 'Courier New', monospace" letter-spacing="2.1" fill="#111" stroke="#111" stroke-width="0.3"><tspan fill="#777" stroke="#777">––––––––––––––––––––––––––––––––––––––––––</tspan>ASTSTSVINVTGSPVTTF<tspan fill="#777" stroke="#777">––––––––––––––––––––––––––––––––––––––</tspan>LAASTHDDKSLDEAIDMRF<tspan fill="#777" stroke="#777">––</tspan>DC</text>
<text x="23.3" y="1557.58" font-size="9.7" font-weight="bold" font-style="italic" fill="#1a1a1a">Gibbon</text>
<text x="111.58" y="1569.81" font-size="10.6" font-family="'Liberation Mono', 'Courier New', monospace" letter-spacing="2.1" fill="#111" stroke="#111" stroke-width="0.3">SGNNSIPQYAYMAMPPDLLDQAVSG<tspan fill="#777" stroke="#777">–––––––––––––––––</tspan>DGQSHVDSSSFSPEIKKFKNIDPNEDACPGDS<tspan fill="#777" stroke="#777">––––––––––––––––––––––––</tspan>LTATETAHSLFEDIMSGSD<tspan fill="#777" stroke="#777">––</tspan>DL</text>
<text x="23.3" y="1569.81" font-size="9.7" font-weight="bold" font-style="italic" fill="#1a1a1a">Dwil</text>
<text x="111.58" y="1582.04" font-size="10.6" font-family="'Liberation Mono', 'Courier New', monospace" letter-spacing="2.1" fill="#111" stroke="#111" stroke-width="0.3">GKKSTTEFIYFMPPAPEAVPLKLEQQDPT<tspan fill="#777" stroke="#777">–––––––––––––</tspan>PSAATVGVKISEQPAKKLKNGSFIRDIVNVVN<tspan fill="#777" stroke="#777">––––––––––––––––––––––––</tspan>ANAEDSTDLLFDEELEM<tspan fill="#777" stroke="#777">––––</tspan>PA</text>
<text x="23.3" y="1582.04" font-size="9.7" font-weight="bold" font-style="italic" fill="#1a1a1a">Dgri</text>
<text x="111.58" y="1594.27" font-size="10.6" font-family="'Liberation Mono', 'Courier New', monospace" letter-spacing="2.1" fill="#111" stroke="#111" stroke-width="0.3"><tspan fill="#777" stroke="#777">–</tspan>GNTSIPEFAYVMP<tspan fill="#777" stroke="#777">––––</tspan>PPAVVEP<tspan fill="#777" stroke="#777">–––––––––––––––––</tspan>TLESQSTPSPTEQPAKKFKGVESTELDADCGSSIKSAAELVSAVNA<tspan fill="#777" stroke="#777">––</tspan>AAGD<tspan fill="#777" stroke="#777">––––</tspan>SLGADKEHAMFEYFLNEDD<tspan fill="#777" stroke="#777">––</tspan>DL</text>
<text x="23.3" y="1594.27" font-size="9.7" font-weight="bold" font-style="italic" fill="#1a1a1a">Dvir</text>
<text x="111.58" y="1606.5" font-size="10.6" font-family="'Liberation Mono', 'Courier New', monospace" letter-spacing="2.1" fill="#111" stroke="#111" stroke-width="0.3"><tspan fill="#777" stroke="#777">–</tspan>GNSSIPEFAYIMP<tspan fill="#777" stroke="#777">––––</tspan>PPTVEPTTAT<tspan fill="#777" stroke="#777">––––––––––––––</tspan>TEPDPPPSPTMERPAKRFKSFRKRLDMERNVLRKSADMLVSAGNA<tspan fill="#777" stroke="#777">–––––––––––</tspan>AAGDGSMDGDKDEAILERIFSDL</text>
<text x="23.3" y="1606.5" font-size="9.7" font-weight="bold" font-style="italic" fill="#1a1a1a">Dmoj</text>
<text x="111.58" y="1618.73" font-size="10.6" font-family="'Liberation Mono', 'Courier New', monospace" letter-spacing="2.1" fill="#111" stroke="#111" stroke-width="0.3"><tspan fill="#777" stroke="#777">–</tspan>PKSKVPQYAYVMPHPTLMASDVAPPPAPAPE<tspan fill="#777" stroke="#777">––––––––––</tspan>PKPKPKPVSVEQPPAKKFKPAIKRSARLRGFAPRNTIDELVSGGSSAISNSAAGDRLSATDNAHSLFEEIMSGSD<tspan fill="#777" stroke="#777">––</tspan>GL</text>
<text x="23.3" y="1618.73" font-size="9.7" font-weight="bold" font-style="italic" fill="#1a1a1a">Dpse</text>
<text x="111.58" y="1630.96" font-size="10.6" font-family="'Liberation Mono', 'Courier New', monospace" letter-spacing="2.1" fill="#111" stroke="#111" stroke-width="0.3"><tspan fill="#777" stroke="#777">–</tspan>PKSKVPQYAYVMPHPTLMASDVAPPPAPATE<tspan fill="#777" stroke="#777">––––––––––</tspan>PKPKPTPVSVEQPPAKKFKPAIKRSARLRGFAPRNTIDELVSGGSSAISNSAAGDRLSATDNAHSLFEEIMSGSD<tspan fill="#777" stroke="#777">––</tspan>GL</text>
<text x="23.3" y="1630.96" font-size="9.7" font-weight="bold" font-style="italic" fill="#1a1a1a">Dper</text>
<text x="111.58" y="1643.19" font-size="10.6" font-family="'Liberation Mono', 'Courier New', monospace" letter-spacing="2.1" fill="#111" stroke="#111" stroke-width="0.3"><tspan fill="#777" stroke="#777">–</tspan>GNSSIPQFAYLYPAPPSSPEPSPPSPPPPPAPAPAPPAPPVAPPPATKRDVVEPPAKKFRTTARTRRGRANFGALETVDELVSGGSI<tspan fill="#777" stroke="#777">––</tspan>KNPAAGDRQSATDNAHSLFEEIMSGSD<tspan fill="#777" stroke="#777">––</tspan>DL</text>
<text x="23.3" y="1643.19" font-size="9.7" font-weight="bold" font-style="italic" fill="#1a1a1a">Dana</text>
<text x="111.58" y="1655.42" font-size="10.6" font-family="'Liberation Mono', 'Courier New', monospace" letter-spacing="2.1" fill="#111" stroke="#111" stroke-width="0.3"><tspan fill="#777" stroke="#777">–</tspan>GNGTVPQYAYIMP<tspan fill="#777" stroke="#777">––––</tspan>PTTVPNPPAPSLSP<tspan fill="#777" stroke="#777">––––––––––</tspan>PPPPAPNREVIEPPAKKFRTSRTRRGRANFTGLDTVDELVSGGSRS<tspan fill="#777" stroke="#777">––</tspan>NSAAGDR<tspan fill="#777" stroke="#777">–</tspan>SSATDNAHSLFEEIMSGSD<tspan fill="#777" stroke="#777">––</tspan>DL</text>
<text x="23.3" y="1655.42" font-size="9.7" font-weight="bold" font-style="italic" fill="#1a1a1a">Dere</text>
<text x="111.58" y="1667.65" font-size="10.6" font-family="'Liberation Mono', 'Courier New', monospace" letter-spacing="2.1" fill="#111" stroke="#111" stroke-width="0.3"><tspan fill="#777" stroke="#777">–</tspan>GNGSVPQYAYMMPPITVPNLSAPSLSP<tspan fill="#777" stroke="#777">––––––––––––––</tspan>PPPPAPDREVIEPPAKKFRTSRTRRGRANFSGLDTVDELVSGGSRSNSAAGDR<tspan fill="#777" stroke="#777">–––</tspan>SSATDNAHSLFEEIMSGSD<tspan fill="#777" stroke="#777">––</tspan>DL</text>
<text x="23.3" y="1667.65" font-size="9.7" font-weight="bold" font-style="italic" fill="#1a1a1a">Dyak</text>
<text x="111.58" y="1679.88" font-size="10.6" font-family="'Liberation Mono', 'Courier New', monospace" letter-spacing="2.1" fill="#111" stroke="#111" stroke-width="0.3">DGFGSLPQYAYIMP<tspan fill="#777" stroke="#777">––––</tspan>TIDPPNPPAPSLSP<tspan fill="#777" stroke="#777">––––––––––</tspan>PPPPAPDREVIEPPAKKFRTSRTRRGRANFSALDTVDELVSGGSRS<tspan fill="#777" stroke="#777">––</tspan>NSAAGDR<tspan fill="#777" stroke="#777">–</tspan>SSATDNAHSLFEEIMSGSD<tspan fill="#777" stroke="#777">––</tspan>DL</text>
<text x="23.3" y="1679.88" font-size="9.7" font-weight="bold" font-style="italic" fill="#1a1a1a">D.mel</text>
<text x="111.58" y="1692.11" font-size="10.6" font-family="'Liberation Mono', 'Courier New', monospace" letter-spacing="2.1" fill="#111" stroke="#111" stroke-width="0.3">DGNGSVPQHAYMMP<tspan fill="#777" stroke="#777">––––</tspan>PITMPNPPPPSLSP<tspan fill="#777" stroke="#777">––––––––––</tspan>PPPPAPDREVIETPAKKFRTSRTRRGRANFSALDTVDELVSGGSRS<tspan fill="#777" stroke="#777">––</tspan>NSAAGDR<tspan fill="#777" stroke="#777">–</tspan>SSATDNAQSLFEEIMSGSD<tspan fill="#777" stroke="#777">––</tspan>DL</text>
<text x="23.3" y="1692.11" font-size="9.7" font-weight="bold" font-style="italic" fill="#1a1a1a">Dsim</text>
<text x="111.58" y="1704.34" font-size="10.6" font-family="'Liberation Mono', 'Courier New', monospace" letter-spacing="2.1" fill="#111" stroke="#111" stroke-width="0.3">DGNGSVPQHAYMMP<tspan fill="#777" stroke="#777">––––</tspan>PITMPNPPPPSLSP<tspan fill="#777" stroke="#777">––––––––––</tspan>PPPPAPDREVIETPAKKFRTSRTRRGRANFSALDTVDELVSGGSRS<tspan fill="#777" stroke="#777">––</tspan>NSAAGDR<tspan fill="#777" stroke="#777">–</tspan>SSATDNAQSLFEEIMSGSD<tspan fill="#777" stroke="#777">––</tspan>DL</text>
<text x="23.3" y="1704.34" font-size="9.7" font-weight="bold" font-style="italic" fill="#1a1a1a">Dsec</text>
<line x1="106.3" y1="1345.5" x2="106.3" y2="1350" stroke="#222" stroke-width="1.2" />
<line x1="148.6" y1="1346.5" x2="148.6" y2="1349.1" stroke="#222" stroke-width="1.2" />
<line x1="190.9" y1="1345.5" x2="190.9" y2="1350" stroke="#222" stroke-width="1.2" />
<line x1="233.2" y1="1346.5" x2="233.2" y2="1349.1" stroke="#222" stroke-width="1.2" />
<line x1="275.5" y1="1345.5" x2="275.5" y2="1350" stroke="#222" stroke-width="1.2" />
<line x1="317.8" y1="1346.5" x2="317.8" y2="1349.1" stroke="#222" stroke-width="1.2" />
<line x1="360.1" y1="1345.5" x2="360.1" y2="1350" stroke="#222" stroke-width="1.2" />
<line x1="402.4" y1="1346.5" x2="402.4" y2="1349.1" stroke="#222" stroke-width="1.2" />
<line x1="444.7" y1="1345.5" x2="444.7" y2="1350" stroke="#222" stroke-width="1.2" />
<line x1="487" y1="1346.5" x2="487" y2="1349.1" stroke="#222" stroke-width="1.2" />
<line x1="529.3" y1="1345.5" x2="529.3" y2="1350" stroke="#222" stroke-width="1.2" />
<line x1="571.6" y1="1346.5" x2="571.6" y2="1349.1" stroke="#222" stroke-width="1.2" />
<line x1="613.9" y1="1345.5" x2="613.9" y2="1350" stroke="#222" stroke-width="1.2" />
<line x1="656.2" y1="1346.5" x2="656.2" y2="1349.1" stroke="#222" stroke-width="1.2" />
<line x1="698.5" y1="1345.5" x2="698.5" y2="1350" stroke="#222" stroke-width="1.2" />
<line x1="740.8" y1="1346.5" x2="740.8" y2="1349.1" stroke="#222" stroke-width="1.2" />
<line x1="783.1" y1="1345.5" x2="783.1" y2="1350" stroke="#222" stroke-width="1.2" />
<line x1="825.4" y1="1346.5" x2="825.4" y2="1349.1" stroke="#222" stroke-width="1.2" />
<line x1="867.7" y1="1345.5" x2="867.7" y2="1350" stroke="#222" stroke-width="1.2" />
<line x1="910" y1="1346.5" x2="910" y2="1349.1" stroke="#222" stroke-width="1.2" />
<line x1="952.3" y1="1345.5" x2="952.3" y2="1350" stroke="#222" stroke-width="1.2" />
<line x1="994.6" y1="1346.5" x2="994.6" y2="1349.1" stroke="#222" stroke-width="1.2" />
<line x1="1036.9" y1="1345.5" x2="1036.9" y2="1350" stroke="#222" stroke-width="1.2" />
<line x1="1079.2" y1="1346.5" x2="1079.2" y2="1349.1" stroke="#222" stroke-width="1.2" />
<text x="103.1" y="1344.5" font-size="9.2" fill="#111" stroke="#111" stroke-width="0.45">130</text>
<text x="187.7" y="1344.5" font-size="9.2" fill="#111" stroke="#111" stroke-width="0.45">140</text>
<text x="272.3" y="1344.5" font-size="9.2" fill="#111" stroke="#111" stroke-width="0.45">150</text>
<text x="356.9" y="1344.5" font-size="9.2" fill="#111" stroke="#111" stroke-width="0.45">160</text>
<text x="441.5" y="1344.5" font-size="9.2" fill="#111" stroke="#111" stroke-width="0.45">170</text>
<text x="526.1" y="1344.5" font-size="9.2" fill="#111" stroke="#111" stroke-width="0.45">180</text>
<text x="610.7" y="1344.5" font-size="9.2" fill="#111" stroke="#111" stroke-width="0.45">190</text>
<text x="695.3" y="1344.5" font-size="9.2" fill="#111" stroke="#111" stroke-width="0.45">200</text>
<text x="779.9" y="1344.5" font-size="9.2" fill="#111" stroke="#111" stroke-width="0.45">210</text>
<text x="864.5" y="1344.5" font-size="9.2" fill="#111" stroke="#111" stroke-width="0.45">220</text>
<text x="949.1" y="1344.5" font-size="9.2" fill="#111" stroke="#111" stroke-width="0.45">230</text>
<text x="1033.7" y="1344.5" font-size="9.2" fill="#111" stroke="#111" stroke-width="0.45">240</text>
<text x="1230" y="931" font-size="26" font-weight="bold" fill="#111" stroke="#111" stroke-width="0.45">i</text>
<text x="1439.9" y="953.5" font-size="25" fill="#111" stroke="#111" stroke-width="0.45">MSL2-CTD (Proline-bias)</text>
<line x1="1360" y1="995.4" x2="1815" y2="995.4" stroke="#d0d0d0" stroke-width="0.9" stroke-dasharray="3,3"/>
<line x1="1360" y1="1007.49" x2="1815" y2="1007.49" stroke="#d0d0d0" stroke-width="0.9" stroke-dasharray="3,3"/>
<line x1="1360" y1="1019.58" x2="1815" y2="1019.58" stroke="#d0d0d0" stroke-width="0.9" stroke-dasharray="3,3"/>
<line x1="1360" y1="1031.67" x2="1815" y2="1031.67" stroke="#d0d0d0" stroke-width="0.9" stroke-dasharray="3,3"/>
<line x1="1360" y1="1043.76" x2="1815" y2="1043.76" stroke="#d0d0d0" stroke-width="0.9" stroke-dasharray="3,3"/>
<line x1="1360" y1="1055.85" x2="1815" y2="1055.85" stroke="#d0d0d0" stroke-width="0.9" stroke-dasharray="3,3"/>
<line x1="1360" y1="1067.94" x2="1815" y2="1067.94" stroke="#d0d0d0" stroke-width="0.9" stroke-dasharray="3,3"/>
<line x1="1360" y1="1080.03" x2="1815" y2="1080.03" stroke="#d0d0d0" stroke-width="0.9" stroke-dasharray="3,3"/>
<line x1="1360" y1="1092.12" x2="1815" y2="1092.12" stroke="#d0d0d0" stroke-width="0.9" stroke-dasharray="3,3"/>
<line x1="1360" y1="1104.21" x2="1815" y2="1104.21" stroke="#d0d0d0" stroke-width="0.9" stroke-dasharray="3,3"/>
<line x1="1360" y1="1116.3" x2="1815" y2="1116.3" stroke="#d0d0d0" stroke-width="0.9" stroke-dasharray="3,3"/>
<line x1="1360" y1="1128.39" x2="1815" y2="1128.39" stroke="#d0d0d0" stroke-width="0.9" stroke-dasharray="3,3"/>
<line x1="1360" y1="1140.48" x2="1815" y2="1140.48" stroke="#d0d0d0" stroke-width="0.9" stroke-dasharray="3,3"/>
<line x1="1360" y1="1152.57" x2="1815" y2="1152.57" stroke="#d0d0d0" stroke-width="0.9" stroke-dasharray="3,3"/>
<line x1="1360" y1="1164.66" x2="1815" y2="1164.66" stroke="#d0d0d0" stroke-width="0.9" stroke-dasharray="3,3"/>
<line x1="1360" y1="1176.75" x2="1815" y2="1176.75" stroke="#d0d0d0" stroke-width="0.9" stroke-dasharray="3,3"/>
<line x1="1360" y1="1188.84" x2="1815" y2="1188.84" stroke="#d0d0d0" stroke-width="0.9" stroke-dasharray="3,3"/>
<line x1="1360" y1="1200.93" x2="1815" y2="1200.93" stroke="#d0d0d0" stroke-width="0.9" stroke-dasharray="3,3"/>
<line x1="1360" y1="1213.02" x2="1815" y2="1213.02" stroke="#d0d0d0" stroke-width="0.9" stroke-dasharray="3,3"/>
<line x1="1360" y1="1225.11" x2="1815" y2="1225.11" stroke="#d0d0d0" stroke-width="0.9" stroke-dasharray="3,3"/>
<line x1="1360" y1="1237.2" x2="1815" y2="1237.2" stroke="#d0d0d0" stroke-width="0.9" stroke-dasharray="3,3"/>
<path d="M1352.3,1246.8 V985.5 H1822.2 V1246.8" fill="none" stroke="#8a8a8a" stroke-width="1.3" />
<rect x="1376.57" y="1092.21" width="2.4" height="12.09" fill="#a6a6a6" />
<rect x="1376.57" y="1164.75" width="2.4" height="12.09" fill="#a6a6a6" />
<rect x="1380.98" y="1104.3" width="2.4" height="24.18" fill="#a6a6a6" />
<rect x="1385.54" y="985.5" width="2.4" height="106.71" fill="#a6a6a6" />
<rect x="1385.54" y="1128.48" width="2.4" height="108.81" fill="#a6a6a6" />
<rect x="1389.95" y="1092.21" width="2.4" height="12.09" fill="#a6a6a6" />
<rect x="1394.2" y="1140.57" width="2.4" height="36.27" fill="#a6a6a6" />
<rect x="1398.6" y="1128.48" width="2.4" height="12.09" fill="#a6a6a6" />
<rect x="1398.6" y="1164.75" width="2.4" height="12.09" fill="#a6a6a6" />
<rect x="1407.26" y="1164.75" width="2.4" height="12.09" fill="#a6a6a6" />
<rect x="1411.51" y="1164.75" width="2.4" height="12.09" fill="#a6a6a6" />
<rect x="1415.92" y="1092.21" width="2.4" height="12.09" fill="#a6a6a6" />
<rect x="1415.92" y="1164.75" width="2.4" height="72.54" fill="#a6a6a6" />
<rect x="1420.17" y="1164.75" width="2.4" height="60.45" fill="#a6a6a6" />
<rect x="1424.57" y="1164.75" width="2.4" height="12.09" fill="#a6a6a6" />
<rect x="1428.98" y="1092.21" width="2.4" height="36.27" fill="#a6a6a6" />
<rect x="1433.23" y="1140.57" width="2.4" height="36.27" fill="#a6a6a6" />
<rect x="1433.23" y="1225.2" width="2.4" height="12.09" fill="#a6a6a6" />
<rect x="1437.95" y="1092.21" width="2.4" height="12.09" fill="#a6a6a6" />
<rect x="1437.95" y="1140.57" width="2.4" height="24.18" fill="#a6a6a6" />
<rect x="1437.95" y="1176.84" width="2.4" height="60.45" fill="#a6a6a6" />
<rect x="1442.2" y="1140.57" width="2.4" height="36.27" fill="#a6a6a6" />
<rect x="1446.61" y="1188.93" width="2.4" height="48.36" fill="#a6a6a6" />
<rect x="1450.86" y="1140.57" width="2.4" height="36.27" fill="#a6a6a6" />
<rect x="1450.86" y="1188.93" width="2.4" height="48.36" fill="#a6a6a6" />
<rect x="1455.26" y="1164.75" width="2.4" height="12.09" fill="#a6a6a6" />
<rect x="1455.26" y="1201.02" width="2.4" height="24.18" fill="#a6a6a6" />
<rect x="1459.51" y="1104.3" width="2.4" height="24.18" fill="#a6a6a6" />
<rect x="1459.51" y="1152.66" width="2.4" height="12.09" fill="#a6a6a6" />
<rect x="1459.51" y="1176.84" width="2.4" height="60.45" fill="#a6a6a6" />
<rect x="1463.92" y="1104.3" width="2.4" height="24.18" fill="#a6a6a6" />
<rect x="1463.92" y="1164.75" width="2.4" height="12.09" fill="#a6a6a6" />
<rect x="1468.17" y="1104.3" width="2.4" height="24.18" fill="#a6a6a6" />
<rect x="1468.17" y="1140.57" width="2.4" height="36.27" fill="#a6a6a6" />
<rect x="1476.82" y="1140.57" width="2.4" height="24.18" fill="#a6a6a6" />
<rect x="1476.82" y="1176.84" width="2.4" height="60.45" fill="#a6a6a6" />
<rect x="1481.23" y="1164.75" width="2.4" height="72.54" fill="#a6a6a6" />
<rect x="1485.48" y="1104.3" width="2.4" height="12.09" fill="#a6a6a6" />
<rect x="1485.48" y="1140.57" width="2.4" height="96.72" fill="#a6a6a6" />
<rect x="1489.89" y="1116.39" width="2.4" height="24.18" fill="#a6a6a6" />
<rect x="1489.89" y="1164.75" width="2.4" height="72.54" fill="#a6a6a6" />
<rect x="1494.14" y="1140.57" width="2.4" height="24.18" fill="#a6a6a6" />
<rect x="1494.14" y="1176.84" width="2.4" height="60.45" fill="#a6a6a6" />
<rect x="1502.95" y="1176.84" width="2.4" height="60.45" fill="#a6a6a6" />
<rect x="1507.2" y="1092.21" width="2.4" height="12.09" fill="#a6a6a6" />
<rect x="1511.92" y="1092.21" width="2.4" height="12.09" fill="#a6a6a6" />
<rect x="1516.17" y="1104.3" width="2.4" height="12.09" fill="#a6a6a6" />
<rect x="1520.58" y="1092.21" width="2.4" height="12.09" fill="#a6a6a6" />
<rect x="1520.58" y="1140.57" width="2.4" height="24.18" fill="#a6a6a6" />
<rect x="1524.98" y="1104.3" width="2.4" height="60.45" fill="#a6a6a6" />
<rect x="1529.23" y="1104.3" width="2.4" height="12.09" fill="#a6a6a6" />
<rect x="1529.23" y="1128.48" width="2.4" height="12.09" fill="#a6a6a6" />
<rect x="1529.23" y="1164.75" width="2.4" height="12.09" fill="#a6a6a6" />
<rect x="1533.48" y="985.5" width="2.4" height="106.71" fill="#a6a6a6" />
<rect x="1533.48" y="1104.3" width="2.4" height="24.18" fill="#a6a6a6" />
<rect x="1533.48" y="1164.75" width="2.4" height="36.27" fill="#a6a6a6" />
<rect x="1533.48" y="1225.2" width="2.4" height="12.09" fill="#a6a6a6" />
<rect x="1537.89" y="1092.21" width="2.4" height="12.09" fill="#a6a6a6" />
<rect x="1537.89" y="1176.84" width="2.4" height="60.45" fill="#a6a6a6" />
<rect x="1542.29" y="1104.3" width="2.4" height="12.09" fill="#a6a6a6" />
<rect x="1550.95" y="1116.39" width="2.4" height="12.09" fill="#a6a6a6" />
<rect x="1550.95" y="1140.57" width="2.4" height="24.18" fill="#a6a6a6" />
<rect x="1564.17" y="1104.3" width="2.4" height="12.09" fill="#a6a6a6" />
<rect x="1572.83" y="1092.21" width="2.4" height="12.09" fill="#a6a6a6" />
<rect x="1581.64" y="1092.21" width="2.4" height="12.09" fill="#a6a6a6" />
<rect x="1638.2" y="1092.21" width="2.4" height="12.09" fill="#a6a6a6" />
<rect x="1794.7" y="1092.21" width="2.4" height="12.09" fill="#a6a6a6" />
<rect x="1625" y="1128.48" width="2.4" height="12.09" fill="#a6a6a6" />
<rect x="1668.3" y="1128.48" width="2.4" height="12.09" fill="#a6a6a6" />
<rect x="1694.7" y="1128.48" width="2.4" height="12.09" fill="#a6a6a6" />
<rect x="1608" y="1140.57" width="2.4" height="24.18" fill="#a6a6a6" />
<rect x="1686.4" y="1164.75" width="2.4" height="12.09" fill="#a6a6a6" />
<rect x="1690.2" y="985.5" width="2.4" height="106.71" fill="#a6a6a6" />
<text x="1345.6" y="994.99" font-size="17.6" text-anchor="end" fill="#111" stroke="#111" stroke-width="0.45">Mouse</text>
<text x="1345.6" y="1007.08" font-size="17.6" text-anchor="end" fill="#111" stroke="#111" stroke-width="0.45">Microbat</text>
<text x="1345.6" y="1019.17" font-size="17.6" text-anchor="end" fill="#111" stroke="#111" stroke-width="0.45">Megabat</text>
<text x="1345.6" y="1031.26" font-size="17.6" text-anchor="end" fill="#111" stroke="#111" stroke-width="0.45">Marmoset</text>
<text x="1345.6" y="1043.35" font-size="17.6" text-anchor="end" fill="#111" stroke="#111" stroke-width="0.45">Macaque</text>
<text x="1345.6" y="1055.44" font-size="17.6" text-anchor="end" fill="#111" stroke="#111" stroke-width="0.45">Gibbon</text>
<text x="1345.6" y="1067.53" font-size="17.6" text-anchor="end" fill="#111" stroke="#111" stroke-width="0.45">Gorilla</text>
<text x="1345.6" y="1079.62" font-size="17.6" text-anchor="end" fill="#111" stroke="#111" stroke-width="0.45">Chimpanzee</text>
<text x="1345.6" y="1091.71" font-size="17.6" text-anchor="end" fill="#111" stroke="#111" stroke-width="0.45">Human</text>
<text x="1345.6" y="1103.8" font-size="17.6" text-anchor="end" fill="#4a6aad" stroke="#4a6aad" stroke-width="0.45">Dgri</text>
<text x="1345.6" y="1115.89" font-size="17.6" text-anchor="end" fill="#4a6aad" stroke="#4a6aad" stroke-width="0.45">Dmoj</text>
<text x="1345.6" y="1127.98" font-size="17.6" text-anchor="end" fill="#4a6aad" stroke="#4a6aad" stroke-width="0.45">Dvir</text>
<text x="1345.6" y="1140.07" font-size="17.6" text-anchor="end" fill="#4a6aad" stroke="#4a6aad" stroke-width="0.45">Dwil</text>
<text x="1345.6" y="1152.16" font-size="17.6" text-anchor="end" fill="#4a6aad" stroke="#4a6aad" stroke-width="0.45">Dper</text>
<text x="1345.6" y="1164.25" font-size="17.6" text-anchor="end" fill="#4a6aad" stroke="#4a6aad" stroke-width="0.45">Dpse</text>
<text x="1345.6" y="1176.34" font-size="17.6" text-anchor="end" fill="#4a6aad" stroke="#4a6aad" stroke-width="0.45">Dana</text>
<text x="1345.6" y="1188.43" font-size="17.6" text-anchor="end" fill="#4a6aad" stroke="#4a6aad" stroke-width="0.45">Dyak</text>
<text x="1345.6" y="1200.52" font-size="17.6" text-anchor="end" fill="#4a6aad" stroke="#4a6aad" stroke-width="0.45">Dere</text>
<text x="1345.6" y="1212.61" font-size="17.6" text-anchor="end" fill="#4a6aad" stroke="#4a6aad" stroke-width="0.45">Dsec</text>
<text x="1345.6" y="1224.7" font-size="17.6" text-anchor="end" fill="#4a6aad" stroke="#4a6aad" stroke-width="0.45">Dsim</text>
<text x="1345.6" y="1236.79" font-size="17.6" text-anchor="end" fill="#4a6aad" stroke="#4a6aad" stroke-width="0.45">Dmel</text>
<path d="M1369.7,1246.6v5M1374.01,1246.6v5M1378.31,1246.6v5M1382.62,1246.6v5M1386.92,1246.6v5M1391.23,1246.6v5M1395.53,1246.6v5M1399.84,1246.6v5M1404.14,1246.6v5M1408.44,1246.6v5M1412.75,1246.6v5M1417.06,1246.6v5M1421.36,1246.6v5M1425.66,1246.6v5M1429.97,1246.6v5M1434.28,1246.6v5M1438.58,1246.6v5M1442.88,1246.6v5M1447.19,1246.6v5M1451.5,1246.6v5M1455.8,1246.6v5M1460.11,1246.6v5M1464.41,1246.6v5M1468.72,1246.6v5M1473.02,1246.6v5M1477.33,1246.6v5M1481.63,1246.6v5M1485.93,1246.6v5M1490.24,1246.6v5M1494.55,1246.6v5M1498.85,1246.6v5M1503.15,1246.6v5M1507.46,1246.6v5M1511.77,1246.6v5M1516.07,1246.6v5M1520.38,1246.6v5M1524.68,1246.6v5M1528.99,1246.6v5M1533.29,1246.6v5M1537.6,1246.6v5M1541.9,1246.6v5M1546.2,1246.6v5M1550.51,1246.6v5M1554.82,1246.6v5M1559.12,1246.6v5M1563.42,1246.6v5M1567.73,1246.6v5M1572.04,1246.6v5M1576.34,1246.6v5M1580.64,1246.6v5M1584.95,1246.6v5M1589.26,1246.6v5M1593.56,1246.6v5M1597.87,1246.6v5M1602.17,1246.6v5M1606.47,1246.6v5M1610.78,1246.6v5M1615.09,1246.6v5M1619.39,1246.6v5M1623.69,1246.6v5M1628,1246.6v5M1632.31,1246.6v5M1636.61,1246.6v5M1640.91,1246.6v5M1645.22,1246.6v5M1649.53,1246.6v5M1653.83,1246.6v5M1658.13,1246.6v5M1662.44,1246.6v5M1666.74,1246.6v5M1671.05,1246.6v5M1675.36,1246.6v5M1679.66,1246.6v5M1683.97,1246.6v5M1688.27,1246.6v5M1692.58,1246.6v5M1696.88,1246.6v5M1701.18,1246.6v5M1705.49,1246.6v5M1709.8,1246.6v5M1714.1,1246.6v5M1718.4,1246.6v5M1722.71,1246.6v5M1727.02,1246.6v5M1731.32,1246.6v5M1735.62,1246.6v5M1739.93,1246.6v5M1744.24,1246.6v5M1748.54,1246.6v5M1752.85,1246.6v5M1757.15,1246.6v5M1761.45,1246.6v5M1765.76,1246.6v5M1770.07,1246.6v5M1774.37,1246.6v5M1778.67,1246.6v5M1782.98,1246.6v5M1787.29,1246.6v5M1791.59,1246.6v5M1795.89,1246.6v5" fill="none" stroke="#111" stroke-width="1.5" />
<text x="1369.6" y="1267.7" font-size="17.8" text-anchor="middle" fill="#111" stroke="#111" stroke-width="0.45">−101</text>
<text x="1408.62" y="1267.7" font-size="17.8" text-anchor="middle" fill="#111" stroke="#111" stroke-width="0.45">−92</text>
<text x="1443.31" y="1267.7" font-size="17.8" text-anchor="middle" fill="#111" stroke="#111" stroke-width="0.45">−84</text>
<text x="1478" y="1267.7" font-size="17.8" text-anchor="middle" fill="#111" stroke="#111" stroke-width="0.45">−76</text>
<text x="1512.69" y="1267.7" font-size="17.8" text-anchor="middle" fill="#111" stroke="#111" stroke-width="0.45">−68</text>
<text x="1547.38" y="1267.7" font-size="17.8" text-anchor="middle" fill="#111" stroke="#111" stroke-width="0.45">−60</text>
<text x="1582.06" y="1267.7" font-size="17.8" text-anchor="middle" fill="#111" stroke="#111" stroke-width="0.45">−52</text>
<text x="1616.75" y="1267.7" font-size="17.8" text-anchor="middle" fill="#111" stroke="#111" stroke-width="0.45">−44</text>
<text x="1651.44" y="1267.7" font-size="17.8" text-anchor="middle" fill="#111" stroke="#111" stroke-width="0.45">−36</text>
<text x="1686.13" y="1267.7" font-size="17.8" text-anchor="middle" fill="#111" stroke="#111" stroke-width="0.45">−28</text>
<text x="1720.82" y="1267.7" font-size="17.8" text-anchor="middle" fill="#111" stroke="#111" stroke-width="0.45">−20</text>
<text x="1755.5" y="1267.7" font-size="17.8" text-anchor="middle" fill="#111" stroke="#111" stroke-width="0.45">−12</text>
<text x="1790.19" y="1267.7" font-size="17.8" text-anchor="middle" fill="#111" stroke="#111" stroke-width="0.45">−4</text>
<text x="1457.6" y="1285.4" font-size="17.8" fill="#111" stroke="#111" stroke-width="0.45">Distance to C−terminal (Amino Acid)</text>
<text x="1323.7" y="1358.8" font-size="18.1" fill="#111" stroke="#111" stroke-width="0.45"><tspan fill="#222" stroke="#222">EDYVE</tspan><tspan fill="#d2323c" stroke="#d2323c">SDEDDDLED</tspan><tspan fill="#222" stroke="#222">FEMPKDVPEPMTQSEEPVVAEPRQEE</tspan></text>
<text x="1323.7" y="1380.3" font-size="18.1" fill="#111" stroke="#111" stroke-width="0.45"><tspan fill="#222" stroke="#222">NSMAPPDSSAPISLVPLNNLQQSQHPLVLVQNEKGEYQGFNI</tspan></text>
<text x="1323.7" y="1401.4" font-size="18.1" fill="#111" stroke="#111" stroke-width="0.45"><tspan fill="#222" stroke="#222">FQGSKPLDPVTVGFTIRVQLQHTDGFGSLPQYAYIMPTID</tspan><tspan fill="#3d9a4a" stroke="#3d9a4a">PP</tspan></text>
<text x="1323.7" y="1422.9" font-size="18.1" fill="#111" stroke="#111" stroke-width="0.45"><tspan fill="#3d9a4a" stroke="#3d9a4a">NPPAPSLSPPPPPAPDREVIEPP</tspan><tspan fill="#222" stroke="#222">AKKFRTS</tspan><tspan fill="#2d4a9a" stroke="#2d4a9a">RTRRGR</tspan><tspan fill="#222" stroke="#222">ANFSAL</tspan></text>
<text x="1323.7" y="1443.6" font-size="18.1" fill="#111" stroke="#111" stroke-width="0.45"><tspan fill="#222" stroke="#222">DTVDELVSGGSRSNSAAGDRSSATDNAHSLFEEIMSGSDDL</tspan></text>
<text x="0" y="1757" font-size="26" font-weight="bold" fill="#111" stroke="#111" stroke-width="0.45">j</text>
<text x="170.7" y="1787.3" font-size="21.3" fill="#111" stroke="#111" stroke-width="0.45">Dmel CXC</text>
<text x="117.9" y="1875" font-size="21.3" fill="#d42a2a" stroke="#d42a2a" stroke-width="0.45">rapidly evolving</text>
<text x="117.9" y="1901.6" font-size="21.3" fill="#d42a2a" stroke="#d42a2a" stroke-width="0.45">amino acids</text>
<text x="166.6" y="1923" font-size="21.3" fill="#2b3583" stroke="#2b3583" stroke-width="0.45">conserved</text>
<text x="166.6" y="1948.8" font-size="21.3" fill="#2b3583" stroke="#2b3583" stroke-width="0.45">amino acids</text>
<text x="272.4" y="2026.3" font-size="24" fill="#111" stroke="#111" stroke-width="0.45">DNA</text>
<defs><radialGradient id="blobg" cx="0.5" cy="0.45" r="0.65"><stop offset="0" stop-color="#f1f0ee"/><stop offset="0.8" stop-color="#e6e5e3"/><stop offset="1" stop-color="#d6d4d1"/></radialGradient><filter id="blobf" x="-10%" y="-10%" width="120%" height="120%"><feGaussianBlur stdDeviation="1.2"/></filter><filter id="blobf2" x="-20%" y="-20%" width="140%" height="140%"><feGaussianBlur stdDeviation="2.5"/></filter></defs>
<path d="M282.63,1750.05 C283.9,1746.79 286.8,1741.52 291.34,1739.16 C295.88,1736.8 304.77,1735.53 309.86,1735.89 C314.94,1736.26 318.57,1738.8 321.84,1741.34 C325.11,1743.88 326.38,1749.78 329.47,1751.14 C332.55,1752.51 336.37,1749.96 340.36,1749.51 C344.35,1749.06 348.89,1747.97 353.43,1748.42 C357.97,1748.87 363.6,1750.15 367.59,1752.23 C371.59,1754.32 375.58,1757.68 377.4,1760.95 C379.21,1764.22 376.49,1769.3 378.49,1771.84 C380.48,1774.38 385.2,1774.56 389.38,1776.2 C393.55,1777.83 398.46,1780.56 403.54,1781.64 C408.62,1782.73 414.62,1782.01 419.88,1782.73 C425.15,1783.46 430.77,1784.19 435.13,1786 C439.49,1787.82 444.03,1790 446.02,1793.63 C448.02,1797.26 447.57,1802.89 447.11,1807.79 C446.66,1812.69 443.75,1817.96 443.3,1823.04 C442.85,1828.12 444.84,1833.39 444.39,1838.29 C443.94,1843.19 442.67,1848.46 440.58,1852.45 C438.49,1856.45 434.77,1858.81 431.86,1862.25 C428.96,1865.7 425.51,1868.79 423.15,1873.15 C420.79,1877.51 419.52,1883.32 417.7,1888.4 C415.89,1893.48 414.98,1899.84 412.25,1903.65 C409.53,1907.46 405.72,1909.1 401.36,1911.27 C397,1913.45 390.83,1914.91 386.11,1916.72 C381.39,1918.54 377.03,1919.63 373.04,1922.17 C369.05,1924.71 365.96,1929.43 362.15,1931.97 C358.33,1934.51 354.34,1936.33 350.16,1937.42 C345.99,1938.51 341.09,1939.32 337.09,1938.51 C333.1,1937.69 329.83,1934.51 326.2,1932.52 C322.57,1930.52 318.57,1929.16 315.31,1926.53 C312.04,1923.89 309.68,1920.17 306.59,1916.72 C303.5,1913.27 299.06,1910.37 296.79,1905.83 C294.52,1901.29 293.16,1894.93 292.97,1889.49 C292.79,1884.04 294.15,1878.59 295.7,1873.15 C297.24,1867.7 300.42,1861.71 302.23,1856.81 C304.05,1851.91 305.95,1848.46 306.59,1843.74 C307.23,1839.02 305.68,1832.84 306.05,1828.49 C306.41,1824.13 307.77,1820.68 308.77,1817.59 C309.77,1814.51 311.86,1812.87 312.04,1809.97 C312.22,1807.06 310.77,1803.61 309.86,1800.16 C308.95,1796.71 308.04,1793.45 306.59,1789.27 C305.14,1785.09 303.87,1779.1 301.14,1775.11 C298.42,1771.11 293.16,1768.03 290.25,1765.31 C287.35,1762.58 284.99,1761.31 283.71,1758.77 C282.44,1756.23 281.35,1753.32 282.63,1750.05 Z" fill="url(#blobg)" stroke="#cdcbc8" stroke-width="1.8" filter="url(#blobf)"/>
<ellipse cx="303.32" cy="1746.79" rx="16.34" ry="9.8" fill="#f8f7f6" opacity="0.9" filter="url(#blobf2)"/>
<ellipse cx="331.64" cy="1770.75" rx="14.16" ry="19.61" fill="#f8f7f6" opacity="0.9" filter="url(#blobf2)"/>
<ellipse cx="353.43" cy="1760.95" rx="16.34" ry="10.89" fill="#f8f7f6" opacity="0.9" filter="url(#blobf2)"/>
<ellipse cx="411.17" cy="1801.25" rx="27.23" ry="17.43" fill="#f8f7f6" opacity="0.9" filter="url(#blobf2)"/>
<ellipse cx="373.04" cy="1795.81" rx="13.07" ry="13.07" fill="#f8f7f6" opacity="0.9" filter="url(#blobf2)"/>
<ellipse cx="320.75" cy="1844.83" rx="11.98" ry="21.79" fill="#f8f7f6" opacity="0.9" filter="url(#blobf2)"/>
<ellipse cx="320.75" cy="1888.4" rx="14.16" ry="16.34" fill="#f8f7f6" opacity="0.9" filter="url(#blobf2)"/>
<ellipse cx="345.81" cy="1921.08" rx="16.34" ry="9.8" fill="#f8f7f6" opacity="0.9" filter="url(#blobf2)"/>
<ellipse cx="422.06" cy="1833.93" rx="13.07" ry="17.43" fill="#f8f7f6" opacity="0.9" filter="url(#blobf2)"/>
<ellipse cx="400.27" cy="1882.95" rx="9.8" ry="16.34" fill="#f8f7f6" opacity="0.9" filter="url(#blobf2)"/>
<path d="M329.47,1776.2 C331.28,1777.11 337.27,1778.92 340.36,1781.64 C343.45,1784.37 346.17,1788.18 347.98,1792.54 C349.8,1796.9 350.89,1803.25 351.25,1807.79 C351.62,1812.33 351.25,1816.14 350.16,1819.77 C349.07,1823.4 347.08,1826.49 344.72,1829.58 C342.36,1832.66 338.91,1835.2 336,1838.29 C333.1,1841.38 329.65,1844.28 327.29,1848.09 C324.93,1851.91 322.39,1856.81 321.84,1861.17 C321.3,1865.52 322.02,1870.79 324.02,1874.24 C326.02,1877.69 332.19,1880.59 333.82,1881.86" fill="none" stroke="#7d6f6a" stroke-width="3.4" stroke-linecap="round"/>
<path d="M336,1838.29 C338.18,1836.29 344.35,1829.58 349.07,1826.31 C353.79,1823.04 358.51,1820.68 364.32,1818.68 C370.13,1816.68 377.03,1814.69 383.93,1814.32 C390.83,1813.96 399.55,1814.87 405.72,1816.5 C411.89,1818.14 418.06,1821.95 420.97,1824.13 C423.87,1826.31 424.24,1828.21 423.15,1829.58 C422.06,1830.94 418.25,1832.3 414.43,1832.3 C410.62,1832.3 402.63,1830.03 400.27,1829.58" fill="none" stroke="#8f817b" stroke-width="3.4" stroke-linecap="round"/>
<path d="M394.83,1852.45 C394.1,1854.08 392.47,1859.17 390.47,1862.25 C388.47,1865.34 385.75,1868.43 382.84,1870.97 C379.94,1873.51 376.13,1876.05 373.04,1877.51 C369.95,1878.96 365.78,1879.32 364.32,1879.68" fill="none" stroke="#8f817b" stroke-width="3.4" stroke-linecap="round"/>
<path d="M336,1844.83 C337.09,1844.1 340,1841.56 342.54,1840.47 C345.08,1839.38 348.71,1837.93 351.25,1838.29 C353.79,1838.65 356.7,1841.92 357.79,1842.65" fill="none" stroke="#9a8c86" stroke-width="3.4" stroke-linecap="round"/>
<path d="M349.07,1877.51 C349.26,1880.23 350.16,1887.49 350.16,1893.85 C350.16,1900.2 349.26,1912 349.07,1915.63" fill="none" stroke="#8a7c76" stroke-width="3.4" stroke-linecap="round"/>
<path d="M355.6,1786l1.1,8.7 -3.3,6.6 4.4,6.5 6.5,2.2 -2.2,7.6 -8.7,5.4 -7.6,5.5" fill="none" stroke="#2e2a8e" stroke-width="3" stroke-linejoin="round" stroke-linecap="round"/>
<path d="M390.5,1801.3l0,6.5 -7.7,2.2 1.1,7.6 8.7,3.3 2.2,4.3 -8.7,4.4 -2.2,6.5 3.3,8.7 7.6,6.6" fill="none" stroke="#2e2a8e" stroke-width="3" stroke-linejoin="round" stroke-linecap="round"/>
<path d="M333.8,1840.5l-6.5,6.5 -4.4,8.7 4.4,6.6 8.7,2.1 4.4,-4.3 4.3,-6.6 6.6,-4.3 6.5,-4.4 6.5,-4.3 4.4,-10.9 4.3,-4.4 6.6,2.2" fill="none" stroke="#2e2a8e" stroke-width="3" stroke-linejoin="round" stroke-linecap="round"/>
<path d="M320.8,1861.2l4.3,8.7 6.5,7.6 4.4,3.3 4.4,-5.5 -2.2,-8.7" fill="none" stroke="#2e2a8e" stroke-width="3" stroke-linejoin="round" stroke-linecap="round"/>
<path d="M377.4,1848.1l0,7.6 6.5,-1.1 8.7,4.4 7.7,5.4 5.4,8.7 6.6,6.6 -2.2,12 -4.4,11.9 -3.2,4.4" fill="none" stroke="#2e2a8e" stroke-width="3" stroke-linejoin="round" stroke-linecap="round"/>
<path d="M351.3,1881.9l6.5,-4.4 6.5,-1.1 4.4,5.5 -4.4,8.7 -6.5,6.5 -2.2,10.9 4.4,8.7 -2.2,6.6 -8.7,2.1" fill="none" stroke="#2e2a8e" stroke-width="3" stroke-linejoin="round" stroke-linecap="round"/>
<path d="M369.8,1877.5l3.2,8.7 -2.1,8.7" fill="none" stroke="#2e2a8e" stroke-width="3" stroke-linejoin="round" stroke-linecap="round"/>
<path d="M318.6,1862.3l6.5,3.2 6.5,-4.3 4.4,-7.7" fill="none" stroke="#cf2626" stroke-width="3.4" stroke-linejoin="round" stroke-linecap="round"/>
<path d="M322.9,1869.9l6.6,-3.3 6.5,3.3 6.5,1.1" fill="none" stroke="#cf2626" stroke-width="3.4" stroke-linejoin="round" stroke-linecap="round"/>
<path d="M346.9,1884l-6.5,2.2 -6.6,6.6 -3.2,8.7 -1.1,8.7 1.1,8.7 1,4.4" fill="none" stroke="#cf2626" stroke-width="3.4" stroke-linejoin="round" stroke-linecap="round"/>
<path d="M322.9,1912.4l6.6,1.1 6.5,-1.1" fill="none" stroke="#cf2626" stroke-width="3.4" stroke-linejoin="round" stroke-linecap="round"/>
<path d="M327.3,1921.1l4.3,-2.2" fill="none" stroke="#cf2626" stroke-width="3.4" stroke-linejoin="round" stroke-linecap="round"/>
<circle cx="345.81" cy="1852.45" r="5.99" fill="#a8a69e" stroke="#7a7870" stroke-width="0.6"/>
<circle cx="344.61" cy="1850.95" r="2.7" fill="#d8d6d0"/>
<circle cx="361.06" cy="1860.08" r="6.54" fill="#a8a69e" stroke="#7a7870" stroke-width="0.6"/>
<circle cx="359.86" cy="1858.58" r="2.94" fill="#d8d6d0"/>
<circle cx="366.5" cy="1866.61" r="5.45" fill="#a8a69e" stroke="#7a7870" stroke-width="0.6"/>
<circle cx="365.3" cy="1865.11" r="2.45" fill="#d8d6d0"/>
<line x1="497.97" y1="1829.12" x2="494.83" y2="1846.43" stroke="#1d1b7c" stroke-width="2.8" stroke-linecap="round"/>
<line x1="491.68" y1="1856.66" x2="512.14" y2="1851.15" stroke="#1d1b7c" stroke-width="2.8" stroke-linecap="round"/>
<line x1="485.38" y1="1866.89" x2="473.58" y2="1896" stroke="#1d1b7c" stroke-width="2.8" stroke-linecap="round"/>
<line x1="483.02" y1="1877.12" x2="508.2" y2="1888.13" stroke="#1d1b7c" stroke-width="2.8" stroke-linecap="round"/>
<line x1="484.6" y1="1910.17" x2="500.33" y2="1924.33" stroke="#1d1b7c" stroke-width="2.8" stroke-linecap="round"/>
<line x1="453.12" y1="1877.12" x2="471.22" y2="1877.9" stroke="#1d1b7c" stroke-width="2.8" stroke-linecap="round"/>
<line x1="437.38" y1="1888.13" x2="438.95" y2="1907.02" stroke="#1d1b7c" stroke-width="2.8" stroke-linecap="round"/>
<line x1="432.66" y1="1916.46" x2="445.25" y2="1894.43" stroke="#1d1b7c" stroke-width="2.8" stroke-linecap="round"/>
<line x1="454.69" y1="1907.02" x2="462.56" y2="1922.76" stroke="#1d1b7c" stroke-width="2.8" stroke-linecap="round"/>
<line x1="409.05" y1="1929.05" x2="460.99" y2="1921.18" stroke="#1d1b7c" stroke-width="2.8" stroke-linecap="round"/>
<line x1="443.68" y1="1921.18" x2="434.23" y2="1947.94" stroke="#1d1b7c" stroke-width="2.8" stroke-linecap="round"/>
<line x1="465.71" y1="1936.92" x2="470.43" y2="1946.36" stroke="#1d1b7c" stroke-width="2.8" stroke-linecap="round"/>
<line x1="382.3" y1="1946.36" x2="393.31" y2="1919.61" stroke="#1d1b7c" stroke-width="2.8" stroke-linecap="round"/>
<line x1="387.02" y1="1919.61" x2="409.05" y2="1925.9" stroke="#1d1b7c" stroke-width="2.8" stroke-linecap="round"/>
<line x1="431.09" y1="1947.94" x2="453.12" y2="1962.1" stroke="#1d1b7c" stroke-width="2.8" stroke-linecap="round"/>
<line x1="377.58" y1="1965.25" x2="412.2" y2="1954.23" stroke="#1d1b7c" stroke-width="2.8" stroke-linecap="round"/>
<line x1="398.04" y1="1955.81" x2="413.77" y2="1974.69" stroke="#1d1b7c" stroke-width="2.8" stroke-linecap="round"/>
<line x1="383.87" y1="1966.82" x2="393.31" y2="2010.89" stroke="#1d1b7c" stroke-width="2.8" stroke-linecap="round"/>
<line x1="371.28" y1="1973.12" x2="352.4" y2="2003.02" stroke="#1d1b7c" stroke-width="2.8" stroke-linecap="round"/>
<line x1="369.71" y1="1977.84" x2="409.05" y2="1998.3" stroke="#1d1b7c" stroke-width="2.8" stroke-linecap="round"/>
<line x1="421.64" y1="1973.12" x2="427.94" y2="1993.58" stroke="#1d1b7c" stroke-width="2.8" stroke-linecap="round"/>
<line x1="324.07" y1="1980.99" x2="357.12" y2="1977.05" stroke="#1d1b7c" stroke-width="2.8" stroke-linecap="round"/>
<line x1="327.21" y1="1985.71" x2="342.95" y2="1988.86" stroke="#1d1b7c" stroke-width="2.8" stroke-linecap="round"/>
<line x1="317.77" y1="1985.71" x2="336.66" y2="2004.6" stroke="#1d1b7c" stroke-width="2.8" stroke-linecap="round"/>
<line x1="344.53" y1="2018.76" x2="357.12" y2="2051.81" stroke="#1d1b7c" stroke-width="2.8" stroke-linecap="round"/>
<line x1="368.13" y1="2015.61" x2="393.31" y2="2039.22" stroke="#1d1b7c" stroke-width="2.8" stroke-linecap="round"/>
<path d="M494.04,1811.8 C496.14,1815.08 502.69,1824.26 506.63,1831.48 C510.56,1838.69 514.81,1847.21 517.65,1855.08 C520.48,1862.95 523.1,1871.35 523.63,1878.69 C524.15,1886.04 523.1,1892.59 520.79,1899.15 C518.48,1905.71 513.97,1912.53 509.78,1918.04 C505.58,1923.54 500.6,1928.13 495.61,1932.2 C490.63,1936.27 485.38,1939.54 479.87,1942.43 C474.37,1945.32 468.33,1948.02 462.56,1949.51 C456.79,1951.01 451.02,1951.4 445.25,1951.4 C439.48,1951.4 433.45,1950.61 427.94,1949.51 C422.43,1948.41 416.92,1946.63 412.2,1944.79 C407.48,1942.95 401.71,1939.54 399.61,1938.5" fill="none" stroke="#1d1b7c" stroke-width="4.6" stroke-linecap="round"/>
<path d="M413.77,1858.23 C416.66,1859.02 425.58,1860.33 431.09,1862.95 C436.59,1865.58 442.36,1869.77 446.82,1873.97 C451.28,1878.17 454.9,1882.63 457.84,1888.13 C460.78,1893.64 463.14,1900.72 464.45,1907.02 C465.76,1913.31 466.29,1919.35 465.71,1925.9 C465.13,1932.46 463.35,1939.54 460.99,1946.36 C458.63,1953.18 455.48,1960.53 451.55,1966.82 C447.61,1973.12 442.36,1978.89 437.38,1984.14 C432.4,1989.38 426.89,1994.37 421.64,1998.3 C416.4,2002.23 411.68,2005.33 405.9,2007.74 C400.13,2010.16 393.31,2012.04 387.02,2012.78 C380.72,2013.51 374.17,2013.2 368.13,2012.15 C362.1,2011.1 356.59,2009 350.82,2006.48 C345.05,2003.97 339.54,2000.9 333.51,1997.04 C327.48,1993.19 320.39,1987.6 314.62,1983.35 C308.85,1979.1 302.82,1974.3 298.89,1971.55 C294.95,1968.79 292.33,1967.61 291.02,1966.82" fill="none" stroke="#1d1b7c" stroke-width="4.6" stroke-linecap="round"/>
<path d="M369.71,1892.85 C372.07,1894.17 379.41,1897.31 383.87,1900.72 C388.33,1904.13 392.53,1908.33 396.46,1913.31 C400.4,1918.3 404.33,1924.33 407.48,1930.63 C410.63,1936.92 413.51,1944 415.35,1951.09 C417.18,1958.17 418.23,1965.51 418.5,1973.12 C418.76,1980.73 418.23,1989.38 416.92,1996.73 C415.61,2004.07 413.51,2010.63 410.63,2017.19 C407.74,2023.74 404.07,2030.56 399.61,2036.07 C395.15,2041.58 389.64,2046.96 383.87,2050.24 C378.1,2053.51 371.02,2055.22 364.99,2055.74 C358.95,2056.27 351.87,2054.17 347.67,2053.38 C343.48,2052.6 341.12,2051.42 339.8,2051.02" fill="none" stroke="#1d1b7c" stroke-width="4.6" stroke-linecap="round"/>
<path d="M431.09,1869.25 C433.71,1871.35 441.58,1877.9 446.82,1881.84 C452.07,1885.77 456.79,1890.28 462.56,1892.85 C468.33,1895.43 475.15,1896.68 481.45,1897.26 C487.74,1897.84 494.56,1897.71 500.33,1896.32 C506.1,1894.93 512.27,1891.99 516.07,1888.92 C519.88,1885.85 521.97,1879.74 523.15,1877.9" fill="none" stroke="#1d1b7c" stroke-width="4.6" stroke-linecap="round"/>
<path d="M413.77,1858.23 C415.09,1858.36 419.02,1858.36 421.64,1859.02 C424.27,1859.67 428.2,1861.64 429.51,1862.17" fill="none" stroke="#0b0a3a" stroke-width="6" stroke-linecap="round"/>
<path d="M369.71,1892.85 C370.76,1893.12 373.9,1893.38 376,1894.43 C378.1,1895.48 381.25,1898.36 382.3,1899.15" fill="none" stroke="#0b0a3a" stroke-width="6" stroke-linecap="round"/>
<path d="M291.02,1966.82 C292.07,1966.04 295.21,1963.41 297.31,1962.1 C299.41,1960.79 302.56,1959.48 303.61,1958.95" fill="none" stroke="#0b0a3a" stroke-width="6" stroke-linecap="round"/>
<text x="116" y="2080.6" font-size="17.8" text-anchor="end" fill="#111" stroke="#111" stroke-width="0.45"><tspan fill="#4a6aad" stroke="#4a6aad">Dmel</tspan> CXC</text>
<text x="127" y="2080.6" font-size="17.8" fill="#111" stroke="#111" stroke-width="0.45">520</text>
<text x="170.7" y="2080.6" font-size="17.8" font-family="'Liberation Mono', 'Courier New', monospace" fill="#111" stroke="#111" stroke-width="0.3">PPKPK<tspan fill="#4a6aad" stroke="#4a6aad">C</tspan>R<tspan fill="#4a6aad" stroke="#4a6aad">C</tspan><tspan fill="#4a6aad" stroke="#4a6aad">G</tspan><tspan fill="#d03040" stroke="#d03040">I</tspan><tspan fill="#d03040" stroke="#d03040">S</tspan><tspan fill="#d03040" stroke="#d03040">G</tspan>SS<tspan fill="#d03040" stroke="#d03040">N</tspan><tspan fill="#d03040" stroke="#d03040">T</tspan>LT<tspan fill="#4a6aad" stroke="#4a6aad">T</tspan><tspan fill="#4a6aad" stroke="#4a6aad">C</tspan><tspan fill="#4a6aad" stroke="#4a6aad">R</tspan>NS<tspan fill="#4a6aad" stroke="#4a6aad">R</tspan><tspan fill="#4a6aad" stroke="#4a6aad">C</tspan>P<tspan fill="#4a6aad" stroke="#4a6aad">C</tspan><tspan fill="#4a6aad" stroke="#4a6aad">Y</tspan>KSYNS<tspan fill="#4a6aad" stroke="#4a6aad">C</tspan>AG<tspan fill="#4a6aad" stroke="#4a6aad">C</tspan>H<tspan fill="#4a6aad" stroke="#4a6aad">C</tspan>VC<tspan fill="#4a6aad" stroke="#4a6aad">C</tspan>K<tspan fill="#4a6aad" stroke="#4a6aad">N</tspan>PHKEDYV</text>
<text x="755.4" y="2080.6" font-size="17.8" fill="#111" stroke="#111" stroke-width="0.45">570</text>
<text x="116" y="2102.4" font-size="17.8" text-anchor="end" fill="#111" stroke="#111" stroke-width="0.45"><tspan fill="#9ccbe6" stroke="#9ccbe6">Dvir</tspan> CXC</text>
<text x="127" y="2102.4" font-size="17.8" fill="#111" stroke="#111" stroke-width="0.45">518</text>
<text x="170.7" y="2102.4" font-size="17.8" font-family="'Liberation Mono', 'Courier New', monospace" fill="#111" stroke="#111" stroke-width="0.3">RMSHI<tspan fill="#4a6aad" stroke="#4a6aad">C</tspan>R<tspan fill="#4a6aad" stroke="#4a6aad">C</tspan><tspan fill="#4a6aad" stroke="#4a6aad">G</tspan><tspan fill="#d03040" stroke="#d03040">T</tspan><tspan fill="#d03040" stroke="#d03040">T</tspan><tspan fill="#d03040" stroke="#d03040">-</tspan>SA<tspan fill="#d03040" stroke="#d03040">P</tspan><tspan fill="#d03040" stroke="#d03040">G</tspan>RA<tspan fill="#4a6aad" stroke="#4a6aad">T</tspan><tspan fill="#4a6aad" stroke="#4a6aad">C</tspan><tspan fill="#4a6aad" stroke="#4a6aad">R</tspan>NS<tspan fill="#4a6aad" stroke="#4a6aad">R</tspan><tspan fill="#4a6aad" stroke="#4a6aad">C</tspan>T<tspan fill="#4a6aad" stroke="#4a6aad">C</tspan><tspan fill="#4a6aad" stroke="#4a6aad">Y</tspan>VAGKS<tspan fill="#4a6aad" stroke="#4a6aad">C</tspan>VD<tspan fill="#4a6aad" stroke="#4a6aad">C</tspan>K<tspan fill="#4a6aad" stroke="#4a6aad">C</tspan>IG<tspan fill="#4a6aad" stroke="#4a6aad">C</tspan>K<tspan fill="#4a6aad" stroke="#4a6aad">N</tspan>PHQDAADT</text>
<text x="755.4" y="2102.4" font-size="17.8" fill="#111" stroke="#111" stroke-width="0.45">568</text>
<text x="116" y="2124.2" font-size="17.8" text-anchor="end" fill="#111" stroke="#111" stroke-width="0.45"><tspan fill="#111" stroke="#111">Mouse</tspan> CXC</text>
<text x="127" y="2124.2" font-size="17.8" fill="#111" stroke="#111" stroke-width="0.45">457</text>
<text x="170.7" y="2124.2" font-size="17.8" font-family="'Liberation Mono', 'Courier New', monospace" fill="#111" stroke="#111" stroke-width="0.3">QEKKG<tspan fill="#4a6aad" stroke="#4a6aad">C</tspan>K<tspan fill="#4a6aad" stroke="#4a6aad">C</tspan><tspan fill="#4a6aad" stroke="#4a6aad">G</tspan><tspan fill="#d03040" stroke="#d03040">R</tspan><tspan fill="#d03040" stroke="#d03040">A</tspan><tspan fill="#d03040" stroke="#d03040">T</tspan>QN<tspan fill="#d03040" stroke="#d03040">P</tspan><tspan fill="#d03040" stroke="#d03040">S</tspan>VL<tspan fill="#4a6aad" stroke="#4a6aad">T</tspan><tspan fill="#4a6aad" stroke="#4a6aad">C</tspan><tspan fill="#4a6aad" stroke="#4a6aad">R</tspan>GQ<tspan fill="#4a6aad" stroke="#4a6aad">R</tspan><tspan fill="#4a6aad" stroke="#4a6aad">C</tspan>P<tspan fill="#4a6aad" stroke="#4a6aad">C</tspan><tspan fill="#4a6aad" stroke="#4a6aad">Y</tspan>SNRKA<tspan fill="#4a6aad" stroke="#4a6aad">C</tspan>LD<tspan fill="#4a6aad" stroke="#4a6aad">C</tspan>I<tspan fill="#4a6aad" stroke="#4a6aad">C</tspan>RG<tspan fill="#4a6aad" stroke="#4a6aad">C</tspan>Q<tspan fill="#4a6aad" stroke="#4a6aad">N</tspan>SYMANGE</text>
<text x="755.4" y="2124.2" font-size="17.8" fill="#111" stroke="#111" stroke-width="0.45">508</text>
<text x="116" y="2145.2" font-size="17.8" text-anchor="end" fill="#111" stroke="#111" stroke-width="0.45"><tspan fill="#111" stroke="#111">Human</tspan> CXC</text>
<text x="127" y="2145.2" font-size="17.8" fill="#111" stroke="#111" stroke-width="0.45">457</text>
<text x="170.7" y="2145.2" font-size="17.8" font-family="'Liberation Mono', 'Courier New', monospace" fill="#111" stroke="#111" stroke-width="0.3">QEKKG<tspan fill="#4a6aad" stroke="#4a6aad">C</tspan>K<tspan fill="#4a6aad" stroke="#4a6aad">C</tspan><tspan fill="#4a6aad" stroke="#4a6aad">G</tspan><tspan fill="#d03040" stroke="#d03040">R</tspan><tspan fill="#d03040" stroke="#d03040">A</tspan><tspan fill="#d03040" stroke="#d03040">T</tspan>QN<tspan fill="#d03040" stroke="#d03040">P</tspan><tspan fill="#d03040" stroke="#d03040">S</tspan>VL<tspan fill="#4a6aad" stroke="#4a6aad">T</tspan><tspan fill="#4a6aad" stroke="#4a6aad">C</tspan><tspan fill="#4a6aad" stroke="#4a6aad">R</tspan>GQ<tspan fill="#4a6aad" stroke="#4a6aad">R</tspan><tspan fill="#4a6aad" stroke="#4a6aad">C</tspan>P<tspan fill="#4a6aad" stroke="#4a6aad">C</tspan><tspan fill="#4a6aad" stroke="#4a6aad">Y</tspan>SNRKA<tspan fill="#4a6aad" stroke="#4a6aad">C</tspan>LD<tspan fill="#4a6aad" stroke="#4a6aad">C</tspan>I<tspan fill="#4a6aad" stroke="#4a6aad">C</tspan>RG<tspan fill="#4a6aad" stroke="#4a6aad">C</tspan>Q<tspan fill="#4a6aad" stroke="#4a6aad">N</tspan>SYMANGE</text>
<text x="755.4" y="2145.2" font-size="17.8" fill="#111" stroke="#111" stroke-width="0.45">508</text>
<text x="170.7" y="2165.2" font-size="17.8" font-family="'Liberation Mono', 'Courier New', monospace" fill="#111" xml:space="preserve">  .  *:** : .     ***..**.**   ::* .* *  *:*.:     </text>
<text x="803" y="1758.6" font-size="26" font-weight="bold" fill="#111" stroke="#111" stroke-width="0.45">k</text>
<defs><linearGradient id="gelK" x1="0" y1="0" x2="0" y2="1"><stop offset="0" stop-color="#bed4ec"/><stop offset="1" stop-color="#b6cfea"/></linearGradient><linearGradient id="gelK2" x1="0" y1="0" x2="1" y2="0"><stop offset="0" stop-color="#bcd2ee"/><stop offset="0.3" stop-color="#c8dbf2"/><stop offset="1" stop-color="#cbdcf2"/></linearGradient></defs>
<rect x="892" y="1829.6" width="40.6" height="320.4" fill="url(#gelK)" />
<rect x="894" y="1913" width="37" height="3" rx="1.5" fill="#2f6fb5" opacity="0.7" filter="url(#blur05)"/>
<rect x="894" y="1946.8" width="37" height="2" rx="1" fill="#2f6fb5" opacity="0.45" filter="url(#blur05)"/>
<rect x="894" y="1989" width="37" height="2" rx="1" fill="#2f6fb5" opacity="0.25" filter="url(#blur05)"/>
<rect x="894" y="2033" width="37" height="5" rx="2.5" fill="#2f6fb5" opacity="0.8" filter="url(#blur05)"/>
<rect x="894" y="2065.9" width="37" height="6" rx="3" fill="#2f6fb5" opacity="1.0" filter="url(#blur05)"/>
<rect x="894" y="2080.3" width="37" height="5" rx="2.5" fill="#2f6fb5" opacity="0.8" filter="url(#blur05)"/>
<rect x="894" y="2092" width="37" height="6" rx="3" fill="#2f6fb5" opacity="0.3" filter="url(#blur05)"/>
<rect x="892" y="1829.6" width="40.6" height="320.4" fill="none" stroke="#3a4a5a" stroke-width="1.6"/>
<text x="840.9" y="1819.4" font-size="17.8" fill="#111" stroke="#111" stroke-width="0.45">kDa</text>
<text x="914" y="1824" font-size="21.3" fill="#111" stroke="#111" stroke-width="0.45" transform="rotate(-47 914 1824)">dCTD</text>
<line x1="879.5" y1="1839.8" x2="892" y2="1839.8" stroke="#111" stroke-width="1.6" />
<text x="872.7" y="1846.1" font-size="17.8" text-anchor="end" fill="#111" stroke="#111" stroke-width="0.45">250</text>
<line x1="879.5" y1="1865.1" x2="892" y2="1865.1" stroke="#111" stroke-width="1.6" />
<text x="872.7" y="1871.4" font-size="17.8" text-anchor="end" fill="#111" stroke="#111" stroke-width="0.45">150</text>
<line x1="879.5" y1="1893.5" x2="892" y2="1893.5" stroke="#111" stroke-width="1.6" />
<text x="872.7" y="1899.8" font-size="17.8" text-anchor="end" fill="#111" stroke="#111" stroke-width="0.45">100</text>
<line x1="879.5" y1="1929" x2="892" y2="1929" stroke="#111" stroke-width="1.6" />
<text x="872.7" y="1935.3" font-size="17.8" text-anchor="end" fill="#111" stroke="#111" stroke-width="0.45">75</text>
<line x1="879.5" y1="1990.1" x2="892" y2="1990.1" stroke="#111" stroke-width="1.6" />
<text x="872.7" y="1996.4" font-size="17.8" text-anchor="end" fill="#111" stroke="#111" stroke-width="0.45">50</text>
<line x1="879.5" y1="2033.4" x2="892" y2="2033.4" stroke="#111" stroke-width="1.6" />
<text x="872.7" y="2039.7" font-size="17.8" text-anchor="end" fill="#111" stroke="#111" stroke-width="0.45">37</text>
<line x1="879.5" y1="2088.3" x2="892" y2="2088.3" stroke="#111" stroke-width="1.6" />
<text x="872.7" y="2094.6" font-size="17.8" text-anchor="end" fill="#111" stroke="#111" stroke-width="0.45">25</text>
<line x1="879.5" y1="2108.4" x2="892" y2="2108.4" stroke="#111" stroke-width="1.6" />
<text x="872.7" y="2114.7" font-size="17.8" text-anchor="end" fill="#111" stroke="#111" stroke-width="0.45">20</text>
<rect x="1023.1" y="1831.8" width="121.3" height="315.8" fill="url(#gelK2)" />
<rect x="1025" y="1836" width="32" height="305" fill="#a9c3e6" filter="url(#blur2)" opacity="0.6"/>
<rect x="1027" y="1844.1" width="27" height="7" rx="3.5" fill="#2f64b8" opacity="0.85" filter="url(#blur1)"/>
<rect x="1027" y="1868.55" width="27" height="6.5" rx="3.25" fill="#2f64b8" opacity="0.85" filter="url(#blur1)"/>
<rect x="1027" y="1894.25" width="27" height="6.5" rx="3.25" fill="#2f64b8" opacity="0.85" filter="url(#blur1)"/>
<rect x="1027" y="1915" width="27" height="10" rx="5" fill="#2f64b8" opacity="0.85" filter="url(#blur1)"/>
<rect x="1027" y="1953.3" width="27" height="12" rx="6" fill="#2f64b8" opacity="0.85" filter="url(#blur1)"/>
<rect x="1027" y="1991.7" width="27" height="8" rx="4" fill="#2f64b8" opacity="0.85" filter="url(#blur1)"/>
<rect x="1027" y="2041.2" width="27" height="9" rx="4.5" fill="#2f64b8" opacity="0.85" filter="url(#blur1)"/>
<rect x="1027" y="2059.8" width="27" height="7" rx="3.5" fill="#2f64b8" opacity="0.85" filter="url(#blur1)"/>
<rect x="1027" y="2090" width="27" height="6" rx="3" fill="#2f64b8" opacity="0.85" filter="url(#blur1)"/>
<rect x="1027" y="2125.2" width="27" height="6" rx="3" fill="#2f64b8" opacity="0.85" filter="url(#blur1)"/>
<rect x="1069" y="1888" width="29" height="165" fill="#aac3e6" filter="url(#blur2)" opacity="0.55"/>
<rect x="1069.4" y="1892.2" width="27.8" height="2" rx="1" fill="#2f64b8" opacity="0.2" filter="url(#blur1)"/>
<rect x="1069.4" y="1903.6" width="27.8" height="2" rx="1" fill="#2f64b8" opacity="0.3" filter="url(#blur1)"/>
<rect x="1069.4" y="1924.7" width="27.8" height="3" rx="1.5" fill="#2f64b8" opacity="0.45" filter="url(#blur1)"/>
<rect x="1069.4" y="1972" width="27.8" height="2" rx="1" fill="#2f64b8" opacity="0.25" filter="url(#blur1)"/>
<rect x="1069.4" y="1953.1" width="27.8" height="3" rx="1.5" fill="#2f64b8" opacity="0.35" filter="url(#blur1)"/>
<rect x="1069.4" y="1965.5" width="27.8" height="3" rx="1.5" fill="#2f64b8" opacity="0.35" filter="url(#blur1)"/>
<rect x="1069.4" y="1988.7" width="27.8" height="6" rx="3" fill="#2f64b8" opacity="0.95" filter="url(#blur1)"/>
<rect x="1069.4" y="2008.7" width="27.8" height="3" rx="1.5" fill="#2f64b8" opacity="0.3" filter="url(#blur1)"/>
<rect x="1069.4" y="2034" width="27.8" height="8" rx="4" fill="#2f64b8" opacity="0.15" filter="url(#blur1)"/>
<rect x="1108" y="2072.5" width="33.3" height="13" rx="6.5" fill="#2f5fc0" opacity="1.0" filter="url(#blur1)"/>
<rect x="1112" y="2097.5" width="26" height="5" rx="2.5" fill="#5a86cc" opacity="0.3" filter="url(#blur2)"/>
<rect x="1023.1" y="1831.8" width="121.3" height="315.8" fill="none" stroke="#1e2a3a" stroke-width="1.8"/>
<text x="976.8" y="1820" font-size="17.8" fill="#111" stroke="#111" stroke-width="0.45">kDa</text>
<text x="1077.1" y="1819.4" font-size="21.3" text-anchor="middle" fill="#111" stroke="#111" stroke-width="0.45">1</text>
<text x="1119.7" y="1819.4" font-size="21.3" text-anchor="middle" fill="#111" stroke="#111" stroke-width="0.45">2</text>
<line x1="1011.7" y1="1849.7" x2="1023.1" y2="1849.7" stroke="#111" stroke-width="1.6" />
<text x="1007.7" y="1856" font-size="17.8" text-anchor="end" fill="#111" stroke="#111" stroke-width="0.45">250</text>
<line x1="1011.7" y1="1871.3" x2="1023.1" y2="1871.3" stroke="#111" stroke-width="1.6" />
<text x="1007.7" y="1877.6" font-size="17.8" text-anchor="end" fill="#111" stroke="#111" stroke-width="0.45">150</text>
<line x1="1011.7" y1="1895.4" x2="1023.1" y2="1895.4" stroke="#111" stroke-width="1.6" />
<text x="1007.7" y="1901.7" font-size="17.8" text-anchor="end" fill="#111" stroke="#111" stroke-width="0.45">100</text>
<line x1="1011.7" y1="1918.2" x2="1023.1" y2="1918.2" stroke="#111" stroke-width="1.6" />
<text x="1007.7" y="1924.5" font-size="17.8" text-anchor="end" fill="#111" stroke="#111" stroke-width="0.45">75</text>
<line x1="1011.7" y1="1957.7" x2="1023.1" y2="1957.7" stroke="#111" stroke-width="1.6" />
<text x="1007.7" y="1964" font-size="17.8" text-anchor="end" fill="#111" stroke="#111" stroke-width="0.45">50</text>
<line x1="1011.7" y1="1997.2" x2="1023.1" y2="1997.2" stroke="#111" stroke-width="1.6" />
<text x="1007.7" y="2003.5" font-size="17.8" text-anchor="end" fill="#111" stroke="#111" stroke-width="0.45">37</text>
<line x1="1011.7" y1="2048.2" x2="1023.1" y2="2048.2" stroke="#111" stroke-width="1.6" />
<text x="1007.7" y="2054.5" font-size="17.8" text-anchor="end" fill="#111" stroke="#111" stroke-width="0.45">25</text>
<line x1="1011.7" y1="2067.9" x2="1023.1" y2="2067.9" stroke="#111" stroke-width="1.6" />
<text x="1007.7" y="2074.2" font-size="17.8" text-anchor="end" fill="#111" stroke="#111" stroke-width="0.45">20</text>
<line x1="1011.7" y1="2093" x2="1023.1" y2="2093" stroke="#111" stroke-width="1.6" />
<text x="1007.7" y="2099.3" font-size="17.8" text-anchor="end" fill="#111" stroke="#111" stroke-width="0.45">15</text>
<line x1="1011.7" y1="2127.5" x2="1023.1" y2="2127.5" stroke="#111" stroke-width="1.6" />
<text x="1007.7" y="2133.8" font-size="17.8" text-anchor="end" fill="#111" stroke="#111" stroke-width="0.45">10</text>
<text x="1156.8" y="1996.3" font-size="17.8" fill="#111" stroke="#111" stroke-width="0.45">1=dCXC-CTD</text>
<text x="1156.8" y="2083.7" font-size="17.8" fill="#111" stroke="#111" stroke-width="0.45">2=Control (Smt3)</text>
<text x="1297" y="1757.5" font-size="26" font-weight="bold" fill="#111" stroke="#111" stroke-width="0.45">l</text>
<text x="1320.8" y="1818.1" font-size="25" fill="#111" stroke="#111" stroke-width="0.45">Biolayer Interferometry (DNA binding)</text>
<line x1="1390.4" y1="1860.6" x2="1390.4" y2="2130.1" stroke="#111" stroke-width="1.6" />
<line x1="1389.6" y1="2129.3" x2="1674.3" y2="2129.3" stroke="#111" stroke-width="1.6" />
<line x1="1384.4" y1="2094.3" x2="1390.4" y2="2094.3" stroke="#111" stroke-width="1.5" />
<text x="1372.5" y="2094.3" font-size="17.8" text-anchor="middle" fill="#111" stroke="#111" stroke-width="0.45" transform="rotate(-90 1372.5 2094.3)">0.0</text>
<line x1="1384.4" y1="2032.3" x2="1390.4" y2="2032.3" stroke="#111" stroke-width="1.5" />
<text x="1372.5" y="2032.3" font-size="17.8" text-anchor="middle" fill="#111" stroke="#111" stroke-width="0.45" transform="rotate(-90 1372.5 2032.3)">0.5</text>
<line x1="1384.4" y1="1970.3" x2="1390.4" y2="1970.3" stroke="#111" stroke-width="1.5" />
<text x="1372.5" y="1970.3" font-size="17.8" text-anchor="middle" fill="#111" stroke="#111" stroke-width="0.45" transform="rotate(-90 1372.5 1970.3)">1.0</text>
<line x1="1384.4" y1="1908.3" x2="1390.4" y2="1908.3" stroke="#111" stroke-width="1.5" />
<text x="1372.5" y="1908.3" font-size="17.8" text-anchor="middle" fill="#111" stroke="#111" stroke-width="0.45" transform="rotate(-90 1372.5 1908.3)">1.5</text>
<line x1="1395.5" y1="2129.3" x2="1395.5" y2="2136.3" stroke="#111" stroke-width="1.5" />
<text x="1395.5" y="2158.6" font-size="17.8" text-anchor="middle" fill="#111" stroke="#111" stroke-width="0.45">150</text>
<line x1="1449.26" y1="2129.3" x2="1449.26" y2="2136.3" stroke="#111" stroke-width="1.5" />
<text x="1449.26" y="2158.6" font-size="17.8" text-anchor="middle" fill="#111" stroke="#111" stroke-width="0.45">200</text>
<line x1="1503.02" y1="2129.3" x2="1503.02" y2="2136.3" stroke="#111" stroke-width="1.5" />
<text x="1503.02" y="2158.6" font-size="17.8" text-anchor="middle" fill="#111" stroke="#111" stroke-width="0.45">250</text>
<line x1="1556.78" y1="2129.3" x2="1556.78" y2="2136.3" stroke="#111" stroke-width="1.5" />
<text x="1556.78" y="2158.6" font-size="17.8" text-anchor="middle" fill="#111" stroke="#111" stroke-width="0.45">300</text>
<line x1="1610.54" y1="2129.3" x2="1610.54" y2="2136.3" stroke="#111" stroke-width="1.5" />
<text x="1610.54" y="2158.6" font-size="17.8" text-anchor="middle" fill="#111" stroke="#111" stroke-width="0.45">350</text>
<line x1="1664.3" y1="2129.3" x2="1664.3" y2="2136.3" stroke="#111" stroke-width="1.5" />
<text x="1664.3" y="2158.6" font-size="17.8" text-anchor="middle" fill="#111" stroke="#111" stroke-width="0.45">400</text>
<text x="1552" y="2183" font-size="17.8" text-anchor="middle" fill="#111" stroke="#111" stroke-width="0.45">Time (sec)</text>
<text x="1341.5" y="2019.6" font-size="17.8" text-anchor="middle" fill="#111" stroke="#111" stroke-width="0.45" transform="rotate(-90 1341.5 2019.6)">Binding (nm)</text>
<path d="M1408.9,2094.3l0.6,-29.2 0.5,-24.5 0.6,-20.7 0.5,-17.3 0.5,-14.7 0.6,-12.3 0.5,-10.4 0.5,-8.7 0.6,-7.4 0.5,-6.3 0.6,-5.3 0.5,-4.5 0.5,-3.8 0.6,-3.2 0.5,-2.8 0.5,-2.3 0.6,-2.1 0.5,-1.7 0.6,-1.5 0.5,-1.3 0.5,-1.1 0.6,-1 0.5,-0.9 0.5,-0.7 0.6,-0.7 0.5,-0.6 0.6,-0.5 0.5,-0.5 0.5,-0.5 0.6,-0.4 0.5,-0.4 0.5,-0.3 0.6,-0.4 0.5,-0.3 0.6,-0.3 0.5,-0.2 0.5,-0.3 0.6,-0.3 0.5,-0.2 0.5,-0.3 0.6,-0.2 0.5,-0.2 0.6,-0.2 0.5,-0.3 0.5,-0.2 0.6,-0.2 0.5,-0.2 0.5,-0.2 0.6,-0.2 0.5,-0.2 0.6,-0.2 0.5,-0.1 0.5,-0.2 0.6,-0.2 0.5,-0.2 0.5,-0.2 0.6,-0.2 0.5,-0.1 0.6,-0.2 0.5,-0.2 0.5,-0.2 0.6,-0.1 0.5,-0.2 0.5,-0.2 0.6,-0.1 0.5,-0.2 0.6,-0.1 0.5,-0.2 0.5,-0.2 0.6,-0.1 0.5,-0.2 0.5,-0.1 0.6,-0.2 0.5,-0.1 0.6,-0.2 2.1,-0.5 2.2,-0.6 2.1,-0.5 2.2,-0.5 2.1,-0.5 2.2,-0.5 2.1,-0.4 2.2,-0.5 2.1,-0.4 2.2,-0.4 2.1,-0.4 2.2,-0.3 2.1,-0.4 2.2,-0.3 2.1,-0.4 2.2,-0.3 2.1,-0.3 2.2,-0.3 2.1,-0.3 2.2,-0.2 2.1,-0.3 2.2,-0.2 2.1,-0.3 2.2,-0.2 2.1,-0.2 2.2,-0.2 2.1,-0.2 2.2,-0.2 2.1,-0.2 2.2,-0.2 2.1,-0.2 2.2,-0.1 2.1,-0.2 2.2,-0.1 2.1,-0.2 2.2,-0.1 2.1,-0.2 2.2,-0.1 2.1,-0.1 2.2,-0.1 0.5,30.7 2.2,0.9 2.1,0.8 2.2,0.8 2.1,0.7 2.2,0.7 2.1,0.7 2.2,0.6 2.1,0.6 2.2,0.5 2.1,0.5 2.2,0.5 2.1,0.4 2.2,0.5 2.1,0.4 2.2,0.4 2.1,0.3 2.2,0.3 2.1,0.4 2.2,0.3 2.1,0.2 2.2,0.3 2.1,0.3 2.2,0.2 2.1,0.2 2.2,0.2 2.1,0.2 2.2,0.2 2.1,0.2 2.2,0.1 2.1,0.2 2.2,0.1 2.1,0.2 2.2,0.1 2.1,0.1 2.2,0.1 2.1,0.1 2.2,0.1 2.1,0.1 2.2,0.1 2.1,0.1 2.2,0.1 2.1,0.1 2.2,0 2.1,0.1 2.2,0.1 2.1,0 2.2,0.1 2.1,0 2.2,0.1 2.1,0 2.2,0.1 2.1,0 2.2,0.1 2.1,0 2.2,0 2.1,0.1 2.2,0 2.1,0 2.2,0" fill="none" stroke="#111" stroke-width="1.7" />
<path d="M1408.9,2094.3l0.6,-24.8 0.5,-21.5 0.6,-18.5 0.5,-15.9 0.5,-13.8 0.6,-11.9 0.5,-10.2 0.5,-8.9 0.6,-7.7 0.5,-6.7 0.6,-5.7 0.5,-5 0.5,-4.4 0.6,-3.7 0.5,-3.3 0.5,-2.9 0.6,-2.5 0.5,-2.2 0.6,-1.9 0.5,-1.7 0.5,-1.4 0.6,-1.4 0.5,-1.1 0.5,-1 0.6,-1 0.5,-0.8 0.6,-0.7 0.5,-0.7 0.5,-0.6 0.6,-0.6 0.5,-0.5 0.5,-0.5 0.6,-0.4 0.5,-0.4 0.6,-0.4 0.5,-0.3 0.5,-0.4 0.6,-0.3 0.5,-0.3 0.5,-0.3 0.6,-0.2 0.5,-0.3 0.6,-0.3 0.5,-0.2 0.5,-0.3 0.6,-0.2 0.5,-0.2 0.5,-0.2 0.6,-0.3 0.5,-0.2 0.6,-0.2 0.5,-0.2 0.5,-0.2 0.6,-0.2 0.5,-0.2 0.5,-0.2 0.6,-0.2 0.5,-0.1 0.6,-0.2 0.5,-0.2 0.5,-0.2 0.6,-0.2 0.5,-0.1 0.5,-0.2 0.6,-0.2 0.5,-0.1 0.6,-0.2 0.5,-0.2 0.5,-0.1 0.6,-0.2 0.5,-0.2 0.5,-0.1 0.6,-0.2 0.5,-0.1 0.6,-0.2 2.1,-0.6 2.2,-0.6 2.1,-0.5 2.2,-0.5 2.1,-0.6 2.2,-0.4 2.1,-0.5 2.2,-0.5 2.1,-0.4 2.2,-0.4 2.1,-0.4 2.2,-0.4 2.1,-0.4 2.2,-0.3 2.1,-0.4 2.2,-0.3 2.1,-0.3 2.2,-0.3 2.1,-0.3 2.2,-0.3 2.1,-0.2 2.2,-0.3 2.1,-0.3 2.2,-0.2 2.1,-0.2 2.2,-0.2 2.1,-0.2 2.2,-0.3 2.1,-0.1 2.2,-0.2 2.1,-0.2 2.2,-0.2 2.1,-0.2 2.2,-0.1 2.1,-0.2 2.2,-0.1 2.1,-0.2 2.2,-0.1 2.1,-0.1 2.2,-0.1 0.5,28.1 2.2,1 2.1,0.9 2.2,0.8 2.1,0.8 2.2,0.8 2.1,0.7 2.2,0.6 2.1,0.7 2.2,0.5 2.1,0.6 2.2,0.5 2.1,0.5 2.2,0.5 2.1,0.4 2.2,0.4 2.1,0.4 2.2,0.4 2.1,0.3 2.2,0.3 2.1,0.3 2.2,0.3 2.1,0.3 2.2,0.2 2.1,0.3 2.2,0.2 2.1,0.2 2.2,0.2 2.1,0.2 2.2,0.2 2.1,0.2 2.2,0.1 2.1,0.2 2.2,0.1 2.1,0.1 2.2,0.2 2.1,0.1 2.2,0.1 2.1,0.1 2.2,0.1 2.1,0.1 2.2,0.1 2.1,0 2.2,0.1 2.1,0.1 2.2,0.1 2.1,0 2.2,0.1 2.1,0 2.2,0.1 2.1,0 2.2,0.1 2.1,0 2.2,0.1 2.1,0 2.2,0.1 2.1,0 2.2,0 2.1,0 2.2,0.1" fill="none" stroke="#111" stroke-width="1.7" />
<path d="M1408.9,2094.3l0.6,-9.3 0.5,-8.8 0.6,-8.3 0.5,-7.8 0.5,-7.4 0.6,-7 0.5,-6.6 0.5,-6.2 0.6,-5.9 0.5,-5.5 0.6,-5.2 0.5,-5 0.5,-4.6 0.6,-4.4 0.5,-4.2 0.5,-3.9 0.6,-3.8 0.5,-3.5 0.6,-3.3 0.5,-3.1 0.5,-3 0.6,-2.8 0.5,-2.7 0.5,-2.5 0.6,-2.4 0.5,-2.3 0.6,-2.1 0.5,-2 0.5,-2 0.6,-1.8 0.5,-1.7 0.5,-1.6 0.6,-1.6 0.5,-1.5 0.6,-1.4 0.5,-1.3 0.5,-1.3 0.6,-1.2 0.5,-1.1 0.5,-1.1 0.6,-1.1 0.5,-1 0.6,-0.9 0.5,-0.9 0.5,-0.8 0.6,-0.9 0.5,-0.7 0.5,-0.8 0.6,-0.7 0.5,-0.7 0.6,-0.6 0.5,-0.7 0.5,-0.6 0.6,-0.5 0.5,-0.6 0.5,-0.5 0.6,-0.5 0.5,-0.5 0.6,-0.5 0.5,-0.4 0.5,-0.5 0.6,-0.4 0.5,-0.4 0.5,-0.4 0.6,-0.4 0.5,-0.3 0.6,-0.4 0.5,-0.3 0.5,-0.4 0.6,-0.3 0.5,-0.3 0.5,-0.3 0.6,-0.3 0.5,-0.3 0.6,-0.2 2.1,-1.1 2.2,-0.9 2.1,-0.9 2.2,-0.8 2.1,-0.7 2.2,-0.7 2.1,-0.6 2.2,-0.6 2.1,-0.6 2.2,-0.6 2.1,-0.5 2.2,-0.5 2.1,-0.5 2.2,-0.5 2.1,-0.4 2.2,-0.5 2.1,-0.4 2.2,-0.4 2.1,-0.4 2.2,-0.4 2.1,-0.3 2.2,-0.4 2.1,-0.3 2.2,-0.4 2.1,-0.3 2.2,-0.3 2.1,-0.3 2.2,-0.3 2.1,-0.3 2.2,-0.3 2.1,-0.3 2.2,-0.2 2.1,-0.3 2.2,-0.2 2.1,-0.3 2.2,-0.2 2.1,-0.2 2.2,-0.2 2.1,-0.3 2.2,-0.2 0.5,24.4 2.2,0.7 2.1,0.7 2.2,0.7 2.1,0.6 2.2,0.6 2.1,0.5 2.2,0.5 2.1,0.5 2.2,0.4 2.1,0.5 2.2,0.4 2.1,0.4 2.2,0.3 2.1,0.3 2.2,0.4 2.1,0.3 2.2,0.2 2.1,0.3 2.2,0.3 2.1,0.2 2.2,0.2 2.1,0.2 2.2,0.2 2.1,0.2 2.2,0.2 2.1,0.1 2.2,0.2 2.1,0.1 2.2,0.2 2.1,0.1 2.2,0.1 2.1,0.1 2.2,0.1 2.1,0.1 2.2,0.1 2.1,0.1 2.2,0.1 2.1,0.1 2.2,0.1 2.1,0 2.2,0.1 2.1,0.1 2.2,0 2.1,0.1 2.2,0 2.1,0.1 2.2,0 2.1,0.1 2.2,0 2.1,0 2.2,0.1 2.1,0 2.2,0 2.1,0.1 2.2,0 2.1,0 2.2,0.1 2.1,0 2.2,0" fill="none" stroke="#7a7a7a" stroke-width="1.7" />
<path d="M1408.9,2094.3l0.6,-8.4 0.5,-7.9 0.6,-7.5 0.5,-7.2 0.5,-6.7 0.6,-6.5 0.5,-6 0.5,-5.8 0.6,-5.5 0.5,-5.2 0.6,-4.9 0.5,-4.7 0.5,-4.4 0.6,-4.2 0.5,-4 0.5,-3.8 0.6,-3.6 0.5,-3.5 0.6,-3.2 0.5,-3.1 0.5,-2.9 0.6,-2.8 0.5,-2.7 0.5,-2.5 0.6,-2.4 0.5,-2.3 0.6,-2.1 0.5,-2.1 0.5,-2 0.6,-1.8 0.5,-1.8 0.5,-1.7 0.6,-1.6 0.5,-1.5 0.6,-1.5 0.5,-1.4 0.5,-1.3 0.6,-1.3 0.5,-1.2 0.5,-1.2 0.6,-1.1 0.5,-1 0.6,-1 0.5,-1 0.5,-0.9 0.6,-0.9 0.5,-0.8 0.5,-0.8 0.6,-0.8 0.5,-0.7 0.6,-0.8 0.5,-0.6 0.5,-0.7 0.6,-0.6 0.5,-0.6 0.5,-0.6 0.6,-0.5 0.5,-0.6 0.6,-0.5 0.5,-0.5 0.5,-0.5 0.6,-0.4 0.5,-0.5 0.5,-0.4 0.6,-0.4 0.5,-0.4 0.6,-0.4 0.5,-0.3 0.5,-0.4 0.6,-0.4 0.5,-0.3 0.5,-0.3 0.6,-0.3 0.5,-0.3 0.6,-0.3 2.1,-1.1 2.2,-1 2.1,-0.9 2.2,-0.9 2.1,-0.7 2.2,-0.7 2.1,-0.7 2.2,-0.6 2.1,-0.6 2.2,-0.5 2.1,-0.5 2.2,-0.5 2.1,-0.5 2.2,-0.4 2.1,-0.5 2.2,-0.4 2.1,-0.4 2.2,-0.4 2.1,-0.4 2.2,-0.3 2.1,-0.4 2.2,-0.3 2.1,-0.3 2.2,-0.4 2.1,-0.3 2.2,-0.3 2.1,-0.2 2.2,-0.3 2.1,-0.3 2.2,-0.3 2.1,-0.2 2.2,-0.3 2.1,-0.2 2.2,-0.2 2.1,-0.3 2.2,-0.2 2.1,-0.2 2.2,-0.2 2.1,-0.2 2.2,-0.2 0.5,24.9 2.2,0.9 2.1,0.9 2.2,0.9 2.1,0.8 2.2,0.7 2.1,0.7 2.2,0.7 2.1,0.6 2.2,0.6 2.1,0.5 2.2,0.6 2.1,0.4 2.2,0.5 2.1,0.4 2.2,0.5 2.1,0.3 2.2,0.4 2.1,0.3 2.2,0.4 2.1,0.3 2.2,0.3 2.1,0.2 2.2,0.3 2.1,0.2 2.2,0.2 2.1,0.3 2.2,0.2 2.1,0.2 2.2,0.1 2.1,0.2 2.2,0.2 2.1,0.1 2.2,0.1 2.1,0.2 2.2,0.1 2.1,0.1 2.2,0.1 2.1,0.1 2.2,0.1 2.1,0.1 2.2,0.1 2.1,0.1 2.2,0.1 2.1,0 2.2,0.1 2.1,0.1 2.2,0 2.1,0.1 2.2,0 2.1,0.1 2.2,0 2.1,0.1 2.2,0 2.1,0.1 2.2,0 2.1,0 2.2,0.1 2.1,0 2.2,0" fill="none" stroke="#7a7a7a" stroke-width="1.7" />
<path d="M1400.9,2093.1l8,0" fill="none" stroke="#3a9ccc" stroke-width="1.7" />
<path d="M1408.9,2094.3l0.6,-9.9 0.5,-9.9 0.6,-10 0.5,-9.9 0.5,-9.9 0.6,1.5 0.5,1.5 0.5,1.4 0.6,1.3 0.5,1.3 0.6,1.2 0.5,1.2 0.5,1.1 0.6,1.1 0.5,1.1 0.5,1 0.6,0.9 0.5,1 0.6,0.8 0.5,0.9 0.5,0.8 0.6,0.8 0.5,0.7 0.5,0.7 0.6,0.7 0.5,0.7 0.6,0.6 0.5,0.6 0.5,0.6 0.6,0.6 0.5,0.5 0.5,0.5 0.6,0.5 0.5,0.5 0.6,0.4 0.5,0.5 0.5,0.4 0.6,0.4 0.5,0.4 0.5,0.3 0.6,0.4 0.5,0.3 0.6,0.4 0.5,0.3 0.5,0.3 0.6,0.3 0.5,0.2 0.5,0.3 0.6,0.3 0.5,0.2 0.6,0.2 0.5,0.3 0.5,0.2 0.6,0.2 0.5,0.2 0.5,0.2 0.6,0.1 0.5,0.2 0.6,0.2 0.5,0.1 0.5,0.2 0.6,0.1 0.5,0.2 0.5,0.1 0.6,0.1 0.5,0 0.6,0 0.5,0 0.5,-0.1 0.6,0 0.5,-0.1 0.5,0 0.6,-0.1 0.5,0 0.6,-0.1 2.1,-0.2 2.2,-0.4 2.1,-0.3 2.2,-0.4 2.1,-0.5 2.2,-0.4 2.1,-0.5 2.2,-0.5 2.1,-0.5 2.2,-0.5 2.1,-0.5 2.2,-0.5 2.1,-0.6 2.2,-0.5 2.1,-0.6 2.2,-0.5 2.1,-0.6 2.2,-0.6 2.1,-0.5 2.2,-0.6 2.1,-0.6 2.2,-0.5 2.1,-0.6 2.2,-0.6 2.1,-0.6 2.2,-0.6 2.1,-0.5 2.2,-0.6 2.1,-0.6 2.2,-0.6 2.1,-0.6 2.2,-0.5 2.1,-0.6 2.2,-0.6 2.1,-0.6 2.2,-0.6 2.1,-0.6 2.2,-0.5 2.1,-0.6 2.2,-0.6 0.5,22.6 2.2,1.1 2.1,1 2.2,1 2.1,0.9 2.2,0.9 2.1,0.8 2.2,0.8 2.1,0.7 2.2,0.7 2.1,0.6 2.2,0.6 2.1,0.6 2.2,0.5 2.1,0.5 2.2,0.5 2.1,0.4 2.2,0.4 2.1,0.4 2.2,0.4 2.1,0.4 2.2,0.3 2.1,0.3 2.2,0.3 2.1,0.3 2.2,0.2 2.1,0.3 2.2,0.2 2.1,0.2 2.2,0.2 2.1,0.2 2.2,0.2 2.1,0.2 2.2,0.1 2.1,0.2 2.2,0.1 2.1,0.2 2.2,0.1 2.1,0.1 2.2,0.1 2.1,0.1 2.2,0.1 2.1,0.1 2.2,0.1 2.1,0.1 2.2,0.1 2.1,0.1 2.2,0 2.1,0.1 2.2,0 2.1,0.1 2.2,0.1 2.1,0 2.2,0.1 2.1,0 2.2,0 2.1,0.1 2.2,0 2.1,0.1 2.2,0" fill="none" stroke="#2a5e9e" stroke-width="1.7" />
<path d="M1408.9,2094.3l0.6,-9.4 0.5,-9.4 0.6,-9.5 0.5,-9.4 0.5,-9.4 0.6,1.2 0.5,1.3 0.5,1.1 0.6,1.2 0.5,1.1 0.6,1 0.5,1 0.5,1 0.6,1 0.5,0.9 0.5,0.9 0.6,0.8 0.5,0.8 0.6,0.8 0.5,0.8 0.5,0.7 0.6,0.7 0.5,0.7 0.5,0.7 0.6,0.6 0.5,0.7 0.6,0.5 0.5,0.6 0.5,0.6 0.6,0.5 0.5,0.5 0.5,0.5 0.6,0.5 0.5,0.5 0.6,0.4 0.5,0.5 0.5,0.4 0.6,0.4 0.5,0.4 0.5,0.3 0.6,0.4 0.5,0.3 0.6,0.4 0.5,0.3 0.5,0.3 0.6,0.3 0.5,0.3 0.5,0.3 0.6,0.3 0.5,0.2 0.6,0.3 0.5,0.2 0.5,0.3 0.6,0.2 0.5,0.2 0.5,0.2 0.6,0.2 0.5,0.2 0.6,0.2 0.5,0.2 0.5,0.2 0.6,0.1 0.5,0.2 0.5,0.2 0.6,0.1 0.5,0.2 0.6,0.1 0.5,0.1 0.5,0.2 0.6,0.1 0.5,0.1 0.5,0.2 0.6,0.1 0.5,0.1 0.6,0.1 2.1,-0.1 2.2,-0.1 2.1,-0.2 2.2,-0.2 2.1,-0.2 2.2,-0.3 2.1,-0.3 2.2,-0.3 2.1,-0.4 2.2,-0.3 2.1,-0.4 2.2,-0.4 2.1,-0.4 2.2,-0.4 2.1,-0.4 2.2,-0.4 2.1,-0.4 2.2,-0.5 2.1,-0.4 2.2,-0.4 2.1,-0.5 2.2,-0.4 2.1,-0.5 2.2,-0.4 2.1,-0.5 2.2,-0.4 2.1,-0.5 2.2,-0.4 2.1,-0.5 2.2,-0.5 2.1,-0.4 2.2,-0.5 2.1,-0.4 2.2,-0.5 2.1,-0.5 2.2,-0.4 2.1,-0.5 2.2,-0.4 2.1,-0.5 2.2,-0.5 0.5,17.7 2.2,1.4 2.1,1.2 2.2,1.2 2.1,1.1 2.2,1 2.1,1 2.2,0.9 2.1,0.9 2.2,0.8 2.1,0.7 2.2,0.8 2.1,0.6 2.2,0.7 2.1,0.6 2.2,0.6 2.1,0.5 2.2,0.5 2.1,0.5 2.2,0.4 2.1,0.4 2.2,0.4 2.1,0.4 2.2,0.4 2.1,0.3 2.2,0.3 2.1,0.3 2.2,0.3 2.1,0.2 2.2,0.3 2.1,0.2 2.2,0.2 2.1,0.2 2.2,0.2 2.1,0.2 2.2,0.2 2.1,0.1 2.2,0.2 2.1,0.1 2.2,0.2 2.1,0.1 2.2,0.1 2.1,0.1 2.2,0.1 2.1,0.1 2.2,0.1 2.1,0.1 2.2,0.1 2.1,0.1 2.2,0.1 2.1,0 2.2,0.1 2.1,0 2.2,0.1 2.1,0.1 2.2,0 2.1,0.1 2.2,0 2.1,0.1 2.2,0" fill="none" stroke="#2a5e9e" stroke-width="1.7" />
<path d="M1408.9,2094.3l0.6,-4.2 0.5,-4.2 0.6,-4.2 0.5,-4.2 0.5,-4.2 0.6,-4.2 0.5,-4.2 0.5,-4.2 0.6,-4.2 0.5,-4.2 0.6,-4.2 0.5,-4.2 0.5,-4.2 0.6,0.7 0.5,0.7 0.5,0.7 0.6,0.6 0.5,0.6 0.6,0.7 0.5,0.6 0.5,0.5 0.6,0.6 0.5,0.5 0.5,0.6 0.6,0.5 0.5,0.5 0.6,0.5 0.5,0.5 0.5,0.4 0.6,0.5 0.5,0.4 0.5,0.4 0.6,0.5 0.5,0.4 0.6,0.4 0.5,0.3 0.5,0.4 0.6,0.4 0.5,0.3 0.5,0.4 0.6,0.3 0.5,0.3 0.6,0.4 0.5,0.3 0.5,0.3 0.6,0.3 0.5,0.2 0.5,0.3 0.6,0.3 0.5,0.3 0.6,0.2 0.5,0.3 0.5,0.2 0.6,0.2 0.5,0.3 0.5,0.2 0.6,0.2 0.5,0.2 0.6,0.2 0.5,0.2 0.5,0.2 0.6,0.2 0.5,0.2 0.5,0.2 0.6,0.1 0.5,0.2 0.6,0.2 0.5,0.1 0.5,0.2 0.6,0.1 0.5,0.2 0.5,0.1 0.6,0.2 0.5,0.1 0.6,0.1 2.1,0.5 2.2,0.5 2.1,0.4 2.2,0.4 2.1,0.3 2.2,0.3 2.1,0.2 2.2,0.2 2.1,0.1 2.2,0.2 2.1,0.1 2.2,0 2.1,0.1 2.2,0 2.1,0.1 2.2,0 2.1,0 2.2,0 2.1,0 2.2,0 2.1,0 2.2,-0.1 2.1,0 2.2,0 2.1,-0.1 2.2,0 2.1,-0.1 2.2,0 2.1,-0.1 2.2,0 2.1,-0.1 2.2,0 2.1,-0.1 2.2,-0.1 2.1,0 2.2,-0.1 2.1,-0.1 2.2,0 2.1,-0.1 2.2,-0.1 0.5,19.1 2.2,1.4 2.1,1.3 2.2,1.2 2.1,1.2 2.2,1 2.1,1.1 2.2,0.9 2.1,1 2.2,0.8 2.1,0.8 2.2,0.8 2.1,0.7 2.2,0.7 2.1,0.6 2.2,0.6 2.1,0.6 2.2,0.5 2.1,0.5 2.2,0.5 2.1,0.4 2.2,0.5 2.1,0.3 2.2,0.4 2.1,0.4 2.2,0.3 2.1,0.3 2.2,0.3 2.1,0.3 2.2,0.2 2.1,0.3 2.2,0.2 2.1,0.2 2.2,0.2 2.1,0.2 2.2,0.2 2.1,0.2 2.2,0.1 2.1,0.2 2.2,0.1 2.1,0.2 2.2,0.1 2.1,0.1 2.2,0.1 2.1,0.1 2.2,0.1 2.1,0.1 2.2,0.1 2.1,0.1 2.2,0.1 2.1,0 2.2,0.1 2.1,0.1 2.2,0 2.1,0.1 2.2,0 2.1,0.1 2.2,0 2.1,0.1 2.2,0" fill="none" stroke="#3a9ccc" stroke-width="1.7" />
<path d="M1408.9,2094.3l0.6,-8.9 0.5,-9 0.6,-8.9 0.5,-8.9 0.5,-8.9 0.6,0.9 0.5,1 0.5,0.9 0.6,0.9 0.5,0.8 0.6,0.9 0.5,0.8 0.5,0.8 0.6,0.8 0.5,0.7 0.5,0.8 0.6,0.7 0.5,0.7 0.6,0.6 0.5,0.7 0.5,0.6 0.6,0.7 0.5,0.6 0.5,0.6 0.6,0.5 0.5,0.6 0.6,0.5 0.5,0.5 0.5,0.6 0.6,0.5 0.5,0.4 0.5,0.5 0.6,0.5 0.5,0.4 0.6,0.4 0.5,0.5 0.5,0.4 0.6,0.4 0.5,0.4 0.5,0.3 0.6,0.4 0.5,0.4 0.6,0.3 0.5,0.3 0.5,0.4 0.6,0.3 0.5,0.3 0.5,0.3 0.6,0.3 0.5,0.3 0.6,0.3 0.5,0.2 0.5,0.3 0.6,0.2 0.5,0.3 0.5,0.2 0.6,0.3 0.5,0.2 0.6,0.2 0.5,0.2 0.5,0.2 0.6,0.2 0.5,0.2 0.5,0.2 0.6,0.2 0.5,0.2 0.6,0.2 0.5,0.2 0.5,0.1 0.6,0.2 0.5,0.1 0.5,0.2 0.6,0.2 0.5,0.1 0.6,0.1 2.1,0.6 2.2,0.5 2.1,0.4 2.2,0.4 2.1,0.3 2.2,0.3 2.1,0.2 2.2,0.2 2.1,0.2 2.2,0.2 2.1,0.1 2.2,0.1 2.1,0.1 2.2,0.1 2.1,0.1 2.2,0.1 2.1,0 2.2,0.1 2.1,0 2.2,0 2.1,0 2.2,0.1 2.1,0 2.2,0 2.1,0 2.2,0 2.1,0 2.2,0 2.1,-0.1 2.2,0 2.1,0 2.2,0 2.1,0 2.2,0 2.1,-0.1 2.2,0 2.1,0 2.2,0 2.1,-0.1 2.2,0 0.5,19 2.2,1.1 2.1,1.1 2.2,1 2.1,0.9 2.2,0.9 2.1,0.8 2.2,0.8 2.1,0.8 2.2,0.7 2.1,0.6 2.2,0.7 2.1,0.5 2.2,0.6 2.1,0.5 2.2,0.5 2.1,0.5 2.2,0.4 2.1,0.4 2.2,0.4 2.1,0.4 2.2,0.3 2.1,0.3 2.2,0.3 2.1,0.3 2.2,0.3 2.1,0.2 2.2,0.3 2.1,0.2 2.2,0.2 2.1,0.2 2.2,0.2 2.1,0.2 2.2,0.1 2.1,0.2 2.2,0.1 2.1,0.2 2.2,0.1 2.1,0.1 2.2,0.1 2.1,0.2 2.2,0.1 2.1,0.1 2.2,0 2.1,0.1 2.2,0.1 2.1,0.1 2.2,0.1 2.1,0 2.2,0.1 2.1,0.1 2.2,0 2.1,0.1 2.2,0 2.1,0.1 2.2,0 2.1,0 2.2,0.1 2.1,0 2.2,0.1" fill="none" stroke="#3a9ccc" stroke-width="1.7" />
<line x1="1648.2" y1="1981.6" x2="1661.6" y2="1981.6" stroke="#111" stroke-width="1.6" />
<text x="1668.3" y="1987.6" font-size="17.8" fill="#111" stroke="#111" stroke-width="0.45">dCXC-CTD (20 µM)</text>
<line x1="1648.2" y1="2003.6" x2="1661.6" y2="2003.6" stroke="#6a6a6a" stroke-width="1.6" />
<text x="1668.3" y="2009.6" font-size="17.8" fill="#6a6a6a" stroke="#6a6a6a" stroke-width="0.45">dCXC-CTD (10 µM)</text>
<line x1="1648.2" y1="2026.2" x2="1661.6" y2="2026.2" stroke="#2a5e9e" stroke-width="1.6" />
<text x="1668.3" y="2032.2" font-size="17.8" fill="#2a5e9e" stroke="#2a5e9e" stroke-width="0.45">dCTD (40 µM)</text>
<line x1="1648.2" y1="2048.6" x2="1661.6" y2="2048.6" stroke="#3a9ccc" stroke-width="1.6" />
<text x="1668.3" y="2054.6" font-size="17.8" fill="#3a9ccc" stroke="#3a9ccc" stroke-width="0.45">dCTD (20 µM)</text>
<text x="2" y="2233" font-size="26" font-weight="bold" fill="#111" stroke="#111" stroke-width="0.45">m</text>
<text x="68.2" y="2251.9" font-size="25" fill="#111" stroke="#111" stroke-width="0.45">Ion Exchange (Q) - dCXC-CTD</text>
<text x="286.8" y="2274.7" font-size="17.8" fill="#111" stroke="#111" stroke-width="0.45">0.075-1M NaCl</text>
<line x1="93.3" y1="2265.3" x2="93.3" y2="2462.5" stroke="#111" stroke-width="1.6" />
<line x1="89" y1="2462.7" x2="93.3" y2="2462.7" stroke="#111" stroke-width="1.4" />
<text x="90.5" y="2469" font-size="17.8" text-anchor="end" fill="#111" stroke="#111" stroke-width="0.45">-20</text>
<line x1="89" y1="2441.8" x2="93.3" y2="2441.8" stroke="#111" stroke-width="1.4" />
<text x="90.5" y="2448.1" font-size="17.8" text-anchor="end" fill="#111" stroke="#111" stroke-width="0.45">0</text>
<line x1="89" y1="2420.9" x2="93.3" y2="2420.9" stroke="#111" stroke-width="1.4" />
<text x="90.5" y="2427.2" font-size="17.8" text-anchor="end" fill="#111" stroke="#111" stroke-width="0.45">20</text>
<line x1="89" y1="2400" x2="93.3" y2="2400" stroke="#111" stroke-width="1.4" />
<text x="90.5" y="2406.3" font-size="17.8" text-anchor="end" fill="#111" stroke="#111" stroke-width="0.45">40</text>
<line x1="89" y1="2379.1" x2="93.3" y2="2379.1" stroke="#111" stroke-width="1.4" />
<text x="90.5" y="2385.4" font-size="17.8" text-anchor="end" fill="#111" stroke="#111" stroke-width="0.45">60</text>
<line x1="89" y1="2358.2" x2="93.3" y2="2358.2" stroke="#111" stroke-width="1.4" />
<text x="90.5" y="2364.5" font-size="17.8" text-anchor="end" fill="#111" stroke="#111" stroke-width="0.45">80</text>
<line x1="89" y1="2337.3" x2="93.3" y2="2337.3" stroke="#111" stroke-width="1.4" />
<text x="90.5" y="2343.6" font-size="17.8" text-anchor="end" fill="#111" stroke="#111" stroke-width="0.45">100</text>
<line x1="89" y1="2316.4" x2="93.3" y2="2316.4" stroke="#111" stroke-width="1.4" />
<text x="90.5" y="2322.7" font-size="17.8" text-anchor="end" fill="#111" stroke="#111" stroke-width="0.45">120</text>
<line x1="89" y1="2295.5" x2="93.3" y2="2295.5" stroke="#111" stroke-width="1.4" />
<text x="90.5" y="2301.8" font-size="17.8" text-anchor="end" fill="#111" stroke="#111" stroke-width="0.45">140</text>
<line x1="89" y1="2274.6" x2="93.3" y2="2274.6" stroke="#111" stroke-width="1.4" />
<text x="90.5" y="2280.9" font-size="17.8" text-anchor="end" fill="#111" stroke="#111" stroke-width="0.45">160</text>
<line x1="92.5" y1="2441.8" x2="401" y2="2441.8" stroke="#111" stroke-width="1.6" />
<line x1="93.3" y1="2441.8" x2="93.3" y2="2446.8" stroke="#111" stroke-width="1.3" />
<line x1="105.64" y1="2441.8" x2="105.64" y2="2445.3" stroke="#111" stroke-width="1.3" />
<line x1="117.97" y1="2441.8" x2="117.97" y2="2445.3" stroke="#111" stroke-width="1.3" />
<line x1="130.31" y1="2441.8" x2="130.31" y2="2445.3" stroke="#111" stroke-width="1.3" />
<line x1="142.64" y1="2441.8" x2="142.64" y2="2445.3" stroke="#111" stroke-width="1.3" />
<line x1="154.98" y1="2441.8" x2="154.98" y2="2446.8" stroke="#111" stroke-width="1.3" />
<line x1="167.32" y1="2441.8" x2="167.32" y2="2445.3" stroke="#111" stroke-width="1.3" />
<line x1="179.65" y1="2441.8" x2="179.65" y2="2445.3" stroke="#111" stroke-width="1.3" />
<line x1="191.99" y1="2441.8" x2="191.99" y2="2445.3" stroke="#111" stroke-width="1.3" />
<line x1="204.32" y1="2441.8" x2="204.32" y2="2445.3" stroke="#111" stroke-width="1.3" />
<line x1="216.66" y1="2441.8" x2="216.66" y2="2446.8" stroke="#111" stroke-width="1.3" />
<line x1="229" y1="2441.8" x2="229" y2="2445.3" stroke="#111" stroke-width="1.3" />
<line x1="241.33" y1="2441.8" x2="241.33" y2="2445.3" stroke="#111" stroke-width="1.3" />
<line x1="253.67" y1="2441.8" x2="253.67" y2="2445.3" stroke="#111" stroke-width="1.3" />
<line x1="266" y1="2441.8" x2="266" y2="2445.3" stroke="#111" stroke-width="1.3" />
<line x1="278.34" y1="2441.8" x2="278.34" y2="2446.8" stroke="#111" stroke-width="1.3" />
<line x1="290.68" y1="2441.8" x2="290.68" y2="2445.3" stroke="#111" stroke-width="1.3" />
<line x1="303.01" y1="2441.8" x2="303.01" y2="2445.3" stroke="#111" stroke-width="1.3" />
<line x1="315.35" y1="2441.8" x2="315.35" y2="2445.3" stroke="#111" stroke-width="1.3" />
<line x1="327.68" y1="2441.8" x2="327.68" y2="2445.3" stroke="#111" stroke-width="1.3" />
<line x1="340.02" y1="2441.8" x2="340.02" y2="2446.8" stroke="#111" stroke-width="1.3" />
<line x1="352.36" y1="2441.8" x2="352.36" y2="2445.3" stroke="#111" stroke-width="1.3" />
<line x1="364.69" y1="2441.8" x2="364.69" y2="2445.3" stroke="#111" stroke-width="1.3" />
<line x1="377.03" y1="2441.8" x2="377.03" y2="2445.3" stroke="#111" stroke-width="1.3" />
<line x1="389.36" y1="2441.8" x2="389.36" y2="2445.3" stroke="#111" stroke-width="1.3" />
<line x1="401.7" y1="2441.8" x2="401.7" y2="2446.8" stroke="#111" stroke-width="1.3" />
<text x="154.98" y="2462.1" font-size="17.8" text-anchor="middle" fill="#111" stroke="#111" stroke-width="0.45">30</text>
<text x="216.66" y="2462.1" font-size="17.8" text-anchor="middle" fill="#111" stroke="#111" stroke-width="0.45">40</text>
<text x="278.34" y="2462.1" font-size="17.8" text-anchor="middle" fill="#111" stroke="#111" stroke-width="0.45">50</text>
<text x="340.02" y="2462.1" font-size="17.8" text-anchor="middle" fill="#111" stroke="#111" stroke-width="0.45">60</text>
<text x="401.7" y="2462.1" font-size="17.8" text-anchor="middle" fill="#111" stroke="#111" stroke-width="0.45">70</text>
<text x="159.3" y="2478.9" font-size="17.8" fill="#111" stroke="#111" stroke-width="0.45">elution volume (mL)</text>
<text x="55.5" y="2349.3" font-size="17.8" text-anchor="middle" fill="#111" stroke="#111" stroke-width="0.45" transform="rotate(-90 55.5 2349.3)">A (280 nm)</text>
<text x="144" y="2288.7" font-size="17.8" fill="#111" stroke="#111" stroke-width="0.45">Protein</text>
<text x="290.4" y="2344.3" font-size="17.8" fill="#111" stroke="#111" stroke-width="0.45">Nucleic Acids</text>
<path d="M93.3,2435.5l0.6,0 0.6,0.1 0.7,0 0.6,0 0.6,0 0.6,0 0.6,0.1 0.6,0 0.7,0 0.6,0 0.6,0.1 0.6,0 0.6,0 0.6,0.1 0.7,0 0.6,0 0.6,0.1 0.6,0 0.6,0 0.6,0.1 0.7,0 0.6,0 0.6,0.1 0.6,0 0.6,0 0.6,0.1 0.7,0 0.6,0 0.6,0.1 0.6,0 0.6,0 0.6,0.1 0.7,0 0.6,0.1 0.6,0 0.6,0 0.6,0.1 0.6,0 0.7,0 0.6,0.1 0.6,0 0.6,0 0.6,0.1 0.6,0 0.7,0 0.6,0.1 0.6,0 0.6,0 0.6,0.1 0.6,0 0.7,0 0.6,0.1 0.6,0 0.6,0 0.6,0 0.6,0.1 0.7,0 0.6,0 0.6,0.1 0.6,0 0.6,0 0.6,0.1 0.7,0 0.6,0 0.6,0 0.6,0.1 0.6,0 0.6,0 0.7,0.1 0.6,0 0.6,0 0.6,0 0.6,0.1 0.6,0 0.7,0 0.6,0.1 0.6,0 0.6,0 0.6,0 0.6,0.1 0.7,0 0.6,0 0.6,0 0.6,0.1 0.6,0 0.6,0 0.7,0 0.6,0.1 0.6,0 0.6,0 0.6,0 0.6,0.1 0.7,0 0.6,0 0.6,0 0.6,0.1 0.6,0 0.6,0 0.7,0 0.6,0.1 0.6,0 0.7,0 0.6,0.1 0.7,0 0.6,0 0.6,0.1 0.7,0 0.6,0.1 0.7,0 0.6,0.1 0.7,0 0.6,0 0.7,0.1 0.6,0 0.7,0 0.6,0 0.6,0 0.7,-0.1 0.6,0 0.7,-0.1 0.6,0 0.7,-0.1 0.6,-0.1 0.6,-0.2 0.6,-0.2 0.6,-0.4 0.7,-0.5 0.6,-0.8 0.6,-1 0.6,-1.2 0.6,-1.5 0.6,-1.7 0.7,-1.8 0.6,-2 0.6,-2.1 0.6,-2.2 0.7,-2.7 0.7,-3.1 0.7,-3.1 0.7,-3.3 0.7,-3.1 0.7,-3 0.7,-2.6 0.7,-2 0.6,-1.7 0.6,-1.6 0.6,-1.4 0.6,-1.5 0.6,-1.5 0.7,-1.6 0.6,-1.8 0.6,-2.2 0.6,-2.5 0.7,-3.5 0.7,-4.2 0.7,-4.7 0.7,-5 0.7,-4.9 0.7,-4.7 0.7,-4.3 0.7,-3.5 0.6,-3.3 0.6,-3.2 0.6,-3 0.6,-2.9 0.6,-2.6 0.7,-2.4 0.6,-2.2 0.6,-1.8 0.6,-1.7 0.6,-1.6 0.6,-1.5 0.7,-1.5 0.6,-1.6 0.6,-1.8 0.6,-1.9 0.6,-2.2 0.6,-2.5 0.7,-2.7 0.6,-3 0.6,-3 0.6,-3.2 0.6,-3.1 0.6,-3.2 0.7,-3 0.6,-2.9 0.6,-2.7 0.7,-2.9 0.7,-3.1 0.7,-2.9 0.7,-2.7 0.7,-2.3 0.7,-1.7 0.7,-1.1 0.6,-0.2 0.7,0.3 0.6,0.8 0.6,1.3 0.6,1.7 0.6,2.1 0.6,2.4 0.7,3.2 0.8,3.6 0.7,4.1 0.7,4.4 0.7,4.6 0.7,4.7 0.7,4.7 0.6,4.2 0.6,4.5 0.6,4.6 0.6,4.7 0.7,4.7 0.6,4.4 0.6,4.2 0.6,4 0.6,3.9 0.6,4 0.7,3.8 0.6,3.8 0.6,3.7 0.6,3.5 0.6,3.5 0.6,3.3 0.7,3.1 0.6,2.9 0.6,2.9 0.6,2.7 0.6,2.5 0.6,2.5 0.7,2.3 0.6,2.2 0.6,2.1 0.6,2 0.6,1.9 0.6,1.8 0.7,1.6 0.6,1.5 0.6,1.4 0.6,1.3 0.6,1.2 0.6,1 0.7,1 0.6,0.9 0.6,0.9 0.6,0.7 0.6,0.6 0.7,0.6 0.6,0.4 0.6,0.4 0.6,0.3 0.6,0.1 0.6,0.1 0.7,0 0.6,-0.1 0.6,-0.2 0.6,-0.2 0.6,-0.3 0.6,-0.3 0.7,-0.5 0.6,-0.6 0.6,-0.8 0.6,-0.9 0.6,-1.1 0.6,-1.4 0.7,-1.6 0.6,-1.7 0.6,-2 0.6,-2.1 0.6,-2.3 0.6,-2.4 0.7,-2.6 0.6,-2.7 0.6,-2.7 0.6,-2.9 0.6,-3 0.6,-3.3 0.7,-3.5 0.6,-3.7 0.6,-3.7 0.6,-3.7 0.6,-3.7 0.6,-3.5 0.7,-3.3 0.6,-3.1 0.6,-2.8 0.6,-2.7 0.6,-2.6 0.6,-2.5 0.7,-2.4 0.6,-2.2 0.6,-2.1 0.6,-2 0.6,-1.9 0.6,-1.7 0.7,-1.4 0.6,-0.8 0.6,-0.4 0.6,0.1 0.6,0.4 0.6,0.5 0.7,0.7 0.6,0.8 0.6,1.1 0.6,1.4 0.6,1.7 0.6,2.1 0.7,3.1 0.8,3.6 0.7,3.9 0.7,4.2 0.7,4.3 0.7,4.2 0.7,3.9 0.6,3.3 0.6,3.3 0.6,3.3 0.6,3.2 0.7,3.3 0.6,3.2 0.6,3.1 0.6,3 0.6,2.9 0.6,2.7 0.7,2.7 0.6,2.5 0.6,2.4 0.6,2.3 0.6,2.3 0.6,2.1 0.7,2.1 0.6,1.9 0.6,1.9 0.6,1.8 0.6,1.6 0.6,1.6 0.7,1.4 0.6,1.4 0.6,1.2 0.6,1.2 0.6,1.1 0.6,1 0.7,1 0.6,1 0.6,0.9 0.6,0.9 0.6,0.8 0.6,0.7 0.7,0.6 0.6,0.7 0.6,0.6 0.6,0.5 0.6,0.6 0.6,0.5 0.7,0.5 0.6,0.5 0.6,0.5 0.6,0.4 0.6,0.4 0.6,0.4 0.7,0.4 0.6,0.4 0.6,0.3 0.6,0.4 0.6,0.4 0.6,0.3 0.7,0.3 0.6,0.4 0.6,0.3 0.6,0.3 0.6,0.3 0.7,0.3 0.6,0.3 0.6,0.2 0.6,0.3 0.6,0.3 0.6,0.2 0.7,0.3 0.6,0.2 0.6,0.2 0.6,0.3 0.6,0.2 0.6,0.2 0.7,0.2 0.6,0.2 0.6,0.3 0.6,0.2 0.6,0.2 0.6,0.2 0.7,0.1 0.6,0.2 0.6,0.2 0.6,0.2 0.6,0.1 0.6,0.2 0.7,0.1 0.6,0.1 0.6,0.2 0.6,0.1 0.6,0.2 0.6,0.1 0.7,0.1 0.6,0.1 0.6,0.2 0.6,0.1 0.6,0.1 0.6,0.1 0.7,0.2 0.6,0.1 0.6,0.1 0.6,0.1 0.6,0.1 0.6,0.1 0.7,0.1 0.6,0.1 0.6,0.1 0.6,0.1 0.6,0.1 0.6,0.1 0.7,0.1 0.6,0.1 0.6,0.1 0.6,0.1 0.6,0.1 0.6,0.1 0.7,0.1 0.6,0.1 0.6,0.1 0.6,0.1 0.6,0.1 0.6,0.1 0.7,0 0.6,0.1 0.6,0.1 0.6,0.1 0.6,0.1 0.6,0.1 0.7,0.1 0.6,0 0.6,0.1 0.6,0.1 0.6,0.1 0.6,0.1 0.7,0 0.6,0.1 0.6,0.1 0.6,0.1 0.6,0 0.6,0.1 0.7,0.1 0.6,0.1 0.6,0 0.6,0.1 0.6,0.1 0.6,0 0.7,0.1 0.6,0.1 0.6,0 0.6,0.1 0.6,0.1 0.6,0 0.7,0.1 0.6,0.1 0.6,0 0.6,0.1 0.6,0 0.6,0.1 0.7,0.1 0.6,0 0.6,0.1 0.6,0 0.6,0.1 0.6,0.1 0.7,0 0.6,0.1 0.6,0.1 0.6,0 0.6,0.1 0.6,0 0.7,0.1 0.6,0.1 0.6,0 0.6,0.1 0.6,0 0.6,0.1 0.7,0 0.6,0.1 0.6,0 0.6,0.1 0.6,0 0.6,0.1 0.7,0 0.6,0 0.6,0.1" fill="none" stroke="#111" stroke-width="1.7" stroke-linejoin="round"/>
<text x="466" y="2233.2" font-size="26" font-weight="bold" fill="#111" stroke="#111" stroke-width="0.45">n</text>
<text x="635.4" y="2252.5" font-size="25" fill="#111" stroke="#111" stroke-width="0.45">Gelfiltration (S200)</text>
<line x1="546.5" y1="2253.9" x2="546.5" y2="2434.4" stroke="#111" stroke-width="1.6" />
<line x1="542" y1="2257.6" x2="546.5" y2="2257.6" stroke="#111" stroke-width="1.4" />
<text x="538.2" y="2263.9" font-size="17.8" text-anchor="end" fill="#111" stroke="#111" stroke-width="0.45">20</text>
<line x1="542" y1="2302" x2="546.5" y2="2302" stroke="#111" stroke-width="1.4" />
<text x="538.2" y="2308.3" font-size="17.8" text-anchor="end" fill="#111" stroke="#111" stroke-width="0.45">10</text>
<line x1="542" y1="2346.4" x2="546.5" y2="2346.4" stroke="#111" stroke-width="1.4" />
<text x="538.2" y="2352.7" font-size="17.8" text-anchor="end" fill="#111" stroke="#111" stroke-width="0.45">0</text>
<line x1="542" y1="2390.8" x2="546.5" y2="2390.8" stroke="#111" stroke-width="1.4" />
<text x="538.2" y="2397.1" font-size="17.8" text-anchor="end" fill="#111" stroke="#111" stroke-width="0.45">-10</text>
<line x1="545.7" y1="2433.6" x2="925.4" y2="2433.6" stroke="#111" stroke-width="1.6" />
<line x1="546.5" y1="2433.6" x2="546.5" y2="2439.5" stroke="#111" stroke-width="1.4" />
<line x1="569.79" y1="2433.6" x2="569.79" y2="2439.5" stroke="#111" stroke-width="1.4" />
<line x1="593.09" y1="2433.6" x2="593.09" y2="2439.5" stroke="#111" stroke-width="1.4" />
<line x1="616.38" y1="2433.6" x2="616.38" y2="2439.5" stroke="#111" stroke-width="1.4" />
<line x1="639.68" y1="2433.6" x2="639.68" y2="2439.5" stroke="#111" stroke-width="1.4" />
<line x1="662.98" y1="2433.6" x2="662.98" y2="2439.5" stroke="#111" stroke-width="1.4" />
<line x1="686.27" y1="2433.6" x2="686.27" y2="2439.5" stroke="#111" stroke-width="1.4" />
<line x1="709.57" y1="2433.6" x2="709.57" y2="2439.5" stroke="#111" stroke-width="1.4" />
<line x1="732.86" y1="2433.6" x2="732.86" y2="2439.5" stroke="#111" stroke-width="1.4" />
<line x1="756.15" y1="2433.6" x2="756.15" y2="2439.5" stroke="#111" stroke-width="1.4" />
<line x1="779.45" y1="2433.6" x2="779.45" y2="2439.5" stroke="#111" stroke-width="1.4" />
<line x1="802.75" y1="2433.6" x2="802.75" y2="2439.5" stroke="#111" stroke-width="1.4" />
<line x1="826.04" y1="2433.6" x2="826.04" y2="2439.5" stroke="#111" stroke-width="1.4" />
<line x1="849.34" y1="2433.6" x2="849.34" y2="2439.5" stroke="#111" stroke-width="1.4" />
<line x1="872.63" y1="2433.6" x2="872.63" y2="2439.5" stroke="#111" stroke-width="1.4" />
<line x1="895.92" y1="2433.6" x2="895.92" y2="2439.5" stroke="#111" stroke-width="1.4" />
<line x1="919.22" y1="2433.6" x2="919.22" y2="2439.5" stroke="#111" stroke-width="1.4" />
<text x="593.09" y="2458" font-size="17.8" text-anchor="middle" fill="#111" stroke="#111" stroke-width="0.45">6</text>
<text x="639.68" y="2458" font-size="17.8" text-anchor="middle" fill="#111" stroke="#111" stroke-width="0.45">9</text>
<text x="686.27" y="2458" font-size="17.8" text-anchor="middle" fill="#111" stroke="#111" stroke-width="0.45">12</text>
<text x="732.86" y="2458" font-size="17.8" text-anchor="middle" fill="#111" stroke="#111" stroke-width="0.45">15</text>
<text x="779.45" y="2458" font-size="17.8" text-anchor="middle" fill="#111" stroke="#111" stroke-width="0.45">18</text>
<text x="826.04" y="2458" font-size="17.8" text-anchor="middle" fill="#111" stroke="#111" stroke-width="0.45">21</text>
<text x="872.63" y="2458" font-size="17.8" text-anchor="middle" fill="#111" stroke="#111" stroke-width="0.45">24</text>
<text x="919.22" y="2458" font-size="17.8" text-anchor="middle" fill="#111" stroke="#111" stroke-width="0.45">27</text>
<text x="668" y="2477.9" font-size="17.8" fill="#111" stroke="#111" stroke-width="0.45">elution volume (mL)</text>
<text x="511" y="2332.3" font-size="17.8" text-anchor="middle" fill="#111" stroke="#111" stroke-width="0.45" transform="rotate(-90 511 2332.3)">A (280 nm)</text>
<line x1="699.7" y1="2271.5" x2="722.3" y2="2271.5" stroke="#111" stroke-width="1.5" />
<line x1="699.7" y1="2266.5" x2="699.7" y2="2276.5" stroke="#111" stroke-width="1.5" />
<line x1="722.3" y1="2266.5" x2="722.3" y2="2276.5" stroke="#111" stroke-width="1.5" />
<line x1="749.6" y1="2271.5" x2="772.2" y2="2271.5" stroke="#111" stroke-width="1.5" />
<line x1="749.6" y1="2266.5" x2="749.6" y2="2276.5" stroke="#111" stroke-width="1.5" />
<line x1="772.2" y1="2266.5" x2="772.2" y2="2276.5" stroke="#111" stroke-width="1.5" />
<line x1="820.5" y1="2294.8" x2="847.1" y2="2294.8" stroke="#111" stroke-width="1.5" />
<line x1="820.5" y1="2289.8" x2="820.5" y2="2299.8" stroke="#111" stroke-width="1.5" />
<line x1="847.1" y1="2289.8" x2="847.1" y2="2299.8" stroke="#111" stroke-width="1.5" />
<text x="856.8" y="2299.8" font-size="17.8" fill="#111" stroke="#111" stroke-width="0.45">pooled fractions</text>
<line x1="820.5" y1="2320.5" x2="847.1" y2="2320.5" stroke="#4a70b8" stroke-width="3.2" />
<text x="856.8" y="2325.4" font-size="17.8" fill="#111" stroke="#111" stroke-width="0.45">dCXC-CTD</text>
<line x1="820.5" y1="2343.8" x2="847.1" y2="2343.8" stroke="#111" stroke-width="3.2" />
<text x="856.8" y="2348.7" font-size="17.8" fill="#111" stroke="#111" stroke-width="0.45">mCXC-CTD</text>
<path d="M546.5,2408.6l0.8,0 0.8,0 0.7,0.1 0.8,0 0.8,0.1 0.8,0 0.7,0.1 0.8,0.1 0.8,0 0.8,0.1 0.7,0.1 0.8,0 0.8,0.1 0.8,0.1 0.7,0.1 0.8,0 0.8,0.1 0.8,0.1 0.8,0.1 0.7,0.1 0.8,0.1 0.8,0 0.8,0.1 0.7,0.1 0.8,0.1 0.8,0.1 0.8,0 0.7,0.1 0.8,0.1 0.8,0.1 0.8,0 0.7,0.1 0.8,0.1 0.8,0 0.8,0.1 0.8,0 0.7,0.1 0.8,0 0.8,0.1 0.8,0 0.7,0.1 0.8,0 0.8,0.1 0.8,0 0.7,0.1 0.8,0.1 0.8,0.1 0.8,0.1 0.7,0 0.8,0.1 0.8,0.1 0.8,0.1 0.8,0 0.7,0.1 0.8,0 0.8,0.1 0.8,0 0.7,0 0.8,0 0.8,0 0.8,0 0.7,0 0.8,-0.1 0.8,0 0.8,-0.1 0.7,-0.2 0.8,-0.1 0.8,-0.2 0.8,-0.2 0.8,-0.2 0.7,-0.4 0.8,-0.6 0.8,-0.9 0.8,-1.1 0.7,-1.1 0.8,-1.2 0.8,-1.2 0.8,-1.1 0.7,-0.9 0.8,-0.8 0.8,-0.6 0.8,-0.5 0.7,-0.5 0.8,-0.3 0.8,-0.3 0.8,-0.1 0.8,0 0.7,0.1 0.8,0.2 0.8,0.5 0.8,0.5 0.7,0.6 0.8,0.7 0.8,0.6 0.8,0.7 0.7,0.6 0.8,0.5 0.8,0.4 0.8,0.3 0.9,0.4 0.8,0.2 0.9,0.3 0.8,0.2 0.9,0.1 0.8,0.2 0.9,0.1 0.8,0 0.9,0 0.8,0 0.8,-0.1 0.8,-0.1 0.7,-0.1 0.8,-0.2 0.8,-0.1 0.8,-0.2 0.8,-0.2 0.7,-0.3 0.8,-0.2 0.8,-0.2 0.8,-0.2 0.7,-0.3 0.8,-0.2 0.8,-0.2 0.8,-0.2 0.7,-0.2 0.8,-0.2 0.8,-0.1 0.8,-0.2 0.7,-0.1 0.8,-0.1 0.8,0 0.8,-0.1 0.8,0 0.7,-0.1 0.8,0 0.8,-0.1 0.8,0 0.7,0 0.8,0 0.8,0 0.8,0 0.7,0 0.8,-0.1 0.8,0 0.8,0 0.7,0 0.8,0 0.8,0 0.8,0 0.8,0 0.7,0 0.8,0 0.8,-0.1 0.8,0 0.7,0 0.8,-0.1 0.8,0 0.8,-0.1 0.7,-0.1 0.8,0 0.8,-0.1 0.8,-0.1 0.7,-0.1 0.8,-0.1 0.8,-0.1 0.8,-0.1 0.8,-0.1 0.7,-0.2 0.8,-0.1 0.8,-0.2 0.8,-0.3 0.7,-0.2 0.8,-0.3 0.8,-0.3 0.8,-0.3 0.7,-0.4 0.8,-0.6 0.8,-0.6 0.8,-0.7 0.7,-0.8 0.8,-0.8 0.8,-0.7 0.8,-0.8 0.8,-0.7 0.7,-0.6 0.9,-0.5 0.8,-0.4 0.9,-0.3 0.8,-0.3 0.9,-0.2 0.8,-0.3 0.9,-0.4 0.8,-0.6 0.9,-0.6 0.8,-1 0.8,-1.2 0.8,-1.3 0.8,-1.6 0.8,-1.9 0.8,-2.1 0.7,-2.5 0.8,-2.7 0.8,-3.1 0.8,-3.4 0.9,-4.9 0.9,-6 1,-6.6 0.9,-6.8 0.9,-6.8 0.8,-6.1 0.8,-6.9 0.7,-6.7 0.8,-5.6 0.8,-3.5 0.8,-1.3 0.8,0.4 0.7,1.8 0.8,2.6 0.8,3.1 0.8,3.6 0.7,4.1 0.8,4.4 0.8,4.8 0.8,4.8 0.7,4.8 0.8,4.7 0.8,4.3 0.8,4.3 0.7,4.2 0.8,4.3 0.8,4.2 0.8,4 0.8,3.7 0.7,3.4 0.8,3 0.8,2.6 0.8,2.3 0.7,2 0.8,1.7 0.8,1.5 0.8,1.2 0.7,1.1 0.8,0.9 0.9,0.9 0.8,0.8 0.8,0.6 0.9,0.6 0.8,0.5 0.8,0.4 0.9,0.4 0.8,0.3 0.8,0.3 0.9,0.2 0.8,0.3 0.9,0.2 0.8,0.3 0.8,0.3 0.7,0.2 0.8,0.3 0.8,0.2 0.8,0.2 0.7,0.2 0.8,0.2 0.8,0.2 0.8,0.2 0.8,0.1 0.7,0.2 0.8,0.1 0.8,0.1 0.8,0.2 0.7,0.1 0.8,0.1 0.8,0 0.8,0.1 0.7,0.1 0.8,0 0.9,0.1 0.8,0 0.8,0.1 0.9,0 0.8,0 0.8,0 0.9,-0.1 0.8,-0.1 0.8,-0.2 0.9,-0.2 0.8,-0.4 0.9,-0.4 0.8,-0.6 0.8,-0.5 0.7,-0.6 0.8,-0.7 0.8,-0.7 0.8,-0.9 0.7,-1.1 0.8,-1.3 0.8,-1.6 0.8,-1.9 0.8,-2.2 0.7,-2.9 0.8,-3.7 0.8,-4.5 0.8,-4.9 0.7,-5.3 0.8,-5.3 0.8,-6.3 0.8,-7.3 0.7,-7.7 0.8,-7.1 0.8,-5.8 0.8,-3.6 0.8,-1.2 0.7,0.6 0.8,2 0.8,2.9 0.8,3.4 0.7,3.4 0.9,4.3 0.9,4.9 0.9,5.4 0.9,5.6 0.9,5.5 0.9,5.2 0.8,4.6 0.9,4.3 0.9,4 0.9,3.9 0.9,3.6 0.9,3.3 0.9,2.9 0.9,2.5 0.7,1.7 0.8,1.4 0.8,1 0.8,0.8 0.7,0.6 0.8,0.5 0.8,0.3 0.8,0.3 0.7,0.2 0.8,0 0.8,-0.2 0.8,-0.5 0.8,-0.7 0.7,-1 1.2,-4.3 1.2,-3.2 1.1,4.7 1.2,5 0.8,0.4 0.7,0 0.8,-0.3 0.8,-0.5 0.8,-0.7 0.7,-0.6 0.8,-0.6 0.8,-0.3 0.9,-0.4 0.9,-0.5 0.9,-0.4 0.8,-0.4 0.9,-0.1 0.9,0.2 0.9,0.7 0.8,1.1 0.8,1.7 0.7,2.2 0.8,2.4 0.8,2.5 0.8,2.5 0.7,2.9 0.8,3.6 0.8,3.5 0.8,2.8 0.8,1.4 0.7,0.1 0.8,-0.7 0.8,-1.3 0.8,-1.6 0.7,-1.6 0.8,-1.4 0.8,-1 0.9,-0.8 0.9,-0.7 0.9,-0.5 0.8,-0.5 0.9,-0.3 0.9,-0.2 0.9,-0.1 0.8,-0.1 0.8,0 0.7,-0.1 0.8,0 0.8,0 0.8,0 0.7,0 0.8,0 0.8,0 0.8,0 0.7,0 0.8,0 0.8,0 0.8,0.1 0.7,0 0.8,0 0.8,0.1 0.8,0 0.8,0 0.7,0.1 0.8,0 0.8,0 0.8,0.1 0.7,0 0.8,0.1 0.8,0 0.8,0.1 0.7,0 0.8,0.1 0.8,0 0.8,0 0.7,0.1 0.8,0 0.8,0.1 0.8,0 0.8,0 0.7,0.1 0.8,0 0.8,0 0.8,0 0.7,0.1 0.8,0 0.8,0 0.8,0 0.7,0 0.8,0.1 0.8,0 0.8,0 0.7,0 0.8,0 0.8,0.1 0.8,0 0.8,0 0.7,0 0.8,0 0.8,0.1 0.8,0 0.7,0 0.8,0 0.8,0.1 0.8,0 0.7,0 0.8,0 0.8,0 0.8,0.1 0.7,0 0.8,0 0.8,0 0.8,0 0.8,0 0.7,0.1 0.8,0 0.8,0 0.8,0 0.7,0 0.8,0 0.8,0.1 0.8,0 0.7,0 0.8,0 0.8,0 0.8,0 0.7,0.1 0.8,0 0.8,0 0.8,0 0.8,0 0.7,0 0.8,0 0.8,0" fill="none" stroke="#4a70b8" stroke-width="2.6" stroke-linejoin="round"/>
<path d="M546.5,2408.6l0.8,0 0.8,0 0.7,0 0.8,0 0.8,0.1 0.8,0 0.7,0 0.8,0 0.8,0.1 0.8,0 0.7,0 0.8,0.1 0.8,0 0.8,0 0.7,0.1 0.8,0 0.8,0 0.8,0.1 0.8,0 0.7,0 0.8,0.1 0.8,0 0.8,0 0.7,0.1 0.8,0 0.8,0.1 0.8,0 0.7,0 0.8,0.1 0.8,0 0.8,0.1 0.7,0 0.8,0.1 0.8,0 0.8,0 0.8,0.1 0.7,0 0.8,0.1 0.8,0 0.8,0.1 0.7,0 0.8,0 0.8,0.1 0.8,0 0.7,0.1 0.8,0 0.8,0.1 0.8,0 0.7,0 0.8,0.1 0.8,0 0.8,0.1 0.8,0 0.7,0 0.8,0.1 0.8,0 0.8,0.1 0.7,0 0.8,0 0.8,0.1 0.8,0 0.7,0.1 0.8,0 0.8,0 0.8,0.1 0.7,0 0.8,0.1 0.8,0 0.8,0 0.8,0.1 0.7,0 0.8,0.1 0.8,0 0.8,0 0.7,0.1 0.8,0 0.8,0.1 0.8,0 0.7,0.1 0.8,0 0.8,0 0.8,0.1 0.7,0 0.8,0.1 0.8,0 0.8,0.1 0.8,0 0.7,0 0.8,0.1 0.8,0 0.8,0.1 0.7,0 0.8,0.1 0.8,0 0.8,0 0.7,0.1 0.8,0 0.8,0 0.8,0.1 0.8,0 0.7,0.1 0.8,0 0.8,0 0.8,0.1 0.7,0 0.8,0 0.8,0.1 0.8,0 0.7,0 0.8,0.1 0.8,0 0.8,0 0.7,0 0.8,0.1 0.8,0 0.8,0 0.8,0 0.7,0.1 0.8,0 0.8,0 0.8,0 0.7,0 0.8,0.1 0.8,0 0.8,0 0.7,0 0.8,0 0.8,0 0.8,0 0.7,0.1 0.8,0 0.8,0 0.8,0 0.8,0 0.7,0 0.8,0 0.8,0 0.8,0 0.7,0 0.8,0.1 0.8,0 0.8,0 0.7,0 0.8,0 0.8,0 0.8,0 0.7,0 0.8,0 0.8,0 0.8,0 0.8,0 0.7,0 0.8,0 0.8,0 0.8,0 0.7,0 0.8,0 0.8,0 0.8,0 0.7,0 0.8,0 0.8,-0.1 0.8,0 0.7,0 0.8,0 0.8,0 0.8,0 0.8,0 0.7,0 0.8,0 0.8,-0.1 0.8,0 0.7,0 0.8,0 0.8,0 0.8,0 0.7,0 0.8,-0.1 0.8,0 0.8,0 0.7,0 0.8,0 0.8,-0.1 0.8,0 0.8,0 0.7,-0.1 0.8,0 0.8,0 0.8,-0.1 0.7,0 0.8,-0.1 0.8,0 0.8,-0.1 0.7,0 0.8,-0.1 0.8,0 0.8,-0.1 0.7,0 0.8,-0.1 0.8,-0.1 0.8,-0.1 0.8,0 0.7,-0.1 0.8,-0.1 0.8,-0.1 0.8,-0.1 0.7,-0.1 0.8,-0.1 0.8,-0.1 0.8,-0.1 0.7,-0.1 0.8,-0.1 0.8,-0.1 0.8,-0.2 0.7,-0.1 0.8,-0.2 0.8,-0.1 0.8,-0.2 0.8,-0.2 0.7,-0.2 0.8,-0.2 0.8,-0.1 0.8,-0.2 0.7,-0.2 0.8,-0.2 0.8,-0.3 0.8,-0.2 0.7,-0.2 0.8,-0.2 0.8,-0.2 0.8,-0.2 0.7,-0.3 0.8,-0.2 0.8,-0.2 0.8,-0.2 0.8,-0.2 0.7,-0.3 0.8,-0.2 0.8,-0.3 0.8,-0.2 0.7,-0.3 0.8,-0.3 0.8,-0.4 0.8,-0.3 0.7,-0.4 0.8,-0.5 0.9,-0.4 0.8,-0.5 0.9,-0.5 0.8,-0.5 0.9,-0.5 0.8,-0.6 0.8,-0.7 0.9,-0.9 0.8,-0.9 0.9,-1.2 0.8,-1.3 0.8,-1.3 0.8,-1.6 0.8,-1.8 0.7,-2 0.8,-2.3 0.8,-2.6 0.8,-2.9 0.7,-3.2 0.8,-4 0.8,-4.8 0.8,-5.5 0.8,-6 0.7,-6.4 1.1,-11.2 1,-12.5 1,-7.3 0.8,-0.5 0.8,2 0.8,3.5 0.7,4.3 0.8,4 0.8,3.9 0.8,4.5 0.7,4.8 0.8,4.7 0.8,4.6 0.8,4.1 0.9,4.4 0.9,4.3 0.8,4.2 0.9,4 0.9,3.7 0.9,3.3 0.9,2.8 0.8,2.1 0.7,1.9 0.8,1.6 0.8,1.6 0.8,1.3 0.7,1.2 0.8,1 0.8,1 0.8,0.8 0.8,0.8 0.7,0.7 0.8,0.5 0.8,0.6 0.8,0.4 0.7,0.4 0.8,0.4 0.8,0.3 0.8,0.2 0.7,0.3 0.8,0.2 0.8,0.2 0.8,0.2 0.8,0.2 0.7,0.2 0.8,0.2 0.8,0.3 0.8,0.3 0.7,0.3 0.8,0.3 0.8,0.3 0.8,0.3 0.7,0.3 0.8,0.3 0.8,0.2 0.8,0.3 0.7,0.2 0.8,0.2 0.8,0.2 0.8,0.2 0.8,0.1 0.7,0 0.8,0.1 0.8,-0.3 0.8,-0.7 0.7,-0.8 0.8,-0.9 0.8,-0.6 0.8,-0.3 0.9,0.4 0.9,0.9 1,1.1 0.9,0.9 0.9,0.3 0.8,-0.5 0.8,-1 0.8,-1.3 0.7,-1.2 0.8,-0.9 0.8,-0.5 0.8,0.2 0.7,0.5 0.8,0.8 0.8,0.9 0.8,0.9 0.7,0.7 0.8,0.4 0.8,0.1 0.9,-0.6 0.9,-0.9 0.9,-1.3 0.8,-1.4 0.9,-1.5 0.9,-1.3 0.9,-1 0.8,-0.9 0.8,-1 0.7,-0.8 0.8,-0.5 0.8,0 0.8,1 0.7,2.2 0.8,3.5 0.8,4.2 0.8,4.2 0.7,3.6 0.8,3.3 0.8,3.5 0.8,3.1 0.8,2.3 0.7,1.1 0.8,-0.2 0.8,-1.2 0.8,-1.9 0.7,-2.1 0.8,-2 0.8,-1.4 0.9,-1.3 0.9,-1.3 0.9,-1.2 0.8,-1.1 0.9,-0.8 0.9,-0.7 0.9,-0.3 0.8,-0.1 0.8,-0.2 0.7,-0.1 0.8,0 0.8,-0.1 0.8,-0.1 0.7,-0.1 0.8,0 0.8,-0.1 0.8,0 0.7,0 0.8,0 0.8,0 0.8,0 0.7,0 0.8,0 0.8,0 0.8,0 0.8,0.1 0.7,0 0.8,0 0.8,0.1 0.8,0 0.7,0.1 0.8,0 0.8,0.1 0.8,0 0.7,0.1 0.8,0 0.8,0 0.8,0.1 0.7,0 0.8,0.1 0.8,0 0.8,0 0.8,0.1 0.7,0 0.8,0 0.8,0 0.8,0 0.7,0 0.8,0 0.8,0 0.8,0 0.7,0 0.8,0 0.8,0 0.8,0 0.7,0 0.8,0 0.8,0 0.8,0 0.8,0 0.7,0 0.8,0 0.8,0 0.8,0 0.7,0 0.8,0 0.8,0 0.8,0 0.7,0 0.8,0 0.8,0 0.8,0 0.7,0 0.8,0 0.8,0 0.8,0 0.8,0 0.7,0 0.8,0 0.8,0 0.8,0 0.7,0 0.8,0 0.8,0 0.8,0 0.7,0 0.8,0 0.8,0 0.8,0 0.7,0 0.8,0 0.8,0 0.8,0 0.8,0 0.7,0 0.8,0 0.8,0" fill="none" stroke="#111" stroke-width="2.6" stroke-linejoin="round"/>
<text x="1004" y="2233.4" font-size="26" font-weight="bold" fill="#111" stroke="#111" stroke-width="0.45">o</text>
<line x1="1078.5" y1="2265.4" x2="1078.5" y2="2434.1" stroke="#111" stroke-width="1.7" />
<line x1="1072.5" y1="2433.3" x2="1078.5" y2="2433.3" stroke="#111" stroke-width="1.6" />
<text x="1068" y="2439.7" font-size="17.8" text-anchor="end" fill="#111" stroke="#111" stroke-width="0.45">0</text>
<line x1="1072.5" y1="2399.8" x2="1078.5" y2="2399.8" stroke="#111" stroke-width="1.6" />
<text x="1068" y="2406.2" font-size="17.8" text-anchor="end" fill="#111" stroke="#111" stroke-width="0.45">5</text>
<line x1="1072.5" y1="2366.3" x2="1078.5" y2="2366.3" stroke="#111" stroke-width="1.6" />
<text x="1068" y="2372.7" font-size="17.8" text-anchor="end" fill="#111" stroke="#111" stroke-width="0.45">10</text>
<line x1="1072.5" y1="2332.8" x2="1078.5" y2="2332.8" stroke="#111" stroke-width="1.6" />
<text x="1068" y="2339.2" font-size="17.8" text-anchor="end" fill="#111" stroke="#111" stroke-width="0.45">15</text>
<line x1="1072.5" y1="2299.3" x2="1078.5" y2="2299.3" stroke="#111" stroke-width="1.6" />
<text x="1068" y="2305.7" font-size="17.8" text-anchor="end" fill="#111" stroke="#111" stroke-width="0.45">20</text>
<line x1="1072.5" y1="2265.8" x2="1078.5" y2="2265.8" stroke="#111" stroke-width="1.6" />
<text x="1068" y="2272.2" font-size="17.8" text-anchor="end" fill="#111" stroke="#111" stroke-width="0.45">25</text>
<line x1="1086" y1="2439.8" x2="1298.4" y2="2439.8" stroke="#111" stroke-width="1.7" />
<line x1="1086.8" y1="2439.8" x2="1086.8" y2="2445.8" stroke="#111" stroke-width="1.6" />
<text x="1086.8" y="2460.6" font-size="17.8" text-anchor="middle" fill="#111" stroke="#111" stroke-width="0.45">0</text>
<line x1="1129.3" y1="2439.8" x2="1129.3" y2="2445.8" stroke="#111" stroke-width="1.6" />
<text x="1129.3" y="2460.6" font-size="17.8" text-anchor="middle" fill="#111" stroke="#111" stroke-width="0.45">50</text>
<line x1="1171.8" y1="2439.8" x2="1171.8" y2="2445.8" stroke="#111" stroke-width="1.6" />
<text x="1171.8" y="2460.6" font-size="17.8" text-anchor="middle" fill="#111" stroke="#111" stroke-width="0.45">100</text>
<line x1="1214.3" y1="2439.8" x2="1214.3" y2="2445.8" stroke="#111" stroke-width="1.6" />
<text x="1214.3" y="2460.6" font-size="17.8" text-anchor="middle" fill="#111" stroke="#111" stroke-width="0.45">150</text>
<line x1="1256.8" y1="2439.8" x2="1256.8" y2="2445.8" stroke="#111" stroke-width="1.6" />
<text x="1256.8" y="2460.6" font-size="17.8" text-anchor="middle" fill="#111" stroke="#111" stroke-width="0.45">200</text>
<text x="1190.6" y="2478.8" font-size="17.8" text-anchor="middle" fill="#111" stroke="#111" stroke-width="0.45">Time (sec)</text>
<text x="1041.5" y="2352" font-size="17.8" text-anchor="middle" fill="#111" stroke="#111" stroke-width="0.45" transform="rotate(-90 1041.5 2352)">Binding (nm)</text>
<line x1="1188.8" y1="2258.9" x2="1188.8" y2="2439.8" stroke="#555" stroke-width="1.1" stroke-dasharray="2.5,2"/>
<text x="1130" y="2243.3" font-size="25" fill="#111" stroke="#111" stroke-width="0.45">GST-dCXC</text>
<line x1="1259.4" y1="2257.6" x2="1278.9" y2="2257.6" stroke="#bbbbbb" stroke-width="2.2" />
<defs><linearGradient id="lgo1259" x1="0" x2="1"><stop offset="0" stop-color="#3d5aa8"/><stop offset="1" stop-color="#d3303a"/></linearGradient></defs>
<rect x="1259.4" y="2273.3" width="19.5" height="2.4" fill="url(#lgo1259)" />
<text x="1285.9" y="2261.6" font-size="17.8" fill="#111" stroke="#111" stroke-width="0.45">observed</text>
<text x="1285.9" y="2279" font-size="17.8" fill="#111" stroke="#111" stroke-width="0.45">fitted</text>
<path d="M1299.2,2299.2 L1321.9,2299.2 L1299.2,2420.3 Z" fill="#bdbdbd" stroke="none" stroke-width="0" />
<text x="1297.9" y="2295.3" font-size="17.8" fill="#111" stroke="#111" stroke-width="0.45">40 µM</text>
<text x="1297.9" y="2434.6" font-size="17.8" fill="#111" stroke="#111" stroke-width="0.45">0.33 µM</text>
<path d="M1086.8,2433.3l0.4,-13.2 0.4,-12.1 0.5,-11 0.4,-10 0.4,-9.1 0.5,-8.3 0.4,-7.6 0.4,-6.9 0.4,-6.3 0.4,-5.8 0.5,-5.2 0.4,-4.8 0.9,-8.4 0.8,-7 0.8,-5.9 0.9,-4.9 0.8,-4.2 0.9,-3.4 0.8,-3 0.9,-2.5 0.9,-2.1 0.8,-1.8 0.8,-1.5 0.9,-1.4 0.9,-1.1 0.8,-1 1.7,-1.7 1.7,-1.3 1.7,-1 1.7,-0.9 1.7,-0.7 1.7,-0.6 1.7,-0.6 1.7,-0.4 1.7,-0.5 1.7,-0.4 1.7,-0.4 1.7,-0.3 1.7,-0.3 1.7,-0.3 1.7,-0.3 3.4,-0.5 3.4,-0.5 3.4,-0.4 3.4,-0.3 3.4,-0.3 3.4,-0.3 3.4,-0.3 3.4,-0.2 3.4,-0.2 3.4,-0.1 3.4,-0.2 3.4,-0.1 3.4,-0.1 3.4,-0.2 3.4,0 3.4,-0.1 3.4,-0.1 1.7,0 0.8,0.3 0.9,0.4 0.9,0.4 0.8,0.3 0.8,0.4 0.9,0.3 0.9,0.4 0.8,0.3 0.8,0.3 0.9,0.3 3.4,1.2 3.4,1.2 3.4,1 3.4,0.9 3.4,0.9 3.4,0.8 3.4,0.8 3.4,0.6 3.4,0.7 3.4,0.6 3.4,0.5 3.4,0.5 3.4,0.5 3.4,0.4 3.4,0.4 3.4,0.4 3.4,0.3 3.4,0.3 3.4,0.3 3.4,0.3 3.4,0.2 3.4,0.2 3.4,0.2 3.4,0.2 3.4,0.2 3.4,0.2 3.4,0.1" fill="none" stroke="#c8c8c8" stroke-width="2.2" />
<path d="M1086.8,2433.3l0.4,-13.1 0.4,-12 0.5,-10.9 0.4,-9.9 0.4,-9 0.5,-8.3 0.4,-7.5 0.4,-6.9 0.4,-6.2 0.4,-5.7 0.5,-5.3 0.4,-4.7 0.9,-8.3 0.8,-7 0.8,-5.8 0.9,-4.9 0.8,-4.1 0.9,-3.4 0.8,-2.9 0.9,-2.5 0.9,-2.1 0.8,-1.8 0.8,-1.5 0.9,-1.4 0.9,-1.1 0.8,-1 1.7,-1.6 1.7,-1.3 1.7,-1 1.7,-0.9 1.7,-0.7 1.7,-0.6 1.7,-0.6 1.7,-0.5 1.7,-0.4 1.7,-0.4 1.7,-0.4 1.7,-0.3 1.7,-0.3 1.7,-0.3 1.7,-0.3 3.4,-0.5 3.4,-0.5 3.4,-0.4 3.4,-0.3 3.4,-0.3 3.4,-0.3 3.4,-0.2 3.4,-0.2 3.4,-0.2 3.4,-0.2 3.4,-0.2 3.4,-0.1 3.4,-0.1 3.4,-0.1 3.4,-0.1 3.4,-0.1 3.4,-0.1 1.7,0 0.8,0.4 0.9,0.4 0.9,0.3 0.8,0.4 0.8,0.3 0.9,0.4 0.9,0.3 0.8,0.3 0.8,0.4 0.9,0.3 3.4,1.2 3.4,1.1 3.4,1 3.4,1 3.4,0.8 3.4,0.9 3.4,0.7 3.4,0.7 3.4,0.6 3.4,0.6 3.4,0.6 3.4,0.5 3.4,0.4 3.4,0.4 3.4,0.4 3.4,0.4 3.4,0.3 3.4,0.3 3.4,0.3 3.4,0.3 3.4,0.2 3.4,0.3 3.4,0.2 3.4,0.2 3.4,0.1 3.4,0.2 3.4,0.1" fill="none" stroke="#d3303a" stroke-width="1.3" />
<path d="M1086.8,2433.3l0.4,-8.7 0.4,-8 0.5,-7.5 0.4,-6.9 0.4,-6.4 0.5,-6 0.4,-5.6 0.4,-5.2 0.4,-4.8 0.4,-4.5 0.5,-4.1 0.4,-3.9 0.9,-7 0.8,-6 0.8,-5.2 0.9,-4.5 0.8,-4 0.9,-3.4 0.8,-3 0.9,-2.6 0.9,-2.2 0.8,-2 0.8,-1.7 0.9,-1.6 0.9,-1.3 0.8,-1.2 1.7,-2 1.7,-1.5 1.7,-1.3 1.7,-1 1.7,-0.9 1.7,-0.7 1.7,-0.6 1.7,-0.5 1.7,-0.5 1.7,-0.4 1.7,-0.4 1.7,-0.4 1.7,-0.3 1.7,-0.3 1.7,-0.3 3.4,-0.5 3.4,-0.5 3.4,-0.4 3.4,-0.4 3.4,-0.4 3.4,-0.3 3.4,-0.3 3.4,-0.3 3.4,-0.3 3.4,-0.2 3.4,-0.2 3.4,-0.2 3.4,-0.2 3.4,-0.2 3.4,-0.2 3.4,-0.1 3.4,-0.2 1.7,0 0.8,0.7 0.9,0.7 0.9,0.6 0.8,0.7 0.8,0.6 0.9,0.6 0.9,0.5 0.8,0.6 0.8,0.5 0.9,0.5 3.4,1.8 3.4,1.5 3.4,1.3 3.4,1.2 3.4,0.9 3.4,0.8 3.4,0.7 3.4,0.6 3.4,0.5 3.4,0.4 3.4,0.4 3.4,0.3 3.4,0.3 3.4,0.2 3.4,0.2 3.4,0.2 3.4,0.1 3.4,0.1 3.4,0.1 3.4,0.1 3.4,0.1 3.4,0 3.4,0.1 3.4,0 3.4,0.1 3.4,0 3.4,0" fill="none" stroke="#c8c8c8" stroke-width="2.2" />
<path d="M1086.8,2433.3l0.4,-8.4 0.4,-7.8 0.5,-7.2 0.4,-6.8 0.4,-6.2 0.5,-5.8 0.4,-5.4 0.4,-5.1 0.4,-4.6 0.4,-4.4 0.5,-4 0.4,-3.8 0.9,-6.7 0.8,-5.8 0.8,-5.1 0.9,-4.4 0.8,-3.8 0.9,-3.3 0.8,-2.9 0.9,-2.5 0.9,-2.2 0.8,-1.9 0.8,-1.7 0.9,-1.5 0.9,-1.3 0.8,-1.2 1.7,-1.9 1.7,-1.5 1.7,-1.2 1.7,-1 1.7,-0.8 1.7,-0.7 1.7,-0.6 1.7,-0.5 1.7,-0.5 1.7,-0.4 1.7,-0.4 1.7,-0.3 1.7,-0.3 1.7,-0.3 1.7,-0.3 3.4,-0.5 3.4,-0.5 3.4,-0.4 3.4,-0.4 3.4,-0.3 3.4,-0.4 3.4,-0.3 3.4,-0.2 3.4,-0.3 3.4,-0.2 3.4,-0.3 3.4,-0.2 3.4,-0.1 3.4,-0.2 3.4,-0.2 3.4,-0.1 3.4,-0.1 1.7,-0.1 0.8,0.6 0.9,0.6 0.9,0.5 0.8,0.6 0.8,0.5 0.9,0.5 0.9,0.5 0.8,0.4 0.8,0.5 0.9,0.4 3.4,1.6 3.4,1.3 3.4,1.1 3.4,0.9 3.4,0.8 3.4,0.7 3.4,0.6 3.4,0.5 3.4,0.5 3.4,0.3 3.4,0.3 3.4,0.3 3.4,0.2 3.4,0.2 3.4,0.2 3.4,0.1 3.4,0.1 3.4,0.1 3.4,0.1 3.4,0.1 3.4,0.1 3.4,0 3.4,0.1 3.4,0 3.4,0 3.4,0.1 3.4,0" fill="none" stroke="#a33a5b" stroke-width="1.3" />
<path d="M1086.8,2433.3l0.4,-1.6 0.4,-1.6 0.5,-1.5 0.4,-1.5 0.4,-1.5 0.5,-1.5 0.4,-1.4 0.4,-1.5 0.4,-1.4 0.4,-1.3 0.5,-1.4 0.4,-1.3 0.9,-2.6 0.8,-2.5 0.8,-2.4 0.9,-2.3 0.8,-2.3 0.9,-2.2 0.8,-2.1 0.9,-2.1 0.9,-1.9 0.8,-1.9 0.8,-1.9 0.9,-1.8 0.9,-1.7 0.8,-1.7 1.7,-3.2 1.7,-2.9 1.7,-2.8 1.7,-2.6 1.7,-2.5 1.7,-2.3 1.7,-2.1 1.7,-2 1.7,-1.9 1.7,-1.8 1.7,-1.6 1.7,-1.6 1.7,-1.4 1.7,-1.4 1.7,-1.3 3.4,-2.3 3.4,-2.1 3.4,-1.8 3.4,-1.6 3.4,-1.4 3.4,-1.3 3.4,-1.1 3.4,-1 3.4,-0.9 3.4,-0.8 3.4,-0.7 3.4,-0.6 3.4,-0.6 3.4,-0.5 3.4,-0.5 3.4,-0.4 3.4,-0.4 1.7,-0.2 0.8,0.3 0.9,0.3 0.9,0.3 0.8,0.3 0.8,0.3 0.9,0.3 0.9,0.3 0.8,0.3 0.8,0.3 0.9,0.2 3.4,1.1 3.4,1 3.4,0.9 3.4,0.9 3.4,0.8 3.4,0.8 3.4,0.7 3.4,0.7 3.4,0.6 3.4,0.6 3.4,0.6 3.4,0.5 3.4,0.6 3.4,0.4 3.4,0.5 3.4,0.4 3.4,0.4 3.4,0.4 3.4,0.3 3.4,0.4 3.4,0.3 3.4,0.3 3.4,0.3 3.4,0.2 3.4,0.3 3.4,0.2 3.4,0.2" fill="none" stroke="#c8c8c8" stroke-width="2.4" />
<path d="M1086.8,2433.3l0.4,-1.6 0.4,-1.6 0.5,-1.5 0.4,-1.5 0.4,-1.5 0.5,-1.5 0.4,-1.4 0.4,-1.5 0.4,-1.4 0.4,-1.3 0.5,-1.4 0.4,-1.3 0.9,-2.6 0.8,-2.5 0.8,-2.4 0.9,-2.3 0.8,-2.3 0.9,-2.2 0.8,-2.1 0.9,-2.1 0.9,-1.9 0.8,-1.9 0.8,-1.9 0.9,-1.8 0.9,-1.7 0.8,-1.7 1.7,-3.2 1.7,-2.9 1.7,-2.8 1.7,-2.6 1.7,-2.5 1.7,-2.3 1.7,-2.1 1.7,-2 1.7,-1.9 1.7,-1.8 1.7,-1.6 1.7,-1.6 1.7,-1.4 1.7,-1.4 1.7,-1.3 3.4,-2.3 3.4,-2.1 3.4,-1.8 3.4,-1.6 3.4,-1.4 3.4,-1.3 3.4,-1.1 3.4,-1 3.4,-0.9 3.4,-0.8 3.4,-0.7 3.4,-0.6 3.4,-0.6 3.4,-0.5 3.4,-0.5 3.4,-0.4 3.4,-0.4 1.7,-0.2 0.8,0.3 0.9,0.3 0.9,0.3 0.8,0.3 0.8,0.3 0.9,0.3 0.9,0.3 0.8,0.3 0.8,0.3 0.9,0.2 3.4,1.1 3.4,1 3.4,0.9 3.4,0.9 3.4,0.8 3.4,0.8 3.4,0.7 3.4,0.7 3.4,0.6 3.4,0.6 3.4,0.6 3.4,0.5 3.4,0.6 3.4,0.4 3.4,0.5 3.4,0.4 3.4,0.4 3.4,0.4 3.4,0.3 3.4,0.4 3.4,0.3 3.4,0.3 3.4,0.3 3.4,0.2 3.4,0.3 3.4,0.2 3.4,0.2" fill="none" stroke="#73447b" stroke-width="1.3" />
<path d="M1086.8,2433.3l0.4,-0.4 0.4,-0.5 0.5,-0.4 0.4,-0.5 0.4,-0.4 0.5,-0.4 0.4,-0.5 0.4,-0.4 0.4,-0.4 0.4,-0.4 0.5,-0.4 0.4,-0.4 0.9,-0.8 0.8,-0.8 0.8,-0.8 0.9,-0.7 0.8,-0.8 0.9,-0.7 0.8,-0.7 0.9,-0.7 0.9,-0.7 0.8,-0.7 0.8,-0.7 0.9,-0.6 0.9,-0.7 0.8,-0.6 1.7,-1.2 1.7,-1.2 1.7,-1.2 1.7,-1.1 1.7,-1.1 1.7,-1 1.7,-1 1.7,-0.9 1.7,-1 1.7,-0.9 1.7,-0.8 1.7,-0.8 1.7,-0.8 1.7,-0.8 1.7,-0.8 3.4,-1.4 3.4,-1.3 3.4,-1.2 3.4,-1.1 3.4,-1.1 3.4,-1 3.4,-0.9 3.4,-0.9 3.4,-0.8 3.4,-0.7 3.4,-0.7 3.4,-0.6 3.4,-0.6 3.4,-0.6 3.4,-0.5 3.4,-0.5 3.4,-0.4 1.7,-0.2 0.8,0.1 0.9,0.2 0.9,0.1 0.8,0.1 0.8,0.2 0.9,0.1 0.9,0.1 0.8,0.2 0.8,0.1 0.9,0.1 3.4,0.5 3.4,0.5 3.4,0.4 3.4,0.4 3.4,0.4 3.4,0.3 3.4,0.4 3.4,0.3 3.4,0.3 3.4,0.3 3.4,0.2 3.4,0.3 3.4,0.2 3.4,0.2 3.4,0.2 3.4,0.2 3.4,0.2 3.4,0.2 3.4,0.2 3.4,0.1 3.4,0.2 3.4,0.1 3.4,0.1 3.4,0.1 3.4,0.2 3.4,0.1 3.4,0.1" fill="none" stroke="#c8c8c8" stroke-width="2.4" />
<path d="M1086.8,2433.3l0.4,-0.4 0.4,-0.5 0.5,-0.4 0.4,-0.5 0.4,-0.4 0.5,-0.4 0.4,-0.5 0.4,-0.4 0.4,-0.4 0.4,-0.4 0.5,-0.4 0.4,-0.4 0.9,-0.8 0.8,-0.8 0.8,-0.8 0.9,-0.7 0.8,-0.8 0.9,-0.7 0.8,-0.7 0.9,-0.7 0.9,-0.7 0.8,-0.7 0.8,-0.7 0.9,-0.6 0.9,-0.7 0.8,-0.6 1.7,-1.2 1.7,-1.2 1.7,-1.2 1.7,-1.1 1.7,-1.1 1.7,-1 1.7,-1 1.7,-0.9 1.7,-1 1.7,-0.9 1.7,-0.8 1.7,-0.8 1.7,-0.8 1.7,-0.8 1.7,-0.8 3.4,-1.4 3.4,-1.3 3.4,-1.2 3.4,-1.1 3.4,-1.1 3.4,-1 3.4,-0.9 3.4,-0.9 3.4,-0.8 3.4,-0.7 3.4,-0.7 3.4,-0.6 3.4,-0.6 3.4,-0.6 3.4,-0.5 3.4,-0.5 3.4,-0.4 1.7,-0.2 0.8,0.1 0.9,0.2 0.9,0.1 0.8,0.1 0.8,0.2 0.9,0.1 0.9,0.1 0.8,0.2 0.8,0.1 0.9,0.1 3.4,0.5 3.4,0.5 3.4,0.4 3.4,0.4 3.4,0.4 3.4,0.3 3.4,0.4 3.4,0.3 3.4,0.3 3.4,0.3 3.4,0.2 3.4,0.3 3.4,0.2 3.4,0.2 3.4,0.2 3.4,0.2 3.4,0.2 3.4,0.2 3.4,0.2 3.4,0.1 3.4,0.2 3.4,0.1 3.4,0.1 3.4,0.1 3.4,0.2 3.4,0.1 3.4,0.1" fill="none" stroke="#434e9c" stroke-width="1.3" />
<path d="M1086.8,2433.3l0.4,-0.1 0.4,-0.1 0.5,0 0.4,-0.1 0.4,-0.1 0.5,-0.1 0.4,0 0.4,-0.1 0.4,-0.1 0.4,-0.1 0.5,0 0.4,-0.1 0.9,-0.2 0.8,-0.1 0.8,-0.1 0.9,-0.2 0.8,-0.1 0.9,-0.1 0.8,-0.2 0.9,-0.1 0.9,-0.1 0.8,-0.1 0.8,-0.1 0.9,-0.2 0.9,-0.1 0.8,-0.1 1.7,-0.2 1.7,-0.2 1.7,-0.2 1.7,-0.2 1.7,-0.2 1.7,-0.1 1.7,-0.2 1.7,-0.2 1.7,-0.1 1.7,-0.2 1.7,-0.1 1.7,-0.1 1.7,-0.2 1.7,-0.1 1.7,-0.1 3.4,-0.3 3.4,-0.2 3.4,-0.2 3.4,-0.1 3.4,-0.2 3.4,-0.2 3.4,-0.1 3.4,-0.1 3.4,-0.2 3.4,-0.1 3.4,-0.1 3.4,-0.1 3.4,-0.1 3.4,0 3.4,-0.1 3.4,-0.1 3.4,0 1.7,-0.1 0.8,0 0.9,0.1 0.9,0 0.8,0 0.8,0 0.9,0 0.9,0.1 0.8,0 0.8,0 0.9,0 3.4,0.1 3.4,0 3.4,0.1 3.4,0.1 3.4,0 3.4,0.1 3.4,0 3.4,0.1 3.4,0 3.4,0.1 3.4,0 3.4,0.1 3.4,0 3.4,0.1 3.4,0 3.4,0 3.4,0.1 3.4,0 3.4,0 3.4,0.1 3.4,0 3.4,0 3.4,0.1 3.4,0 3.4,0 3.4,0 3.4,0.1" fill="none" stroke="#c8c8c8" stroke-width="2.4" />
<path d="M1086.8,2433.3l0.4,-0.1 0.4,-0.1 0.5,0 0.4,-0.1 0.4,-0.1 0.5,-0.1 0.4,0 0.4,-0.1 0.4,-0.1 0.4,-0.1 0.5,0 0.4,-0.1 0.9,-0.2 0.8,-0.1 0.8,-0.1 0.9,-0.2 0.8,-0.1 0.9,-0.1 0.8,-0.2 0.9,-0.1 0.9,-0.1 0.8,-0.1 0.8,-0.1 0.9,-0.2 0.9,-0.1 0.8,-0.1 1.7,-0.2 1.7,-0.2 1.7,-0.2 1.7,-0.2 1.7,-0.2 1.7,-0.1 1.7,-0.2 1.7,-0.2 1.7,-0.1 1.7,-0.2 1.7,-0.1 1.7,-0.1 1.7,-0.2 1.7,-0.1 1.7,-0.1 3.4,-0.3 3.4,-0.2 3.4,-0.2 3.4,-0.1 3.4,-0.2 3.4,-0.2 3.4,-0.1 3.4,-0.1 3.4,-0.2 3.4,-0.1 3.4,-0.1 3.4,-0.1 3.4,-0.1 3.4,0 3.4,-0.1 3.4,-0.1 3.4,0 1.7,-0.1 0.8,0 0.9,0.1 0.9,0 0.8,0 0.8,0 0.9,0 0.9,0.1 0.8,0 0.8,0 0.9,0 3.4,0.1 3.4,0 3.4,0.1 3.4,0.1 3.4,0 3.4,0.1 3.4,0 3.4,0.1 3.4,0 3.4,0.1 3.4,0 3.4,0.1 3.4,0 3.4,0.1 3.4,0 3.4,0 3.4,0.1 3.4,0 3.4,0 3.4,0.1 3.4,0 3.4,0 3.4,0.1 3.4,0 3.4,0 3.4,0 3.4,0.1" fill="none" stroke="#3d4fa0" stroke-width="1.3" />
<path d="M1086.8,2433.3l0.4,0 0.4,0.1 0.5,0 0.4,0.1 0.4,0 0.5,0.1 0.4,0 0.4,0.1 0.4,0 0.4,0 0.5,0.1 0.4,0 0.9,0.1 0.8,0.1 0.8,0 0.9,0.1 0.8,0.1 0.9,0 0.8,0.1 0.9,0 0.9,0.1 0.8,0 0.8,0.1 0.9,0 0.9,0 0.8,0.1 1.7,0 1.7,0.1 1.7,0.1 1.7,0 1.7,0.1 1.7,0 1.7,0 1.7,0.1 1.7,0 1.7,0 1.7,0.1 1.7,0 1.7,0 1.7,0 1.7,0 3.4,0.1 3.4,0 3.4,0 3.4,0 3.4,0.1 3.4,0 3.4,0 3.4,0 3.4,0 3.4,0 3.4,0 3.4,0 3.4,0 3.4,0 3.4,0 3.4,0 3.4,0 1.7,0 0.8,0 0.9,0 0.9,0 0.8,0 0.8,0 0.9,0 0.9,0 0.8,0 0.8,0.1 0.9,0 3.4,0 3.4,0 3.4,0 3.4,0 3.4,0 3.4,0 3.4,0.1 3.4,0 3.4,0 3.4,0 3.4,0 3.4,0 3.4,0 3.4,0 3.4,0.1 3.4,0 3.4,0 3.4,0 3.4,0 3.4,0 3.4,0 3.4,0 3.4,0 3.4,0 3.4,0 3.4,0 3.4,0" fill="none" stroke="#c8c8c8" stroke-width="2.4" />
<path d="M1086.8,2433.3l0.4,0 0.4,0.1 0.5,0 0.4,0.1 0.4,0 0.5,0.1 0.4,0 0.4,0.1 0.4,0 0.4,0 0.5,0.1 0.4,0 0.9,0.1 0.8,0.1 0.8,0 0.9,0.1 0.8,0.1 0.9,0 0.8,0.1 0.9,0 0.9,0.1 0.8,0 0.8,0.1 0.9,0 0.9,0 0.8,0.1 1.7,0 1.7,0.1 1.7,0.1 1.7,0 1.7,0.1 1.7,0 1.7,0 1.7,0.1 1.7,0 1.7,0 1.7,0.1 1.7,0 1.7,0 1.7,0 1.7,0 3.4,0.1 3.4,0 3.4,0 3.4,0 3.4,0.1 3.4,0 3.4,0 3.4,0 3.4,0 3.4,0 3.4,0 3.4,0 3.4,0 3.4,0 3.4,0 3.4,0 3.4,0 1.7,0 0.8,0 0.9,0 0.9,0 0.8,0 0.8,0 0.9,0 0.9,0 0.8,0 0.8,0.1 0.9,0 3.4,0 3.4,0 3.4,0 3.4,0 3.4,0 3.4,0 3.4,0.1 3.4,0 3.4,0 3.4,0 3.4,0 3.4,0 3.4,0 3.4,0 3.4,0.1 3.4,0 3.4,0 3.4,0 3.4,0 3.4,0 3.4,0 3.4,0 3.4,0 3.4,0 3.4,0 3.4,0 3.4,0" fill="none" stroke="#3d4fa0" stroke-width="1.3" />
<line x1="1470.3" y1="2256.5" x2="1470.3" y2="2429.8" stroke="#111" stroke-width="1.7" />
<line x1="1464.3" y1="2429" x2="1470.3" y2="2429" stroke="#111" stroke-width="1.6" />
<text x="1459.8" y="2435.4" font-size="17.8" text-anchor="end" fill="#111" stroke="#111" stroke-width="0.45">0.0</text>
<line x1="1464.3" y1="2391.7" x2="1470.3" y2="2391.7" stroke="#111" stroke-width="1.6" />
<text x="1459.8" y="2398.1" font-size="17.8" text-anchor="end" fill="#111" stroke="#111" stroke-width="0.45">0.5</text>
<line x1="1464.3" y1="2354.4" x2="1470.3" y2="2354.4" stroke="#111" stroke-width="1.6" />
<text x="1459.8" y="2360.8" font-size="17.8" text-anchor="end" fill="#111" stroke="#111" stroke-width="0.45">1.0</text>
<line x1="1464.3" y1="2317.1" x2="1470.3" y2="2317.1" stroke="#111" stroke-width="1.6" />
<text x="1459.8" y="2323.5" font-size="17.8" text-anchor="end" fill="#111" stroke="#111" stroke-width="0.45">1.5</text>
<line x1="1464.3" y1="2279.8" x2="1470.3" y2="2279.8" stroke="#111" stroke-width="1.6" />
<text x="1459.8" y="2286.2" font-size="17.8" text-anchor="end" fill="#111" stroke="#111" stroke-width="0.45">2.0</text>
<line x1="1476.4" y1="2437.6" x2="1686.9" y2="2437.6" stroke="#111" stroke-width="1.7" />
<line x1="1482.6" y1="2437.6" x2="1482.6" y2="2443.6" stroke="#111" stroke-width="1.6" />
<text x="1482.6" y="2459" font-size="17.8" text-anchor="middle" fill="#111" stroke="#111" stroke-width="0.45">0</text>
<line x1="1524.6" y1="2437.6" x2="1524.6" y2="2443.6" stroke="#111" stroke-width="1.6" />
<text x="1524.6" y="2459" font-size="17.8" text-anchor="middle" fill="#111" stroke="#111" stroke-width="0.45">50</text>
<line x1="1566.6" y1="2437.6" x2="1566.6" y2="2443.6" stroke="#111" stroke-width="1.6" />
<text x="1566.6" y="2459" font-size="17.8" text-anchor="middle" fill="#111" stroke="#111" stroke-width="0.45">100</text>
<line x1="1608.6" y1="2437.6" x2="1608.6" y2="2443.6" stroke="#111" stroke-width="1.6" />
<text x="1608.6" y="2459" font-size="17.8" text-anchor="middle" fill="#111" stroke="#111" stroke-width="0.45">150</text>
<line x1="1650.6" y1="2437.6" x2="1650.6" y2="2443.6" stroke="#111" stroke-width="1.6" />
<text x="1650.6" y="2459" font-size="17.8" text-anchor="middle" fill="#111" stroke="#111" stroke-width="0.45">200</text>
<text x="1578.9" y="2480.5" font-size="17.8" text-anchor="middle" fill="#111" stroke="#111" stroke-width="0.45">Time (sec)</text>
<text x="1430" y="2351.1" font-size="17.8" text-anchor="middle" fill="#111" stroke="#111" stroke-width="0.45" transform="rotate(-90 1430 2351.1)">Binding (nm)</text>
<line x1="1583.4" y1="2274" x2="1583.4" y2="2437.6" stroke="#555" stroke-width="1.1" stroke-dasharray="2.5,2"/>
<text x="1515.3" y="2244.5" font-size="25" fill="#111" stroke="#111" stroke-width="0.45">dCXC-CTD</text>
<line x1="1617.2" y1="2270.5" x2="1637.3" y2="2270.5" stroke="#bbbbbb" stroke-width="2.2" />
<defs><linearGradient id="lgo1617" x1="0" x2="1"><stop offset="0" stop-color="#3d5aa8"/><stop offset="1" stop-color="#d3303a"/></linearGradient></defs>
<rect x="1617.2" y="2287" width="20.1" height="2.4" fill="url(#lgo1617)" />
<text x="1644.3" y="2274.5" font-size="17.8" fill="#111" stroke="#111" stroke-width="0.45">observed</text>
<text x="1644.3" y="2292.7" font-size="17.8" fill="#111" stroke="#111" stroke-width="0.45">fitted</text>
<path d="M1688.3,2319.6 L1711.1,2319.6 L1688.3,2412.1 Z" fill="#bdbdbd" stroke="none" stroke-width="0" />
<text x="1686.4" y="2315.5" font-size="17.8" fill="#111" stroke="#111" stroke-width="0.45">100 µM</text>
<text x="1686.4" y="2428.2" font-size="17.8" fill="#111" stroke="#111" stroke-width="0.45">0.75 µM</text>
<path d="M1482.6,2429l0.4,-4.1 0.4,-3.9 0.5,-3.8 0.4,-3.7 0.4,-3.5 0.4,-3.5 0.4,-3.3 0.5,-3.2 0.4,-3.1 0.4,-2.9 0.4,-2.9 0.4,-2.8 0.9,-5.3 0.8,-4.9 0.9,-4.6 0.8,-4.4 0.8,-4 0.9,-3.8 0.8,-3.6 0.9,-3.3 0.8,-3.1 0.8,-3 0.9,-2.8 0.8,-2.6 0.9,-2.5 0.8,-2.3 1.7,-4.3 1.7,-3.8 1.6,-3.4 1.7,-3.2 1.7,-2.8 1.7,-2.6 1.7,-2.3 1.6,-2.2 1.7,-2 1.7,-1.8 1.7,-1.7 1.7,-1.6 1.6,-1.5 1.7,-1.4 1.7,-1.4 3.4,-2.4 3.3,-2.2 3.4,-2 3.3,-1.8 3.4,-1.7 3.4,-1.6 3.3,-1.4 3.4,-1.4 3.3,-1.3 3.4,-1.1 3.4,-1.2 3.3,-1 3.4,-1 3.3,-0.9 3.4,-0.9 3.4,-0.8 3.3,-0.7 1.7,-0.4 0.8,1.2 0.9,1.1 0.8,1.1 0.9,1.1 0.8,1.1 0.8,1 0.9,1 0.8,0.9 0.9,0.9 0.8,0.9 3.4,3.4 3.3,2.9 3.4,2.7 3.3,2.3 3.4,2.1 3.4,1.8 3.3,1.6 3.4,1.5 3.3,1.3 3.4,1.1 3.4,1 3.3,0.9 3.4,0.8 3.3,0.7 3.4,0.6 3.4,0.6 3.3,0.4 3.4,0.5 3.3,0.4 3.4,0.3 3.4,0.3 3.3,0.3 3.4,0.2 3.3,0.2 3.4,0.2 3.4,0.2 3.3,0.1" fill="none" stroke="#c8c8c8" stroke-width="2.2" />
<path d="M1482.6,2429l0.4,-3.9 0.4,-3.8 0.5,-3.7 0.4,-3.6 0.4,-3.4 0.4,-3.3 0.4,-3.2 0.5,-3.1 0.4,-2.9 0.4,-2.9 0.4,-2.8 0.4,-2.7 0.9,-5.1 0.8,-4.7 0.9,-4.5 0.8,-4.2 0.8,-3.9 0.9,-3.6 0.8,-3.5 0.9,-3.2 0.8,-3 0.8,-2.9 0.9,-2.7 0.8,-2.5 0.9,-2.4 0.8,-2.2 1.7,-4.2 1.7,-3.7 1.6,-3.3 1.7,-3 1.7,-2.7 1.7,-2.5 1.7,-2.3 1.6,-2.1 1.7,-1.9 1.7,-1.8 1.7,-1.6 1.7,-1.6 1.6,-1.4 1.7,-1.4 1.7,-1.3 3.4,-2.3 3.3,-2.2 3.4,-1.9 3.3,-1.8 3.4,-1.6 3.4,-1.5 3.3,-1.4 3.4,-1.3 3.3,-1.2 3.4,-1.2 3.4,-1 3.3,-1 3.4,-1 3.3,-0.9 3.4,-0.8 3.4,-0.8 3.3,-0.7 1.7,-0.4 0.8,1 0.9,0.9 0.8,0.9 0.9,0.9 0.8,0.8 0.8,0.8 0.9,0.8 0.8,0.8 0.9,0.8 0.8,0.7 3.4,2.7 3.3,2.4 3.4,2.1 3.3,1.9 3.4,1.6 3.4,1.5 3.3,1.3 3.4,1.2 3.3,1 3.4,1 3.4,0.8 3.3,0.7 3.4,0.6 3.3,0.6 3.4,0.5 3.4,0.4 3.3,0.4 3.4,0.4 3.3,0.3 3.4,0.3 3.4,0.2 3.3,0.2 3.4,0.2 3.3,0.2 3.4,0.2 3.4,0.1 3.3,0.1" fill="none" stroke="#d3303a" stroke-width="1.3" />
<path d="M1482.6,2429l0.4,-2.5 0.4,-2.4 0.5,-2.3 0.4,-2.3 0.4,-2.2 0.4,-2.2 0.4,-2.1 0.5,-2.1 0.4,-2 0.4,-2 0.4,-1.9 0.4,-1.8 0.9,-3.6 0.8,-3.5 0.9,-3.2 0.8,-3.1 0.8,-3 0.9,-2.8 0.8,-2.7 0.9,-2.6 0.8,-2.5 0.8,-2.4 0.9,-2.2 0.8,-2.2 0.9,-2 0.8,-2 1.7,-3.7 1.7,-3.4 1.6,-3.2 1.7,-2.9 1.7,-2.6 1.7,-2.5 1.7,-2.4 1.6,-2.1 1.7,-2.1 1.7,-1.9 1.7,-1.7 1.7,-1.7 1.6,-1.6 1.7,-1.5 1.7,-1.4 3.4,-2.6 3.3,-2.4 3.4,-2.2 3.3,-2 3.4,-1.8 3.4,-1.7 3.3,-1.6 3.4,-1.5 3.3,-1.4 3.4,-1.3 3.4,-1.2 3.3,-1.2 3.4,-1.1 3.3,-1 3.4,-1 3.4,-1 3.3,-0.9 1.7,-0.4 0.8,1 0.9,0.9 0.8,1 0.9,0.8 0.8,0.9 0.8,0.9 0.9,0.8 0.8,0.8 0.9,0.7 0.8,0.8 3.4,2.7 3.3,2.5 3.4,2.2 3.3,1.9 3.4,1.7 3.4,1.5 3.3,1.3 3.4,1.2 3.3,1.1 3.4,0.9 3.4,0.9 3.3,0.7 3.4,0.7 3.3,0.5 3.4,0.6 3.4,0.4 3.3,0.4 3.4,0.4 3.3,0.3 3.4,0.3 3.4,0.2 3.3,0.3 3.4,0.2 3.3,0.1 3.4,0.2 3.4,0.1 3.3,0.1" fill="none" stroke="#c8c8c8" stroke-width="2.2" />
<path d="M1482.6,2429l0.4,-2.4 0.4,-2.3 0.5,-2.3 0.4,-2.2 0.4,-2.2 0.4,-2.1 0.4,-2 0.5,-2 0.4,-2 0.4,-1.9 0.4,-1.8 0.4,-1.9 0.9,-3.5 0.8,-3.3 0.9,-3.2 0.8,-3 0.8,-2.9 0.9,-2.7 0.8,-2.6 0.9,-2.5 0.8,-2.4 0.8,-2.3 0.9,-2.2 0.8,-2.1 0.9,-2 0.8,-1.9 1.7,-3.6 1.7,-3.3 1.6,-3 1.7,-2.9 1.7,-2.6 1.7,-2.4 1.7,-2.2 1.6,-2.1 1.7,-2 1.7,-1.9 1.7,-1.7 1.7,-1.6 1.6,-1.5 1.7,-1.5 1.7,-1.4 3.4,-2.5 3.3,-2.3 3.4,-2.1 3.3,-1.9 3.4,-1.8 3.4,-1.7 3.3,-1.5 3.4,-1.5 3.3,-1.3 3.4,-1.3 3.4,-1.2 3.3,-1.1 3.4,-1.1 3.3,-1 3.4,-1 3.4,-0.9 3.3,-0.8 1.7,-0.5 0.8,0.9 0.9,0.8 0.8,0.7 0.9,0.8 0.8,0.7 0.8,0.7 0.9,0.7 0.8,0.6 0.9,0.7 0.8,0.6 3.4,2.3 3.3,2.1 3.4,1.8 3.3,1.6 3.4,1.4 3.4,1.3 3.3,1.1 3.4,1 3.3,0.9 3.4,0.8 3.4,0.7 3.3,0.6 3.4,0.6 3.3,0.4 3.4,0.5 3.4,0.4 3.3,0.3 3.4,0.3 3.3,0.3 3.4,0.2 3.4,0.2 3.3,0.2 3.4,0.2 3.3,0.1 3.4,0.1 3.4,0.2 3.3,0.1" fill="none" stroke="#c03447" stroke-width="1.3" />
<path d="M1482.6,2429l0.4,-1.6 0.4,-1.5 0.5,-1.5 0.4,-1.5 0.4,-1.4 0.4,-1.5 0.4,-1.3 0.5,-1.4 0.4,-1.3 0.4,-1.4 0.4,-1.2 0.4,-1.3 0.9,-2.4 0.8,-2.4 0.9,-2.3 0.8,-2.1 0.8,-2.1 0.9,-2 0.8,-2 0.9,-1.9 0.8,-1.8 0.8,-1.7 0.9,-1.7 0.8,-1.6 0.9,-1.6 0.8,-1.5 1.7,-2.8 1.7,-2.7 1.6,-2.5 1.7,-2.4 1.7,-2.2 1.7,-2.1 1.7,-1.9 1.6,-1.9 1.7,-1.8 1.7,-1.6 1.7,-1.6 1.7,-1.5 1.6,-1.4 1.7,-1.3 1.7,-1.3 3.4,-2.4 3.3,-2.3 3.4,-2 3.3,-1.9 3.4,-1.7 3.4,-1.7 3.3,-1.5 3.4,-1.5 3.3,-1.3 3.4,-1.3 3.4,-1.2 3.3,-1.2 3.4,-1.1 3.3,-1.1 3.4,-1 3.4,-0.9 3.3,-0.9 1.7,-0.5 0.8,0.6 0.9,0.5 0.8,0.6 0.9,0.5 0.8,0.5 0.8,0.5 0.9,0.5 0.8,0.4 0.9,0.5 0.8,0.4 3.4,1.6 3.3,1.4 3.4,1.3 3.3,1.1 3.4,1 3.4,0.9 3.3,0.8 3.4,0.7 3.3,0.6 3.4,0.5 3.4,0.5 3.3,0.4 3.4,0.4 3.3,0.4 3.4,0.3 3.4,0.2 3.3,0.3 3.4,0.2 3.3,0.1 3.4,0.2 3.4,0.2 3.3,0.1 3.4,0.1 3.3,0.1 3.4,0.1 3.4,0.1 3.3,0" fill="none" stroke="#c8c8c8" stroke-width="2.2" />
<path d="M1482.6,2429l0.4,-1.5 0.4,-1.5 0.5,-1.5 0.4,-1.4 0.4,-1.4 0.4,-1.4 0.4,-1.3 0.5,-1.4 0.4,-1.2 0.4,-1.3 0.4,-1.3 0.4,-1.2 0.9,-2.4 0.8,-2.2 0.9,-2.2 0.8,-2.1 0.8,-2.1 0.9,-1.9 0.8,-1.9 0.9,-1.8 0.8,-1.8 0.8,-1.7 0.9,-1.6 0.8,-1.6 0.9,-1.5 0.8,-1.4 1.7,-2.8 1.7,-2.6 1.6,-2.5 1.7,-2.2 1.7,-2.2 1.7,-2 1.7,-1.9 1.6,-1.8 1.7,-1.7 1.7,-1.6 1.7,-1.5 1.7,-1.5 1.6,-1.4 1.7,-1.3 1.7,-1.2 3.4,-2.4 3.3,-2.1 3.4,-2 3.3,-1.8 3.4,-1.7 3.4,-1.6 3.3,-1.5 3.4,-1.4 3.3,-1.3 3.4,-1.3 3.4,-1.2 3.3,-1.1 3.4,-1.1 3.3,-1 3.4,-0.9 3.4,-1 3.3,-0.9 1.7,-0.4 0.8,0.5 0.9,0.4 0.8,0.4 0.9,0.4 0.8,0.4 0.8,0.4 0.9,0.4 0.8,0.4 0.9,0.3 0.8,0.4 3.4,1.3 3.3,1.1 3.4,1 3.3,0.9 3.4,0.8 3.4,0.7 3.3,0.6 3.4,0.6 3.3,0.5 3.4,0.4 3.4,0.4 3.3,0.4 3.4,0.3 3.3,0.2 3.4,0.3 3.4,0.2 3.3,0.2 3.4,0.1 3.3,0.2 3.4,0.1 3.4,0.1 3.3,0.1 3.4,0.1 3.3,0.1 3.4,0.1 3.4,0 3.3,0.1" fill="none" stroke="#ae3854" stroke-width="1.3" />
<path d="M1482.6,2429l0.4,-1.2 0.4,-1.1 0.5,-1.1 0.4,-1.1 0.4,-1.1 0.4,-1 0.4,-1 0.5,-1.1 0.4,-0.9 0.4,-1 0.4,-1 0.4,-0.9 0.9,-1.8 0.8,-1.8 0.9,-1.7 0.8,-1.6 0.8,-1.6 0.9,-1.5 0.8,-1.4 0.9,-1.5 0.8,-1.3 0.8,-1.3 0.9,-1.3 0.8,-1.2 0.9,-1.2 0.8,-1.2 1.7,-2.2 1.7,-2 1.6,-2 1.7,-1.8 1.7,-1.7 1.7,-1.6 1.7,-1.6 1.6,-1.4 1.7,-1.4 1.7,-1.3 1.7,-1.3 1.7,-1.1 1.6,-1.2 1.7,-1.1 1.7,-1 3.4,-2 3.3,-1.8 3.4,-1.6 3.3,-1.6 3.4,-1.5 3.4,-1.3 3.3,-1.3 3.4,-1.2 3.3,-1.2 3.4,-1.1 3.4,-1 3.3,-1 3.4,-0.9 3.3,-0.9 3.4,-0.9 3.4,-0.8 3.3,-0.8 1.7,-0.3 0.8,0.5 0.9,0.6 0.8,0.5 0.9,0.5 0.8,0.5 0.8,0.5 0.9,0.5 0.8,0.5 0.9,0.4 0.8,0.4 3.4,1.6 3.3,1.5 3.4,1.2 3.3,1.1 3.4,1 3.4,0.9 3.3,0.8 3.4,0.7 3.3,0.6 3.4,0.6 3.4,0.4 3.3,0.5 3.4,0.4 3.3,0.3 3.4,0.3 3.4,0.3 3.3,0.2 3.4,0.2 3.3,0.2 3.4,0.1 3.4,0.2 3.3,0.1 3.4,0.1 3.3,0.1 3.4,0.1 3.4,0.1 3.3,0.1" fill="none" stroke="#c8c8c8" stroke-width="2.2" />
<path d="M1482.6,2429l0.4,-1.1 0.4,-1.1 0.5,-1.1 0.4,-1.1 0.4,-1 0.4,-1 0.4,-1 0.5,-1 0.4,-1 0.4,-0.9 0.4,-0.9 0.4,-0.9 0.9,-1.8 0.8,-1.7 0.9,-1.6 0.8,-1.6 0.8,-1.6 0.9,-1.4 0.8,-1.4 0.9,-1.4 0.8,-1.3 0.8,-1.3 0.9,-1.2 0.8,-1.2 0.9,-1.2 0.8,-1.1 1.7,-2.1 1.7,-2 1.6,-1.9 1.7,-1.8 1.7,-1.7 1.7,-1.5 1.7,-1.5 1.6,-1.4 1.7,-1.4 1.7,-1.3 1.7,-1.2 1.7,-1.1 1.6,-1.1 1.7,-1.1 1.7,-1 3.4,-1.9 3.3,-1.7 3.4,-1.7 3.3,-1.5 3.4,-1.4 3.4,-1.3 3.3,-1.3 3.4,-1.2 3.3,-1.1 3.4,-1 3.4,-1 3.3,-1 3.4,-0.9 3.3,-0.9 3.4,-0.8 3.4,-0.8 3.3,-0.7 1.7,-0.4 0.8,0.5 0.9,0.4 0.8,0.5 0.9,0.4 0.8,0.4 0.8,0.5 0.9,0.4 0.8,0.3 0.9,0.4 0.8,0.4 3.4,1.3 3.3,1.2 3.4,1.1 3.3,0.9 3.4,0.9 3.4,0.7 3.3,0.7 3.4,0.5 3.3,0.6 3.4,0.4 3.4,0.4 3.3,0.4 3.4,0.3 3.3,0.3 3.4,0.2 3.4,0.3 3.3,0.2 3.4,0.1 3.3,0.2 3.4,0.1 3.4,0.1 3.3,0.2 3.4,0.1 3.3,0 3.4,0.1 3.4,0.1 3.3,0" fill="none" stroke="#9b3c60" stroke-width="1.3" />
<path d="M1482.6,2429l0.4,-1 0.4,-0.9 0.5,-1 0.4,-0.9 0.4,-0.9 0.4,-0.9 0.4,-0.9 0.5,-0.9 0.4,-0.8 0.4,-0.9 0.4,-0.8 0.4,-0.8 0.9,-1.5 0.8,-1.6 0.9,-1.4 0.8,-1.4 0.8,-1.4 0.9,-1.3 0.8,-1.3 0.9,-1.2 0.8,-1.2 0.8,-1.1 0.9,-1.1 0.8,-1.1 0.9,-1.1 0.8,-1 1.7,-1.9 1.7,-1.9 1.6,-1.7 1.7,-1.6 1.7,-1.6 1.7,-1.4 1.7,-1.4 1.6,-1.3 1.7,-1.3 1.7,-1.2 1.7,-1.1 1.7,-1.1 1.6,-1.1 1.7,-1 1.7,-1 3.4,-1.8 3.3,-1.7 3.4,-1.6 3.3,-1.5 3.4,-1.4 3.4,-1.3 3.3,-1.2 3.4,-1.2 3.3,-1.1 3.4,-1.1 3.4,-1 3.3,-0.9 3.4,-0.9 3.3,-0.9 3.4,-0.8 3.4,-0.8 3.3,-0.8 1.7,-0.4 0.8,0.5 0.9,0.4 0.8,0.4 0.9,0.4 0.8,0.4 0.8,0.3 0.9,0.4 0.8,0.3 0.9,0.4 0.8,0.3 3.4,1.2 3.3,1.1 3.4,1 3.3,0.8 3.4,0.8 3.4,0.6 3.3,0.6 3.4,0.6 3.3,0.4 3.4,0.4 3.4,0.4 3.3,0.3 3.4,0.3 3.3,0.3 3.4,0.2 3.4,0.2 3.3,0.2 3.4,0.1 3.3,0.2 3.4,0.1 3.4,0.1 3.3,0.1 3.4,0.1 3.3,0.1 3.4,0.1 3.4,0 3.3,0.1" fill="none" stroke="#c8c8c8" stroke-width="2.4" />
<path d="M1482.6,2429l0.4,-1 0.4,-0.9 0.5,-1 0.4,-0.9 0.4,-0.9 0.4,-0.9 0.4,-0.9 0.5,-0.9 0.4,-0.8 0.4,-0.9 0.4,-0.8 0.4,-0.8 0.9,-1.5 0.8,-1.6 0.9,-1.4 0.8,-1.4 0.8,-1.4 0.9,-1.3 0.8,-1.3 0.9,-1.2 0.8,-1.2 0.8,-1.1 0.9,-1.1 0.8,-1.1 0.9,-1.1 0.8,-1 1.7,-1.9 1.7,-1.9 1.6,-1.7 1.7,-1.6 1.7,-1.6 1.7,-1.4 1.7,-1.4 1.6,-1.3 1.7,-1.3 1.7,-1.2 1.7,-1.1 1.7,-1.1 1.6,-1.1 1.7,-1 1.7,-1 3.4,-1.8 3.3,-1.7 3.4,-1.6 3.3,-1.5 3.4,-1.4 3.4,-1.3 3.3,-1.2 3.4,-1.2 3.3,-1.1 3.4,-1.1 3.4,-1 3.3,-0.9 3.4,-0.9 3.3,-0.9 3.4,-0.8 3.4,-0.8 3.3,-0.8 1.7,-0.4 0.8,0.5 0.9,0.4 0.8,0.4 0.9,0.4 0.8,0.4 0.8,0.3 0.9,0.4 0.8,0.3 0.9,0.4 0.8,0.3 3.4,1.2 3.3,1.1 3.4,1 3.3,0.8 3.4,0.8 3.4,0.6 3.3,0.6 3.4,0.6 3.3,0.4 3.4,0.4 3.4,0.4 3.3,0.3 3.4,0.3 3.3,0.3 3.4,0.2 3.4,0.2 3.3,0.2 3.4,0.1 3.3,0.2 3.4,0.1 3.4,0.1 3.3,0.1 3.4,0.1 3.3,0.1 3.4,0.1 3.4,0 3.3,0.1" fill="none" stroke="#88406d" stroke-width="1.3" />
<path d="M1482.6,2429l0.4,-0.7 0.4,-0.6 0.5,-0.7 0.4,-0.6 0.4,-0.6 0.4,-0.7 0.4,-0.6 0.5,-0.6 0.4,-0.5 0.4,-0.6 0.4,-0.6 0.4,-0.5 0.9,-1.1 0.8,-1.1 0.9,-1 0.8,-0.9 0.8,-1 0.9,-0.9 0.8,-0.9 0.9,-0.9 0.8,-0.8 0.8,-0.8 0.9,-0.8 0.8,-0.7 0.9,-0.8 0.8,-0.7 1.7,-1.4 1.7,-1.3 1.6,-1.3 1.7,-1.1 1.7,-1.2 1.7,-1 1.7,-1.1 1.6,-1 1.7,-0.9 1.7,-0.9 1.7,-0.9 1.7,-0.8 1.6,-0.8 1.7,-0.8 1.7,-0.8 3.4,-1.4 3.3,-1.3 3.4,-1.3 3.3,-1.2 3.4,-1.2 3.4,-1 3.3,-1.1 3.4,-1 3.3,-0.9 3.4,-0.9 3.4,-0.9 3.3,-0.9 3.4,-0.8 3.3,-0.8 3.4,-0.7 3.4,-0.8 3.3,-0.7 1.7,-0.3 0.8,0.3 0.9,0.2 0.8,0.3 0.9,0.2 0.8,0.3 0.8,0.2 0.9,0.2 0.8,0.2 0.9,0.3 0.8,0.2 3.4,0.7 3.3,0.7 3.4,0.6 3.3,0.6 3.4,0.4 3.4,0.5 3.3,0.3 3.4,0.4 3.3,0.3 3.4,0.2 3.4,0.3 3.3,0.2 3.4,0.2 3.3,0.1 3.4,0.2 3.4,0.1 3.3,0.1 3.4,0.1 3.3,0.1 3.4,0.1 3.4,0 3.3,0.1 3.4,0.1 3.3,0 3.4,0 3.4,0.1 3.3,0" fill="none" stroke="#c8c8c8" stroke-width="2.4" />
<path d="M1482.6,2429l0.4,-0.7 0.4,-0.6 0.5,-0.7 0.4,-0.6 0.4,-0.6 0.4,-0.7 0.4,-0.6 0.5,-0.6 0.4,-0.5 0.4,-0.6 0.4,-0.6 0.4,-0.5 0.9,-1.1 0.8,-1.1 0.9,-1 0.8,-0.9 0.8,-1 0.9,-0.9 0.8,-0.9 0.9,-0.9 0.8,-0.8 0.8,-0.8 0.9,-0.8 0.8,-0.7 0.9,-0.8 0.8,-0.7 1.7,-1.4 1.7,-1.3 1.6,-1.3 1.7,-1.1 1.7,-1.2 1.7,-1 1.7,-1.1 1.6,-1 1.7,-0.9 1.7,-0.9 1.7,-0.9 1.7,-0.8 1.6,-0.8 1.7,-0.8 1.7,-0.8 3.4,-1.4 3.3,-1.3 3.4,-1.3 3.3,-1.2 3.4,-1.2 3.4,-1 3.3,-1.1 3.4,-1 3.3,-0.9 3.4,-0.9 3.4,-0.9 3.3,-0.9 3.4,-0.8 3.3,-0.8 3.4,-0.7 3.4,-0.8 3.3,-0.7 1.7,-0.3 0.8,0.3 0.9,0.2 0.8,0.3 0.9,0.2 0.8,0.3 0.8,0.2 0.9,0.2 0.8,0.2 0.9,0.3 0.8,0.2 3.4,0.7 3.3,0.7 3.4,0.6 3.3,0.6 3.4,0.4 3.4,0.5 3.3,0.3 3.4,0.4 3.3,0.3 3.4,0.2 3.4,0.3 3.3,0.2 3.4,0.2 3.3,0.1 3.4,0.2 3.4,0.1 3.3,0.1 3.4,0.1 3.3,0.1 3.4,0.1 3.4,0 3.3,0.1 3.4,0.1 3.3,0 3.4,0 3.4,0.1 3.3,0" fill="none" stroke="#75437a" stroke-width="1.3" />
<path d="M1482.6,2429l0.4,-0.5 0.4,-0.5 0.5,-0.5 0.4,-0.5 0.4,-0.5 0.4,-0.4 0.4,-0.5 0.5,-0.4 0.4,-0.5 0.4,-0.4 0.4,-0.5 0.4,-0.4 0.9,-0.8 0.8,-0.8 0.9,-0.8 0.8,-0.7 0.8,-0.8 0.9,-0.7 0.8,-0.7 0.9,-0.6 0.8,-0.7 0.8,-0.6 0.9,-0.7 0.8,-0.6 0.9,-0.5 0.8,-0.6 1.7,-1.1 1.7,-1.1 1.6,-1 1.7,-0.9 1.7,-0.9 1.7,-0.9 1.7,-0.8 1.6,-0.8 1.7,-0.8 1.7,-0.8 1.7,-0.7 1.7,-0.7 1.6,-0.7 1.7,-0.6 1.7,-0.6 3.4,-1.2 3.3,-1.2 3.4,-1.1 3.3,-1 3.4,-1 3.4,-0.9 3.3,-0.9 3.4,-0.9 3.3,-0.8 3.4,-0.8 3.4,-0.8 3.3,-0.7 3.4,-0.7 3.3,-0.7 3.4,-0.7 3.4,-0.6 3.3,-0.6 1.7,-0.3 0.8,0.2 0.9,0.3 0.8,0.2 0.9,0.2 0.8,0.3 0.8,0.2 0.9,0.2 0.8,0.2 0.9,0.2 0.8,0.2 3.4,0.7 3.3,0.6 3.4,0.6 3.3,0.4 3.4,0.5 3.4,0.4 3.3,0.3 3.4,0.3 3.3,0.3 3.4,0.2 3.4,0.2 3.3,0.2 3.4,0.2 3.3,0.1 3.4,0.2 3.4,0.1 3.3,0.1 3.4,0.1 3.3,0.1 3.4,0 3.4,0.1 3.3,0.1 3.4,0 3.3,0.1 3.4,0 3.4,0 3.3,0.1" fill="none" stroke="#c8c8c8" stroke-width="2.4" />
<path d="M1482.6,2429l0.4,-0.5 0.4,-0.5 0.5,-0.5 0.4,-0.5 0.4,-0.5 0.4,-0.4 0.4,-0.5 0.5,-0.4 0.4,-0.5 0.4,-0.4 0.4,-0.5 0.4,-0.4 0.9,-0.8 0.8,-0.8 0.9,-0.8 0.8,-0.7 0.8,-0.8 0.9,-0.7 0.8,-0.7 0.9,-0.6 0.8,-0.7 0.8,-0.6 0.9,-0.7 0.8,-0.6 0.9,-0.5 0.8,-0.6 1.7,-1.1 1.7,-1.1 1.6,-1 1.7,-0.9 1.7,-0.9 1.7,-0.9 1.7,-0.8 1.6,-0.8 1.7,-0.8 1.7,-0.8 1.7,-0.7 1.7,-0.7 1.6,-0.7 1.7,-0.6 1.7,-0.6 3.4,-1.2 3.3,-1.2 3.4,-1.1 3.3,-1 3.4,-1 3.4,-0.9 3.3,-0.9 3.4,-0.9 3.3,-0.8 3.4,-0.8 3.4,-0.8 3.3,-0.7 3.4,-0.7 3.3,-0.7 3.4,-0.7 3.4,-0.6 3.3,-0.6 1.7,-0.3 0.8,0.2 0.9,0.3 0.8,0.2 0.9,0.2 0.8,0.3 0.8,0.2 0.9,0.2 0.8,0.2 0.9,0.2 0.8,0.2 3.4,0.7 3.3,0.6 3.4,0.6 3.3,0.4 3.4,0.5 3.4,0.4 3.3,0.3 3.4,0.3 3.3,0.3 3.4,0.2 3.4,0.2 3.3,0.2 3.4,0.2 3.3,0.1 3.4,0.2 3.4,0.1 3.3,0.1 3.4,0.1 3.3,0.1 3.4,0 3.4,0.1 3.3,0.1 3.4,0 3.3,0.1 3.4,0 3.4,0 3.3,0.1" fill="none" stroke="#624786" stroke-width="1.3" />
<path d="M1482.6,2429l0.4,-0.3 0.4,-0.3 0.5,-0.3 0.4,-0.4 0.4,-0.3 0.4,-0.3 0.4,-0.2 0.5,-0.3 0.4,-0.3 0.4,-0.3 0.4,-0.3 0.4,-0.2 0.9,-0.6 0.8,-0.5 0.9,-0.5 0.8,-0.5 0.8,-0.5 0.9,-0.4 0.8,-0.5 0.9,-0.4 0.8,-0.4 0.8,-0.5 0.9,-0.4 0.8,-0.4 0.9,-0.4 0.8,-0.3 1.7,-0.8 1.7,-0.7 1.6,-0.6 1.7,-0.7 1.7,-0.6 1.7,-0.6 1.7,-0.6 1.6,-0.5 1.7,-0.6 1.7,-0.5 1.7,-0.5 1.7,-0.5 1.6,-0.4 1.7,-0.5 1.7,-0.5 3.4,-0.8 3.3,-0.8 3.4,-0.8 3.3,-0.7 3.4,-0.7 3.4,-0.7 3.3,-0.7 3.4,-0.6 3.3,-0.6 3.4,-0.6 3.4,-0.5 3.3,-0.6 3.4,-0.5 3.3,-0.5 3.4,-0.5 3.4,-0.4 3.3,-0.5 1.7,-0.2 0.8,0.4 0.9,0.5 0.8,0.4 0.9,0.4 0.8,0.4 0.8,0.3 0.9,0.4 0.8,0.3 0.9,0.3 0.8,0.3 3.4,1.1 3.3,1 3.4,0.8 3.3,0.7 3.4,0.6 3.4,0.5 3.3,0.4 3.4,0.4 3.3,0.3 3.4,0.3 3.4,0.2 3.3,0.2 3.4,0.1 3.3,0.2 3.4,0.1 3.4,0.1 3.3,0.1 3.4,0.1 3.3,0 3.4,0.1 3.4,0 3.3,0.1 3.4,0 3.3,0 3.4,0.1 3.4,0 3.3,0" fill="none" stroke="#c8c8c8" stroke-width="2.4" />
<path d="M1482.6,2429l0.4,-0.3 0.4,-0.3 0.5,-0.3 0.4,-0.4 0.4,-0.3 0.4,-0.3 0.4,-0.2 0.5,-0.3 0.4,-0.3 0.4,-0.3 0.4,-0.3 0.4,-0.2 0.9,-0.6 0.8,-0.5 0.9,-0.5 0.8,-0.5 0.8,-0.5 0.9,-0.4 0.8,-0.5 0.9,-0.4 0.8,-0.4 0.8,-0.5 0.9,-0.4 0.8,-0.4 0.9,-0.4 0.8,-0.3 1.7,-0.8 1.7,-0.7 1.6,-0.6 1.7,-0.7 1.7,-0.6 1.7,-0.6 1.7,-0.6 1.6,-0.5 1.7,-0.6 1.7,-0.5 1.7,-0.5 1.7,-0.5 1.6,-0.4 1.7,-0.5 1.7,-0.5 3.4,-0.8 3.3,-0.8 3.4,-0.8 3.3,-0.7 3.4,-0.7 3.4,-0.7 3.3,-0.7 3.4,-0.6 3.3,-0.6 3.4,-0.6 3.4,-0.5 3.3,-0.6 3.4,-0.5 3.3,-0.5 3.4,-0.5 3.4,-0.4 3.3,-0.5 1.7,-0.2 0.8,0.4 0.9,0.5 0.8,0.4 0.9,0.4 0.8,0.4 0.8,0.3 0.9,0.4 0.8,0.3 0.9,0.3 0.8,0.3 3.4,1.1 3.3,1 3.4,0.8 3.3,0.7 3.4,0.6 3.4,0.5 3.3,0.4 3.4,0.4 3.3,0.3 3.4,0.3 3.4,0.2 3.3,0.2 3.4,0.1 3.3,0.2 3.4,0.1 3.4,0.1 3.3,0.1 3.4,0.1 3.3,0 3.4,0.1 3.4,0 3.3,0.1 3.4,0 3.3,0 3.4,0.1 3.4,0 3.3,0" fill="none" stroke="#504b93" stroke-width="1.3" />
<path d="M1482.6,2429l0.4,-0.1 0.4,-0.2 0.5,-0.1 0.4,-0.1 0.4,-0.1 0.4,-0.1 0.4,-0.2 0.5,-0.1 0.4,-0.1 0.4,-0.1 0.4,-0.1 0.4,-0.1 0.9,-0.2 0.8,-0.2 0.9,-0.2 0.8,-0.2 0.8,-0.2 0.9,-0.2 0.8,-0.2 0.9,-0.1 0.8,-0.2 0.8,-0.2 0.9,-0.1 0.8,-0.2 0.9,-0.1 0.8,-0.2 1.7,-0.3 1.7,-0.2 1.6,-0.3 1.7,-0.2 1.7,-0.3 1.7,-0.2 1.7,-0.2 1.6,-0.2 1.7,-0.2 1.7,-0.2 1.7,-0.1 1.7,-0.2 1.6,-0.2 1.7,-0.1 1.7,-0.2 3.4,-0.3 3.3,-0.3 3.4,-0.2 3.3,-0.3 3.4,-0.2 3.4,-0.2 3.3,-0.2 3.4,-0.2 3.3,-0.2 3.4,-0.2 3.4,-0.2 3.3,-0.2 3.4,-0.1 3.3,-0.2 3.4,-0.1 3.4,-0.1 3.3,-0.2 1.7,0 0.8,0.2 0.9,0.3 0.8,0.2 0.9,0.3 0.8,0.2 0.8,0.2 0.9,0.2 0.8,0.2 0.9,0.2 0.8,0.2 3.4,0.7 3.3,0.5 3.4,0.5 3.3,0.4 3.4,0.4 3.4,0.3 3.3,0.2 3.4,0.3 3.3,0.2 3.4,0.1 3.4,0.1 3.3,0.2 3.4,0.1 3.3,0 3.4,0.1 3.4,0.1 3.3,0 3.4,0.1 3.3,0 3.4,0 3.4,0.1 3.3,0 3.4,0 3.3,0 3.4,0 3.4,0.1 3.3,0" fill="none" stroke="#c8c8c8" stroke-width="2.4" />
<path d="M1482.6,2429l0.4,-0.1 0.4,-0.2 0.5,-0.1 0.4,-0.1 0.4,-0.1 0.4,-0.1 0.4,-0.2 0.5,-0.1 0.4,-0.1 0.4,-0.1 0.4,-0.1 0.4,-0.1 0.9,-0.2 0.8,-0.2 0.9,-0.2 0.8,-0.2 0.8,-0.2 0.9,-0.2 0.8,-0.2 0.9,-0.1 0.8,-0.2 0.8,-0.2 0.9,-0.1 0.8,-0.2 0.9,-0.1 0.8,-0.2 1.7,-0.3 1.7,-0.2 1.6,-0.3 1.7,-0.2 1.7,-0.3 1.7,-0.2 1.7,-0.2 1.6,-0.2 1.7,-0.2 1.7,-0.2 1.7,-0.1 1.7,-0.2 1.6,-0.2 1.7,-0.1 1.7,-0.2 3.4,-0.3 3.3,-0.3 3.4,-0.2 3.3,-0.3 3.4,-0.2 3.4,-0.2 3.3,-0.2 3.4,-0.2 3.3,-0.2 3.4,-0.2 3.4,-0.2 3.3,-0.2 3.4,-0.1 3.3,-0.2 3.4,-0.1 3.4,-0.1 3.3,-0.2 1.7,0 0.8,0.2 0.9,0.3 0.8,0.2 0.9,0.3 0.8,0.2 0.8,0.2 0.9,0.2 0.8,0.2 0.9,0.2 0.8,0.2 3.4,0.7 3.3,0.5 3.4,0.5 3.3,0.4 3.4,0.4 3.4,0.3 3.3,0.2 3.4,0.3 3.3,0.2 3.4,0.1 3.4,0.1 3.3,0.2 3.4,0.1 3.3,0 3.4,0.1 3.4,0.1 3.3,0 3.4,0.1 3.3,0 3.4,0 3.4,0.1 3.3,0 3.4,0 3.3,0 3.4,0 3.4,0.1 3.3,0" fill="none" stroke="#3d4fa0" stroke-width="1.3" />
</svg></body></html>
